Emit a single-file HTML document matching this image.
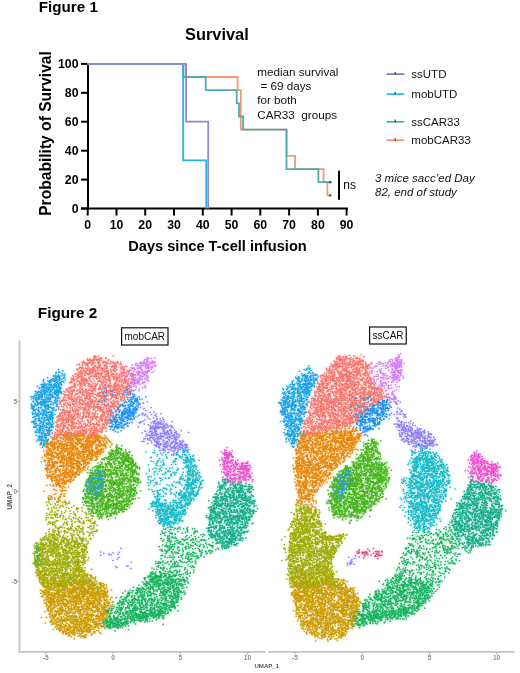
<!DOCTYPE html>
<html><head><meta charset="utf-8"><title>Figure</title>
<style>
html,body{margin:0;padding:0;background:#fff;}
body{width:520px;height:673px;overflow:hidden;position:relative;}
svg{position:absolute;left:0;top:0;display:block;}
</style></head>
<body>
<svg width="520" height="673" viewBox="0 0 520 673">
<g stroke="#000" stroke-width="2" fill="none">
<path d="M88 63.6V209.5M81 208.5H348"/>
<path d="M81 208.5H88"/>
<path d="M81 179.6H88"/>
<path d="M81 150.7H88"/>
<path d="M81 121.7H88"/>
<path d="M81 92.8H88"/>
<path d="M81 63.9H88"/>
<path d="M87.7 208.5V215.5"/>
<path d="M116.5 208.5V215.5"/>
<path d="M145.2 208.5V215.5"/>
<path d="M174.0 208.5V215.5"/>
<path d="M202.8 208.5V215.5"/>
<path d="M231.6 208.5V215.5"/>
<path d="M260.3 208.5V215.5"/>
<path d="M289.1 208.5V215.5"/>
<path d="M317.9 208.5V215.5"/>
<path d="M346.6 208.5V215.5"/>
</g>
<g font-family='"Liberation Sans", Arial, Helvetica, sans-serif' font-weight="bold" font-size="12.3" fill="#000">
<text x="78.5" y="212.6" text-anchor="end">0</text>
<text x="78.5" y="183.7" text-anchor="end">20</text>
<text x="78.5" y="154.8" text-anchor="end">40</text>
<text x="78.5" y="125.8" text-anchor="end">60</text>
<text x="78.5" y="96.9" text-anchor="end">80</text>
<text x="78.5" y="68.0" text-anchor="end">100</text>
<text x="87.7" y="229" text-anchor="middle">0</text>
<text x="116.5" y="229" text-anchor="middle">10</text>
<text x="145.2" y="229" text-anchor="middle">20</text>
<text x="174.0" y="229" text-anchor="middle">30</text>
<text x="202.8" y="229" text-anchor="middle">40</text>
<text x="231.6" y="229" text-anchor="middle">50</text>
<text x="260.3" y="229" text-anchor="middle">60</text>
<text x="289.1" y="229" text-anchor="middle">70</text>
<text x="317.9" y="229" text-anchor="middle">80</text>
<text x="346.6" y="229" text-anchor="middle">90</text>
</g>
<g fill="none" stroke-width="1.8" stroke-linejoin="miter">
<path stroke="#f39a72" d="M87.7 63.9H185.5V77.0H237.6V90.2H240.8V129.6H286.5V155.9H295.1V169.1H323.6V182.2H327.4V195.4H330.2"/>
<path stroke="#4eaeae" d="M87.7 63.9H183.2V77.0H205.7V90.2H236.7V103.3H239.0V116.5H243.1V129.6H286.5V169.1H318.4V182.2H330.2"/>
<path stroke="#22b4ea" d="M87.7 63.9H183.2V160.3H206.2V208.5"/>
<path stroke="#9b84cc" d="M87.7 63.9H186.1V121.7H208.2V208.5"/>
</g>
<circle cx="330.2" cy="182.2" r="1.3" fill="#1d5a6a"/>
<circle cx="330.2" cy="195.4" r="1.3" fill="#a0502a"/>
<path d="M339 170.7V199.7" stroke="#000" stroke-width="2"/>
<text x="343.3" y="188.5" font-family='"Liberation Sans", Arial, Helvetica, sans-serif' font-size="12" fill="#000">ns</text>
<text x="38.8" y="12.4" font-family='"Liberation Sans", Arial, Helvetica, sans-serif' font-weight="bold" font-size="15.2">Figure 1</text>
<text x="185" y="40.4" font-family='"Liberation Sans", Arial, Helvetica, sans-serif' font-weight="bold" font-size="16.4">Survival</text>
<text transform="translate(50.6 215.8) rotate(-90)" font-family='"Liberation Sans", Arial, Helvetica, sans-serif' font-weight="bold" font-size="15.6">Probability of Survival</text>
<text x="128.3" y="251.3" font-family='"Liberation Sans", Arial, Helvetica, sans-serif' font-weight="bold" font-size="14.6">Days since T-cell infusion</text>
<g font-family='"Liberation Sans", Arial, Helvetica, sans-serif' font-size="11.7" fill="#111">
<text x="257.2" y="75.8" xml:space="preserve">median survival</text>
<text x="257.2" y="90.1" xml:space="preserve"> = 69 days</text>
<text x="257.2" y="104.4" xml:space="preserve">for both</text>
<text x="257.2" y="118.7" xml:space="preserve">CAR33  groups</text>
</g>
<path d="M386.6 74.1H404.4" stroke="#7a6aa8" stroke-width="1.6"/>
<path d="M395.2 71.89999999999999V74.6" stroke="#3a2a6a" stroke-width="1.2"/>
<text x="411.3" y="77.9" font-family='"Liberation Sans", Arial, Helvetica, sans-serif' font-size="11.5" fill="#111">ssUTD</text>
<path d="M386.6 94.1H404.4" stroke="#22b4ea" stroke-width="1.6"/>
<path d="M395.2 91.89999999999999V94.6" stroke="#0a4a7a" stroke-width="1.2"/>
<text x="411.3" y="97.9" font-family='"Liberation Sans", Arial, Helvetica, sans-serif' font-size="11.5" fill="#111">mobUTD</text>
<path d="M386.6 121.8H404.4" stroke="#4aa8a8" stroke-width="1.6"/>
<path d="M395.2 119.6V122.3" stroke="#1a4a4a" stroke-width="1.2"/>
<text x="411.3" y="125.6" font-family='"Liberation Sans", Arial, Helvetica, sans-serif' font-size="11.5" fill="#111">ssCAR33</text>
<path d="M386.6 140.2H404.4" stroke="#f09068" stroke-width="1.6"/>
<path d="M395.2 138.0V140.7" stroke="#7a3010" stroke-width="1.2"/>
<text x="411.3" y="144.0" font-family='"Liberation Sans", Arial, Helvetica, sans-serif' font-size="11.5" fill="#111">mobCAR33</text>
<g font-family='"Liberation Sans", Arial, Helvetica, sans-serif' font-style="italic" font-size="11.5" fill="#111">
<text x="375" y="181.6">3 mice sacc’ed Day</text>
<text x="375" y="196.2">82, end of study</text>
</g>
<filter id="bl" x="-5%" y="-5%" width="110%" height="110%"><feGaussianBlur stdDeviation="0.45"/></filter>
<filter id="hz" x="-5%" y="-5%" width="110%" height="110%"><feGaussianBlur stdDeviation="1.6"/></filter>
<defs><g id="dots" fill="none" stroke-linecap="round" stroke-width="6.80" transform="scale(0.25)">
<path stroke="#16b35e" d="M1799 2089h0m-1 20h0m-1145-5h0m67 12h0m977 7h0m84 12h0m-37 0h0m-1065-1h0m-31-10h0m162 23h0m8-7h0m858 8h0m37-6h0m38 0h0m39-6h0m18 10h0m19 8h0m-14 1h0m-2 2h0m-16 2h0m-6-2h0m-96-8h0m-1 2h0m-12 0h0m-885-2h0m-93 4h0m-11-4h0m-17 11h0m-2-7h0m-1 0h0m51 13h0m93-6h0m1021 7h0m16 11h0m-26 0h0m-74 0h0m-22-5h0m-13 2h0m-7-2h0m-61 8h0m-7-1h0m-819-8h0m-41 3h0m-83-1h0m-552 20h0m0 2h0m513-11h0m1-1h0m10 6h0m14 2h0m25 3h0m34-3h0m2 2h0m71-8h0m12 4h0m867 5h0m36-5h0m14 5h0m30-4h0m17 0h0m67 2h0m-55 15h0m-24-9h0m-134-1h0m-800 5h0m-12 1h0m-38-6h0m-79 2h0m-68 5h0m-2-7h0m-493-1h0m-6 9h0m518 5h0m43 0h0m68 2h0m51-1h0m784 2h0m13 3h0m19-6h0m24 6h0m0-7h0m2 4h0m26 5h0m53-9h0m37-2h0m54 7h0m32-3h0m-133 9h0m-19 1h0m-52 2h0m-50-3h0m-814 0h0m-2 3h0m-12 3h0m-47-3h0m-29 5h0m-35-7h0m0 7h0m-20-1h0m0-3h0m-9-4h0m-496 0h0m-6 4h0m542 11h0m29 5h0m899 1h0m72-10h0m67 2h0m51 9h0m29-1h0m-25 13h0m0-3h0m-11 1h0m-21-7h0m-50 7h0m-21-5h0m-976 2h0m-33 3h0m-10 2h0m-555-2h0m18 4h0m475 8h0m54 2h0m86-4h0m934-7h0m41 0h0m36 16h0m-22 1h0m-16 1h0m-19 4h0m-8-6h0m-17-1h0m-22-3h0m-54 3h0m-1 8h0m-11 0h0m-13-8h0m-942-2h0m-9 3h0m-3 1h0m-9-4h0m-26 3h0m15 16h0m61 1h0m18-8h0m16 4h0m31 2h0m837-4h0m18 4h0m4 5h0m11-7h0m21 2h0m8-6h0m70 0h0m14 19h0m-115 3h0m-37-1h0m-847-6h0m-32 8h0m-43-10h0m0 1h0m-14 8h0m-5 1h0m-36-10h0m-3 9h0m10 8h0m1 2h0m2-1h0m9-4h0m6-3h0m11 0h0m6 2h0m76-2h0m860 0h0m10 4h0m5-4h0m67 6h0m40-5h0m-9 20h0m-32-10h0m-17 7h0m-33 4h0m-13-6h0m-7 4h0m-8-3h0m-846 2h0m0 4h0m0-6h0m-1-1h0m-13 2h0m-10 4h0m-16-1h0m-1-8h0m-28 0h0m-17 6h0m-16 0h0m-4-7h0m-4 4h0m-4 4h0m-14-2h0m-34 13h0m1 0h0m25 1h0m18 0h0m20 1h0m24-8h0m38 1h0m851 7h0m0-4h0m20-3h0m32 7h0m15-1h0m1-6h0m32 0h0m4 2h0m21-4h0m3 6h0m25-2h0m8 16h0m-3-1h0m-16-3h0m-4-4h0m-30 4h0m-45-2h0m-6 0h0m0-2h0m-1 3h0m-49 2h0m-6 2h0m-2 2h0m0-5h0m-805 3h0m-15-5h0m-38 2h0m0 4h0m-22-7h0m-35 4h0m-9 1h0m-5-2h0m-9 4h0m-2-9h0m-3 12h0m-20-10h0m-39 10h0m-4 9h0m6-9h0m28 5h0m30 0h0m107 3h0m796 0h0m16-3h0m13-4h0m9 0h0m7 10h0m44-10h0m64 10h0m12-10h0m8 7h0m1 2h0m26-9h0m10 10h0m26-5h0m-19 7h0m-12 4h0m-7 0h0m-24 1h0m-34-1h0m-22 1h0m-16-1h0m-4 5h0m-2-7h0m-3-2h0m-33 1h0m-28 9h0m-2-2h0m-13-7h0m-14 0h0m-15 1h0m-834-1h0m-10-2h0m-2 9h0m-2-2h0m-5-1h0m-33-6h0m-18 2h0m-50 5h0m-6 2h0m-21-3h0m42 13h0m16-1h0m12-6h0m1 8h0m53-2h0m8 1h0m33 2h0m12-6h0m41-2h0m774 7h0m37-7h0m57 9h0m11-4h0m1-1h0m14 2h0m13-3h0m1-3h0m70 17h0m-8 1h0m-21 4h0m-17 0h0m-5-11h0m-21 4h0m-5-2h0m-57 10h0m-15-6h0m-45-1h0m-3 2h0m-20-1h0m-2-6h0m-787 1h0m-3 0h0m-11 3h0m-6 1h0m-4 5h0m-23 1h0m-12-1h0m-12 0h0m-32 0h0m-11 0h0m-26-8h0m-30 6h0m-42-7h0m-19 13h0m49 5h0m12 3h0m39-7h0m27 8h0m28-1h0m13-8h0m19 0h0m25 4h0m6 4h0m3 1h0m7-2h0m752-9h0m3 12h0m14-3h0m2 0h0m33-7h0m34 3h0m20 4h0m37-7h0m20-1h0m4 6h0m29 3h0m7-2h0m2-1h0m5 4h0m29-7h0m-14 11h0m-13 6h0m-1-7h0m-36 8h0m-1-1h0m-27-4h0m0 6h0m-15-7h0m-2-1h0m-5-1h0m-26 2h0m-19 3h0m0-3h0m-5 1h0m-12 1h0m-29-2h0m-27 5h0m-754 2h0m-17-10h0m-1 10h0m-6-5h0m0-4h0m-2-1h0m-32 1h0m-5 0h0m-40 9h0m-5-6h0m-18-1h0m-19-1h0m-37-3h0m-39 5h0m-21-1h0m-1 13h0m7 4h0m13 1h0m28-7h0m17 6h0m4 1h0m2-8h0m10 5h0m13-4h0m8 3h0m8 5h0m25-4h0m31-3h0m43 1h0m2-2h0m772-2h0m12 7h0m9-7h0m57 8h0m61-5h0m13 7h0m0-8h0m9 4h0m22 1h0m5-5h0m4 4h0m4-6h0m10 9h0m11-4h0m4-2h0m2 9h0m-5 6h0m-5 1h0m-15-7h0m-16 5h0m-11-3h0m-59 4h0m-57 5h0m-1-4h0m-2 3h0m-4-6h0m-6 6h0m-19-3h0m-791-2h0m-6-5h0m-30 3h0m-5 4h0m-13-4h0m-25 6h0m-44-9h0m-20 11h0m-6-7h0m-2 5h0m-52-7h0m-15-2h0m-23 19h0m15-5h0m20 5h0m2-6h0m1 2h0m21 1h0m6-2h0m4 2h0m21 0h0m19 4h0m3 1h0m4-1h0m4 3h0m8-9h0m1 6h0m30-9h0m24 10h0m10-7h0m1 8h0m6-9h0m5 3h0m783-2h0m3 8h0m19-1h0m20 1h0m5-2h0m11-7h0m16 9h0m22-5h0m7-5h0m4 11h0m8-8h0m7 5h0m7 0h0m10-8h0m0-1h0m2 11h0m0-5h0m4-5h0m19 1h0m19 10h0m8-8h0m2 7h0m15-8h0m6-1h0m7 5h0m-58 10h0m-18 2h0m-20-5h0m-6 7h0m-25 3h0m-15-4h0m-4-6h0m-2 1h0m-4 7h0m-15-3h0m-2-3h0m-3-1h0m-12 8h0m-7-9h0m-4-1h0m-4 8h0m-6-5h0m-5-3h0m-21 5h0m-11 5h0m-761 0h0m-13-7h0m-2 2h0m-3-5h0m-4-1h0m-2 4h0m-11-1h0m-27 7h0m-14 1h0m-2-2h0m-1 1h0m-18-8h0m-7 5h0m-3-4h0m-15 3h0m-42 1h0m-14 0h0m-32-2h0m-16 16h0m36-2h0m24 1h0m14-2h0m4-2h0m17-4h0m9 9h0m2-3h0m3 0h0m54-2h0m23 8h0m17-5h0m2-7h0m790 6h0m2 4h0m15-1h0m7-5h0m8-4h0m0 1h0m2 10h0m5-5h0m1 3h0m15-8h0m1 1h0m0 5h0m0 0h0m4-1h0m22-4h0m7-1h0m3-1h0m16 9h0m58-5h0m18-1h0m-111 12h0m-37 4h0m-5-3h0m-2-1h0m-20-1h0m-6-2h0m-884 6h0m-32 1h0m-22 1h0m-32-3h0m-4 4h0m-1-7h0m-3 3h0m-1-2h0m-1 5h0m-2 4h0m-4-10h0m-4 5h0m-2-5h0m0-1h0m-13 8h0m10 9h0m16 2h0m23-5h0m8-3h0m21 6h0m16-6h0m932 4h0m-4 11h0m-948-1h0m-18 0h0m-5-1h0m-7 15h0"/>
<path stroke="#14ad88" d="M1884 1918h0m-981 1h0m-5-2h0m0 2h0m-7-1h0m6 12h0m1 0h0m25-6h0m974 3h0m38 13h0m-6-4h0m-3 5h0m-13-8h0m-908 11h0m-6-6h0m-15-4h0m-25 5h0m-5-5h0m-12 7h0m-2 0h0m-36-1h0m-8-3h0m-18 3h0m22 14h0m53 0h0m8 2h0m9-3h0m24-7h0m5 1h0m875 6h0m12 2h0m19-6h0m0 6h0m10-5h0m14-4h0m6 5h0m12-3h0m14-3h0m28 16h0m-14 0h0m-20 4h0m-30 2h0m-922 0h0m-43-4h0m-7 0h0m-3 4h0m-22-1h0m-19 2h0m-4 0h0m-1-9h0m-6 13h0m0 5h0m25 2h0m15 0h0m9-9h0m9 7h0m25 3h0m890-1h0m5-4h0m19-2h0m5-1h0m21 6h0m13 0h0m4-6h0m4 2h0m6-3h0m11 1h0m23 4h0m4 16h0m-14 0h0m-7-12h0m-12 12h0m-20-9h0m-33-2h0m-5 4h0m-20 4h0m-6 2h0m-13-5h0m-891 4h0m-1-7h0m-5 1h0m-3 7h0m-26-9h0m-3 8h0m-9 0h0m-34-2h0m-1 1h0m-10-8h0m-8 17h0m21-5h0m4 8h0m2-2h0m3-5h0m7 2h0m42-3h0m3 4h0m1-4h0m30 8h0m7 1h0m2 0h0m5-9h0m876 1h0m6 2h0m17-1h0m16-2h0m1 3h0m8 4h0m1-4h0m23 7h0m22-7h0m2-2h0m21 10h0m-74 11h0m-6 0h0m-4-11h0m-12 2h0m-62 5h0m-830-4h0m-12 1h0m-33 5h0m-2-4h0m-5 2h0m-18 1h0m-3 4h0m-5-5h0m-7 4h0m-41 3h0m6 6h0m3-6h0m7 10h0m22-5h0m9 1h0m6 0h0m3-1h0m9 5h0m9-12h0m8 9h0m12 3h0m12-3h0m14-5h0m885 3h0m4-6h0m2 2h0m3 1h0m21 8h0m20-9h0m5 2h0m7 0h0m45-3h0m14 7h0m9-4h0m-6 16h0m-28 2h0m-8-5h0m-33-6h0m-22 5h0m0 0h0m-12 2h0m-2 1h0m-27-2h0m-1-6h0m-8 5h0m-10-1h0m-1 0h0m0 2h0m-6 1h0m-841 5h0m-4-4h0m-23 2h0m-109-5h0m-12 6h0m-12-1h0m0 5h0m9-1h0m8 7h0m3 2h0m65-2h0m21-8h0m2 8h0m1-6h0m14 6h0m6-5h0m7 3h0m4 2h0m0 3h0m4-10h0m23 5h0m819 2h0m1-1h0m9 0h0m14 4h0m11-2h0m15 0h0m6 0h0m63-4h0m0-3h0m19 7h0m31-1h0m27-6h0m-32 13h0m-20 1h0m-12 3h0m-5 1h0m-14-1h0m-29-4h0m-24 0h0m-15 5h0m-7-4h0m-1 4h0m-20-4h0m-33 4h0m-828-7h0m-10 0h0m0 4h0m-12 1h0m-44-7h0m-9 3h0m-31 5h0m-11-1h0m-2-1h0m-25 9h0m3 1h0m2-2h0m10 6h0m24 0h0m13-3h0m5 3h0m23-7h0m1 5h0m4 2h0m10 2h0m3-7h0m5-3h0m8 3h0m2 9h0m2-11h0m18 7h0m10-2h0m1-4h0m840 7h0m8-8h0m27 7h0m42-1h0m15 1h0m30-7h0m4 5h0m49 0h0m-11 11h0m-42 5h0m-21 1h0m-44-11h0m-3 2h0m-6 4h0m-884 1h0m-1 5h0m-16-10h0m-13 5h0m-9-1h0m-19 5h0m-3-10h0m-12 1h0m0 4h0m-29-5h0m-10 11h0m-16-10h0m-8 5h0m-4-5h0m-7 1h0m-3 20h0m2-3h0m12-2h0m31-5h0m16 2h0m64 6h0m7 0h0m23-4h0m856-4h0m14 8h0m24 1h0m14 2h0m1-6h0m46-2h0m16-2h0m20 2h0m4 10h0m-28 9h0m-6-10h0m-20 1h0m-19 6h0m-7-1h0m-37 2h0m-12 1h0m0-6h0m-7-3h0m-8 9h0m-17-4h0m-13-4h0m-839 4h0m-22 4h0m-30-3h0m-4-5h0m-7 8h0m-21 1h0m-7-9h0m-45 8h0m-10 3h0m5 10h0m25-8h0m38-1h0m3-2h0m3 10h0m7 0h0m22 1h0m15-1h0m47 1h0m813-3h0m15-3h0m5 0h0m19 5h0m9-2h0m5-2h0m31-4h0m3-1h0m24 3h0m27 0h0m0-3h0m1 10h0m8 0h0m2-7h0m3 1h0m10 2h0m7-7h0m-1 24h0m-81-5h0m-18 3h0m-15-7h0m-3-2h0m-12 4h0m-4-2h0m-885 6h0m-1 2h0m-22-2h0m-13-9h0m-4 3h0m-3 5h0m-6 0h0m-59 11h0m6-2h0m13-3h0m7 8h0m1 2h0m16-2h0m7-5h0m32 5h0m0-8h0m6 7h0m2-7h0m21 4h0m885 3h0m10-6h0m8-1h0m19 8h0m15-5h0m42 5h0m24-3h0m8-6h0m-20 18h0m-7-3h0m-12 2h0m-29 4h0m-8-5h0m-17 1h0m-10 1h0m-928 0h0m-12-3h0m-8 6h0m-2 0h0m-26-8h0m-41 2h0m-3-3h0m23 17h0m31 2h0m24-1h0m1-5h0m946 2h0m6 5h0m1 2h0m9-6h0m1 7h0m41-11h0m23 4h0m5 4h0m-33 15h0m-7-2h0m-15 0h0m-977-3h0m-15-4h0m-8 8h0m-6 1h0m-33-10h0m49 15h0m972 6h0m25-9h0"/>
<path stroke="#16b9c8" d="M1689 1799h0m-1-3h0m-1016 14h0m976-2h0m104 14h0m-6-7h0m-34 1h0m-63 2h0m-875 3h0m-27 2h0m-16-5h0m-18 1h0m-83 0h0m-27 10h0m99 6h0m46-4h0m19 4h0m898-7h0m4-1h0m0 2h0m3 2h0m17 2h0m20-8h0m23 10h0m2-2h0m11-4h0m-9 17h0m-10-8h0m-1 9h0m-5-11h0m-9 8h0m-4-3h0m-13-2h0m-14 3h0m-3-2h0m-13 7h0m-24-4h0m-875 3h0m-19 2h0m-7-7h0m-105 0h0m21 18h0m83-7h0m15 7h0m920-1h0m42-8h0m6-1h0m7 11h0m1-10h0m42 7h0m-37 12h0m-2-7h0m-15 2h0m-6-1h0m-14-1h0m-4 2h0m-2 4h0m-24 3h0m-8-9h0m-878 0h0m-26 3h0m-3-2h0m-2 8h0m-60 0h0m-64-10h0m15 15h0m24-2h0m90 0h0m8 3h0m12 5h0m0-10h0m15 11h0m869 0h0m1-7h0m6 1h0m23 0h0m4 3h0m15-7h0m18 9h0m14-9h0m7 2h0m12 2h0m29 16h0m0 3h0m-21-8h0m-18 6h0m-4-8h0m-10 2h0m0 1h0m-16-4h0m-5 1h0m-4 0h0m-4-2h0m0 9h0m-4-1h0m-10 4h0m-12-3h0m-14-5h0m-878 5h0m-16-7h0m-2-1h0m-10 7h0m-55-1h0m-83-5h0m142 15h0m892-5h0m1 4h0m0 3h0m7 1h0m46-6h0m22 6h0m3 4h0m37-6h0m8 8h0m0 0h0m-27 1h0m-60 8h0m-3-11h0m-31 9h0m-10-7h0m-852 6h0m-38 2h0m-4-8h0m-4 9h0m-88-7h0m-69 6h0m9 10h0m26 2h0m119 1h0m23-9h0m6 9h0m2-10h0m10 10h0m13-1h0m849-6h0m39 8h0m15-11h0m28 0h0m13 1h0m2 8h0m18 1h0m24-7h0m10 0h0m-3 10h0m-9 6h0m-3 3h0m-17-7h0m-9 2h0m-5-2h0m-17-1h0m-20 2h0m-6 1h0m-14 0h0m-8 4h0m-39 1h0m-8-7h0m-9 2h0m-9-5h0m-838 9h0m-118-3h0m-28-3h0m-14 1h0m109 19h0m4-8h0m31 3h0m14-2h0m21 3h0m865 4h0m7-9h0m7-2h0m4 1h0m2-2h0m28 11h0m3-7h0m1-2h0m6 1h0m3 7h0m15 2h0m5-4h0m28 15h0m-47-8h0m-33 7h0m-13-8h0m-43 8h0m-868-1h0m-3-5h0m-156 16h0m80 0h0m11-7h0m10 10h0m20-7h0m2 1h0m3 5h0m17 0h0m19 0h0m10-6h0m890 3h0m5 2h0m10-6h0m13 8h0m57 0h0m21-2h0m-44 6h0m-4 8h0m-13-4h0m-6 2h0m-25-7h0m-23-2h0m-1 5h0m-1-4h0m-22 0h0m-22 8h0m-845-5h0m-3-4h0m-22 5h0m-14 0h0m-5-5h0m-4 6h0m-2-2h0m-1 0h0m-92 0h0m-15 3h0m38 13h0m45 2h0m31-7h0m30 3h0m919 4h0m4 2h0m24-8h0m30 0h0m0 0h0m2 6h0m61-6h0m-49 10h0m-1 10h0m-1-7h0m-9 5h0m-4-3h0m-35 1h0m-5 0h0m-12-7h0m-4 6h0m-41-7h0m-889 8h0m-11-3h0m-2 7h0m-22-6h0m-5 1h0m-6-2h0m-76-1h0m-13 3h0m-14 16h0m26-4h0m2 4h0m8-1h0m22 2h0m12-4h0m48-2h0m25-4h0m8 0h0m893 6h0m40-1h0m13 3h0m25-7h0m32 8h0m0-9h0m3 7h0m-2 3h0m-17 2h0m-41 8h0m-1-8h0m-13-2h0m-6 7h0m-8-6h0m-2 11h0m-2-3h0m-3 1h0m-11-6h0m-4 1h0m-925-1h0m-5-1h0m-27-2h0m-4 2h0m-24 6h0m-20-5h0m-17-4h0m-1 2h0m-18 13h0m17 9h0m9-5h0m12-7h0m11 8h0m2-7h0m8 2h0m8 9h0m1-7h0m12 5h0m12-9h0m2 1h0m2 9h0m9 0h0m5-3h0m19-8h0m893 5h0m2-3h0m12 2h0m19 5h0m16 1h0m17-7h0m11 5h0m16-3h0m23 5h0m2 4h0m-18 0h0m-13 10h0m-12-1h0m-6-3h0m0 0h0m-1-1h0m-7-1h0m-17 6h0m-10-2h0m-19-2h0m0 3h0m-908-4h0m-26 1h0m-17-7h0m-38 2h0m1 16h0m3 5h0m9-8h0m961 4h0m23-6h0m58 0h0m11-1h0m6 8h0m8-4h0m11 5h0m12 11h0m-25 0h0m-5-5h0m-34 4h0m-20-1h0m-9 1h0m-6-6h0m-5 6h0m-941-4h0m-15 1h0m-26 6h0m-2-8h0m-16 3h0m-5 4h0m-11-3h0m-2 11h0m22-4h0m7 8h0m7-2h0m3 3h0m2-8h0m4 0h0m8 5h0m1004-1h0m2 1h0m21 1h0m17-8h0m-44 20h0m-14-2h0m-1 2h0m-3-1h0m7 6h0m19 3h0"/>
<path stroke="#8d7ef2" d="M568 1596h0m1008-4h0m6-3h0m12 14h0m-37-3h0m-984 12h0m987-1h0m-998 19h0m1028 16h0m-974 2h0m-59 12h0m32 4h0m1030-1h0m-31 9h0m-947 3h0m-12 0h0m-49 4h0m52 8h0m985 15h0m-12-2h0m-9 1h0m-956-9h0m-14 3h0m-2 9h0m-23-2h0m14 14h0m8-4h0m18-4h0m4 2h0m2 1h0m10 5h0m7-6h0m12-6h0m10 6h0m930-4h0m11-1h0m17 4h0m3 4h0m-7 11h0m-4 0h0m-2-6h0m-19 5h0m-910 4h0m-20-2h0m0-3h0m-65-3h0m-1 5h0m-22 16h0m11-6h0m25 5h0m17-6h0m17-1h0m1-2h0m6 6h0m11-7h0m69 1h0m856 1h0m43 8h0m18-10h0m1 1h0m4 8h0m9-3h0m38 3h0m3-2h0m-2 14h0m-38-10h0m-17 11h0m-3-5h0m-968 2h0m-56-7h0m-9 5h0m-16-6h0m-12 9h0m-21-5h0m8 13h0m63 4h0m951-1h0m24-7h0m5 5h0m28-4h0m16 6h0m37 3h0m14 8h0m-9-1h0m-12 5h0m-8-11h0m-41 9h0m-41-6h0m-885-1h0m-29 6h0m-9-4h0m-12 5h0m-27 2h0m-22 0h0m-44-1h0m-16-9h0m53 14h0m6 6h0m23 1h0m5-10h0m3 5h0m0 5h0m14-2h0m19-1h0m31-2h0m8-1h0m6 6h0m913-2h0m32-4h0m13 3h0m3 2h0m15-4h0m31-1h0m-49 11h0m-13-2h0m-6 4h0m-954-2h0m-1-1h0m-15 3h0m-15-4h0m-37 0h0m-25 1h0m3 13h0m16-2h0m30-1h0m-201 393h0m-47 26h0m41-10h0m-14 57h0m60 8h0"/>
<path stroke="#d57cf2" d="M1597 1425h0m3 15h0m-2-12h0m-5 11h0m-3-8h0m-1001 18h0m21-5h0m946 2h0m35 4h0m25 3h0m-13 10h0m-7-6h0m-5-5h0m-12 8h0m-4-2h0m-3-6h0m-6 5h0m-6 7h0m-13-2h0m-955 2h0m-22-8h0m-42 17h0m32-5h0m3 1h0m27 1h0m5 1h0m13-1h0m3-5h0m979 4h0m17 11h0m-3 8h0m-13-5h0m-11 0h0m-11-5h0m-951 6h0m-63 3h0m-12 13h0m17-11h0m913 9h0m14-5h0m96 5h0m13-8h0m0 2h0m-3 9h0m0 6h0m-13 1h0m0-4h0m-4-1h0m-30 0h0m-23 7h0m-9-5h0m-952-1h0m-20 5h0m-11-7h0m-34 13h0m4 2h0m38 6h0m17-3h0m13-2h0m9-3h0m1035-2h0m-42 12h0m-29 6h0m-8-1h0m-51-3h0m-927 7h0m-7-2h0m-18-1h0m30 6h0m935 1h0m32 8h0m18-6h0m41 8h0m-20 3h0m-67 2h0m-922-5h0m-20 9h0m-31 2h0m-29 5h0m1048-3h0m32 2h0m-5 11h0m-21 17h0m27 16h0"/>
<path stroke="#ec52cd" d="M899 1802h0m7 10h0m17-1h0m6-8h0m984 20h0m-8-11h0m-8 8h0m-971 2h0m-3-5h0m-9 1h0m-9-1h0m-6 3h0m0-2h0m-3-4h0m11 19h0m2-7h0m1 6h0m1-1h0m6-7h0m10 2h0m5 1h0m958 5h0m38-6h0m7 16h0m-10 2h0m-13-4h0m0 1h0m-1 3h0m-5-5h0m-955 2h0m-8 4h0m-21 1h0m-5 0h0m-8 5h0m20-1h0m61 4h0m901-3h0m6-2h0m28 1h0m27 4h0m49 15h0m-12 2h0m-7-1h0m-25-2h0m-1-2h0m-14 3h0m-26-5h0m-914 6h0m-16-4h0m-1-3h0m-6 7h0m-13-6h0m-72-4h0m-2 16h0m16 7h0m11-4h0m3-3h0m2 8h0m14-1h0m17-5h0m18-1h0m0-1h0m1 0h0m11 7h0m915-11h0m1 4h0m16 7h0m11-6h0m18 2h0m2-4h0m9-3h0m14 8h0m1-3h0m1-1h0m7 3h0m1 3h0m12-1h0m-4 6h0m-47 7h0m-20-6h0m-42 5h0m-889 0h0m-5-5h0m-15-1h0m-3 7h0m-6-1h0m-5-6h0m-49 7h0m22 4h0m30 5h0m16-2h0m2-3h0m20 10h0m3-7h0m907-3h0m3 6h0m17-6h0m18 4h0m19 0h0m10 0h0m16 5h0m0 2h0m-25 9h0m-31-8h0m-42 0h0m-884 9h0m-52-9h0m-11 3h0m-11 2h0m-5 1h0m-3 1h0m-23-2h0m17 8h0m63-1h0m961-2h0m13 7h0m14-2h0"/>
<path stroke="#cc9b06" d="M324 2278h0m-129 8h0m38-3h0m13 7h0m56-8h0m14 0h0m1014 12h0m-19-1h0m-5 7h0m-91-6h0m-10 2h0m-841 5h0m-39-3h0m-10 2h0m-14 1h0m-52-6h0m-63 6h0m18 14h0m1006-3h0m64-7h0m99 16h0m-35 4h0m-16 2h0m-6-5h0m-25 3h0m-24-6h0m-71 0h0m-840 1h0m-17 5h0m-40-8h0m-31 2h0m-6 5h0m-19 9h0m3 1h0m24 5h0m26-6h0m13 6h0m13-2h0m36 1h0m9-5h0m11-5h0m27 4h0m792 0h0m18-2h0m41 5h0m6 3h0m1-4h0m1 2h0m28-2h0m6-2h0m10-4h0m20 11h0m0-2h0m25-1h0m7-7h0m11 0h0m1 3h0m46 19h0m-53-1h0m-4-10h0m-3 10h0m-3-8h0m-9 4h0m-1 4h0m-8-1h0m-11-9h0m-6 7h0m0 4h0m-5-2h0m-1-3h0m-19-5h0m-12 1h0m-11 5h0m-14 0h0m-4-3h0m-21-4h0m-7 3h0m-1-2h0m-8 3h0m-6 6h0m-14-9h0m-15-1h0m-6 3h0m-780 7h0m-6-2h0m-26-2h0m-3-1h0m-12 0h0m-15-4h0m-1 3h0m-2 1h0m-30 4h0m-8-1h0m-14-8h0m-10 7h0m-24-2h0m-6-1h0m-22 0h0m-18 5h0m-12-5h0m-7 3h0m-5-1h0m-14 15h0m24 2h0m41 1h0m23-1h0m10-6h0m23-2h0m6 3h0m11 2h0m23-4h0m6-3h0m8 0h0m17 9h0m28-9h0m10 8h0m14-5h0m1 7h0m7 0h0m3 0h0m3-9h0m775 3h0m72 5h0m1-6h0m7 0h0m13 7h0m47-3h0m66 2h0m0-5h0m30 16h0m-49-4h0m-18 4h0m-5-4h0m-1 3h0m-46 4h0m-10-12h0m-10 9h0m-7-7h0m-4 7h0m-4-8h0m-17 8h0m-28-6h0m-12-1h0m-20 2h0m-28 8h0m-742-7h0m-8-4h0m-2 8h0m-20-2h0m-6-2h0m-2 5h0m-1-6h0m-4 0h0m-6 6h0m-6 2h0m-1-1h0m-11-5h0m-12 1h0m-2-3h0m-16 4h0m-4-1h0m-23-4h0m-12 3h0m-3-5h0m-7 4h0m-2-4h0m-23 3h0m-15-3h0m-1 1h0m-10 0h0m-33 4h0m-19 5h0m-7-8h0m27 10h0m9 4h0m6 2h0m0 4h0m10-11h0m5 0h0m20 7h0m11 1h0m17 2h0m7-10h0m26 3h0m4-1h0m8-1h0m8 8h0m4-3h0m2 2h0m22-2h0m8-4h0m22 0h0m6 3h0m0-5h0m18 2h0m7 0h0m746 2h0m25-3h0m4 10h0m36-4h0m3-4h0m0 8h0m92 0h0m2-1h0m7-8h0m13 1h0m24-3h0m9 3h0m18 0h0m0 3h0m9 2h0m13-1h0m13 13h0m-4-2h0m-15-5h0m-14 1h0m-3-1h0m-12 2h0m-17 5h0m-4 1h0m-54-6h0m-16 1h0m-11 6h0m-12 0h0m0-6h0m-8-1h0m-7 1h0m-3 6h0m-5-4h0m-11 5h0m-9-1h0m-2-4h0m-17 5h0m-12-2h0m-1-2h0m-10 1h0m-1-8h0m-1 3h0m-2 3h0m-735-5h0m-35 0h0m-11 0h0m-1 9h0m-7 1h0m-11-7h0m-4 4h0m-28-6h0m-1 9h0m-5-3h0m-25 0h0m-10-7h0m-13 2h0m-38 8h0m-27-5h0m-38-4h0m-1 10h0m-1-9h0m-4 16h0m13 3h0m1-5h0m4 1h0m5 3h0m66-8h0m3 0h0m12 4h0m4 2h0m17-4h0m0 8h0m10-11h0m28 8h0m11 0h0m10-6h0m15-1h0m9 0h0m1 1h0m2 6h0m1 1h0m786-1h0m1-4h0m5-3h0m24 3h0m12 7h0m12-9h0m7 9h0m0-6h0m3 5h0m23-8h0m25 0h0m38 1h0m10 6h0m4 2h0m1 0h0m39-4h0m2-1h0m0 0h0m1-5h0m5 2h0m12 7h0m5-4h0m11 2h0m10 15h0m-8-3h0m-3-5h0m-35 8h0m-2-7h0m-2-2h0m-41 4h0m-2 5h0m-1-3h0m-6-5h0m-36 4h0m-2 0h0m-11-5h0m-28 3h0m-3-1h0m-8 1h0m-21-2h0m-23-2h0m-16 11h0m-4-2h0m-751 0h0m-4-8h0m-29 1h0m-4 0h0m0 3h0m-45-5h0m-44 3h0m-1-1h0m-24 1h0m-17-1h0m-10 7h0m-16-2h0m-17-1h0m-18 1h0m-2-8h0m-8 16h0m21 7h0m9-9h0m74 10h0m1-5h0m11-3h0m16-2h0m47 3h0m3-4h0m17 5h0m12 2h0m40 0h0m747 0h0m5-2h0m19 5h0m16-6h0m16 5h0m12-3h0m22 2h0m1-4h0m2 2h0m35 0h0m15-4h0m2 3h0m17-4h0m17-2h0m1 9h0m5-3h0m17 5h0m12-10h0m15 1h0m4 8h0m1-6h0m-3 18h0m-8-3h0m-8-4h0m-24 6h0m-7-5h0m-6-2h0m0 7h0m-4-4h0m-1 0h0m-21-4h0m-21 6h0m-12 0h0m-10-2h0m-4 3h0m-8-4h0m-11 7h0m-5-6h0m-3 5h0m-12-2h0m-35-4h0m-50 3h0m-746-1h0m-3 3h0m0-6h0m-8 7h0m-19-10h0m-1 9h0m-7-6h0m-13 7h0m-5-5h0m-9 6h0m-20-2h0m-8 2h0m-12-7h0m-9 2h0m-15-6h0m-19 9h0m-19-1h0m-23-7h0m-27-1h0m-30 10h0m65 5h0m14 8h0m10-2h0m52-2h0m12 4h0m11-2h0m5-4h0m8 6h0m4-1h0m5 1h0m9 0h0m41-7h0m19 2h0m767-3h0m7-1h0m15 4h0m49 2h0m7-3h0m4 3h0m11 1h0m4-3h0m31 0h0m36-2h0m50-1h0m1 8h0m9-10h0m0 13h0m-12 0h0m-51 7h0m-13-4h0m-4 5h0m-18-5h0m-25 3h0m-12 1h0m-13-5h0m-10 4h0m-12-7h0m-9 0h0m-11 2h0m-4 0h0m-32 2h0m-15 0h0m-801 0h0m-20-2h0m-22 7h0m-36 1h0m-6-7h0m-2 5h0m-1-8h0m-1 8h0m-19-5h0m-19 8h0m-36-12h0m-36 9h0m60 13h0m4-6h0m6 8h0m10-5h0m10-3h0m6-4h0m27 11h0m15-9h0m0 7h0m20 0h0m4-7h0m5 9h0m7-2h0m13-3h0m23 5h0m11-3h0m848-1h0m7-1h0m8 2h0m13-2h0m3 3h0m25 2h0m8-10h0m7 7h0m18-8h0m9 5h0m7 6h0m21-7h0m20 3h0m12-3h0m2 8h0m5 10h0m-57-5h0m-6 3h0m-2 0h0m-12-2h0m-1 3h0m-18 3h0m-13-7h0m-33 0h0m-40 0h0m-13-1h0m-7 4h0m-2 3h0m-2-9h0m-831 2h0m-33 3h0m-12 2h0m0 0h0m-8 1h0m-7-7h0m-15 5h0m-23-1h0m-19-1h0m-23 5h0m-8-7h0m-2-1h0m0 11h0m7 6h0m4-3h0m8 5h0m8-3h0m7 2h0m44-5h0m6-1h0m1 6h0m5-8h0m1 2h0m26 1h0m4-1h0m26 5h0m54-5h0m777 2h0m9-3h0m2 2h0m17 4h0m4 2h0m12-5h0m7 1h0m24 5h0m12-5h0m3-2h0m3 2h0m4-2h0m13 2h0m42-3h0m10 1h0m6-3h0m5 4h0m12-5h0m11 4h0m2 14h0m-5-4h0m-23 0h0m-6 2h0m-3 5h0m-3 2h0m-4-5h0m-33-3h0m0 5h0m-5-2h0m-60 3h0m-26 0h0m-879-7h0m-8 3h0m-2-3h0m-35-1h0m-6 8h0m-3-6h0m-4-2h0m-8 1h0m-3 8h0m-5-10h0m-13 4h0m-32-1h0m-8 5h0m-21 2h0m25 5h0m32-2h0m11 1h0m12 1h0m13 4h0m87-4h0m863 4h0m12 2h0m3 1h0m20-7h0m23 5h0m30-1h0m9 3h0m5-4h0m27-1h0m-12 13h0m-5-6h0m-28 3h0m-7 0h0m-9 6h0m-25-2h0m-1 1h0m-2-2h0m0 3h0m-2-1h0m-35-1h0m-14-5h0m-906 7h0m-18 0h0m-2-5h0m-10-2h0m-37 9h0m-10-8h0m21 11h0m988 2h0m16-1h0m37 1h0m25 14h0"/>
<path stroke="#9dac08" d="M189 2021h0m43-1h0m17 0h0m47 3h0m892-4h0m27 6h0m51 12h0m-21 2h0m-2-6h0m-19-3h0m-23 4h0m-873-3h0m-110 1h0m111 12h0m889 7h0m45-2h0m14-9h0m-15 15h0m-39 0h0m-14 1h0m-864-3h0m-42 9h0m-2-4h0m-54-4h0m-19 1h0m-9 5h0m12 9h0m46-4h0m75 6h0m824 2h0m30 1h0m6-4h0m4-6h0m1 7h0m12-3h0m2 1h0m40 0h0m5 14h0m-37-5h0m-11 4h0m0-4h0m0 5h0m-5 0h0m-3 2h0m-9-6h0m-38 8h0m-839-3h0m-46 0h0m-3-7h0m-24 1h0m-37 6h0m-12 14h0m4-1h0m4-7h0m114 5h0m829 0h0m25-2h0m9 2h0m3 4h0m17-6h0m4-4h0m2 5h0m7 2h0m4 1h0m3-4h0m16 6h0m9 1h0m-19 2h0m-17 3h0m-850-3h0m-45 7h0m-13-4h0m-74 1h0m-21 2h0m46 6h0m4 5h0m10-5h0m4 2h0m25 6h0m20-8h0m38 2h0m17 6h0m790-4h0m2 0h0m43-6h0m9 11h0m23-3h0m2 2h0m117 14h0m-69-6h0m-83-5h0m-7 1h0m-3-1h0m-9 8h0m-18-1h0m-3 4h0m-813-9h0m-35 6h0m-74-1h0m-1-6h0m-43 5h0m-2-2h0m15 9h0m26 4h0m16 4h0m898-7h0m2 1h0m1-1h0m9 4h0m18-5h0m3 3h0m5-5h0m12 9h0m9 2h0m22-10h0m31 11h0m30-1h0m10 0h0m20-2h0m17 1h0m17-7h0m-39 16h0m-5 5h0m-6-2h0m-8 1h0m-4 1h0m-9-10h0m-12 4h0m-2 2h0m-2-8h0m-18 8h0m-8 1h0m-18-6h0m-12 5h0m-2-5h0m-3-3h0m-16 10h0m-5 2h0m-4-1h0m-5-11h0m-10 11h0m-23-3h0m-37 3h0m-804-7h0m-56 3h0m-18 1h0m-16-4h0m-3-3h0m-19 0h0m-1 0h0m-15-1h0m-22 4h0m26 15h0m35 2h0m36 0h0m4-2h0m1-2h0m2 6h0m2 0h0m22-8h0m33 0h0m825 4h0m8 2h0m8-8h0m28 4h0m5 3h0m6 2h0m7 0h0m44-4h0m3 2h0m7-2h0m4 4h0m2-5h0m38 5h0m38-6h0m-2 9h0m-4 11h0m-18-10h0m-23 8h0m-6-2h0m-5-2h0m-58 3h0m-10-6h0m-6 3h0m-20 1h0m-3 4h0m-15 1h0m-2-3h0m-7-5h0m-8 3h0m-8 2h0m-809-8h0m-14 11h0m-16-5h0m-1-4h0m-23 3h0m-12 4h0m-23-5h0m-17 0h0m-18 0h0m-4 3h0m-8-6h0m-2 6h0m-15 0h0m-44-2h0m1 15h0m11 1h0m48-8h0m11 6h0m23 1h0m53-6h0m35-2h0m5 2h0m823 9h0m9-11h0m23 11h0m3-11h0m3 10h0m9 0h0m3-9h0m24-2h0m48 5h0m2-2h0m13 7h0m1-6h0m5 6h0m25-8h0m2-1h0m-9 23h0m-15-5h0m-11 1h0m0 0h0m-11-4h0m-2 6h0m-4-1h0m-2-1h0m-1 2h0m-1-1h0m-11 1h0m-16 0h0m-19 0h0m-17-8h0m0 0h0m-13 4h0m-3-3h0m-3 9h0m-24-6h0m-8 5h0m-6-9h0m-811 9h0m-71-2h0m-4-1h0m-10 1h0m-8-1h0m0-4h0m-37-3h0m-12 8h0m-15-4h0m-2 3h0m-11-7h0m-7 1h0m-1 11h0m11 0h0m6 9h0m29-10h0m8 11h0m10-2h0m6-6h0m9 8h0m6 1h0m3-1h0m11-4h0m3-3h0m1-1h0m18-2h0m6-1h0m5 1h0m9 5h0m4 3h0m18-7h0m0 1h0m824 8h0m0-11h0m1 10h0m7 0h0m5-8h0m9-1h0m1 4h0m2-4h0m7 1h0m12 1h0m8-2h0m2 3h0m20-2h0m6 7h0m4-1h0m17-3h0m6 3h0m17 0h0m17-2h0m5 2h0m18-5h0m10 0h0m0 4h0m-15 7h0m-3 9h0m-8 0h0m-12-2h0m-3-4h0m-3 6h0m-49-9h0m-4 7h0m-3-6h0m-18-2h0m-23 11h0m-16-2h0m-1-3h0m-3-6h0m-17 5h0m0 6h0m-820-1h0m-10-8h0m-6-1h0m-13 6h0m-14-2h0m-11 2h0m-8-2h0m-7-4h0m-18 5h0m-24-1h0m-30 6h0m-32-10h0m-21-1h0m0 16h0m18-3h0m15-1h0m21 3h0m5 8h0m23-6h0m8 4h0m22-7h0m36 8h0m1-8h0m26 9h0m1-7h0m22-2h0m824 4h0m6-3h0m25 0h0m14 7h0m7-7h0m13 5h0m13-1h0m30-3h0m2 3h0m33-8h0m16 16h0m-4 4h0m-9-4h0m-69 4h0m-32-2h0m-11-5h0m-17 0h0m-841 6h0m-11-1h0m-4-4h0m-12 1h0m-28 2h0m-9 2h0m-23-7h0m-14 9h0m-21 2h0m0-1h0m0-1h0m-5-1h0m-10-6h0m-8 3h0m-12 1h0m-9-2h0m-21-2h0m-5 3h0m-1 18h0m2-1h0m7 1h0m12-5h0m4 5h0m8-10h0m16 3h0m27-3h0m8 2h0m18-2h0m28 2h0m6 3h0m884-5h0m3 7h0m27-4h0m3 4h0m12-3h0m4 5h0m1-1h0m15-4h0m28 6h0m1-4h0m8-3h0m1-1h0m7 6h0m20 1h0m7-9h0m29 9h0m-27 3h0m-1 5h0m-8-1h0m-5 2h0m-5 2h0m-17 1h0m-19-8h0m-38 7h0m0 2h0m-6-2h0m-19-8h0m-6 9h0m-839-7h0m-24 4h0m-8-1h0m-9 1h0m-51 2h0m-8 2h0m-28-5h0m-28 5h0m-6-9h0m-23 5h0m-9 3h0m15 13h0m10-9h0m12 4h0m30 0h0m21-2h0m6 6h0m44-9h0m24 3h0m3 0h0m10 5h0m12-5h0m1 0h0m859 8h0m8-9h0m32 0h0m33 0h0m35 3h0m2-3h0m5 5h0m21-8h0m0 23h0m-29-9h0m-7 3h0m-7 5h0m-10-2h0m-8-4h0m-3-1h0m-18 8h0m-1-8h0m-15 6h0m-64-6h0m-3 1h0m-1-3h0m-864 4h0m-3 1h0m-9 1h0m-13-3h0m-10 1h0m-9 1h0m-6 0h0m-8 6h0m-20-9h0m-14-3h0m-28 11h0m-24-8h0m-4 5h0m5 12h0m3 1h0m5-1h0m14 0h0m8 1h0m19 2h0m8-9h0m24 6h0m14 3h0m30-6h0m4 0h0m4 0h0m12-4h0m3 1h0m20-2h0m7 4h0m37 1h0m14-1h0m795 7h0m10-8h0m8-2h0m6 10h0m18-3h0m49-4h0m0-2h0m17 7h0m5-2h0m10-6h0m17 5h0m10 5h0m16 0h0m-28 12h0m-1-11h0m-10 9h0m-4-3h0m-14 3h0m-2-6h0m-16 7h0m-6-8h0m-42 10h0m-10-3h0m-21-4h0m-11-3h0m-2 8h0m-797-8h0m-12 7h0m-10-2h0m-16-1h0m-6 0h0m-2 0h0m-1 3h0m-9-3h0m-4-1h0m-66 2h0m-34-5h0m-34 6h0m-9-7h0m4 15h0m13 6h0m30-9h0m20 3h0m3 4h0m31-7h0m7 0h0m0 5h0m2 4h0m34-7h0m2 8h0m1-9h0m2 8h0m17-7h0m3 4h0m5-3h0m24-1h0m785-1h0m17-2h0m14 10h0m2-3h0m8 3h0m2 2h0m6-7h0m7 0h0m14 5h0m6-9h0m25 3h0m12-1h0m6-1h0m16 5h0m9-3h0m2 3h0m5 2h0m11 3h0m-47 3h0m-10 6h0m-17-5h0m-7 5h0m-5-3h0m-51 0h0m-4-4h0m-3 5h0m-846 1h0m-23 2h0m-58-3h0m-1-7h0m-1 7h0m-54-3h0m-14 17h0m14-5h0m57-2h0m144 0h0m806 0h0m14 5h0m20-2h0m149 5h0m-142 14h0m-2-8h0m-851-2h0m-19 0h0m-12 8h0m-8-8h0m27 16h0m39-4h0m923 0h0m43-2h0"/>
<path stroke="#46b41c" d="M1498 1768h0m-11-1h0m-3 8h0m-20-1h0m-997 6h0m993-2h0m11 7h0m13-3h0m12 1h0m10 5h0m-1 3h0m-3 7h0m-17-1h0m-22-7h0m-976 9h0m-2-4h0m-2 0h0m-37 6h0m61 11h0m952-1h0m5-3h0m3-8h0m3 10h0m31-7h0m20 21h0m-45-4h0m-35 3h0m-948-8h0m-5 0h0m-13-3h0m-2 2h0m-2 5h0m-10-6h0m-10 5h0m-3-6h0m-2 4h0m-2 3h0m-12 10h0m2-2h0m35 4h0m23 0h0m11-2h0m7 5h0m7-5h0m925 2h0m10 3h0m18-8h0m4 4h0m26 4h0m5 1h0m-25 1h0m-2 5h0m-2-1h0m-13-3h0m-8 7h0m-12 3h0m-6-4h0m-4 2h0m-902 0h0m-10 3h0m-5-8h0m-7-3h0m-9 5h0m-30 2h0m-17-6h0m-21-1h0m-11 18h0m3 2h0m5-3h0m24-5h0m40 5h0m2 1h0m1-5h0m7 9h0m16 0h0m7-8h0m889 0h0m9 0h0m23 5h0m23 0h0m2-6h0m23 5h0m12 2h0m1-3h0m48 17h0m-32-9h0m-17 6h0m-5 0h0m-4-7h0m-5 9h0m-7-4h0m-10-3h0m-15 3h0m-21 2h0m-9 3h0m-4-2h0m-1-2h0m-2 2h0m-7 0h0m-28-5h0m-1 5h0m-4 1h0m-826 0h0m-9-4h0m-14-5h0m-47 4h0m-6 1h0m-3 0h0m-1 2h0m-16-4h0m-14 5h0m-3 0h0m-44-3h0m-3 3h0m-18-3h0m-16 13h0m16 4h0m37 0h0m5-8h0m0 5h0m1 1h0m31 0h0m22-8h0m13 8h0m19 1h0m4-2h0m6-5h0m41 1h0m818 5h0m44-9h0m2 3h0m48 4h0m3 5h0m20-6h0m28 2h0m12-3h0m12 10h0m-14 1h0m0 3h0m-29-6h0m-38 10h0m-55-3h0m-2-1h0m-10-5h0m-24 1h0m-837 2h0m-1-1h0m-6 3h0m-18-3h0m-44 5h0m-15 0h0m-9 3h0m-24-7h0m-13-1h0m-2-1h0m-5 7h0m-2 2h0m-8-8h0m-20-4h0m-2 10h0m-9 9h0m0 3h0m17-6h0m29 8h0m11-4h0m4 2h0m19-7h0m1 4h0m5 2h0m51-3h0m38-4h0m22 2h0m795 5h0m11-6h0m17 6h0m0-1h0m9-2h0m28-4h0m20 0h0m7 1h0m3 6h0m30-4h0m8 2h0m20-4h0m31 7h0m6 9h0m-14 3h0m-5-4h0m-4 3h0m-1-4h0m-19-5h0m-6 8h0m-20-5h0m-5 3h0m-67-5h0m-5 4h0m-1 7h0m-33-4h0m-3 1h0m-811-2h0m-23 5h0m-2-9h0m-11 2h0m-4-3h0m-8 4h0m-9 4h0m-13-7h0m-27 5h0m-56 2h0m-1-2h0m-28 3h0m11 8h0m6-6h0m30 10h0m19-8h0m4-1h0m3-1h0m5 9h0m4 1h0m1-9h0m9 9h0m8-7h0m10-4h0m13 9h0m9-3h0m15 5h0m40-2h0m813-6h0m12-1h0m18-2h0m7 2h0m9 1h0m0 6h0m5 2h0m27-3h0m26 3h0m1-8h0m3 3h0m10 0h0m6 1h0m29-3h0m1 1h0m7-3h0m3 1h0m0 6h0m14 2h0m9-3h0m-46 5h0m-9 4h0m-46 6h0m-15-8h0m-10 4h0m-3 1h0m-12 0h0m-2-3h0m-3 7h0m-10-6h0m-3-1h0m-30 6h0m-15-9h0m-811 3h0m-37-3h0m-18 5h0m-1-4h0m-2 1h0m-18-1h0m-3 2h0m-4-1h0m-1 5h0m-30-4h0m0 1h0m-13 0h0m-5-4h0m-58-2h0m-5 11h0m-1 0h0m7 5h0m16 7h0m3-9h0m9 9h0m23-10h0m33 9h0m6-8h0m10 2h0m4 2h0m41 0h0m14 3h0m826-2h0m39 1h0m1-7h0m2 0h0m10 10h0m6-7h0m6 5h0m27-8h0m11 3h0m29 1h0m12 6h0m35-9h0m17 8h0m-10 5h0m-15-2h0m-20 7h0m-16 2h0m-4-10h0m-2 10h0m-5 1h0m-3-3h0m-39-3h0m-6-3h0m-21 0h0m-15 6h0m-14 3h0m-26-9h0m-798-1h0m-24 2h0m0 7h0m-14-6h0m-4 7h0m-3 0h0m-17-8h0m-9 2h0m-55-4h0m-8 6h0m-51 2h0m-4-5h0m-8-3h0m4 17h0m1 5h0m20-10h0m10 7h0m17 2h0m14-3h0m2 0h0m24 1h0m29 1h0m15-2h0m18 2h0m845 1h0m7-5h0m2 1h0m22 0h0m2-3h0m2 8h0m21-3h0m22 1h0m10-3h0m16 4h0m23-7h0m23 3h0m1 2h0m11-7h0m7 2h0m28 5h0m-2 11h0m-14 0h0m-15-5h0m-39 0h0m-18 5h0m-5 2h0m-7 0h0m-7 1h0m-13-3h0m-1 2h0m-21-2h0m-18-1h0m-8-4h0m-3-1h0m-27 2h0m-842-1h0m-56 0h0m-4 4h0m-4 4h0m-14-9h0m-2 5h0m-3 2h0m-10-2h0m-10-6h0m0 12h0m-54 0h0m17 1h0m12 7h0m5 0h0m12-7h0m8 2h0m13 5h0m9-2h0m20 3h0m12 2h0m6-1h0m19 0h0m34-7h0m5 7h0m0-3h0m6 4h0m1-4h0m2-3h0m17 1h0m793 2h0m5-5h0m4 2h0m6 2h0m41 6h0m4-1h0m31-2h0m33-8h0m9 6h0m2 5h0m7-1h0m18-11h0m4 1h0m-6 23h0m-28-8h0m-11 4h0m-16-3h0m-6 7h0m0-11h0m-22 3h0m-7-3h0m-21 5h0m-9-4h0m-14 3h0m-1 3h0m-27 2h0m-802-7h0m-15-2h0m-13 5h0m-2-2h0m-6-2h0m-56 8h0m-17 0h0m-16-8h0m-9 7h0m-37-3h0m-5-5h0m-2 5h0m-4-4h0m9 18h0m8 0h0m11-4h0m42 0h0m1 6h0m24 0h0m0-7h0m8 7h0m11-7h0m3-2h0m5 1h0m1 4h0m4-2h0m1 4h0m21 2h0m9 0h0m3-4h0m7 2h0m839-6h0m5 7h0m7 2h0m52-10h0m2 0h0m11 7h0m20 1h0m7-9h0m3 3h0m5 7h0m2-9h0m15 5h0m8 16h0m-36-7h0m-18 6h0m-1-2h0m-5-4h0m-13-3h0m-54 7h0m-10-5h0m-2 2h0m-2 1h0m-6 4h0m-829 1h0m-19-4h0m-17-4h0m-2-1h0m-38 1h0m-4 7h0m-16-4h0m-7 7h0m-2-2h0m-4-8h0m-7 5h0m-22 3h0m-5 0h0m2 5h0m21-2h0m1 4h0m69 7h0m872-5h0m8 4h0m6-9h0m16 7h0m7-7h0m4 0h0m26 3h0m24 2h0m9-1h0m14 5h0m3-9h0m11 3h0m4 4h0m1-6h0m19 0h0m-68 18h0m-28 2h0m-5-10h0m-7 4h0m-1-1h0m-5 1h0m-20-2h0m-4-2h0m-11 6h0m-885-6h0m-3 7h0m-35-3h0m-7-1h0m-16-3h0m-21-1h0m39 17h0m33-5h0m899 7h0m20 0h0m27-7h0m44 7h0m4-4h0m11 4h0m-59 5h0"/>
<path stroke="#2a9ee2" d="M389 1882h0m1012 2h0m-1004 17h0m973 7h0m18-10h0m12 21h0m-1-6h0m-42-5h0m-958 3h0m-6 4h0m-17-6h0m-2 5h0m-21 7h0m6 5h0m5 4h0m6-6h0m973 1h0m30-1h0m2 3h0m6 1h0m9 12h0m-2 3h0m-22-6h0m-7-1h0m-1 5h0m-13 3h0m-938-1h0m-1-7h0m-23-4h0m-19 24h0m36-4h0m10-3h0m939 5h0m27-6h0m1 11h0m-26 0h0m-1-1h0m-939-2h0m-59 17h0m6 2h0m19-1h0m1 4h0m3-1h0m5-4h0m985 0h0m-1005 11h0m996 15h0"/>
<path stroke="#e6880a" d="M1283 1714h0m6 0h0m57 0h0m67 7h0m-36 5h0m-1-2h0m-25 2h0m-42 0h0m-941-5h0m-61 4h0m-67 13h0m2-7h0m17 7h0m36 0h0m15 1h0m11-4h0m893 2h0m0 2h0m15-1h0m7-8h0m22 5h0m10-3h0m5 1h0m6-1h0m11 0h0m9 6h0m2 1h0m17-5h0m1 2h0m1-1h0m4 3h0m5-6h0m30-3h0m19 5h0m3-2h0m17 2h0m4 5h0m1-4h0m34 16h0m-8-2h0m-23 2h0m-5-7h0m-10 5h0m-16 2h0m-7-8h0m-9 1h0m-17 5h0m-10-1h0m-14-2h0m-27 0h0m-2 3h0m-16-5h0m-5 7h0m-16-8h0m-41 5h0m-3 3h0m-7-11h0m-796 8h0m-99-4h0m-7 5h0m-19-8h0m-12 9h0m-40 0h0m-17 7h0m7-4h0m45 6h0m5-2h0m3 0h0m9 3h0m2 0h0m3 2h0m35-7h0m5 4h0m1 0h0m24-4h0m1-2h0m11 1h0m18 0h0m5 8h0m6 0h0m18-8h0m10 7h0m11-6h0m5 7h0m799 1h0m27-4h0m31 3h0m2-6h0m27 8h0m1-12h0m11 8h0m33-8h0m7 5h0m3 0h0m12 0h0m6-5h0m4 6h0m2 1h0m7-6h0m3 10h0m7-8h0m19 4h0m-9 6h0m-13 9h0m-3-2h0m-27-2h0m0 6h0m-16-3h0m-1-4h0m-5 1h0m-12-4h0m-4-1h0m-3 3h0m-73 2h0m-18 3h0m-3-6h0m-33 2h0m-2-4h0m-838 8h0m-3-3h0m0-4h0m-4 0h0m-11 7h0m-7-6h0m-28 1h0m-5 5h0m-2-4h0m-42-1h0m-10-1h0m-17 5h0m-5 2h0m-5-2h0m-7-8h0m-27 12h0m-9 1h0m19 0h0m5 4h0m27-3h0m11 0h0m10 4h0m8 0h0m55 2h0m14 3h0m2-4h0m12 4h0m11-7h0m48-4h0m4 8h0m2-7h0m787 7h0m10-6h0m28 5h0m13-5h0m1 5h0m3-2h0m42 2h0m6 1h0m32-8h0m15 7h0m3 4h0m16-5h0m16-1h0m4 6h0m15-7h0m4 7h0m0-9h0m-11 11h0m-10 5h0m-19 4h0m-22-2h0m-7 1h0m-1-3h0m-6 3h0m-8-1h0m-11-6h0m-17 0h0m-26 0h0m-32 6h0m0 1h0m-18 2h0m-3-6h0m-4-1h0m-2-4h0m-21 5h0m-6-3h0m-785 7h0m-50 2h0m-7-11h0m-7 0h0m-4 1h0m-7 8h0m-27 0h0m-8-8h0m-5 6h0m-19-1h0m-7-2h0m-35 8h0m-1-8h0m-12-3h0m-9 2h0m-15 1h0m-3-4h0m16 22h0m79-5h0m41 1h0m5 4h0m3-1h0m1 0h0m6 0h0m4-8h0m19 7h0m0-6h0m14 8h0m23-7h0m785-2h0m2 9h0m15-8h0m9 1h0m9 6h0m21 1h0m1-1h0m8-7h0m2-1h0m4 9h0m21-7h0m7 5h0m9-5h0m4 2h0m37 2h0m55-6h0m9 3h0m30-4h0m-80 18h0m-5-2h0m-13 1h0m-41 4h0m-5-6h0m-13-1h0m-19-2h0m-46 3h0m-1 3h0m-1 0h0m-809-5h0m-13 1h0m-5 10h0m-64-10h0m-30 6h0m-7-4h0m-3 4h0m-5 0h0m-17 2h0m-8 1h0m-14-9h0m0 8h0m-4-2h0m-1 4h0m-17 0h0m-3-6h0m-3-3h0m0 9h0m-4-4h0m-9 1h0m1 13h0m53-8h0m5 4h0m40 5h0m8 0h0m27 0h0m8-9h0m15 1h0m15 5h0m834 1h0m0-6h0m7 7h0m13-6h0m40 4h0m6-1h0m18 0h0m23 4h0m11-5h0m8 5h0m2-10h0m19 2h0m12 1h0m43 0h0m-46 14h0m-8 3h0m-25-6h0m-23 2h0m-1 1h0m-14 5h0m-3-11h0m-32 0h0m-51 1h0m-5 3h0m-845-3h0m-9 1h0m-5 4h0m-17 4h0m-10-3h0m-5-5h0m-3 4h0m-13-5h0m-4 7h0m-36 3h0m-62-5h0m33 9h0m11-1h0m15 1h0m24 7h0m3 1h0m14-10h0m14 4h0m9 1h0m11 0h0m3-6h0m34 2h0m836 8h0m0-9h0m1 1h0m8 4h0m9 0h0m3-1h0m4-2h0m2 4h0m1-6h0m17 11h0m18-5h0m34-6h0m14 7h0m9-3h0m12 3h0m4-1h0m0-1h0m10 2h0m2-3h0m23-1h0m2 3h0m-39 7h0m-11 4h0m-8-1h0m-10 5h0m-22-6h0m-8 7h0m-4-4h0m-8-3h0m-14 6h0m-16-9h0m-9 1h0m-5-2h0m-1 11h0m-871-2h0m-20-6h0m-3 5h0m-1 1h0m-2 3h0m-17-1h0m-11-5h0m-22-3h0m-11-1h0m-4 3h0m-27-3h0m-1 7h0m-2 1h0m-6-7h0m-1 3h0m-4-5h0m-19 17h0m8-1h0m32 4h0m6-7h0m33 3h0m9 1h0m7 3h0m4-6h0m27 0h0m5 8h0m4-6h0m1-1h0m19 4h0m837-5h0m17 4h0m10-5h0m24 1h0m2 3h0m15-1h0m3 3h0m5-3h0m13 2h0m5-2h0m12-4h0m5 9h0m23-3h0m11-5h0m6-1h0m14 0h0m-34 17h0m-12 1h0m-78 0h0m-2-4h0m-5-3h0m-5 4h0m-14 4h0m-1-5h0m-866 1h0m-33-2h0m-12 0h0m-15 4h0m-1-4h0m-6 5h0m-1-2h0m-5 2h0m-32-3h0m-29 3h0m-4 8h0m10 2h0m4 4h0m9-6h0m45 7h0m3-1h0m0 2h0m3-5h0m12-2h0m7-2h0m6 8h0m12-6h0m893 2h0m23 1h0m3-2h0m7 5h0m11 0h0m1-1h0m39-3h0m17-2h0m10 3h0m-11 16h0m-10-7h0m-24-2h0m-32 4h0m-21-2h0m-938 2h0m-6-5h0m-7 11h0m-22-11h0m-8 0h0m-7 4h0m11 18h0m2-11h0m10 5h0m21 4h0m10-6h0m5 1h0m904 4h0m12-7h0m27 5h0m32-2h0m1 3h0m7-2h0m6 6h0m27-6h0m17 4h0m-30 6h0m-66 2h0m-16-2h0m-3-3h0m-3 9h0m-5 2h0m0-7h0m-942 8h0m-3-2h0m-30 0h0m5 2h0m983 1h0m21 7h0m32-4h0m3 2h0m18-2h0m-17 20h0m-9-5h0m-6-2h0m-7-1h0m0 2h0m-35 0h0m-13-6h0m-938 20h0m968-2h0m18 2h0m1-3h0m3 6h0m5-2h0m-5 8h0m-40 2h0m-1001 9h0m999 6h0m6-6h0m7-2h0m1-2h0m3 2h0m29 5h0m10 1h0m-6 16h0m-51-11h0m-6 6h0m14 8h0"/>
<path stroke="#f6766d" d="M1361 1426h0m61 3h0m-21 8h0m-4-2h0m-6 0h0m-8-3h0m-3 4h0m-9-8h0m-14 10h0m-954-2h0m-25-4h0m21 11h0m13 8h0m36 1h0m901-5h0m30-2h0m2-5h0m34 2h0m5 2h0m15-1h0m3 3h0m2 5h0m6-7h0m32 16h0m-8 3h0m-7-8h0m-28 3h0m-2-5h0m-9-1h0m-12 4h0m-1 8h0m-12-6h0m-19-2h0m-2-2h0m-13 10h0m-20-8h0m-9 8h0m-11-8h0m-852-3h0m-78 4h0m-24-2h0m-2 0h0m-9-2h0m-10 4h0m-3 4h0m-17-5h0m-21 3h0m22 12h0m47 1h0m20-6h0m29 2h0m913-2h0m4 6h0m10-5h0m2 1h0m95-3h0m0 4h0m3-1h0m12 5h0m-27 9h0m-6 2h0m-3-1h0m-18-5h0m-25-1h0m-3 6h0m-3-1h0m-1-2h0m-27 4h0m-5-2h0m-17-5h0m-24 0h0m-790 5h0m-9 0h0m-17-6h0m-2 1h0m-22 0h0m-7 3h0m-17-3h0m-18 7h0m-1-2h0m-65 4h0m-4-5h0m-5-3h0m-15 9h0m-1-5h0m-6 6h0m-15 10h0m8-3h0m38-4h0m28 3h0m2 3h0m3-7h0m36-1h0m1 7h0m19-4h0m18 6h0m28-7h0m2 9h0m3-10h0m24 10h0m3-7h0m807 1h0m6 3h0m0-7h0m22 6h0m6-8h0m17 9h0m2 2h0m5-10h0m0 10h0m5-11h0m16 9h0m19-3h0m7-5h0m18 7h0m8-3h0m-33 7h0m-26 7h0m-5-2h0m-47 7h0m-35-2h0m-22 1h0m-2-9h0m-760 6h0m-7-5h0m-27 2h0m-12-2h0m-2 5h0m-9-3h0m-39 6h0m-36-3h0m-19-7h0m-15 2h0m-4 4h0m-79 6h0m9 9h0m10-4h0m7 5h0m20-7h0m3 4h0m65 4h0m36-2h0m3-5h0m1-2h0m27 0h0m10 8h0m22-4h0m5 5h0m797-2h0m4 0h0m0-6h0m1 0h0m18-3h0m2 8h0m1 0h0m4-4h0m27 2h0m1 2h0m32-8h0m6 4h0m11 7h0m36-6h0m0 3h0m2-4h0m3-2h0m11 3h0m21-5h0m15 4h0m-8 15h0m-10 0h0m-5-5h0m-16 1h0m-21-3h0m-102 0h0m-14 7h0m-23 3h0m-4-1h0m-13 1h0m-8-2h0m0-5h0m-761 6h0m-8-3h0m-27-4h0m-32 8h0m-4-9h0m-13 5h0m-4-3h0m-10 4h0m-7-3h0m-10-4h0m-17-1h0m-13 1h0m-9 11h0m-16 0h0m-12-11h0m0 7h0m-5 3h0m-16-8h0m-22-3h0m0 6h0m-1 0h0m49 7h0m6 4h0m16 4h0m2-8h0m5 9h0m6-3h0m19-3h0m14 1h0m12 7h0m72-9h0m37 4h0m783-1h0m7-4h0m78 2h0m3 3h0m23-3h0m58 8h0m41 7h0m-4 3h0m-2-7h0m-12-1h0m-3 1h0m-34 6h0m-15-7h0m-29 7h0m-10-2h0m-10-6h0m-4 1h0m-2 2h0m0 1h0m-9-5h0m-12 3h0m-22 9h0m-1-11h0m-14 4h0m-38 2h0m-25 3h0m-755-3h0m-33 1h0m-32 3h0m-9-7h0m-57 4h0m-7-3h0m-19 3h0m-36-6h0m-49 6h0m5 11h0m12 2h0m91-7h0m28 1h0m8 8h0m44-10h0m41 4h0m19 2h0m740-3h0m50-2h0m29 3h0m6-4h0m10 3h0m6-1h0m0 9h0m2-9h0m7 5h0m10-8h0m3 4h0m17 1h0m15-5h0m62 4h0m46 7h0m3 6h0m-3 1h0m-13 5h0m-11-8h0m-16 4h0m-1-6h0m-84 6h0m-24 3h0m-2-4h0m-87 3h0m-5 2h0m-4-9h0m-755-2h0m-5 4h0m-3 2h0m-20 1h0m-3-2h0m-13-1h0m-1 3h0m-7-3h0m-45 6h0m-34-9h0m-27 11h0m-35-7h0m-49-4h0m-15 6h0m-4 2h0m19 9h0m2 6h0m19-1h0m19-5h0m3 0h0m26-6h0m32 6h0m28 0h0m9 4h0m36-9h0m5 4h0m5 6h0m20-3h0m6 0h0m790-6h0m2-1h0m11 10h0m26 0h0m28-7h0m14 4h0m80-5h0m2-2h0m10 10h0m23-11h0m8 3h0m31 8h0m10 1h0m9 7h0m-51 1h0m-9 0h0m-12-7h0m-6 3h0m-14 7h0m-9-5h0m-19-1h0m-11-1h0m-21-2h0m-11 3h0m-4 2h0m-9-3h0m-7 5h0m-13-6h0m-12 6h0m-1-2h0m-6 1h0m-8 0h0m-22-7h0m-22 7h0m-30 4h0m-768-4h0m-14-3h0m-49 2h0m-25 4h0m-6-2h0m-4 0h0m-7-5h0m-34 0h0m-5 0h0m-16 5h0m-11-1h0m-42 12h0m25-7h0m11 5h0m1 2h0m3 2h0m7-3h0m0 0h0m10-4h0m12 3h0m7 2h0m10-1h0m6-2h0m7 5h0m21 0h0m34-9h0m8 8h0m15-4h0m27 0h0m794 5h0m4-5h0m5 6h0m11-1h0m7-5h0m3 3h0m1-6h0m11 7h0m23-8h0m7 5h0m7 1h0m34 4h0m16-4h0m26 5h0m0-7h0m16 2h0m17-4h0m15 4h0m31 0h0m6-4h0m5 9h0m20-7h0m-79 16h0m-33-2h0m-1 3h0m-7-2h0m-5-1h0m-16 0h0m-29-5h0m-4 4h0m-10-4h0m-20 7h0m-32-1h0m-10 1h0m-16 1h0m-7-10h0m-776 6h0m-12-4h0m-3 3h0m-12 2h0m-9-4h0m-6-1h0m-17 7h0m-34 2h0m-20 1h0m-45-3h0m-16-4h0m-18-4h0m0 7h0m-8-7h0m42 20h0m6-9h0m78 3h0m3 1h0m0 0h0m6 6h0m29-3h0m22-3h0m16 1h0m787 3h0m2 3h0m2-11h0m3 7h0m7-2h0m6 4h0m2-9h0m3 7h0m7-6h0m2 0h0m2 7h0m19-1h0m7 0h0m8-5h0m1 5h0m26 4h0m4-4h0m2 4h0m10-4h0m3-1h0m37-3h0m3 0h0m6-1h0m9 10h0m15 4h0m-6-3h0m-38 8h0m-21-5h0m-4 8h0m-4-10h0m-8 2h0m-16 8h0m-23-7h0m-11 6h0m-24-4h0m-1 3h0m0 0h0m-22-7h0m-16 9h0m-18-6h0m-776-2h0m-18-2h0m-8 1h0m-20-1h0m-34 7h0m-8-2h0m-20-3h0m-1-1h0m-29 7h0m-9-1h0m-16 2h0m-17-10h0m-1 1h0m-2 0h0m-6 2h0m-5 0h0m-20 3h0m-3 3h0m41 11h0m24-8h0m21 9h0m34 1h0m10 0h0m13 0h0m18-1h0m27-5h0m13 2h0m795 5h0m2-6h0m4-2h0m10-3h0m13 3h0m6 6h0m5 0h0m16-9h0m0 6h0m27 1h0m30-8h0m13 7h0m14-1h0m19-2h0m2 0h0m3 5h0m27-3h0m13-4h0m-12 11h0m-6 5h0m-3 4h0m-15-2h0m-5 2h0m-7-8h0m-63 9h0m-7-7h0m-3 7h0m-5-1h0m-23 2h0m-26-3h0m-13-8h0m-821 1h0m-26 3h0m0 6h0m-6-5h0m-7-5h0m-11 7h0m-52-7h0m-1 5h0m-32 3h0m-6-7h0m-2 5h0m-9-5h0m-6 5h0m-15 2h0m-37 12h0m24-7h0m24-1h0m13 8h0m29 2h0m72-10h0m11 1h0m12 1h0m23-2h0m789 11h0m9-6h0m6 0h0m6-4h0m6 9h0m8-5h0m11 1h0m32-3h0m4-4h0m12 3h0m21 3h0m8 1h0m16-5h0m10 7h0m8 2h0m33-3h0m-21 9h0m-19-2h0m-1 1h0m-1-4h0m-17 12h0m-5-4h0m-14 1h0m-13 2h0m-35-9h0m-8 7h0m-56-5h0m-794 4h0m0-6h0m-11 3h0m-6-1h0m-36-1h0m-12 4h0m-1-1h0m-6-6h0m-20 4h0m-8 5h0m-27-7h0m-9 3h0m-1 2h0m-13 1h0m-1 0h0m-3-1h0m-15 3h0m-3 0h0m-11-8h0m-3 7h0m-47 12h0m34-8h0m13 3h0m13-2h0m1 7h0m33-4h0m35-4h0m5 4h0m33-5h0m859 3h0m11 2h0m23 5h0m5-8h0m17 4h0m3 0h0m0-1h0m1 2h0m2 0h0m8-1h0m61 1h0m27-6h0m-78 12h0m-2-1h0m-12 6h0m-1-2h0m-29 4h0m-848 3h0m-22-5h0m-1-4h0m-3 5h0m-36-3h0m0-4h0m-13 10h0m-56-5h0m-4-2h0m-29 7h0m-34 6h0m23 6h0m4 0h0m6 1h0m33-10h0m3 7h0m1 3h0m3 1h0m16-9h0m11 2h0m23 0h0m13-1h0m11 5h0m18-9h0m12 8h0m839-3h0m9-1h0m14 4h0m5-3h0m-36 11h0m-852-4h0m-100 4h0m-8 4h0m-20-7h0m-6 9h0m-15 17h0"/>
<path stroke="#1f90ec" d="M424 1552h0m54 14h0m18-4h0m39 0h0m-109 22h0m-26-12h0m19 15h0m46-1h0m68 10h0m924-7h0m92 9h0m-106 4h0m-884-6h0m-10 2h0m-4-2h0m-28 7h0m-84 15h0m50 2h0m4 0h0m35-2h0m13-6h0m890 4h0m7 3h0m24-1h0m54-10h0m20 5h0m17-3h0m-15 22h0m-12-1h0m-4 1h0m-20-6h0m-2-3h0m-15 1h0m-76-1h0m-851 5h0m-19-2h0m-9-4h0m-29 18h0m25 2h0m12-6h0m0 2h0m3 0h0m2 3h0m6 1h0m3-1h0m910-1h0m5 3h0m6-10h0m3 0h0m11 4h0m14-3h0m17 7h0m12-3h0m4 0h0m14-3h0m12 0h0m-19 15h0m-25 3h0m-7-1h0m-21-8h0m-18 12h0m-945-5h0m-12-6h0m-1 2h0m-15 3h0m0 5h0m-14-6h0m-26 14h0m37 1h0m9-7h0m26 9h0m3-3h0m936 3h0m61-6h0m6 6h0m19-8h0m-14 17h0m-36 0h0m-6-3h0m-12 1h0m-5 2h0m-6-7h0m-38 11h0m-917-2h0m-29-5h0m-10-2h0m-14-2h0m-7 11h0m-13-2h0m-33-2h0m33 14h0m16-3h0m972 3h0m14 2h0m34-2h0m15-5h0m3 3h0m5-4h0m12 10h0m-4 6h0m-65-4h0m-932 9h0m-15-5h0m-11 3h0m-47 3h0m29 3h0m1 4h0m2-1h0m970 1h0m13 3h0m5-2h0m4-7h0m13 7h0m-6 5h0m-1015 3h0m992 12h0m24 10h0"/>
<path stroke="#1aa3e3" d="M251 1484h0m-25 7h0m9-2h0m993 13h0m-30 9h0m-975-10h0m0 21h0m2-1h0m16-6h0m7 1h0m925 6h0m22-1h0m25 3h0m0-1h0m7-1h0m40-7h0m-12 12h0m-11 6h0m-52-8h0m-23 5h0m-949 4h0m-23-2h0m-17 3h0m-3 12h0m8-6h0m26 1h0m6 5h0m6-1h0m3-7h0m10 0h0m3 2h0m931-4h0m32 9h0m9 1h0m9-8h0m3-3h0m3 10h0m-4 12h0m-6-1h0m-12-9h0m-11 8h0m-2-5h0m-15 0h0m-1 6h0m-4-6h0m-24 7h0m-16-5h0m-895-5h0m-21 4h0m-4 0h0m-3-1h0m-14 1h0m-6-4h0m-8 2h0m-4 7h0m-9-7h0m-2 19h0m4-3h0m17 1h0m33 3h0m15 1h0m4-6h0m7 7h0m0-5h0m893 2h0m13-2h0m4 0h0m17 3h0m19-8h0m4 3h0m1 4h0m14-4h0m11-2h0m3 4h0m16-4h0m-19 9h0m-28 8h0m-23-3h0m-12-3h0m-3 10h0m-922-9h0m-6 5h0m-1-8h0m-4 5h0m-22-1h0m-12 7h0m-21-9h0m-20 7h0m16 6h0m4 3h0m13 1h0m6 1h0m1-3h0m11 5h0m3 1h0m5-7h0m25-4h0m913 6h0m9-2h0m1 8h0m12-11h0m33-1h0m19 1h0m7 7h0m3 6h0m-16 7h0m-8-2h0m-6 1h0m0 3h0m-7-7h0m-1-4h0m-31 6h0m-13-4h0m-5 2h0m-3 4h0m-6-3h0m-884 4h0m-21 3h0m-35-10h0m-15 2h0m-36 18h0m10-4h0m10 1h0m11-7h0m7 8h0m43-4h0m899 3h0m27 1h0m18-1h0m3-4h0m3-2h0m0 9h0m27 4h0m-45 0h0m-6 8h0m-17-2h0m-930 1h0m-5-4h0m-7 1h0m-8 1h0m-18 4h0m-8-1h0m-9-8h0m-9 1h0m-6 9h0m3 8h0m34 3h0m45-3h0m921-5h0m4 0h0m7 5h0m21 2h0m7-8h0m5 4h0m0 4h0m25-9h0m16 3h0m1 12h0m-3 5h0m-15-3h0m0 2h0m-5-6h0m-32 7h0m-4-1h0m-25 2h0m-943-5h0m-3 1h0m-17 0h0m-18-3h0m-25 4h0m11 15h0m11-2h0m5 4h0m23-10h0m2 3h0m0-3h0m6 3h0m15 0h0m1 4h0m928-5h0m15 6h0m18 2h0m31 10h0m-2 0h0m-5-2h0m-6-5h0m-1 5h0m-12 0h0m-13-7h0m-3 6h0m-8-4h0m-3-2h0m-935 9h0m-17-5h0m-20 0h0m-31 7h0m14 2h0m9 6h0m10-8h0m960 5h0m4 4h0m0 0h0m1-9h0m25 11h0m3-4h0m0 2h0m37-7h0m2 3h0m3 0h0m2 9h0m-25 2h0m-6 4h0m-6-8h0m-18 0h0m-1 1h0m-9 6h0m-944-4h0m-10 1h0m-1 2h0m-27 4h0m-23 6h0m24-3h0m36 3h0m7 0h0m950 4h0m0-4h0m15-3h0m16 3h0m8 6h0m10-2h0m-1009 11h0m-42 4h0m-13 1h0m0 2h0m16 0h0m9 5h0m6-6h0m979 3h0m4 8h0m4-3h0m6-1h0m9 0h0m-12 6h0m-992 6h0m-26-7h0m26 16h0m15 5h0m2-2h0m975-6h0m15 3h0m-4 16h0m-994-4h0m-15 3h0m1005 12h0m20-6h0m-1005 10h0"/>
<path stroke="#da4679" d="M1494 2194h0m22 11h0m-14 1h0m-24-2h0m-11 4h0m-33-4h0m18 6h0m58 15h0m-10 1h0"/>
<path stroke="#16b35e" d="M1794 2099h0m5 11h0m-16-2h0m-1033 2h0m-59-1h0m1122 27h0m-52-7h0m-14 4h0m-30-6h0m-1029 8h0m-17 9h0m77-2h0m921 2h0m120 2h0m-16 9h0m-7-6h0m-6 4h0m-27 6h0m-69 0h0m-13-5h0m-11-1h0m-870 4h0m-4 2h0m-9-10h0m-71-1h0m-42 7h0m37 16h0m26-10h0m34-1h0m22 2h0m900 5h0m25 0h0m18 2h0m17 2h0m41-3h0m2-4h0m56-1h0m15 16h0m-93-2h0m-9-1h0m-41 8h0m-54-2h0m-793 0h0m-9-3h0m-2-2h0m-34 0h0m-49 0h0m-28 0h0m-35 2h0m-25 1h0m-517 11h0m1 5h0m5-8h0m483-2h0m41-2h0m34 5h0m44 3h0m5-2h0m87-5h0m3 5h0m19 3h0m808-5h0m64-3h0m1-1h0m72 3h0m4 2h0m12-4h0m18 6h0m17 15h0m-68-7h0m-7 0h0m-123 2h0m-14-2h0m-18 9h0m-3-3h0m-793-3h0m-37 4h0m-71-4h0m-39-5h0m-539 3h0m-4-4h0m9 19h0m529-4h0m5 8h0m15-8h0m48-2h0m52 1h0m816 9h0m91-9h0m82 2h0m32 14h0m-49-4h0m-10 9h0m-6-10h0m-976 2h0m-62 4h0m-575 13h0m535 4h0m45-9h0m12-3h0m19 5h0m5-2h0m884 1h0m99 8h0m55-10h0m20 6h0m-61 8h0m-10-3h0m-125 3h0m-847 6h0m-12-7h0m-42 0h0m-61 5h0m-26 1h0m-5-6h0m-480 12h0m9-2h0m533 6h0m0-6h0m16 6h0m39-3h0m943 8h0m88 5h0m-118 5h0m-998-2h0m-29 10h0m2 4h0m32-3h0m34 1h0m906 4h0m25-9h0m5 4h0m29 3h0m61-4h0m63 5h0m-149 12h0m-46-10h0m-3 6h0m0-5h0m-838-1h0m-100 6h0m-40 5h0m0-11h0m-7 4h0m-12 3h0m-9 9h0m6-3h0m4 10h0m13 0h0m8-2h0m0 0h0m39-8h0m20-1h0m31 10h0m46-11h0m813 6h0m12 5h0m16-8h0m2 7h0m34-2h0m3-2h0m75 5h0m19-3h0m-2 14h0m-6-3h0m-9 4h0m-42-9h0m-5 8h0m-7-8h0m-12 0h0m-51 2h0m-6 0h0m-5 3h0m-1 1h0m-1 0h0m-34-1h0m-830 2h0m-6-8h0m-70 5h0m-48-3h0m-14 8h0m-13 2h0m6 7h0m7 0h0m34 3h0m5-11h0m5 8h0m0-1h0m0 5h0m1-11h0m4 4h0m3 6h0m15-5h0m0 1h0m7-7h0m2 1h0m5 5h0m5-5h0m8 0h0m3 8h0m25 1h0m1-3h0m11 2h0m23 0h0m808-7h0m16-2h0m23 5h0m25 4h0m15 2h0m12-9h0m5 10h0m2-1h0m11-8h0m32-2h0m39 2h0m15-1h0m12 9h0m-31 3h0m-22 10h0m-10-5h0m-4-7h0m-4 4h0m-5 3h0m-22 3h0m-42-4h0m-2 0h0m-3 2h0m-14 1h0m-9 2h0m-10-9h0m-890 0h0m-7 2h0m-79 0h0m-68 5h0m-1 13h0m15-1h0m6-6h0m30 5h0m4-8h0m55 8h0m14 0h0m1-3h0m19-1h0m22 1h0m16-3h0m21 10h0m809-1h0m5-5h0m12-2h0m25 2h0m19 5h0m5-9h0m2-1h0m29 6h0m12-1h0m10-1h0m1-5h0m3 10h0m48-7h0m11 18h0m-11-4h0m-11 0h0m-23-3h0m-1-2h0m-9 4h0m-2 2h0m-4 0h0m-10-3h0m-40-2h0m-6 6h0m-2-5h0m-8 7h0m-8 2h0m-28-3h0m-28-6h0m-22 8h0m-805-9h0m-24 10h0m-17-7h0m-25-2h0m-3 9h0m-31-1h0m-6-2h0m-2-3h0m-4-1h0m-26-3h0m-10 4h0m-2-5h0m-31 6h0m-27-6h0m-9 8h0m72 5h0m13 4h0m42-5h0m41 4h0m14 3h0m37 5h0m5-3h0m0 1h0m813-6h0m30 6h0m3-3h0m11 3h0m25-7h0m3 0h0m21 7h0m41-2h0m34 9h0m-23-5h0m-15 8h0m-7-6h0m-28 6h0m-34-7h0m-26 5h0m-19-4h0m-2-2h0m-24 11h0m0-4h0m-32 3h0m-6-2h0m0-4h0m-15 6h0m-740-1h0m-34 2h0m-29-3h0m0-7h0m-5 5h0m-91-5h0m-13 1h0m-27 9h0m0-11h0m-22 2h0m-12 9h0m-43 9h0m35 1h0m5-2h0m1 3h0m10-6h0m81 0h0m20 4h0m16-7h0m11 9h0m1-2h0m52 0h0m2-1h0m2-4h0m5 5h0m18-3h0m2 3h0m814-5h0m14 9h0m3-9h0m1-3h0m50 3h0m6-1h0m21 7h0m35-7h0m11 8h0m3-7h0m0 7h0m1 0h0m6-7h0m17 0h0m-4 19h0m-11 2h0m-2-2h0m-58-4h0m-52-2h0m-16-3h0m-10 6h0m-11-3h0m-12-1h0m-19 1h0m-2 5h0m-800-1h0m-11-3h0m-10 4h0m-8 3h0m-9-10h0m-4 1h0m-15 4h0m-7-4h0m-73 1h0m-10-4h0m-20 5h0m-3 7h0m-3-6h0m-35-5h0m-9 8h0m-4-7h0m-24 10h0m7 3h0m22 3h0m56 1h0m90-5h0m5-1h0m11 1h0m3 10h0m5-3h0m3-9h0m9 12h0m36-9h0m2 7h0m764-6h0m9 1h0m5 4h0m16 2h0m16 1h0m2-4h0m51-7h0m58 9h0m23-4h0m7-3h0m6-3h0m17 2h0m-43 18h0m-5-8h0m-7 2h0m-1 9h0m-5-4h0m-5 5h0m-9-11h0m-6 10h0m-19-2h0m-15 0h0m-27-4h0m-11-3h0m-3 4h0m-8-3h0m-17-1h0m-5 8h0m-34-8h0m-775 0h0m-7 5h0m-35 2h0m-18 0h0m-85-2h0m-6-1h0m-3 2h0m-41-2h0m-2-5h0m-4 2h0m-7 7h0m-8 1h0m3 6h0m37-1h0m6 7h0m14-9h0m16 6h0m1 3h0m6-1h0m2 0h0m28-2h0m5-8h0m18 10h0m1-7h0m8-1h0m10 1h0m17 4h0m4 0h0m9-1h0m7-5h0m790 8h0m45-8h0m40 2h0m11 1h0m8 8h0m9-6h0m4-6h0m1 8h0m18-5h0m7 6h0m14-2h0m2 2h0m10-1h0m6 2h0m8-5h0m5-2h0m12-2h0m2 7h0m3 0h0m-29 8h0m-17 2h0m-9 0h0m-16 0h0m-6 3h0m-11-4h0m-1 6h0m-2-5h0m-14 1h0m-1-4h0m-20 3h0m-20-1h0m-1 5h0m0 0h0m-2-10h0m-14 4h0m-7 0h0m-7 3h0m-14 5h0m-16-9h0m-24 8h0m-7-2h0m-757-6h0m-12-3h0m-5 3h0m-24 8h0m-3-9h0m0 0h0m-3 2h0m0-2h0m-5 2h0m-12 3h0m-5 5h0m-4-1h0m-2-1h0m-23-6h0m-1-2h0m-4 5h0m-10-4h0m-9 5h0m-59-5h0m-7 8h0m-11-3h0m-29 1h0m-3 9h0m18-6h0m1 2h0m3 5h0m23-1h0m5 0h0m0 0h0m10 3h0m8-5h0m6 1h0m9 5h0m18-7h0m5 0h0m2 4h0m19 1h0m32-4h0m2 4h0m836 1h0m5-3h0m15 5h0m15 0h0m4-8h0m20 3h0m11 0h0m31-4h0m5-2h0m65 3h0m33 1h0m-65 9h0m-19 2h0m-25-3h0m-14 3h0m-20-1h0m-15 3h0m-15-1h0m-4 0h0m-1 6h0m-14-5h0m-25-2h0m-885 0h0m-13 0h0m-6 1h0m-2 1h0m-2-3h0m-42 6h0m-7-4h0m-5 0h0m-8 1h0m-12 2h0m-2 4h0m2 11h0m15-7h0m11 2h0m4 0h0m0-3h0m1 8h0m6 2h0m6-8h0m20-4h0m0 5h0m53-5h0m111 1h0m783 1h0m4 2h0m14 2h0m3 0h0m-1005 7h0m-8 3h0m-1-3h0m-10-1h0"/>
<path stroke="#14ad88" d="M956 1907h0m927-1h0m-919 18h0m917 6h0m18-2h0m11 0h0m55 13h0m-39-3h0m-3-2h0m-1 5h0m-3-7h0m-11 3h0m-7 3h0m-18-1h0m-10 1h0m-894 3h0m-11-3h0m-5 4h0m-14-6h0m-14 5h0m-7-5h0m-49 13h0m33 4h0m35-4h0m16-6h0m42 5h0m1 4h0m874-7h0m1 2h0m39-3h0m12 4h0m28-4h0m4 7h0m21 14h0m-15-3h0m-5-5h0m-22 4h0m-4 0h0m-6-6h0m-17 2h0m-23 2h0m-7-4h0m-4 0h0m-7 6h0m-2-4h0m-5 0h0m0 9h0m-871-11h0m-26 9h0m-8 2h0m-45-4h0m-7-4h0m-44 18h0m21-5h0m24-4h0m4 7h0m21-3h0m18-4h0m23 4h0m3 1h0m877 5h0m20-10h0m7 6h0m9-2h0m26-2h0m4-1h0m5 1h0m0 4h0m5 5h0m20-7h0m7 1h0m14 0h0m3 4h0m9-8h0m7 19h0m-3-2h0m-62-2h0m-16 6h0m-17-6h0m-4-5h0m-13 7h0m-8 3h0m-857-4h0m-18 1h0m-17 3h0m-21-7h0m-23 8h0m-13-1h0m-1-5h0m-2 0h0m-12 1h0m-5-3h0m-3-1h0m-2 3h0m-6 6h0m-33-2h0m-6 1h0m13 5h0m24 5h0m10-5h0m7 0h0m1 8h0m3-4h0m31-5h0m39 6h0m16-3h0m7 0h0m857 1h0m1-2h0m15-3h0m20 4h0m8 3h0m9 0h0m11-2h0m7 2h0m22-7h0m20 0h0m2 2h0m17 5h0m9-4h0m-10 12h0m-11 7h0m-31-2h0m-8-1h0m-5 1h0m-20-2h0m-21 2h0m-26 2h0m-17-4h0m-2 4h0m-8 0h0m-4-2h0m-826-8h0m-13 0h0m-23 8h0m-6 1h0m-9-8h0m-16 7h0m-45-1h0m-14 3h0m-23-10h0m-1 8h0m-5 2h0m28 6h0m49-2h0m24-1h0m16 2h0m855 1h0m18 5h0m2-4h0m49-2h0m45 8h0m1-10h0m1 3h0m4 1h0m36-4h0m11 2h0m1-3h0m9 17h0m-64-4h0m-91 3h0m-6-2h0m-12 6h0m0 2h0m-11-1h0m-824 0h0m-8-4h0m-2 3h0m-71-2h0m-57-3h0m-5 3h0m-8 0h0m-1 14h0m9-4h0m38-2h0m3 7h0m74 1h0m6 0h0m3-2h0m7 3h0m14-9h0m15-2h0m826 8h0m8-1h0m2 4h0m13-2h0m0-10h0m10 7h0m13 4h0m16-7h0m6 0h0m20 4h0m7-7h0m2 1h0m8 4h0m3 2h0m2 2h0m21 1h0m12-3h0m1-3h0m16 7h0m3-7h0m-12 15h0m-7 2h0m-18-3h0m-34 1h0m-25 0h0m-7-6h0m-1 6h0m-62-3h0m-3-2h0m-823-1h0m-37 8h0m-68-8h0m-22-2h0m-8 4h0m-33 2h0m-2 3h0m-16 9h0m25-1h0m9-4h0m3 2h0m17 6h0m4 0h0m13-7h0m5 4h0m31-4h0m60 4h0m14-4h0m815 1h0m17 5h0m2 2h0m0-4h0m20-1h0m13 5h0m16-4h0m7-3h0m6 1h0m13 6h0m15-8h0m21 7h0m2-8h0m2 6h0m19-3h0m4 1h0m1-3h0m10 1h0m-3 21h0m-26-10h0m-12 2h0m-16-4h0m-22 7h0m-37 1h0m-51 2h0m-2-10h0m-3 10h0m-858-1h0m-2-4h0m-14 2h0m-10-5h0m-15-1h0m-12 4h0m-17-3h0m-37 19h0m83-6h0m1 5h0m6-4h0m10 0h0m56 4h0m3-4h0m823 6h0m7 0h0m9-10h0m37 8h0m17-3h0m1-2h0m7 8h0m42-1h0m12-4h0m0 1h0m19-1h0m-18 11h0m-47 3h0m-15 2h0m-16-7h0m-3 6h0m-20-4h0m-23 5h0m-6-5h0m-1 3h0m-10 3h0m-847-10h0m-20 7h0m0-2h0m-29-6h0m-4 10h0m-10-9h0m-37 3h0m0 5h0m-2-8h0m-10 3h0m-3 7h0m-5-2h0m-13-1h0m-5 1h0m-3 13h0m34-1h0m44 2h0m9-6h0m19 5h0m22-3h0m852 2h0m9 0h0m9 1h0m5-8h0m11 8h0m16-5h0m16-3h0m7 2h0m7-4h0m8 1h0m46 9h0m13-5h0m8 3h0m-1 10h0m-11 5h0m-14-2h0m-12-8h0m-4 7h0m-10-2h0m-31 1h0m-23-6h0m-38 11h0m-841-9h0m-13 3h0m-23-5h0m-1 0h0m-7 1h0m-25 2h0m-21 2h0m-1-1h0m-4-2h0m-1 3h0m0-6h0m-8 2h0m-17 3h0m-5 5h0m-15 2h0m-2-1h0m-12-8h0m27 18h0m0-1h0m9-5h0m1 6h0m10 1h0m8 1h0m12-4h0m17-7h0m17 2h0m2 4h0m4 2h0m9-3h0m869-2h0m14 5h0m63-5h0m0 1h0m5 1h0m1-2h0m1 0h0m67 14h0m-1 3h0m-47 3h0m-26-8h0m-22 6h0m-4-7h0m-917 9h0m-19-4h0m-12 1h0m-5-2h0m-19 1h0m-49-3h0m19 18h0m38-2h0m21-1h0m10 2h0m6-7h0m963 3h0m4 6h0m1-5h0m44-4h0m-1 16h0m-61 2h0m-17-4h0m-26-3h0m-913 7h0m-1-2h0m-20-4h0m-28 0h0m-18-2h0m20 23h0m3-7h0m16-3h0m951 15h0"/>
<path stroke="#16b9c8" d="M755 1798h0m-47 13h0m28-1h0m913-4h0m14 4h0m27-9h0m13 6h0m13 0h0m29 4h0m-8 7h0m-60-1h0m0 0h0m-2 6h0m-917-5h0m-19 2h0m-31-2h0m-14 3h0m-52-8h0m24 13h0m2 6h0m39 3h0m21-9h0m21 2h0m23-2h0m900 6h0m0 4h0m26-2h0m7-1h0m6 0h0m48 3h0m10 2h0m-2 7h0m-13 2h0m-23-3h0m-20-4h0m-4 0h0m-30 4h0m-11 1h0m-1-7h0m-887 6h0m-29 1h0m-2-5h0m-118 11h0m74 6h0m31-7h0m14 0h0m18 4h0m894-5h0m2 10h0m5-9h0m28 1h0m11 8h0m0-7h0m10-2h0m13 5h0m62 15h0m-16-9h0m-1 8h0m-12-7h0m-9 7h0m-3-5h0m-7-4h0m-8 9h0m-6 2h0m-1-10h0m-7 2h0m-5 9h0m-4-12h0m-2 9h0m-25-3h0m-10 0h0m-9 0h0m-878 1h0m-4-1h0m-38 3h0m-6-1h0m-92 1h0m-7-6h0m-12-1h0m-17 14h0m62 7h0m5-11h0m29 9h0m4-8h0m48 10h0m903-3h0m23-1h0m2-1h0m8-1h0m20 5h0m3-5h0m1-5h0m8 4h0m5 0h0m4-1h0m56 9h0m-18 1h0m-12 6h0m-22-4h0m-43 7h0m0-9h0m-916 6h0m-49-2h0m-103 6h0m-25 11h0m121 1h0m30-6h0m13 5h0m4-5h0m880 6h0m0-5h0m22 6h0m21-7h0m24 6h0m35 0h0m40-4h0m2-4h0m-25 15h0m-41-2h0m-5-3h0m-8 10h0m-11-8h0m-3-2h0m-13 9h0m-5 1h0m-23-3h0m-10 0h0m-13 1h0m-24-5h0m-8 7h0m-819-8h0m-18 8h0m-49-3h0m-109 5h0m9 8h0m83 1h0m43-4h0m13 5h0m15-1h0m14-9h0m18 2h0m4-2h0m825 10h0m3-2h0m32 1h0m8-2h0m13 0h0m15-2h0m3 2h0m27-4h0m7-3h0m15 6h0m3 4h0m0-8h0m8 3h0m22 7h0m-44 0h0m-13 0h0m-14 0h0m-7 4h0m-2-4h0m0 4h0m-29-2h0m0-3h0m-3 10h0m-10 2h0m-27-2h0m-883-3h0m-7 0h0m-9 2h0m-24-7h0m-33 4h0m-11 4h0m-76-7h0m58 18h0m6 1h0m81 1h0m7-9h0m4 0h0m2-1h0m874 5h0m14 5h0m11-4h0m12 1h0m116 11h0m-2-2h0m-26 3h0m-17 0h0m-24 2h0m-32-3h0m-6-1h0m-3-6h0m-40 7h0m-845 3h0m-27 1h0m-45 12h0m1-5h0m16-3h0m8 0h0m11 4h0m2-6h0m10 3h0m19 6h0m863-5h0m1-4h0m7 3h0m15-3h0m39 6h0m59 4h0m5-10h0m-9 18h0m-55-2h0m-16 2h0m0-5h0m-37 7h0m-7 3h0m-11-4h0m-6-7h0m-14 6h0m-837-3h0m-26 0h0m-11 1h0m-18 7h0m-1-6h0m-3 6h0m-79-7h0m-26 1h0m7 17h0m2-6h0m11-4h0m79 7h0m38 2h0m0 0h0m4-8h0m842-1h0m80-1h0m1 10h0m12-8h0m24-1h0m25 6h0m14-2h0m5 7h0m-19 6h0m-30-5h0m-24 10h0m-42-2h0m-6 1h0m-6-7h0m-883 9h0m-3-2h0m-34 1h0m-11-5h0m-42 5h0m-36-8h0m-12 1h0m-7 12h0m2 2h0m12 2h0m6-4h0m12-3h0m44 7h0m9-3h0m16 1h0m7 6h0m11-10h0m1 7h0m9 0h0m867-3h0m36 5h0m3-9h0m18 7h0m25-2h0m20 0h0m17 3h0m31-1h0m2 10h0m-69-5h0m-9-1h0m-3 0h0m-13 2h0m-3 6h0m-909-4h0m-29-2h0m-29 6h0m-17-2h0m-9 3h0m-11 0h0m-5 2h0m-4-8h0m-16 6h0m0 7h0m11-2h0m10 2h0m16 3h0m37-7h0m13 10h0m25-3h0m902 0h0m3 1h0m11-9h0m25 7h0m7-7h0m31 6h0m11-6h0m25 1h0m-17 19h0m-9 2h0m-9-3h0m-3-6h0m-11 7h0m-11-5h0m-7 9h0m-4-3h0m-41 3h0m-10-7h0m-895 0h0m-19-2h0m-25 3h0m-4 1h0m-3-4h0m-30 8h0m-5-9h0m-10 9h0m-17-2h0m11 12h0m17 3h0m1-10h0m42 0h0m0 5h0m9-5h0m945 7h0m20-7h0m2 8h0m19 0h0m8-2h0m4 4h0m14-8h0m2 9h0m-11 2h0m-25 4h0m-50-7h0m-905 10h0m-23-4h0m-3-2h0m-14 7h0m-8-1h0m-5 1h0m-7-7h0m-24 7h0m-1-8h0m-1 4h0m-1-7h0m-6 17h0m8-2h0m7 8h0m1 0h0m11-9h0m27 0h0m8-2h0m4 1h0m952 5h0m7 4h0m67-8h0m-13 21h0m-6-1h0m-30 2h0m-6-9h0m-992 2h0m-26-4h0m1035 15h0m18-1h0"/>
<path stroke="#8d7ef2" d="M1601 1609h0m-11 23h0m16 12h0m-1062 23h0m1071-9h0m-26 13h0m-935 8h0m-54-3h0m-39 15h0m2-5h0m1 2h0m8-3h0m40 2h0m11-4h0m12 7h0m1008-6h0m-13 19h0m-29-3h0m-10 0h0m-2-4h0m-923-1h0m-14 2h0m-6-1h0m-43 16h0m17-6h0m1 0h0m6 8h0m0-8h0m28 2h0m1 2h0m32-5h0m912 5h0m9-3h0m1 7h0m8-1h0m66 2h0m14 12h0m-19-10h0m-18 6h0m-33 2h0m-3-7h0m-10 1h0m-8-1h0m-928 2h0m-10 3h0m-101 8h0m38 3h0m52 2h0m16 1h0m926 3h0m30-8h0m22 7h0m47-8h0m15 6h0m6-2h0m-39 16h0m-10-6h0m-5 4h0m-3-3h0m-7 5h0m-11-9h0m-24 3h0m-20 1h0m-902 5h0m-6-7h0m-21 2h0m-18 1h0m-7 0h0m-7 0h0m-15-5h0m-23 9h0m-12 3h0m41 3h0m4-1h0m5-1h0m59 2h0m3 3h0m28 2h0m946-10h0m5 10h0m16-9h0m3 2h0m10 8h0m6 0h0m14 3h0m-11 4h0m-16 0h0m-4 3h0m-8-8h0m-44 5h0m-3-5h0m-30 0h0m-893 2h0m-14 4h0m-5 1h0m-15-2h0m-66-3h0m-53-1h0m88 20h0m5-9h0m20-1h0m20 1h0m13 2h0m3 7h0m7-7h0m5 3h0m18-4h0m906 7h0m7 3h0m8-9h0m6 2h0m17 1h0m31-2h0m6-4h0m5 8h0m-33 10h0m-1007-4h0m-21 7h0m-13-1h0m-20-4h0m-2-3h0m23 15h0m51 4h0m1-5h0m36 1h0m-333 409h0m37 28h0m956 5h0m-884 3h0m893 8h0"/>
<path stroke="#d57cf2" d="M1603 1415h0m-1016 15h0m-6 9h0m16 10h0m17-2h0m873 5h0m72-8h0m12 0h0m7 8h0m8-11h0m0 0h0m1 5h0m19-1h0m-9 17h0m-8-10h0m-61 2h0m-934 9h0m-12-1h0m-21-9h0m-11 9h0m12 13h0m23-7h0m19-1h0m921 7h0m44-9h0m13 0h0m3 8h0m3 2h0m14 6h0m-5 1h0m-74 2h0m-6-6h0m-923 3h0m-38 5h0m-5-2h0m-10-5h0m-26 17h0m12 0h0m24 4h0m21-10h0m7 9h0m1-8h0m29-2h0m915 3h0m67-3h0m0 12h0m-7 5h0m-11-6h0m-2 9h0m-978 3h0m-5-10h0m-5 7h0m-23 2h0m-19-11h0m7 20h0m3-6h0m14 3h0m919 2h0m45-7h0m67 11h0m-43 4h0m-30 6h0m-1-8h0m-27-1h0m-921 7h0m-1 0h0m-18-5h0m-19 1h0m-17 20h0m25 0h0m0-3h0m972-4h0m39 2h0m5 13h0m-977-5h0m-13 2h0m-27 7h0m13 4h0m961 6h0m25-5h0m32 19h0m-37 0h0m39 22h0m-6-8h0"/>
<path stroke="#ec52cd" d="M1913 1820h0m-7 1h0m-8-1h0m-981-4h0m-5 1h0m-9 4h0m-3-3h0m0 15h0m999-7h0m1 5h0m7 3h0m2-9h0m9 6h0m21 12h0m-16-3h0m-12 6h0m-38-6h0m-950 6h0m-22-5h0m-2 4h0m-1 3h0m-3-5h0m51 14h0m0-5h0m43-2h0m914 4h0m6-3h0m17 4h0m24-1h0m13 5h0m19-2h0m9-5h0m1 18h0m-26 2h0m-28-4h0m-18 1h0m-12-1h0m-921 3h0m-4-3h0m-1-5h0m-1 3h0m-5 0h0m0 4h0m-2 0h0m-60-1h0m-16-5h0m52 12h0m29-2h0m10-1h0m0 2h0m1 4h0m3 4h0m0-10h0m868 9h0m29 2h0m6-8h0m17 1h0m27 0h0m26 1h0m0 3h0m0-6h0m8 5h0m8-3h0m-1 16h0m-7-4h0m-3-4h0m-3 2h0m-3 6h0m-18-9h0m-13 12h0m-45-3h0m-904-5h0m-72-3h0m-18 4h0m16 17h0m23-6h0m3 2h0m10-3h0m23 6h0m8-8h0m7 3h0m8 7h0m4 0h0m0 0h0m891-3h0m33 1h0m2-6h0m61 0h0m-7 15h0m-1 6h0m-21-7h0m-3-2h0m0-2h0m-22 7h0m-14 3h0m-2-3h0m-2-3h0m-19-3h0m-3 10h0m-888-8h0m-21-1h0m-8-2h0m0 9h0m-14-7h0m-1 3h0m-16 3h0m-33 3h0m12 2h0m20-2h0m0 3h0m21 9h0m944-8h0m23-1h0m-973 9h0m-34 0h0m1047 13h0"/>
<path stroke="#cc9b06" d="M201 2284h0m129-2h0m860 3h0m27 2h0m5 5h0m58-6h0m9 5h0m23 11h0m-952-1h0m-9-4h0m-7-1h0m-2 2h0m-62 0h0m-25-1h0m-29 2h0m-66-3h0m10 14h0m68-1h0m9-3h0m9 1h0m3 2h0m105-3h0m794 6h0m16-1h0m52 0h0m15 1h0m92 4h0m48 7h0m-31-6h0m-3 8h0m-12-9h0m-11 9h0m-1 0h0m-15-3h0m-12 0h0m-96 1h0m-817 1h0m-32 1h0m-7-6h0m-8 9h0m-148-2h0m-28-8h0m11 17h0m36 1h0m2-4h0m33 2h0m14-1h0m8 7h0m10-11h0m35 9h0m5-6h0m4-1h0m9 0h0m5 8h0m0-7h0m8 7h0m6-7h0m9 1h0m4 5h0m5-2h0m1-1h0m2 2h0m13 0h0m19 0h0m4 3h0m797-7h0m21-4h0m99 5h0m51-5h0m2 6h0m2-3h0m5 3h0m23 16h0m-16-1h0m-18 1h0m-11-5h0m-10-1h0m-9 0h0m-8 0h0m-18 4h0m-15 3h0m-2-1h0m-10-2h0m-9-7h0m-3 3h0m-16-1h0m-1 2h0m-15 2h0m-5-1h0m-10 2h0m-1-9h0m-5 9h0m-2 2h0m-17-8h0m0 7h0m-3-3h0m-10 2h0m-764-2h0m-30 2h0m-16-6h0m-6 8h0m0-9h0m-12 2h0m-46 4h0m-2-7h0m-19 6h0m-34 0h0m-28 3h0m-1-3h0m-14 4h0m-34-3h0m-4-2h0m34 7h0m47 4h0m1 6h0m10 0h0m12-2h0m34-7h0m0 9h0m16-2h0m4-6h0m3 5h0m17-3h0m14-4h0m1 5h0m4-3h0m2 5h0m12-3h0m14 5h0m4 1h0m9-9h0m29 6h0m731 2h0m14-6h0m9-2h0m14 4h0m5-1h0m9 6h0m21-2h0m3-3h0m22 5h0m9-6h0m16 2h0m3-7h0m41 6h0m14-2h0m1-1h0m54 6h0m1 1h0m1 14h0m0-2h0m-8-2h0m-12-8h0m-3 12h0m-3-4h0m-26-4h0m-31 7h0m-9-7h0m-29 5h0m-5 0h0m-21 0h0m-17 1h0m-22-9h0m-7 7h0m-18-5h0m-15 7h0m-767-8h0m-2 0h0m-32 3h0m-12 6h0m-22-5h0m-14 2h0m-4-1h0m-8-4h0m-10 3h0m-20-1h0m-37 4h0m-7-2h0m-43 5h0m-2-3h0m-20-1h0m-10 4h0m8 5h0m1 4h0m16-6h0m2-3h0m15 0h0m17 7h0m11 4h0m6-2h0m6-2h0m2-3h0m10 6h0m16 0h0m0 2h0m13-1h0m15 1h0m1-11h0m8 9h0m8-9h0m0 10h0m9-9h0m6 9h0m11-1h0m5-7h0m5 8h0m1-3h0m10-2h0m39-4h0m780 8h0m11-1h0m13-5h0m6 6h0m19-6h0m27 7h0m18-5h0m0 1h0m6-2h0m58 5h0m20-5h0m4-1h0m1-2h0m1 4h0m7 1h0m28 0h0m9 9h0m0-1h0m-26 1h0m0 1h0m-6-5h0m-58 1h0m-10 4h0m-3-2h0m-8 1h0m-11-2h0m-9 4h0m-5 1h0m-8 2h0m-12 0h0m-55 0h0m-4-6h0m-6 2h0m-8-1h0m-1 5h0m-9-6h0m-7 3h0m-754 3h0m-11-1h0m-17-5h0m-17 9h0m-1-9h0m-2 4h0m-56-4h0m-1 6h0m-4-4h0m-17-4h0m-15 1h0m-34 8h0m-31-6h0m-13 6h0m-2-5h0m-4 5h0m0-6h0m-10-2h0m-4 7h0m-12 4h0m2 10h0m27-1h0m43-4h0m5 0h0m15-5h0m3 3h0m2 3h0m10 3h0m1-1h0m3-4h0m13-2h0m7 3h0m12-6h0m4 9h0m22-4h0m20 6h0m8-5h0m6 5h0m0-7h0m819-2h0m28 0h0m6 7h0m12 0h0m26-5h0m9 5h0m2 2h0m7-2h0m14-3h0m11-1h0m10 2h0m2-6h0m48-1h0m0 5h0m17-2h0m4-2h0m0 1h0m4 3h0m4 2h0m13-6h0m25 8h0m-14 11h0m0-4h0m-8 6h0m-21-10h0m-17 9h0m-3-4h0m-3 2h0m-19-5h0m-12 3h0m-12 3h0m-6 4h0m-8-5h0m-24-2h0m-7-5h0m-35 10h0m-1-6h0m-7 4h0m-10-2h0m-13 2h0m-3 4h0m-11-1h0m-6-6h0m-750 1h0m-34-4h0m-9 5h0m-18-5h0m-18 10h0m-1-8h0m-5-1h0m-20-2h0m-8 4h0m-32 5h0m-5-2h0m-39-6h0m-18-1h0m-26 4h0m-30 2h0m-4-6h0m3 14h0m11-1h0m23 3h0m20 5h0m5-6h0m40 5h0m3 1h0m8-7h0m6 1h0m29 5h0m27 1h0m11-5h0m24 2h0m12-7h0m5 12h0m3-11h0m0 11h0m3-6h0m2-6h0m19 7h0m781 2h0m47 2h0m5-9h0m27 6h0m36-4h0m4-3h0m36 0h0m39 9h0m24-8h0m-28 16h0m-3-6h0m-8 4h0m-13 0h0m-1 2h0m-8 3h0m-12 2h0m-3-5h0m-2 1h0m-25-5h0m-51 9h0m-3-10h0m-2 0h0m-13 9h0m-1-7h0m-6 0h0m-19-1h0m-2 6h0m-11-4h0m-5 2h0m-26-2h0m-1 2h0m-764-3h0m-7 6h0m-2-5h0m-25 1h0m-7-2h0m-7 3h0m-29-6h0m-5 10h0m-11 0h0m-16-8h0m-1 8h0m0-7h0m-2 6h0m-5-5h0m-50 2h0m-12 4h0m0-5h0m-12-5h0m-7 8h0m-30 0h0m-9 0h0m29 14h0m14-5h0m0 5h0m1-1h0m8-8h0m30 3h0m27 1h0m14 2h0m15 4h0m1-2h0m83-8h0m802 4h0m9 1h0m4-2h0m42 7h0m2-9h0m32 4h0m14-2h0m7 1h0m6 5h0m37-5h0m7 0h0m9 3h0m9 2h0m3-6h0m1 1h0m2 3h0m17 4h0m-33 0h0m-6 6h0m-5-2h0m-9 7h0m-30-7h0m-28 2h0m-11 1h0m-1 2h0m-3-6h0m-19-2h0m-6 2h0m-7 9h0m-40-8h0m-16-1h0m-778 7h0m-4 1h0m-15-1h0m-16-10h0m-1 2h0m-30 0h0m-36 2h0m-15 2h0m-2 2h0m-10-2h0m-19 1h0m-23-1h0m-9 4h0m-21-10h0m-2 5h0m-6 4h0m0-7h0m-5 12h0m8 6h0m21-2h0m26 5h0m35 0h0m34-1h0m19-5h0m19 3h0m0 1h0m12-4h0m25-1h0m12 2h0m807 5h0m19-2h0m10-8h0m12 2h0m8 2h0m25 0h0m4 4h0m4-8h0m25 5h0m6 3h0m16-5h0m2 8h0m5-12h0m5 6h0m43-3h0m17 1h0m-27 9h0m-9 6h0m-12-1h0m-40-2h0m-9 0h0m-7 5h0m-26-1h0m-8 3h0m-10 0h0m-2 1h0m-1-1h0m-24 0h0m-1-9h0m-2 9h0m-13-1h0m-5-2h0m-27-4h0m-4-4h0m-786 8h0m-5-1h0m-11 2h0m-18-5h0m-20 0h0m-22 0h0m-14 4h0m-2-6h0m-7 6h0m-2-5h0m-15 1h0m-51 5h0m-69-1h0m27 6h0m9-2h0m12 10h0m14-9h0m18 5h0m15 5h0m1-6h0m50 1h0m13 1h0m6 0h0m35 5h0m2-11h0m13 2h0m9 8h0m862-7h0m17 1h0m1 4h0m29-2h0m16 2h0m60-4h0m1 3h0m-1 10h0m-49 6h0m-18-3h0m-8-8h0m-4 1h0m-1 1h0m-7 1h0m0 8h0m-32-11h0m-1 6h0m-33-5h0m-4 4h0m-5-6h0m-832 5h0m-3-2h0m-20 1h0m-15-3h0m-7 10h0m-6 0h0m-19-7h0m-24 0h0m-19 3h0m-7 2h0m-10-1h0m-27 3h0m-12-2h0m25 12h0m2 1h0m7-5h0m13-4h0m14 6h0m1-2h0m20-3h0m7 3h0m16 2h0m29 0h0m18-2h0m20 5h0m828-2h0m30-3h0m12 5h0m16 1h0m17 0h0m38-10h0m29 18h0m-38-4h0m-3-3h0m-40 9h0m-13-4h0m-948-5h0m-29 1h0m-19 3h0m-1 6h0m-1 0h0m-4-8h0m-10 0h0m69 11h0m10 0h0m975 1h0m3 10h0m15-11h0m-23 18h0m-2-6h0"/>
<path stroke="#9dac08" d="M237 1991h0m-29-2h0m-15 1h0m3 7h0m990 2h0m-924 11h0m-12 0h0m-18-2h0m-36 3h0m25 8h0m1008 8h0m1 0h0m11 12h0m-6-9h0m-3 1h0m-25 5h0m-942-6h0m964 18h0m3-5h0m9 6h0m18-8h0m5 7h0m-6 7h0m-4 6h0m-8-9h0m-36 10h0m-21-2h0m-11-1h0m-896-5h0m-40 7h0m-21 1h0m-1-5h0m3 10h0m94 2h0m9 5h0m43 0h0m836-6h0m45 5h0m1-6h0m4 6h0m20-3h0m1-3h0m-37 11h0m-14 0h0m-10 3h0m-1-1h0m-25 0h0m-9 7h0m-13 0h0m-805 0h0m-49-10h0m-14 10h0m-115-8h0m17 14h0m14-4h0m39 10h0m14-5h0m105 0h0m802-5h0m12 4h0m17 3h0m23 3h0m23-6h0m1 6h0m2-8h0m1 6h0m6-5h0m18 1h0m6 5h0m2 5h0m-10 5h0m-24 2h0m-11 0h0m-22-3h0m-10 0h0m-4-3h0m-7 2h0m-823 6h0m-13-8h0m-114 5h0m-28-6h0m11 11h0m26 9h0m30-5h0m16-5h0m3 9h0m18-7h0m64 5h0m798-4h0m8-1h0m10 3h0m7-2h0m1 7h0m13-9h0m6 1h0m2 5h0m7-4h0m1 7h0m10-3h0m27 3h0m21 9h0m-2-3h0m-6 3h0m-3 2h0m-23-4h0m-14-6h0m-12 2h0m-6 3h0m-12-3h0m-3 6h0m-22 2h0m-1-2h0m-21 1h0m-794-8h0m-30 1h0m-31 4h0m0-5h0m-136 8h0m-4 14h0m6-5h0m10-3h0m4 7h0m1 0h0m20-2h0m13-7h0m18 11h0m84-10h0m849 4h0m10 1h0m8 4h0m18 0h0m28-3h0m11-1h0m3-6h0m30 7h0m3 0h0m6-2h0m10 5h0m20-1h0m16-1h0m10-5h0m9 7h0m7-1h0m-11 12h0m-11-3h0m-20-6h0m-20 5h0m0-5h0m-11 10h0m-4-4h0m-63-2h0m-16 6h0m-7-9h0m-6 8h0m-13-9h0m-4 9h0m-2-3h0m-8 1h0m-833-2h0m-11-3h0m-4 8h0m-69-8h0m-4 5h0m0-7h0m-34 5h0m-8-1h0m-1 1h0m-18 1h0m-6 1h0m-11 4h0m-5-4h0m-6 14h0m86-5h0m3 6h0m0-10h0m30 3h0m12 5h0m9-7h0m21 3h0m24 1h0m812 4h0m9-6h0m17 7h0m1-5h0m7 0h0m3 2h0m5-2h0m5 0h0m5 3h0m14-5h0m4 2h0m3-4h0m9 4h0m13 5h0m5 0h0m5-2h0m55 1h0m24 11h0m-30-2h0m-47-4h0m-5 0h0m-1 5h0m-2-4h0m-13-2h0m-6-1h0m-4 4h0m-17 7h0m-12-3h0m-22-8h0m-10 10h0m-18 0h0m-846-10h0m-4 9h0m-1-5h0m-29-2h0m-9 0h0m-29 1h0m-4 2h0m-51 6h0m-29 11h0m3-6h0m12 5h0m0-9h0m18 2h0m4 9h0m11-4h0m9 0h0m2 0h0m1 1h0m1 0h0m13-1h0m32-6h0m1 2h0m20 7h0m5-2h0m18 0h0m8-4h0m0-2h0m11 7h0m19-6h0m793 6h0m27-9h0m22 10h0m65-10h0m26 9h0m5 0h0m22 2h0m25-4h0m6-2h0m1-2h0m6 2h0m2 14h0m-12-3h0m-8-3h0m-4 1h0m-18 2h0m-1-5h0m-74 6h0m-9-4h0m-11 4h0m-29-4h0m-17 4h0m-826-5h0m-1 9h0m-30-5h0m-41 0h0m-8-5h0m-4 1h0m-1 8h0m-26-1h0m-16 3h0m-12-2h0m-1 3h0m-7-8h0m-19 7h0m-10 9h0m12-7h0m19-1h0m11 4h0m27 1h0m40-1h0m13 3h0m22 4h0m6-6h0m5-3h0m13 0h0m0-1h0m2 1h0m3 0h0m825 9h0m7-10h0m48 2h0m0 3h0m12-6h0m6 6h0m41 3h0m2 3h0m2-5h0m4 4h0m29-8h0m21 5h0m8-6h0m-6 17h0m-2-1h0m-7 5h0m-25 0h0m-23-8h0m-30 7h0m-10-2h0m-25-6h0m-20-1h0m-22 5h0m-8 3h0m-9-1h0m-810-1h0m-8-6h0m0 10h0m-27-2h0m-12-3h0m-5 4h0m-17-1h0m-41-6h0m-28-2h0m-4 0h0m-10 5h0m-7 3h0m0 1h0m-28-3h0m-14 5h0m2 8h0m4-2h0m3-3h0m32-1h0m8 4h0m4-1h0m2 5h0m42 1h0m15-6h0m6-1h0m3 6h0m31-7h0m3 0h0m18 9h0m28 0h0m830-11h0m5 10h0m24 0h0m39-5h0m4 4h0m53-8h0m6 3h0m-69 14h0m-14 3h0m-13-5h0m-30 4h0m-19-9h0m-819 10h0m-8-9h0m-30 2h0m-3 2h0m-3 3h0m-5-7h0m-20 2h0m0 6h0m-5 2h0m-3-3h0m-3 0h0m-5-6h0m-37 9h0m-15 1h0m-26-1h0m-3-10h0m-10 4h0m-1 2h0m-12-6h0m-3 6h0m-7-6h0m-2 4h0m0 1h0m3 12h0m8 4h0m0-2h0m0-3h0m7 0h0m44-3h0m10 7h0m6-6h0m4 1h0m2-3h0m2 4h0m14-4h0m2 3h0m7-1h0m19-3h0m18 10h0m17-10h0m7 2h0m5 9h0m3-3h0m15-7h0m828 9h0m7-1h0m17 3h0m0-1h0m24-3h0m57-4h0m3-3h0m4 4h0m7-3h0m41 19h0m-11 2h0m-6-11h0m-9 5h0m-1 3h0m0-7h0m-12 2h0m-41 6h0m-6-4h0m-16-4h0m-16 7h0m-10 3h0m-8-8h0m-6 6h0m-19-5h0m-833 7h0m-6-10h0m-3 1h0m-7 3h0m0 0h0m-2 6h0m-45 0h0m-3-5h0m-34-1h0m-46-5h0m-28 15h0m10 3h0m15-2h0m23 5h0m12-8h0m8 4h0m4-4h0m5 7h0m1-1h0m73 3h0m36-7h0m835 6h0m2 3h0m33-7h0m14-4h0m3 7h0m66-2h0m5-2h0m21 2h0m9 1h0m20 0h0m-23 10h0m-27 1h0m-18-1h0m-15 1h0m-23-5h0m-5 3h0m-29 4h0m-5-7h0m-19-1h0m-3 2h0m-30 4h0m-800 4h0m-7 1h0m-18-5h0m-46 5h0m-16-6h0m-3-4h0m-3 2h0m-4 4h0m0 4h0m-27-4h0m-4 2h0m-25-4h0m-16 0h0m-6 1h0m-7 5h0m-2-11h0m-11 10h0m-8-9h0m15 15h0m6-3h0m10 3h0m4 5h0m2 0h0m20 2h0m5 0h0m6 0h0m16-5h0m7 5h0m2-2h0m10-4h0m24 5h0m11 0h0m23-3h0m4-4h0m22 3h0m835 0h0m13 2h0m7 0h0m29 0h0m3-3h0m15 6h0m2 1h0m18-5h0m47-1h0m15 5h0m12-2h0m5 3h0m-17 10h0m-13-2h0m-15-2h0m-28-5h0m-42 1h0m-34 5h0m-798 3h0m-27-3h0m-29-5h0m-9 8h0m-16-6h0m-11-1h0m-2 7h0m-13-9h0m-7 0h0m-58 9h0m-5 1h0m-30-6h0m0 0h0m-5-2h0m-3-2h0m0 18h0m1-6h0m2 1h0m34-2h0m14 1h0m9 5h0m10 3h0m13 1h0m2-7h0m2 4h0m2-1h0m7 3h0m18-6h0m15 3h0m26-5h0m25 1h0m5-1h0m1 9h0m14-6h0m26-1h0m761 4h0m20-5h0m8 8h0m1-9h0m3 3h0m6-1h0m52 6h0m1-3h0m2-4h0m6 0h0m2 5h0m5 3h0m38-6h0m23-4h0m7 4h0m24 20h0m-24-12h0m-84 3h0m0-2h0m-49 5h0m-15 1h0m-25 1h0m-758-1h0m-13 2h0m-133-2h0m-26-6h0m-40 10h0m-10-2h0m71 13h0m36-3h0m5-6h0m16 0h0m30 0h0m19 4h0m919 2h0m8 2h0m17 2h0m-16 7h0m-56-2h0m-842 6h0m-3-4h0m-40 0h0m-59-2h0m-12 5h0m-76-4h0m78 13h0m918 0h0m33-6h0"/>
<path stroke="#46b41c" d="M1489 1759h0m9 9h0m-24 5h0m-8 2h0m-998 8h0m987 1h0m52-7h0m2 19h0m-1006 4h0m-30-7h0m-36 16h0m8 0h0m49 2h0m26-4h0m939 1h0m7-2h0m1 4h0m24-8h0m21 13h0m-27 4h0m-1 0h0m-16-3h0m-1 2h0m-16 5h0m-922-1h0m-86 8h0m6-2h0m24 4h0m13 2h0m7-8h0m5 3h0m5-1h0m1 3h0m3 4h0m6-1h0m11 0h0m923-9h0m5 10h0m54-5h0m1 9h0m-4 8h0m-22-9h0m-8 5h0m-5-5h0m-16 9h0m-1-3h0m-12-1h0m-2-2h0m-907-4h0m-10 10h0m-9-5h0m-7-2h0m0 3h0m-17-3h0m-23-3h0m-19 1h0m-14-2h0m-17 0h0m-6 0h0m1 16h0m14 7h0m3 0h0m16-1h0m4-3h0m10-4h0m26-1h0m2-1h0m48 0h0m1 9h0m875-10h0m20 12h0m52-10h0m23 4h0m2-4h0m7 2h0m26 2h0m6 12h0m-11-6h0m-7 12h0m-2-8h0m-35-1h0m-34 6h0m-15-7h0m0 2h0m-22 6h0m-2-1h0m-16 1h0m-10 2h0m-863-4h0m0-6h0m-1 1h0m-20 3h0m-23 6h0m-20-2h0m-13-6h0m0 7h0m-7-10h0m-1-1h0m-46 3h0m-4 3h0m-4 5h0m-10-4h0m-17 15h0m61-4h0m37-6h0m29 3h0m25 4h0m1-2h0m14-4h0m9 10h0m2-2h0m841-9h0m36 12h0m17-4h0m26 3h0m26-4h0m18 1h0m23-2h0m13 5h0m1-3h0m25 1h0m-13 12h0m-2-8h0m-2 0h0m-42 11h0m-7 0h0m-4-2h0m-10-4h0m-2-6h0m-13 4h0m-12 8h0m-15-7h0m-28 5h0m-45-1h0m-880 0h0m-2-6h0m-7 1h0m-15 3h0m-3-6h0m-55 0h0m-13 6h0m-24 1h0m-21-2h0m10 11h0m50-1h0m2 4h0m27-8h0m3 3h0m13-2h0m6 11h0m11-8h0m11-3h0m3 5h0m25 0h0m18 3h0m826-9h0m12 1h0m3 11h0m2-10h0m1 10h0m3 0h0m20-7h0m10 3h0m22-7h0m10 11h0m21-9h0m23 3h0m9 0h0m2 3h0m9-5h0m2-1h0m2 5h0m7-1h0m0-6h0m33 21h0m-22 0h0m-8-4h0m-44 2h0m-2 4h0m-27-5h0m-5-3h0m-7 8h0m-7-1h0m-5-8h0m-9-1h0m0 5h0m-5-1h0m-40-5h0m-1 4h0m-22-3h0m-789 10h0m-20-2h0m-14 2h0m-2-5h0m-5 4h0m-17-2h0m-12 2h0m-70-1h0m-31-6h0m-29 7h0m-8 8h0m9-1h0m21 5h0m34-10h0m8 6h0m25 1h0m7 3h0m2-2h0m6 2h0m30 0h0m36-10h0m805 6h0m15-1h0m9-1h0m17 4h0m26-4h0m32 6h0m5-9h0m7 3h0m6 0h0m0 4h0m40 1h0m10 0h0m16-4h0m4 5h0m9-2h0m6-5h0m4-3h0m21-1h0m-15 16h0m-14 0h0m-26-2h0m-19 3h0m-28 0h0m-4 5h0m-9-4h0m-9 0h0m-12 5h0m-26-6h0m-14 0h0m-17 5h0m-23-2h0m-2-7h0m-4 6h0m-782-4h0m-19 7h0m-50-6h0m-9 5h0m-10-9h0m-16 4h0m-1 2h0m-21 4h0m-18-3h0m-3-1h0m-32-1h0m-6 1h0m-1-2h0m-4-2h0m-1 8h0m-2-8h0m-3 18h0m16-6h0m8 0h0m2 8h0m2-1h0m34 3h0m2-1h0m89-8h0m3 1h0m12-2h0m3 7h0m806-7h0m9 2h0m15 7h0m8-1h0m41 2h0m9-2h0m2 1h0m0-10h0m7 3h0m0-1h0m4 9h0m2-1h0m19-9h0m32 4h0m10-6h0m7 11h0m4 0h0m0-1h0m12-7h0m12 11h0m-38 7h0m-8 2h0m-7-4h0m-3 5h0m-51-2h0m-6-6h0m-14-3h0m-29-1h0m-16 6h0m-7-1h0m-6 2h0m-2 1h0m-798 0h0m-13-1h0m-4-6h0m-30 8h0m-4-1h0m-10-5h0m-9-1h0m-13 0h0m-19 3h0m-13-1h0m-3 5h0m-6 2h0m-2 1h0m-5-6h0m-6 5h0m-9-10h0m-30 3h0m-3 5h0m0-2h0m-15 4h0m16 8h0m7-2h0m18 7h0m7-11h0m14 8h0m25 0h0m13-1h0m21-4h0m4 3h0m6-3h0m48-3h0m12 8h0m1-3h0m10-3h0m776 0h0m4 1h0m27 3h0m13-2h0m64-4h0m2 1h0m3 9h0m13 1h0m4-2h0m43-8h0m5 2h0m29 14h0m-22-4h0m-28 9h0m-19-5h0m-1-6h0m-16 2h0m-15 9h0m-6-5h0m-5-5h0m-18 7h0m-23 2h0m-1-5h0m-4 5h0m-15-3h0m-6 0h0m-5-1h0m0-1h0m-8 5h0m-1-1h0m-783 2h0m-31-9h0m-6 3h0m-12-4h0m-10 1h0m-8 8h0m-32-5h0m-2 5h0m-2-1h0m-1 2h0m-2-3h0m-9-6h0m-12 4h0m-1-5h0m-23-1h0m-5 3h0m-67 7h0m13 3h0m33 0h0m54 9h0m2-6h0m1-2h0m2 7h0m1-2h0m1 3h0m11 0h0m17-3h0m26-3h0m5 7h0m882-4h0m8 4h0m7-8h0m15 0h0m6 0h0m24-3h0m64 9h0m2 0h0m1-5h0m9 1h0m-1 10h0m-16-2h0m-7 11h0m-1-11h0m-12 2h0m-21 2h0m-6 3h0m-5-6h0m-11-2h0m-6 10h0m-6-6h0m-4 4h0m-35 1h0m-6-7h0m-14-1h0m-7-1h0m-2 10h0m-29 2h0m-797-3h0m-5 3h0m-9-7h0m-7 7h0m-11-11h0m-3 4h0m-7-2h0m-2 8h0m-17-2h0m-1-3h0m-14-5h0m-29 3h0m-26-3h0m-29 6h0m-4 5h0m-16-11h0m-7 6h0m21 13h0m11-7h0m11 7h0m11-2h0m10-3h0m16 7h0m1-3h0m5 4h0m14 1h0m9-4h0m7-8h0m5 3h0m5-2h0m32 1h0m1 1h0m825 5h0m2 3h0m5-7h0m3-3h0m0 8h0m6-6h0m1 1h0m10 7h0m44-8h0m16 3h0m15-3h0m1 7h0m26 0h0m11 2h0m12-2h0m-7 4h0m-3-1h0m-17 9h0m-15 1h0m-3 0h0m-7-11h0m-1 5h0m-6 6h0m-3-9h0m-2-1h0m-28 4h0m-6 1h0m-7-1h0m-41 5h0m-1-1h0m-828 0h0m-10-7h0m-6 0h0m-9 6h0m-25-6h0m-14 0h0m-12 3h0m-7-1h0m-18-2h0m-22 8h0m-7-7h0m-22 5h0m39 6h0m54 2h0m5 5h0m34-8h0m2 0h0m831 0h0m16-1h0m14 10h0m10-7h0m21 9h0m29-1h0m6-3h0m21-6h0m4 10h0m44-11h0m-54 22h0m-31 0h0m-31-1h0m-14-8h0m-15 5h0m-870-3h0m-3-1h0m-21 4h0m0-5h0m-10-2h0m-44 12h0m8 8h0m6-7h0m4 8h0m55 0h0m909-1h0m63 1h0m15-9h0m30 2h0m-51 16h0m-58-3h0"/>
<path stroke="#2a9ee2" d="M401 1882h0m983 0h0m-2 12h0m-6-2h0m-975-2h0m-23 4h0m-7 8h0m49-1h0m944-2h0m17 7h0m14-3h0m-994 13h0m-9-1h0m-15 1h0m-31 13h0m34-1h0m15 2h0m7-3h0m1000-1h0m-27 10h0m-3 7h0m-4-10h0m-12 2h0m-983 8h0m0-2h0m-20 14h0m13-1h0m13 1h0m1-7h0m12 3h0m975-1h0m6-5h0m4 11h0m7-1h0m-28 8h0m-963-6h0m-26 4h0m-5-5h0m-14 17h0m33 3h0m6 1h0m2-8h0m962 0h0m17 7h0m-9 16h0m-14 0h0m13 1h0"/>
<path stroke="#e6880a" d="M1320 1712h0m106 10h0m-15-5h0m-10 10h0m-51 1h0m-4-3h0m-27-9h0m-16 10h0m-73 0h0m-1002 12h0m95 0h0m29 2h0m31-1h0m841-3h0m45 3h0m20-5h0m20-1h0m11 6h0m25-8h0m32-1h0m3 9h0m4-11h0m12 3h0m5-1h0m5-2h0m26 9h0m4 13h0m-2-7h0m-10 4h0m-16 1h0m-1-4h0m-45 3h0m-42 4h0m-4-1h0m-9-2h0m-16 1h0m-11-7h0m0 2h0m-35 8h0m-9-6h0m-838-1h0m-4 7h0m-10-8h0m-4 7h0m-27-2h0m-22-7h0m-8 1h0m-21-3h0m-26 6h0m-9 0h0m-4 1h0m-3-1h0m-32 1h0m-12 9h0m6 0h0m51 3h0m9 4h0m6-4h0m3-3h0m1 5h0m13-4h0m1-3h0m3 4h0m1 3h0m7-7h0m7 4h0m1 3h0m30-9h0m4 11h0m2 0h0m11-10h0m18 1h0m1 5h0m4 1h0m25-4h0m783-2h0m65 2h0m2 7h0m3-9h0m5-1h0m5-1h0m1 12h0m2-11h0m3 4h0m5 1h0m10-1h0m4 2h0m19 3h0m3-5h0m1 3h0m11-3h0m3 6h0m2-10h0m10 1h0m15 7h0m6-2h0m31-7h0m9 11h0m2 0h0m10 3h0m-9 1h0m-6 2h0m-5 5h0m-2-4h0m-25-2h0m-5 2h0m-9 2h0m-20-3h0m-25-4h0m-2 2h0m-41 6h0m-5 3h0m-9-5h0m-1 2h0m-14-5h0m-17-2h0m-2 7h0m-9 1h0m-3-9h0m-12 7h0m-780-2h0m-9 4h0m-43-2h0m-23-4h0m-4 6h0m-58-4h0m-13 1h0m-8-1h0m-3 6h0m-5-1h0m-13-9h0m-9 4h0m-16 6h0m-16-7h0m-8 6h0m35 2h0m14 10h0m5-10h0m2 7h0m29-4h0m16 6h0m28-5h0m7-2h0m10 8h0m1-8h0m11 3h0m7 4h0m28-9h0m9 5h0m7-3h0m9 2h0m771 7h0m3-11h0m9 3h0m8 1h0m7-3h0m59 1h0m5 4h0m22-3h0m8-1h0m9 3h0m18 3h0m27 0h0m30-9h0m17 3h0m-8 16h0m-20-7h0m-18 8h0m-9-6h0m-37 7h0m-8 2h0m-12-4h0m-1 3h0m-6-4h0m-32-4h0m-7 1h0m-1 5h0m-2-3h0m0 5h0m-20-5h0m-9 5h0m-7-10h0m-2 2h0m-8 3h0m-21 6h0m-2-1h0m-778-2h0m-14-4h0m-6-3h0m-1 5h0m-15-5h0m-1 3h0m-12-1h0m-5 1h0m-13 4h0m-56-7h0m-23 4h0m-6 0h0m-10-1h0m-11 1h0m-10 1h0m-8 1h0m-1-7h0m-13 10h0m-3-2h0m28 13h0m28-9h0m6 2h0m10 0h0m11 10h0m6-4h0m21-3h0m10 2h0m2-3h0m13 2h0m1-3h0m1 7h0m13-10h0m10 0h0m13 10h0m12 2h0m6-2h0m18-10h0m780 4h0m6 5h0m29-8h0m17 0h0m18 2h0m14 1h0m4 4h0m26-2h0m22 3h0m13-8h0m37 4h0m5 1h0m20 6h0m13-1h0m-15 3h0m-20 5h0m-9-2h0m-16 6h0m-25-5h0m-22 5h0m-20-9h0m-52 8h0m-20-4h0m-23-6h0m-816 2h0m-6 2h0m-3-1h0m-10 8h0m-4-5h0m-29-5h0m-5 6h0m-10-4h0m-4 2h0m0-1h0m-2 6h0m-6-7h0m-1 3h0m-20 1h0m-26-5h0m-2-1h0m-4-1h0m-4 6h0m-6-4h0m-4 1h0m-45 7h0m5 3h0m16 9h0m19-8h0m28 1h0m2 9h0m8-10h0m9 6h0m9 3h0m4-8h0m6 7h0m6 0h0m3-9h0m12 5h0m4 1h0m7-3h0m13 4h0m21-1h0m9 4h0m4-4h0m24 3h0m805-7h0m7 6h0m8-3h0m17-4h0m2 3h0m27 1h0m19 4h0m5-5h0m14 1h0m27-5h0m1 2h0m2 2h0m16 3h0m8-6h0m9 6h0m0 3h0m8-1h0m15-9h0m1 13h0m-20 1h0m-12-2h0m-20 6h0m-11 5h0m-29-7h0m-7-2h0m-16-2h0m-7-1h0m-11 5h0m0-2h0m-13-2h0m-29 0h0m-20 9h0m-817-6h0m-8-1h0m-24 4h0m-11 0h0m-21 1h0m-17 2h0m-2 1h0m-1-7h0m-16 8h0m-1-6h0m-7-3h0m-9 1h0m-42-3h0m-3 3h0m-40 7h0m24 4h0m24-1h0m42 1h0m15 4h0m17 2h0m3-3h0m3 4h0m1-1h0m14-4h0m3-4h0m27 2h0m9-1h0m4 5h0m843-3h0m25-4h0m10 1h0m0 10h0m35 1h0m1-5h0m7 0h0m1-3h0m5 0h0m29-4h0m33 3h0m3 6h0m0-9h0m1 7h0m-17 9h0m-1 6h0m-3-3h0m-2-7h0m-7 10h0m-5-9h0m-29 1h0m-22 5h0m-5-7h0m-14 0h0m-21 10h0m-21-8h0m-3 0h0m-5 9h0m-7-1h0m-865 0h0m-31 0h0m-8-8h0m-40 3h0m-9 2h0m-15-4h0m-3 4h0m-10 4h0m-10-5h0m-7 5h0m-3-10h0m-1 14h0m11 2h0m16-4h0m12 11h0m36-3h0m12-7h0m18 7h0m38-8h0m7 0h0m855 6h0m30 2h0m5-8h0m7 10h0m3-3h0m12 2h0m18-8h0m14 2h0m4-3h0m18 23h0m-12-7h0m0-3h0m-23 2h0m-7 7h0m-4-6h0m-1 5h0m-4-7h0m-6 7h0m-3 2h0m-2-6h0m-11 1h0m-13 2h0m-13-6h0m-2-1h0m-887 1h0m-12 8h0m-7-2h0m-16-5h0m-15 0h0m-39 8h0m-5 0h0m-2-2h0m-1 2h0m-5 11h0m14 0h0m17-1h0m26-9h0m3 0h0m41 3h0m875 1h0m45 2h0m45 1h0m16-6h0m10-1h0m17 0h0m7 14h0m-19 5h0m-24 1h0m0-8h0m-61 0h0m-27 3h0m-890-4h0m-5 1h0m-17 8h0m-35-1h0m-17-5h0m-3 7h0m-17-1h0m-1 5h0m47 7h0m18-7h0m917 1h0m11 0h0m12 9h0m7-2h0m3 1h0m1-8h0m19 3h0m20-1h0m2 0h0m1-3h0m21-1h0m12 4h0m-20 12h0m-37-2h0m-45 0h0m-936-2h0m-19 9h0m7 5h0m2 7h0m946 2h0m27-11h0m50 10h0m-28 12h0m-48-11h0m-947 5h0m-25 1h0m-7-5h0m24 22h0m996 0h0m8-1h0m16-10h0m-37 13h0m-966 4h0m-51 11h0m11 1h0m986-4h0m8 3h0m13 1h0m9 1h0m3-2h0m4 0h0m23 16h0m-28-4h0m-42 5h0m20 8h0m22 18h0"/>
<path stroke="#f6766d" d="M453 1423h0m921 4h0m41-4h0m24 12h0m0-2h0m-11 1h0m-3 0h0m-21 4h0m-32-2h0m-937 2h0m-37-4h0m-7 4h0m-40 2h0m-12 10h0m16-1h0m20-6h0m16 7h0m28-1h0m33-2h0m12 4h0m4-1h0m15-2h0m854-5h0m2 3h0m30 2h0m15 2h0m15 0h0m2-3h0m43-5h0m6 6h0m3-7h0m9 7h0m11 13h0m-19-6h0m-10 5h0m-15-8h0m-33 3h0m-12 3h0m-13-6h0m-25 10h0m-1-9h0m-10 10h0m-854-7h0m-27-4h0m-2 12h0m-28-5h0m-80-3h0m-26 3h0m-1-3h0m43 20h0m16-1h0m22-8h0m5 5h0m11 3h0m51-7h0m1-4h0m63 10h0m776-1h0m24-8h0m31 1h0m9 2h0m4 6h0m41-7h0m4-2h0m8 8h0m53-3h0m-18 9h0m-38 0h0m-54 2h0m-51-4h0m-837 3h0m-36 3h0m-14 4h0m-11-1h0m-41-2h0m-3 2h0m-50-6h0m-15-2h0m19 19h0m21 0h0m3 2h0m3-3h0m49-2h0m27 0h0m11 4h0m23 1h0m27-6h0m38 1h0m781-3h0m15 2h0m26 4h0m5 3h0m10-2h0m12-2h0m45 1h0m25 0h0m10-4h0m3-5h0m6 23h0m-7-10h0m-1 3h0m-18 1h0m-29-2h0m-23 6h0m-13-8h0m-5 8h0m-2-2h0m0-6h0m-2 1h0m-3 2h0m-2 0h0m-25-1h0m-32 8h0m0-4h0m-1-5h0m-25 4h0m-773-2h0m-21-4h0m-41 1h0m-10 3h0m-3 4h0m-40-2h0m-9 2h0m0-4h0m-4-2h0m-6 5h0m-1-2h0m-34-4h0m-37 6h0m-15 13h0m1-6h0m8 9h0m63-3h0m40 3h0m23-6h0m11 0h0m83-1h0m8-1h0m2 0h0m771 2h0m6-3h0m10 7h0m8-8h0m13 2h0m3 8h0m3 0h0m6-3h0m6 1h0m18 0h0m1-2h0m12 4h0m12-2h0m3 3h0m13-12h0m1 11h0m34-4h0m2 1h0m26 0h0m10 15h0m-10-9h0m0 7h0m-1-8h0m-4 6h0m-8 5h0m-40-8h0m-3 2h0m-8-3h0m-5 6h0m-4-2h0m-3 4h0m-12-4h0m-24-4h0m-18 7h0m-4 1h0m0-8h0m-801 7h0m-12 0h0m-1 1h0m-2-5h0m-19-3h0m-3-1h0m-17 4h0m-24 0h0m-2 1h0m-21-6h0m-86 8h0m-17-5h0m-17 1h0m-1-2h0m-32 3h0m-1 18h0m13-4h0m60-7h0m19 6h0m42-5h0m11 7h0m26-4h0m12 3h0m8-1h0m39-2h0m2 1h0m757 3h0m3 0h0m11-2h0m22-2h0m25 4h0m3-4h0m9-3h0m20 0h0m3 0h0m21-1h0m12 1h0m2-1h0m13 2h0m0 1h0m1-1h0m7 0h0m6 7h0m49-2h0m1 2h0m13-10h0m30 6h0m-41 8h0m-34 1h0m-23 1h0m-3 1h0m-2 4h0m-45-6h0m-2 7h0m-11-1h0m-39-1h0m-19-7h0m-28 3h0m-773 0h0m-3 7h0m-6-7h0m-11 6h0m-15 2h0m-10-6h0m-4 2h0m-56 1h0m-24-5h0m-33 5h0m-26 1h0m-20-8h0m-17 3h0m-14 6h0m-10 6h0m30 0h0m34 1h0m12-2h0m4 0h0m4 7h0m1-11h0m7 11h0m23-9h0m63 8h0m77 0h0m17-6h0m740 5h0m15-3h0m0-6h0m9 10h0m4-8h0m53 8h0m4-2h0m9 2h0m15-8h0m44 0h0m18 10h0m14-1h0m5-4h0m34 3h0m15-1h0m20-4h0m41 7h0m-65 10h0m-3-4h0m-3-5h0m-2 6h0m-4-2h0m-58 2h0m-30-4h0m0 5h0m-8 3h0m-2-1h0m-29 0h0m-18-9h0m-11 8h0m-14-6h0m-58 7h0m-766 0h0m-9-7h0m-16 2h0m-9 2h0m0 3h0m-48-1h0m-9 2h0m-6-1h0m-5-6h0m-2 6h0m-2 0h0m0-5h0m-8 1h0m-11-4h0m-14 1h0m0 4h0m-41 5h0m-8-9h0m-4 2h0m-32 13h0m11 4h0m55-4h0m7-1h0m2-5h0m10 12h0m4-1h0m41-9h0m61 3h0m24-4h0m2 2h0m17 2h0m751 7h0m2 0h0m15-3h0m10 0h0m28-8h0m2 7h0m132-3h0m8-5h0m1 1h0m21 2h0m45 2h0m-8 10h0m-3 1h0m-14 7h0m-44-6h0m-10 1h0m-4-2h0m-12 1h0m-9-5h0m-17 3h0m-8 7h0m-3-5h0m-10 0h0m-11-5h0m-16 6h0m-19 5h0m-8-10h0m-8 8h0m-10-3h0m-3-4h0m-4 0h0m-3 7h0m-1-4h0m-10 2h0m-3 4h0m-3-2h0m-2 0h0m-808 1h0m-5 1h0m-12-3h0m-13-6h0m-21 8h0m-2-3h0m-8 2h0m-12-2h0m-6 2h0m-12-1h0m-17 4h0m-1-4h0m-7-6h0m-14 4h0m-41-2h0m-39 1h0m-6 1h0m-13 15h0m27-5h0m63 4h0m3-7h0m12 8h0m4-8h0m17 1h0m22 9h0m3-2h0m17 0h0m7-3h0m31-2h0m3 8h0m808-2h0m13-7h0m15 9h0m36-7h0m16 0h0m15 2h0m10-2h0m1 1h0m11 4h0m8-9h0m10 10h0m3 0h0m12-3h0m17-5h0m11 0h0m13 3h0m6 6h0m24-3h0m8 13h0m-25 1h0m-10-7h0m-3-2h0m-12 9h0m-7 0h0m-17-1h0m-2-8h0m-8 3h0m-1 4h0m-18 3h0m-4-7h0m-25 5h0m-5-3h0m-2-1h0m-14-3h0m-9-1h0m-59 9h0m-8-2h0m-6-3h0m-10-1h0m-779-1h0m-63 3h0m-17-1h0m-2 2h0m-14 1h0m-10-3h0m-3 1h0m-121 4h0m22 11h0m76-5h0m6-4h0m18 0h0m18 5h0m1-6h0m37 6h0m14 2h0m11-8h0m29 9h0m818 0h0m25-6h0m1-2h0m0 1h0m17 8h0m27 1h0m2-5h0m10 3h0m6 3h0m1-6h0m24-3h0m21 6h0m6 0h0m3 2h0m31-10h0m23 6h0m8 1h0m-40 9h0m-11 0h0m-33 2h0m-39 4h0m-14-2h0m-23-3h0m-37 5h0m-9-5h0m-1-3h0m-14 4h0m-17 2h0m-11 3h0m-14-8h0m-780 5h0m-3 0h0m-24 2h0m-5-4h0m-2-4h0m-1 4h0m-20 5h0m-22 0h0m-13-4h0m-20-8h0m-35 2h0m-4 1h0m-16 3h0m-4 3h0m-12-4h0m-6 2h0m-2-2h0m-7 2h0m-17 16h0m2-5h0m2 4h0m21-3h0m18 2h0m34-3h0m1 4h0m0-8h0m31 6h0m62-1h0m11-2h0m9 6h0m6 0h0m14-7h0m796 2h0m48-4h0m1 9h0m61-10h0m24 3h0m12 7h0m20 1h0m7-4h0m2-4h0m24-1h0m2 10h0m-13 0h0m-18 3h0m-6 1h0m-39-1h0m-15 5h0m-8-5h0m-4-3h0m-94 2h0m-801 8h0m-6-2h0m-13 2h0m-2-7h0m-36-1h0m-37 8h0m-4-10h0m-11-1h0m-40 7h0m-7-1h0m-11 4h0m-4-1h0m-13 1h0m-15-4h0m-5 4h0m-12-10h0m28 14h0m14 3h0m5-3h0m11 2h0m3 0h0m4-3h0m22 3h0m22 3h0m18-4h0m7 7h0m2-5h0m24 6h0m34 0h0m1 0h0m1-9h0m11 8h0m784-1h0m16 1h0m1-4h0m5 5h0m2-5h0m5-3h0m60 7h0m40-7h0m5 7h0m2-4h0m20 1h0m23 3h0m8-1h0m7 3h0m4-5h0m11 1h0m-22 4h0m-4 1h0m-5 0h0m-20 0h0m-7 1h0m-11 6h0m-50-5h0m-18 8h0m-9 1h0m-1-11h0m-2 3h0m-20 7h0m-12-8h0m-6 4h0m-796-6h0m-47 8h0m-3-3h0m-13-1h0m-16 0h0m-18 5h0m-25-10h0m-17 0h0m-15 8h0m-7 2h0m-37-7h0m-31-1h0m17 15h0m23-3h0m2 7h0m29-7h0m16 1h0m2-1h0m2 4h0m9-5h0m23 5h0m48-1h0m0 5h0m24-9h0m2 8h0m6-8h0m817 4h0m10 4h0m8-1h0m2 0h0m17 4h0m1-9h0m4-1h0m3-1h0m0 1h0m22 3h0m7 0h0m7 5h0m2-6h0m4 1h0m11 0h0m11 1h0m4 0h0m-87 7h0m-867 9h0m-14-7h0m-25 1h0m-25 5h0m-11-1h0m-56 2h0m-14-6h0m-19 7h0m29 8h0m26-4h0m34 3h0m51-5h0m3 1h0m3 4h0m8 0h0m5 2h0m853-4h0m6-1h0m7 2h0m2-5h0m9 6h0m25-6h0m-81 14h0m-815 0h0m-18 2h0m-9 6h0m-68-8h0m-63 2h0m-18-1h0m41 10h0m15 5h0"/>
<path stroke="#1f90ec" d="M434 1541h0m-34 15h0m104 15h0m19 1h0m-17 7h0m-34 15h0m54 2h0m2-6h0m933-1h0m13 2h0m5-3h0m48 5h0m-11 15h0m-967-4h0m-3 2h0m-1-3h0m-18 4h0m-11-2h0m-117 3h0m81 12h0m51-10h0m910 4h0m75 6h0m38-3h0m-12 5h0m-8 1h0m-92 1h0m-5 5h0m-23-8h0m-901 7h0m-40 6h0m30-1h0m7 6h0m7-6h0m1 7h0m28-3h0m920 0h0m16-2h0m6 8h0m1-1h0m5-8h0m3 5h0m38-3h0m-21 19h0m-8-10h0m-7 7h0m-4-6h0m-11 10h0m-940-7h0m-25 6h0m-12-4h0m-8-4h0m-1 5h0m-22-6h0m-13 18h0m29-8h0m17 8h0m25-7h0m0 3h0m2-1h0m889 3h0m0-3h0m37-2h0m46 4h0m4 2h0m6-4h0m14-2h0m-11 13h0m-1 5h0m-19 2h0m-48-1h0m-7-6h0m-909 4h0m-2-2h0m-6 6h0m-15-7h0m-3 1h0m-5-4h0m-12 9h0m0 1h0m-14-4h0m-13-4h0m-19 21h0m17-11h0m28 3h0m16 8h0m931-6h0m1-3h0m7 8h0m1-5h0m6 4h0m7-6h0m15 1h0m11 0h0m1-3h0m2 4h0m3 3h0m19 9h0m-14 0h0m-3-4h0m-54 2h0m-945 3h0m-19 2h0m-2-3h0m-6 1h0m-7 5h0m-5 4h0m999 1h0m27 4h0m0 3h0m-2 1h0m-7 1h0m-5 7h0m-14-4h0m-5 8h0m-979 0h0m-19-8h0"/>
<path stroke="#1aa3e3" d="M1228 1477h0m-976 23h0m990-7h0m31 15h0m-31-1h0m0-1h0m-13 1h0m-8-2h0m-989 3h0m-3-3h0m-39 5h0m13 10h0m9 1h0m2 2h0m7-2h0m964-7h0m11 3h0m0 5h0m13-7h0m1 0h0m10 4h0m9 2h0m1 1h0m6-2h0m4 1h0m8 0h0m12-6h0m-13 18h0m-16-9h0m-7 9h0m-1-6h0m-3 8h0m-15-8h0m-1-1h0m-4 2h0m-956 4h0m-6-1h0m-13-2h0m-22-3h0m-2 3h0m-27 14h0m0 5h0m22-8h0m7 6h0m14 0h0m1-5h0m29-3h0m914-1h0m8 1h0m9-1h0m18 6h0m1 4h0m33-7h0m0-1h0m12-1h0m-4 11h0m-13 7h0m-4 0h0m-13 3h0m-4-6h0m-8 2h0m-14 3h0m-16 0h0m-17-3h0m0 0h0m-909-5h0m-13 0h0m-12 4h0m-1 0h0m0-3h0m-31-1h0m21 16h0m1 0h0m6 5h0m8-10h0m4 5h0m7-1h0m9 2h0m1-5h0m917 6h0m1-6h0m10 9h0m9-3h0m16-2h0m21 5h0m2-8h0m17 9h0m1-9h0m4 15h0m-2-1h0m-9-3h0m-10 5h0m-11 3h0m-3-3h0m-51 4h0m-920-2h0m-34-9h0m-18 0h0m-1 11h0m-9-6h0m-6 6h0m-10-2h0m-18 4h0m11 11h0m8-9h0m3 2h0m11-5h0m31 10h0m22 0h0m8-1h0m906-2h0m3-3h0m10-3h0m25 10h0m15-7h0m1-1h0m9 7h0m3-4h0m4 3h0m26 14h0m-24-10h0m-24 11h0m-10-2h0m-5-2h0m-25 3h0m-914-5h0m-38-4h0m-2 7h0m-2 1h0m-5-7h0m-8-1h0m-12 9h0m-13-8h0m-7-2h0m-8 11h0m-3-3h0m24 7h0m22-3h0m9 3h0m26 6h0m3-7h0m919 5h0m18-1h0m20-6h0m24 3h0m19 15h0m-3 4h0m-7-4h0m-23 0h0m-2-6h0m-28 8h0m-17-8h0m-910 3h0m-45-3h0m-3 2h0m-43 6h0m-3-5h0m-4 3h0m-2 5h0m9 5h0m2 3h0m3-1h0m12 2h0m22 1h0m4 0h0m4 1h0m52-6h0m897-3h0m1 4h0m45 3h0m18-4h0m16 11h0m-6-2h0m-69 1h0m-3 3h0m-940 0h0m-17-5h0m-33 7h0m6 10h0m37-2h0m33-3h0m916 1h0m6 10h0m1-3h0m1-7h0m54 2h0m11-3h0m-6 15h0m-2 4h0m-7 0h0m-19 3h0m-9-3h0m-960-7h0m-4-1h0m-22 7h0m-25 0h0m-19 16h0m43-4h0m21 1h0m923-2h0m30 0h0m11-5h0m10 3h0m8 1h0m16-1h0m12-1h0m-23 18h0m-22-2h0m-987 4h0m-19-2h0m-8-1h0m-6 2h0m-1-9h0m-3 14h0m16 8h0m5-8h0m9-1h0m1 9h0m17-6h0m17-2h0m941 1h0m45-2h0m2 15h0m-3 4h0m-7-2h0m-1-4h0m-7 9h0m-36-10h0m-939 5h0m-7-1h0m-5 2h0m-29-7h0m6 15h0m3 2h0m13 0h0m16-1h0m982 0h0m10 1h0m-22 7h0m-8 0h0m-1 4h0m-6-3h0m-968-1h0m-15 4h0m-12 10h0m11 7h0m976-6h0m29 0h0m0 1h0m6 6h0m-3 5h0m-20-4h0m-982 0h0m-8 8h0m-1-1h0m11 6h0"/>
<path stroke="#da4679" d="M1462 2207h0m-27 1h0m1 2h0m1 1h0m12-2h0m59 8h0m7 0h0m-78 11h0"/>
<path stroke="#16b35e" d="M655 2116h0m58-4h0m1043 8h0m38 4h0m-11 5h0m-20-2h0m-19 5h0m-19 1h0m-74-4h0m-870-1h0m-97 4h0m-8-7h0m-18 8h0m2 8h0m17 2h0m1012 0h0m17-4h0m28-1h0m19 6h0m20-4h0m2 17h0m-14-8h0m-28 11h0m-18 0h0m-58-8h0m-822 3h0m-18 5h0m-117-12h0m-7 3h0m-42 14h0m26 1h0m45 2h0m1040 0h0m22-8h0m39 13h0m-23-1h0m-43 3h0m-77 7h0m-34-6h0m-7-1h0m-813 1h0m-129 2h0m-14-1h0m-12 6h0m7 5h0m64 7h0m50-2h0m842-3h0m19-4h0m87 3h0m3-3h0m31 8h0m17 2h0m14-3h0m50-4h0m-53 10h0m-25 4h0m-3-3h0m-29 3h0m-39-4h0m-27 2h0m-45 1h0m-785 4h0m-119-10h0m-37 2h0m-14 1h0m-5 0h0m-516 3h0m504 12h0m30-2h0m22 1h0m36 0h0m15 2h0m878-1h0m105-5h0m32 1h0m19 2h0m24 0h0m9 5h0m4 1h0m-16 2h0m-81 4h0m-52 4h0m-5 0h0m-12-4h0m-61 5h0m-816 1h0m-21-5h0m-19 6h0m-24-10h0m-84 2h0m983 15h0m4 0h0m67 1h0m13 3h0m12 1h0m16-2h0m84-4h0m-4 18h0m-4-3h0m-15 0h0m-7 0h0m-137-2h0m-45 4h0m-15 0h0m-813-7h0m-3-3h0m-18 5h0m-11-3h0m-13 2h0m-27 3h0m-7-5h0m-34 1h0m-19-3h0m-8 5h0m-9 4h0m-1-4h0m-11 5h0m-467-9h0m495 14h0m25-1h0m36 2h0m61 6h0m853-8h0m64 6h0m47 0h0m43-6h0m-101 18h0m-65-3h0m-873-2h0m-23 9h0m-75-9h0m-27 6h0m22 11h0m15-7h0m57 7h0m32 2h0m32-1h0m876-8h0m30 11h0m100-5h0m-10 6h0m-61 0h0m-72 7h0m-33 3h0m-861-11h0m-38 9h0m-28 2h0m-16-6h0m0 5h0m-15-2h0m-3-3h0m-39 3h0m-22 11h0m11-7h0m8 3h0m16 1h0m6 5h0m2-7h0m8 2h0m9 1h0m12-2h0m29 1h0m16-2h0m33 3h0m841 4h0m12-8h0m12 9h0m2-6h0m26 5h0m14 2h0m25-11h0m17 7h0m0 5h0m18-6h0m80-2h0m-11 17h0m-7-2h0m-8 4h0m-32-9h0m-38 5h0m-18 4h0m-32-3h0m-28-7h0m-10 10h0m-24-1h0m-29-4h0m-839-1h0m-10 0h0m-2 1h0m-46 2h0m-5-7h0m-4 2h0m-18 6h0m-7 2h0m-6-6h0m-25-3h0m9 15h0m42-4h0m20 2h0m4 2h0m5-2h0m0 0h0m2 4h0m1 1h0m8 2h0m6-5h0m12-2h0m30 3h0m7 1h0m27-3h0m794 8h0m10-8h0m33 8h0m31-8h0m23 2h0m4-4h0m37 2h0m6 1h0m39 4h0m29-8h0m-9 12h0m-21 5h0m-5-4h0m-9 5h0m-6 3h0m-13 0h0m-2-5h0m-21-4h0m-20 7h0m-10-5h0m-12-3h0m-11 6h0m-8 1h0m-20 4h0m-5-4h0m-4-2h0m-891-4h0m-22 9h0m-63-3h0m-22-6h0m-16 8h0m1 6h0m5 3h0m19 6h0m41-10h0m3 2h0m19 7h0m18 0h0m7-10h0m13 9h0m7-6h0m10 3h0m842-6h0m13 6h0m45 4h0m5-2h0m17-2h0m24-3h0m43 6h0m21 3h0m-23 1h0m-13 5h0m-5 4h0m-4 1h0m-8-12h0m0 3h0m-4 3h0m-4 0h0m-8-3h0m-6 2h0m-17 0h0m-21-3h0m-5 6h0m-22-3h0m-1-3h0m-18 2h0m-9 6h0m-9 1h0m-13-6h0m-17-3h0m-9 1h0m-781-1h0m-3 3h0m-1-2h0m-5-3h0m-7 5h0m-13-2h0m-1 6h0m-29 3h0m-5-2h0m-2-7h0m-15 3h0m-67 6h0m-9-6h0m-61 16h0m11-4h0m51-2h0m4 3h0m21 0h0m3-3h0m6-3h0m1 4h0m20-3h0m14 4h0m21 1h0m21 1h0m3-3h0m7 5h0m11-10h0m1 10h0m1-3h0m12-5h0m765 0h0m16 10h0m29-1h0m23-9h0m5 7h0m52-7h0m12 7h0m8-6h0m4 3h0m14 3h0m35 0h0m4-1h0m2-3h0m7-3h0m1-2h0m7 5h0m1 6h0m0-5h0m10 4h0m2-4h0m2-2h0m-38 12h0m-1 4h0m-1-6h0m-7 2h0m-3 3h0m-13-3h0m-11 7h0m-13-10h0m-1 4h0m-13-3h0m-3-1h0m-15 6h0m-13-5h0m-2 6h0m-55-2h0m-801-3h0m-29-1h0m-112 5h0m0 1h0m-36 2h0m-6-4h0m-69 18h0m22-5h0m12-4h0m23-1h0m21 1h0m9-2h0m1 7h0m8 0h0m91 0h0m35-3h0m16-4h0m759 4h0m60 1h0m8 0h0m19-4h0m4 5h0m45-4h0m16 7h0m16 0h0m26-4h0m2 5h0m6-6h0m1 4h0m16-1h0m4-2h0m10 5h0m1-8h0m-15 11h0m-10 4h0m0-2h0m-19 7h0m-79-3h0m-6-6h0m-3-1h0m-19 7h0m0-5h0m-17 8h0m-5-4h0m-35 2h0m-17 2h0m-20-2h0m-6-7h0m-772 10h0m0-2h0m-16-9h0m-2 5h0m-2 4h0m-6-4h0m-35 1h0m-39 2h0m-40-1h0m-22 0h0m-22-2h0m-19 5h0m-31 12h0m7-2h0m34-3h0m17 1h0m28 3h0m3-5h0m12-2h0m2 7h0m2 2h0m1-2h0m10-3h0m26 1h0m26 1h0m4 2h0m14-4h0m5-3h0m17 0h0m7 2h0m4 3h0m25-6h0m0 2h0m1 0h0m10-2h0m769 1h0m23-1h0m27-2h0m4 1h0m26 4h0m10 1h0m7 4h0m29-2h0m20-1h0m3-5h0m3 4h0m24 4h0m19-3h0m7 1h0m-13 7h0m-32 5h0m-2-3h0m-6-5h0m-12 3h0m-13 5h0m-62-9h0m-3 7h0m-28 2h0m-31-3h0m-5-5h0m-12 5h0m-773-4h0m-37 2h0m-2 3h0m-33 0h0m-1-3h0m-5-3h0m-12 4h0m-31-4h0m-12 4h0m-5-1h0m-32 6h0m-8-1h0m0-8h0m-20 7h0m-9 4h0m-3-5h0m-22-7h0m-16 6h0m11 6h0m48 3h0m2 4h0m49-2h0m4 3h0m22-7h0m22 7h0m23-2h0m16 3h0m9-2h0m767 2h0m66-3h0m6 2h0m1 2h0m36-3h0m8 3h0m36-6h0m20 7h0m2 1h0m0-7h0m2 3h0m21-2h0m0-3h0m1 1h0m17-3h0m6 3h0m11-1h0m21 4h0m-25 9h0m-7-1h0m-24-2h0m-74 8h0m-16-9h0m-28 2h0m-4 6h0m-31-6h0m-2 10h0m-797-4h0m-15-5h0m-18 1h0m-24 2h0m0 1h0m-7 2h0m-2-2h0m-3-5h0m-8 1h0m-4 6h0m0-3h0m-4 0h0m-7 0h0m-6 0h0m-4-4h0m-5 7h0m-9 1h0m-8-5h0m-13 4h0m-19-7h0m-8 9h0m-17 0h0m-11 0h0m-18-5h0m-3-6h0m-1 11h0m-12 7h0m13 3h0m4-4h0m17 6h0m20 0h0m31-7h0m27 3h0m0-6h0m12 1h0m9 3h0m6 4h0m3-8h0m5 7h0m17-2h0m826 5h0m8-8h0m1-2h0m15 8h0m19-6h0m17 5h0m7 0h0m3-4h0m37-1h0m3 1h0m18 3h0m19-4h0m-59 18h0m-11 1h0m-11 0h0m-2-4h0m-18 5h0m-50-9h0m-6 8h0m-844-9h0m-48 1h0m-26 7h0m-14-1h0m-3-7h0m-21 9h0m-2-6h0m-21 2h0m-20 14h0m5 2h0m5-8h0m21 3h0m3 5h0m15-6h0m10-2h0m0 0h0m2 2h0m11-1h0m8 2h0m953-2h0m2-2h0m-1003 15h0"/>
<path stroke="#14ad88" d="M875 1929h0m37 0h0m1-8h0m16 7h0m970 1h0m66 4h0m-9 8h0m-2-4h0m-18-2h0m-21-2h0m-35 9h0m-914-1h0m-67-5h0m-14 6h0m-10-8h0m6 14h0m0-3h0m3 1h0m13 2h0m35 6h0m12-3h0m17-1h0m2 6h0m9-11h0m38 3h0m876-2h0m1-1h0m2 6h0m18 0h0m13 4h0m21-8h0m19 0h0m33 13h0m-50-3h0m-1 8h0m-39 0h0m-32-2h0m-881 3h0m-35 2h0m-8 0h0m-3-5h0m-11-3h0m-19-3h0m20 19h0m20-8h0m5 12h0m18-3h0m20-8h0m867 11h0m6-4h0m35-1h0m11-3h0m11-3h0m5 9h0m15-2h0m20-3h0m7 0h0m10-3h0m14-2h0m-12 15h0m-6 7h0m-6-2h0m-16 2h0m-20-6h0m-1 7h0m-3-9h0m-20 5h0m-25-5h0m-11 7h0m-1 2h0m-18-5h0m0 1h0m-1 3h0m-886 0h0m-1-9h0m-15 1h0m-23 0h0m-14 9h0m-13-3h0m-2 4h0m-14-4h0m-33 0h0m12 4h0m84 9h0m21-7h0m13 5h0m859 2h0m51-7h0m1 5h0m17-7h0m25 10h0m26 1h0m38-4h0m-22 7h0m-16 0h0m-22 0h0m-74 8h0m-854 0h0m-8-1h0m-3 1h0m-2-6h0m-17 4h0m-1 1h0m-30-9h0m-11 6h0m-41 5h0m-26 3h0m6-1h0m15 4h0m12 1h0m1 1h0m1-6h0m15 8h0m12 1h0m15-1h0m0-4h0m0 3h0m21 1h0m23-2h0m830 1h0m12-6h0m1 1h0m14-3h0m18 1h0m9 4h0m9-5h0m4 2h0m4 2h0m9 6h0m14 1h0m48-6h0m21-4h0m19 5h0m-2 15h0m-7 2h0m-6-9h0m-2 9h0m-19-11h0m-32 10h0m-6-5h0m-16 6h0m-13-5h0m-6 5h0m-12-2h0m-8-7h0m-5 5h0m-28-6h0m-7 5h0m-13 3h0m-828 2h0m0-4h0m-2 1h0m-6-6h0m-24-1h0m-33 10h0m-14 1h0m0-7h0m-34 6h0m-33-8h0m-8 6h0m-4-8h0m1 13h0m4 0h0m49 6h0m4-4h0m4 6h0m9-5h0m6 6h0m9-1h0m11-9h0m9 5h0m22-4h0m27 10h0m2-4h0m869-2h0m8 1h0m16 2h0m4-6h0m4-1h0m6 5h0m2-2h0m20-3h0m13 9h0m12-8h0m11 6h0m7 2h0m9 0h0m2-11h0m19 1h0m-3 16h0m-26-1h0m-3 0h0m-8-3h0m-26 7h0m-11-7h0m-37-1h0m-6 3h0m-32 3h0m-19 0h0m-829-2h0m-25 1h0m0-2h0m-20 9h0m-29-3h0m-8-1h0m-24-2h0m-4-4h0m-13 1h0m-9 6h0m-7-3h0m-36 4h0m31 10h0m9-2h0m1 0h0m12-5h0m1 2h0m73 5h0m2-1h0m2-7h0m9 8h0m1-5h0m3 7h0m2 1h0m6 1h0m4-11h0m831 4h0m15-3h0m38 2h0m35 3h0m24 2h0m11-5h0m14 1h0m18-1h0m1 6h0m25-7h0m1 9h0m0-6h0m-9 17h0m-32-3h0m-6-4h0m-18-4h0m-11 10h0m-11-7h0m-7-2h0m-7 2h0m-10 0h0m-24-1h0m-37 4h0m-826-6h0m-54 0h0m-44 7h0m-12 0h0m-16-7h0m-12 8h0m-8 5h0m26 4h0m28 7h0m5-12h0m2 8h0m10-7h0m27-1h0m1 12h0m2-10h0m29 1h0m2 8h0m840-2h0m15-4h0m13-2h0m11 3h0m9-2h0m58 2h0m31-5h0m17 9h0m1 12h0m-3-9h0m-2 8h0m-8-3h0m-21-3h0m-37 5h0m-2 3h0m-3-3h0m-26-1h0m-29-6h0m-2 7h0m-2-5h0m-28 4h0m-829 3h0m-7 0h0m-10-1h0m-10 3h0m-39-1h0m-24-3h0m-7-7h0m-43 8h0m0-1h0m32 11h0m6-5h0m28 6h0m9-2h0m13 5h0m5-11h0m27 7h0m859 3h0m1-7h0m9 4h0m11 0h0m12-4h0m1-1h0m78 5h0m39-6h0m-26 22h0m-10-3h0m0-4h0m-2-3h0m-5 4h0m-7-3h0m-1 5h0m-40 3h0m0-1h0m-5-8h0m-7 2h0m-42 5h0m-11 3h0m-844-3h0m0-5h0m-22 5h0m-8-6h0m-12 5h0m-13 3h0m-16-6h0m-9 0h0m-29 0h0m-2 1h0m-20-3h0m-1 7h0m-2-4h0m0 18h0m5-4h0m11-3h0m2 1h0m8-2h0m8 3h0m1-1h0m3-2h0m45 3h0m3-2h0m907 3h0m1 2h0m11-3h0m7-4h0m18 7h0m44-3h0m8 3h0m20-2h0m11 11h0m-8-3h0m-19 7h0m-2-6h0m-8 0h0m-949-1h0m-7 8h0m-2-6h0m-2 7h0m-16-10h0m-1 7h0m-9 1h0m-23-8h0m-14 6h0m-8-4h0m-2 2h0m0-1h0m-8 3h0m-15-7h0m-14 1h0m37 21h0m6-8h0m21 5h0m1-2h0m7 4h0m49-8h0m873-2h0m30 8h0m6-7h0m24 3h0m1-3h0m9 3h0m21 7h0m0-9h0m12 3h0m-17 10h0m-2 4h0m-3 0h0m-3-7h0m-37 2h0m-39-2h0m-936 7h0m-19 1h0m10 13h0m7-7h0m6-2h0m2 7h0m3-5h0m975 1h0"/>
<path stroke="#16b9c8" d="M1666 1787h0m54 10h0m-14-4h0m-22 6h0m-932 10h0m933 3h0m3-4h0m20 0h0m27 9h0m-9 5h0m-35-10h0m-12 3h0m-31 6h0m-999-2h0m-45 11h0m34 5h0m111-6h0m12-2h0m1 6h0m900 0h0m17 0h0m23-5h0m2 0h0m53 4h0m-13 9h0m-11-5h0m-22 9h0m-6 1h0m-50-1h0m-881-2h0m-21-3h0m-1-1h0m-5 7h0m-95-5h0m-8 7h0m12 8h0m88-7h0m23 0h0m865 9h0m25-2h0m39-7h0m29 6h0m21-1h0m21-5h0m2 9h0m3-3h0m-7 10h0m-2-2h0m-22 5h0m-26-5h0m-14 7h0m-2-8h0m-16 10h0m-13-5h0m-16 5h0m-3-6h0m0-4h0m-869 2h0m-6 2h0m-5-3h0m-151 9h0m91 5h0m43 6h0m4 1h0m939-10h0m9-1h0m0 11h0m4-1h0m8-6h0m6-2h0m11 8h0m17-9h0m22 1h0m15 1h0m-9 15h0m-5-5h0m-12 0h0m-19 7h0m-30 1h0m-69-2h0m-872 0h0m-10-6h0m-13 1h0m-58 5h0m-55-6h0m-40 19h0m53-8h0m50-1h0m29 2h0m22 1h0m19 8h0m2-10h0m2 9h0m8-7h0m1 2h0m868 5h0m7-1h0m4 1h0m2-3h0m10 5h0m3-5h0m3 1h0m38-6h0m8-1h0m7 7h0m8-8h0m5 8h0m31 3h0m16 6h0m-18 3h0m-1 3h0m-3 0h0m-82-7h0m-50 2h0m-13-2h0m-12 8h0m-828-11h0m-24 7h0m-8 4h0m0-9h0m-35 7h0m-115 5h0m39 0h0m138 1h0m22 5h0m804 1h0m40-2h0m1 2h0m56-2h0m15-4h0m20 6h0m32-6h0m1 1h0m6 6h0m14-3h0m5 3h0m-24 11h0m-26-4h0m-2 4h0m-11-5h0m-1 3h0m-19-1h0m-17 2h0m-21-6h0m-9 1h0m-4-1h0m-7-3h0m-888 0h0m-11 8h0m-11 0h0m-5-2h0m-116-1h0m137 16h0m33 2h0m865-4h0m21 1h0m42-6h0m8-2h0m17 11h0m52-6h0m-53 17h0m-4-7h0m-20 5h0m-22 0h0m-21-2h0m-24-6h0m-12 7h0m-848-4h0m-3 4h0m-19 5h0m-26-11h0m-3 5h0m-127 3h0m14 7h0m51 4h0m18 4h0m23-10h0m36 8h0m25-6h0m3-3h0m842 1h0m12 2h0m11 3h0m18-7h0m9 5h0m0 7h0m11-6h0m23-1h0m31 3h0m18 15h0m-14-8h0m-2 3h0m-7-4h0m-4 5h0m-26 3h0m-13-8h0m-19 6h0m-2-2h0m-1-4h0m-2 7h0m0-8h0m-11 9h0m-13-9h0m-12 8h0m-14-1h0m-845-7h0m-10 11h0m-36-3h0m-78-4h0m-31 2h0m12 11h0m65 5h0m28-2h0m936-3h0m5-5h0m13 9h0m1-5h0m51 5h0m1 0h0m3-5h0m11-2h0m26 0h0m8 9h0m-14 4h0m-2 0h0m-30-3h0m-5 5h0m-33-3h0m-1 5h0m-4-4h0m-22 6h0m-25-3h0m-15-5h0m-14 3h0m-857-3h0m-38-2h0m-2 11h0m-63-2h0m-10-1h0m-20-2h0m-3 4h0m-2-3h0m-4 0h0m-9-5h0m0 9h0m12 1h0m14 3h0m9 8h0m0-11h0m4 0h0m33 10h0m1 0h0m24 1h0m22 0h0m8-6h0m11-2h0m3 2h0m884 4h0m18 0h0m0-7h0m10-2h0m4 10h0m1-7h0m5 1h0m14 2h0m18 1h0m2-5h0m1 6h0m12-4h0m3 1h0m15 6h0m3-2h0m1 2h0m8-2h0m10-7h0m-13 21h0m-22 1h0m-9 0h0m-4-6h0m-6 4h0m-14-7h0m-32 1h0m-60-3h0m-864 8h0m-7-6h0m-4 1h0m-2 2h0m-11-2h0m-13 8h0m-6 0h0m-59 0h0m4 7h0m17 0h0m8 5h0m16-2h0m6-1h0m2-3h0m44-1h0m880-4h0m65-1h0m23 10h0m9-7h0m15-1h0m17 2h0m12 6h0m2-5h0m-11 14h0m-3-3h0m-7 5h0m-13 1h0m-4-3h0m-3-3h0m-10 6h0m-3-2h0m-10-7h0m-964 6h0m-13-3h0m-17-1h0m-6 8h0m-9-7h0m-13 2h0m-28-6h0m-17 18h0m33-5h0m7 10h0m8-10h0m5 1h0m31 0h0m4 8h0m909-10h0m31 10h0m17-8h0m5-2h0m5 5h0m17 2h0m34 2h0m31 2h0m-35 2h0m-30 7h0m-9-3h0m-11-2h0m-32 2h0m-912 2h0m-28-4h0m-5 2h0m-15 3h0m-19-7h0m-16 6h0m-1 2h0m-9 9h0m18-2h0m1 5h0m10 0h0m45-3h0m946 3h0m5-7h0m28 5h0m31-3h0m0 13h0m-22 0h0m-5-4h0m0 5h0m-14-1h0m-997-3h0m-4 4h0m15 12h0m962 4h0m40-6h0m20 0h0m-4 9h0"/>
<path stroke="#8d7ef2" d="M1584 1614h0m5 2h0m-29 8h0m-955 6h0m-22 12h0m1024-1h0m-3 6h0m-960 8h0m-71-2h0m987 7h0m53-4h0m-25 19h0m-996-3h0m26 19h0m39-5h0m941-2h0m37 6h0m27 13h0m-45-11h0m-982 5h0m-2 0h0m-6-5h0m-2 2h0m-12 9h0m-5 7h0m2 1h0m4 0h0m5 4h0m8-6h0m4 4h0m1-9h0m3 8h0m17-6h0m946-2h0m14 4h0m51 17h0m-26-2h0m-957-1h0m-29-5h0m-25 9h0m-5-4h0m-1-1h0m-41 3h0m8 12h0m28-5h0m7 1h0m7 3h0m29-4h0m2-2h0m8 2h0m3-1h0m7 6h0m21-6h0m948-1h0m25 8h0m6-8h0m18 3h0m19 9h0m-17 8h0m-6 3h0m-1-7h0m-2-3h0m-15 9h0m-29-9h0m0 8h0m-45-10h0m-884 8h0m-11-3h0m-23 3h0m-11 2h0m-6-10h0m-21 11h0m-11-1h0m-9-9h0m-49 14h0m42 6h0m3-4h0m6-4h0m6 11h0m12-12h0m1 3h0m17-3h0m26 2h0m924 3h0m10 3h0m5-7h0m20 6h0m5 1h0m6 4h0m12 0h0m12-1h0m15 1h0m3-4h0m11 1h0m18 0h0m6 3h0m-3 6h0m-11 5h0m-15-1h0m-8-4h0m-9-2h0m-55 8h0m0-9h0m-907 6h0m-6-6h0m-32 7h0m-20-8h0m-3 8h0m-22 1h0m-7-8h0m-12 16h0m17-3h0m28 3h0m19 5h0m38-10h0m13 2h0m941 6h0m26 1h0m21-3h0m9-5h0m-995 18h0m-58-6h0m61 11h0m-270 428h0m929 13h0m0 10h0m-15-1h0m-882 13h0m883-4h0m12-4h0"/>
<path stroke="#d57cf2" d="M1581 1439h0m-992 1h0m-10-2h0m-9 13h0m11 0h0m9-7h0m20 6h0m7 0h0m4-1h0m899 0h0m69-6h0m7 3h0m6 4h0m-40 9h0m-22 4h0m-949 0h0m-6-5h0m-5 0h0m-5-4h0m-4 9h0m-3-2h0m-43 10h0m8 3h0m2-4h0m950 2h0m66-2h0m20-6h0m8 7h0m5 3h0m1-5h0m2-5h0m7 2h0m5 2h0m6 14h0m0-3h0m-12 7h0m-9-9h0m-7 10h0m-57-3h0m-11 2h0m-913-1h0m-6 1h0m-1-2h0m-6 3h0m-60 10h0m65-4h0m922 4h0m23-4h0m33-1h0m4 8h0m9-3h0m0-2h0m19-1h0m-1 16h0m-16-5h0m-5 5h0m-988-3h0m-4-7h0m-17 4h0m-7-1h0m-28 0h0m-4 1h0m-3 3h0m-21-4h0m11 14h0m25 1h0m995-2h0m14 1h0m5-4h0m25 6h0m8-7h0m-1010 17h0m-25 2h0m-7-1h0m-11 6h0m991 8h0m11-1h0m17 0h0m28-5h0m-64 19h0m-5-4h0m-1010 7h0m1032 13h0m19 15h0"/>
<path stroke="#ec52cd" d="M908 1790h0m-3 11h0m13 7h0m990-5h0m12 14h0m-5-2h0m-17 1h0m-980 2h0m-2 5h0m-3 0h0m-11-8h0m-3 1h0m0 5h0m-7-7h0m10 19h0m1 1h0m8-2h0m1-4h0m2 6h0m17-6h0m953-1h0m29 5h0m6-6h0m11 9h0m37 12h0m-52-4h0m-17-2h0m-2-1h0m-3-2h0m-10 3h0m-951 1h0m-11 4h0m-11 1h0m-2 0h0m-12-4h0m2 14h0m11-4h0m5-3h0m29 0h0m27 8h0m936-10h0m28 4h0m5-1h0m59 18h0m-12-3h0m-1 1h0m-17-4h0m-9 4h0m-20 2h0m-27 2h0m-3-8h0m-14 7h0m-893-1h0m-4-8h0m-14 7h0m-1-3h0m-3 2h0m-9-5h0m-12 2h0m-12-1h0m-11 1h0m-9-2h0m-20 3h0m-3-1h0m-6 15h0m36-5h0m26 4h0m2-1h0m6-2h0m0 2h0m30 1h0m874 5h0m22-9h0m17 3h0m12 5h0m14-7h0m43 0h0m6 10h0m-19 7h0m-38 3h0m-26-8h0m-6 4h0m-12-3h0m-893-3h0m-36 1h0m-34 4h0m-15 1h0m-8 4h0m4 4h0m5 0h0m0 1h0m46-3h0m21 9h0m8 1h0m14-8h0m890 2h0m4 6h0m33-8h0m19 0h0m3 3h0m32 0h0m3-2h0m22 4h0m-38 5h0m-15 8h0m-33-4h0m-922 6h0m-36-9h0m-1 9h0m-6-4h0m-15-1h0m-15-5h0m31 16h0m57 2h0m915-4h0m48-2h0"/>
<path stroke="#cc9b06" d="M215 2288h0m88-6h0m12 7h0m852-2h0m19 1h0m60 3h0m41-1h0m33-8h0m-38 10h0m-18 2h0m-46 5h0m-873-1h0m-7 5h0m-71-1h0m68 8h0m5 4h0m31-4h0m956-2h0m6-2h0m17 10h0m-22 8h0m-4-7h0m-84 8h0m-10-3h0m-20 2h0m-872-2h0m-15-6h0m-45 8h0m-9 1h0m-13-7h0m-26 8h0m-7-8h0m-63 0h0m16 18h0m17-4h0m57 1h0m30 4h0m3-2h0m5 4h0m2-1h0m17-4h0m6-4h0m33 5h0m1 0h0m13 4h0m1-1h0m43-1h0m769-1h0m11 0h0m74 2h0m49-6h0m10 0h0m17 5h0m2-5h0m3-3h0m28 9h0m18 11h0m-11 3h0m-37-3h0m-10-2h0m-4 4h0m-44-7h0m-16-4h0m-21 6h0m-2-3h0m-2 5h0m-31 3h0m-10-7h0m-30 2h0m-755 1h0m-10 4h0m-14-2h0m-5 2h0m-13-9h0m-2 7h0m-8-8h0m-5 7h0m-66-8h0m-38 1h0m-15 2h0m-9-2h0m-3 6h0m-21 1h0m-1-4h0m-14 2h0m-10 15h0m8-5h0m1-2h0m11 6h0m27-4h0m15 7h0m18-9h0m12-1h0m8 7h0m21-4h0m2-1h0m8 5h0m17-5h0m10 6h0m3-9h0m17 3h0m823 4h0m11-5h0m23 3h0m5 5h0m27-3h0m5-1h0m2-3h0m5 1h0m12 7h0m15-1h0m32-3h0m14 0h0m37-5h0m0 5h0m1-2h0m4 0h0m17-3h0m14 3h0m6 2h0m12 17h0m-20-11h0m-12 0h0m-4 7h0m-7 0h0m0-2h0m-4-3h0m-27 5h0m-25-2h0m-16-6h0m-17 9h0m-29-7h0m-12 5h0m-36-2h0m-15-1h0m-1-2h0m-3 9h0m-8-3h0m-756-8h0m-3 7h0m-5 4h0m0-10h0m-5 6h0m-2 4h0m-6-1h0m-11 0h0m-12 0h0m-4-4h0m-14 2h0m-11-6h0m-25-1h0m-1 7h0m0 1h0m-4-7h0m-3 0h0m-30 3h0m-9 3h0m-1-3h0m-1 7h0m-51-10h0m-23 6h0m-34-6h0m18 11h0m3 2h0m9 7h0m15-5h0m12 5h0m4-1h0m1-8h0m16 2h0m8 3h0m20 2h0m1 4h0m9-9h0m16 6h0m45-9h0m0 11h0m10-3h0m20-5h0m6 5h0m23-6h0m1 7h0m11 2h0m3-9h0m4 3h0m752 4h0m7-7h0m1 5h0m27 0h0m8 4h0m8-6h0m16-1h0m4 3h0m14-2h0m0 3h0m6 2h0m23-5h0m0-2h0m8 4h0m12 1h0m11 1h0m10-7h0m4 3h0m16 3h0m6-8h0m7 2h0m44-2h0m14 18h0m-9 5h0m-3-9h0m-4-1h0m-7 7h0m-10-7h0m-10 6h0m-7 5h0m-88 0h0m-8-6h0m-18-3h0m-25-3h0m-4 5h0m-1 6h0m-12-4h0m-13 4h0m-7-8h0m-2 6h0m-10-3h0m0-2h0m-14-4h0m-734 11h0m-39-7h0m-13 5h0m-1-2h0m-2 5h0m-32-8h0m-3 8h0m-20-10h0m-21 4h0m-5-2h0m-22 6h0m-20-1h0m-6 1h0m-5-3h0m-9-1h0m-6-6h0m-4 10h0m-2-9h0m-4 11h0m-4-11h0m-8 2h0m-2 4h0m-2-1h0m-27 4h0m-1 1h0m13 11h0m10-4h0m12 1h0m11 3h0m45-2h0m6 0h0m38-2h0m30-1h0m11-2h0m1 7h0m8-9h0m7 3h0m3 5h0m27-4h0m17-4h0m31 7h0m731-3h0m11-1h0m21 0h0m1-2h0m34 9h0m2-8h0m10-1h0m10 4h0m1-2h0m2 8h0m14-5h0m12-5h0m60 8h0m13-5h0m11 3h0m34-5h0m1 6h0m6-1h0m0-3h0m18 8h0m-32 8h0m-21 0h0m-2 2h0m-90-8h0m-1 7h0m-12-6h0m-56 7h0m-10-4h0m-1 4h0m-785-10h0m-17 7h0m-26-1h0m-2 5h0m-6-1h0m-11-3h0m-14-4h0m-1 2h0m-4-1h0m-28 5h0m-21-3h0m-4-3h0m-14 4h0m-1 2h0m-24-3h0m-12-6h0m-7 1h0m-25 1h0m-3 7h0m-7-6h0m-3 4h0m-12 15h0m10 0h0m12-9h0m10-1h0m20 4h0m2-2h0m17 7h0m2-9h0m5 1h0m44 1h0m26 8h0m34-6h0m3-2h0m4 1h0m8 2h0m797 4h0m7-6h0m8 0h0m17 7h0m21-10h0m4 10h0m3-9h0m11 0h0m6 0h0m5 1h0m21 6h0m8-5h0m24 2h0m14 4h0m16 0h0m36-9h0m10 8h0m6-9h0m11 6h0m6 4h0m9-6h0m-4 14h0m-7 0h0m-44 1h0m-6 4h0m-6 1h0m-22-10h0m-8 2h0m0 6h0m-5-9h0m-25-1h0m-3 1h0m-17 4h0m-20-1h0m-20 7h0m-1-10h0m-16 5h0m-37-5h0m-817 6h0m-3-2h0m0-1h0m-24-3h0m-9 1h0m-12 5h0m-17 2h0m-2-9h0m0 8h0m-16-5h0m-10-3h0m-11 12h0m-12-7h0m-5-4h0m-7 1h0m-21 4h0m-12 6h0m-1 8h0m47-1h0m33-1h0m30 4h0m22-1h0m10-1h0m53 1h0m4-3h0m1 2h0m776-2h0m12-5h0m67 2h0m4-2h0m2 2h0m10-1h0m2 0h0m11 6h0m4-3h0m15 2h0m25 3h0m39 1h0m39 12h0m-6-6h0m-19 4h0m-47 2h0m-17-9h0m-1 0h0m-26 9h0m-20-8h0m-9-2h0m-40 0h0m-6 9h0m-6-6h0m-12-3h0m-6 1h0m-787 5h0m-2 4h0m-22-5h0m-28-4h0m-5 2h0m-2 3h0m-7 4h0m-3-8h0m-28 7h0m-33 1h0m-6-8h0m-12 9h0m-20-4h0m-8-4h0m-27 3h0m-45 3h0m42 14h0m15-5h0m33-1h0m9-5h0m29 2h0m1 4h0m2-1h0m43 6h0m14-9h0m9 5h0m28-5h0m5-1h0m798 2h0m17-3h0m6 4h0m25 5h0m8-5h0m13 4h0m1-5h0m65-3h0m2 1h0m1-1h0m25 4h0m10-4h0m28 9h0m4 1h0m7-3h0m6-1h0m5 3h0m6 13h0m-11-10h0m-3 0h0m-16 2h0m-3 5h0m-35-5h0m-53-3h0m-8 7h0m-9-1h0m-12 0h0m-1 5h0m-9-5h0m-10 4h0m-2-1h0m-10-5h0m-7 1h0m-9 0h0m-808-3h0m-17 7h0m-4-7h0m-2 9h0m-18-4h0m-23-7h0m-15 7h0m-10-5h0m-1 3h0m-18 5h0m-4-6h0m-6 8h0m-8-10h0m-3 8h0m-1-10h0m-5 6h0m-13 4h0m-20-8h0m-13 3h0m-8-3h0m-3 12h0m12 3h0m10 5h0m8-8h0m46 8h0m0-9h0m5 1h0m31-2h0m2 9h0m3 1h0m17-5h0m4 1h0m1 5h0m27-11h0m14 7h0m11-3h0m796 4h0m17-4h0m31 1h0m5 3h0m38 0h0m17-8h0m33 3h0m12 8h0m27 3h0m-7 8h0m-5-4h0m-14 2h0m-9 4h0m-2-8h0m-4 7h0m-29-10h0m-8 11h0m-13-12h0m-13 10h0m-9-5h0m-10-5h0m-1 8h0m-6 0h0m-3-5h0m-5 8h0m-41-3h0m-793-1h0m-39-4h0m-13 6h0m-6 0h0m-24-4h0m-3 0h0m-2-2h0m-9 9h0m-2-11h0m-29 0h0m-11 2h0m-16 3h0m-8 1h0m-1-4h0m-20-1h0m18 12h0m19 9h0m19-2h0m4-9h0m3 11h0m17-11h0m10 5h0m1 0h0m1 0h0m16-3h0m2 4h0m1-5h0m5 7h0m7-8h0m27 2h0m838 8h0m19-3h0m44-2h0m26-3h0m5 3h0m21 5h0m6-1h0m12-1h0m13 2h0m0-9h0m8 2h0m1 0h0m7 10h0m-6 10h0m-1-4h0m-3-7h0m-13 6h0m-41-1h0m-24 4h0m-6-2h0m0 2h0m-4 2h0m-23-5h0m-12-6h0m-850 2h0m-114 3h0m-2-5h0m-37 3h0m82 9h0m10 6h0m944 5h0m13-6h0m13-2h0m13 5h0m7-6h0m7 9h0m16-9h0m8 5h0m1-7h0m4 2h0"/>
<path stroke="#9dac08" d="M220 1992h0m16 1h0m40 20h0m-12-1h0m-49 15h0m38-1h0m1 0h0m931-2h0m67 3h0m-36 6h0m-3 2h0m-903 2h0m-2 0h0m-1-4h0m-100-1h0m1 15h0m13 1h0m11-5h0m48 1h0m905-2h0m35 2h0m24 0h0m16 1h0m1 1h0m2-4h0m-7 20h0m-1-8h0m-20 10h0m-38-11h0m-8 2h0m-835-1h0m-102 8h0m-11 1h0m53 7h0m1 0h0m49 0h0m835 5h0m49-7h0m15 2h0m1-4h0m1 4h0m5-3h0m3 7h0m16 12h0m-15-7h0m-17 4h0m-13-2h0m-17 2h0m-6 5h0m-10-6h0m-844-1h0m-12 5h0m-19-3h0m-3 3h0m-2-9h0m-25 9h0m-23-9h0m-5 13h0m31 5h0m10-7h0m37 3h0m842 5h0m17-4h0m10 2h0m14 4h0m30 1h0m23-10h0m2 8h0m-6 11h0m-7 1h0m-74 1h0m-3-7h0m-809 6h0m-80 12h0m899 0h0m42-2h0m16 2h0m3-4h0m11 4h0m35 14h0m-1-1h0m-27-4h0m0 5h0m-12-3h0m-5-5h0m-18 9h0m-6-8h0m-4 0h0m-16 0h0m-3 0h0m-5-2h0m-4 3h0m-5-2h0m-4 2h0m-4 6h0m-15-2h0m-837-2h0m-9-5h0m-43 8h0m-38-9h0m-40 13h0m3 3h0m0-4h0m3 7h0m30 2h0m57-8h0m16 1h0m59 3h0m767 5h0m23-1h0m9-3h0m11-2h0m40 5h0m23-3h0m7 1h0m31 3h0m42-1h0m32-7h0m1 3h0m30-4h0m-35 18h0m-4 4h0m-8-5h0m-31 0h0m-5-6h0m-1 8h0m-11-7h0m-14-1h0m0 1h0m-8 8h0m-37-7h0m-8 8h0m-7-4h0m-38-6h0m-20 4h0m-833 2h0m-4 0h0m-17 1h0m-86-1h0m-6 4h0m-4-11h0m-27 1h0m-20 13h0m80 2h0m4-1h0m5-2h0m21 9h0m10 0h0m16-6h0m859 6h0m39-6h0m6-4h0m2 5h0m5-5h0m0 5h0m35 0h0m14 6h0m29-7h0m2-4h0m33 0h0m21 8h0m3 1h0m-18 14h0m-24-9h0m-15 4h0m-43 5h0m-15-9h0m-14 1h0m-35 7h0m-7-4h0m-8-4h0m-825 4h0m-9 3h0m-7-8h0m-20 4h0m-9-5h0m-3 8h0m-63 1h0m-35 2h0m-3 1h0m-10-7h0m-13 2h0m-3 1h0m-7-7h0m-13-1h0m-3 1h0m-5 15h0m14 6h0m8-8h0m57 2h0m13 2h0m34 0h0m8 1h0m1-1h0m2 6h0m5-7h0m7-4h0m20 3h0m17 5h0m13-6h0m1-2h0m2 4h0m2 6h0m815-9h0m2 9h0m28-8h0m9 1h0m4 4h0m3 0h0m21 1h0m6-6h0m6 3h0m5 4h0m23-2h0m32-6h0m4 3h0m19 0h0m13 0h0m4 3h0m3 8h0m-3 4h0m-8-2h0m-22 3h0m-8 2h0m-8-8h0m0 9h0m0-5h0m-1-1h0m-6-3h0m-15 4h0m-1 4h0m-17-3h0m-19 1h0m-19 2h0m-8-5h0m-19 1h0m-48-5h0m-803 2h0m-1 0h0m-4 0h0m-22 5h0m-8-3h0m-22-1h0m-19 7h0m-10-7h0m-46-5h0m-2 10h0m-22 1h0m-18-9h0m-2 2h0m-20 7h0m20 12h0m5-9h0m36 9h0m5-8h0m17 5h0m15 1h0m48 2h0m22-8h0m10 0h0m16-2h0m4 9h0m803-9h0m21 10h0m22-10h0m15 11h0m27-2h0m27-6h0m29 8h0m3-1h0m37 1h0m-1 7h0m0-5h0m-7 10h0m-6-4h0m-40 2h0m-4-3h0m-20-5h0m-2-1h0m-3 1h0m-69 0h0m-9-1h0m-857 6h0m-8 0h0m-34 0h0m-23-5h0m-17 9h0m-34-4h0m-1-5h0m-15-2h0m-4 1h0m-1 5h0m-19-4h0m-2 20h0m11-6h0m21 3h0m12-2h0m30 5h0m10-8h0m7 2h0m1 7h0m24-10h0m6 2h0m16 4h0m17 2h0m8-2h0m25 1h0m791 2h0m21-5h0m9 1h0m3 4h0m23-9h0m5 2h0m33 8h0m8-2h0m2 0h0m1 1h0m7-10h0m12 10h0m9-5h0m0-1h0m8 6h0m34-1h0m14-4h0m8-1h0m2 2h0m-2 17h0m-9-5h0m0 6h0m-23-2h0m-18 0h0m-8-3h0m-32 4h0m-8 0h0m-8-9h0m-1 8h0m-10-7h0m-16 0h0m-1-1h0m-22-1h0m-833 4h0m-24 3h0m-5-6h0m-7 6h0m-38-4h0m-11 2h0m-11-1h0m-17-3h0m-9 5h0m-2-6h0m-29 5h0m-6 5h0m-1-3h0m-36-8h0m35 16h0m34-1h0m30 8h0m32-6h0m3 3h0m2 3h0m32-3h0m14-2h0m843-4h0m0 5h0m29-1h0m1 1h0m5-3h0m39 7h0m0-8h0m0 6h0m9-8h0m2 0h0m1 3h0m6 6h0m16-2h0m9-1h0m7-2h0m3 1h0m0 1h0m21-6h0m11 16h0m-13 0h0m-7 4h0m-36 1h0m-5 0h0m-10-9h0m-2 3h0m-4 2h0m-6-1h0m-12 7h0m-30-7h0m-6-3h0m-6 7h0m-6-6h0m0 3h0m0-4h0m-7 3h0m-6 5h0m-852-7h0m-45 1h0m-8 1h0m-7-4h0m-5 1h0m-3 7h0m-30-4h0m-3 1h0m-7 1h0m-1-4h0m-9 4h0m-54 15h0m12 0h0m4-7h0m3 8h0m5-6h0m1 5h0m3-10h0m3 3h0m43 3h0m18-4h0m3 0h0m12 0h0m47 8h0m17 2h0m3-2h0m6-8h0m5 6h0m827-2h0m6 2h0m8-2h0m4-5h0m28 4h0m1 5h0m25 2h0m6-11h0m19 11h0m2-5h0m16 4h0m10-8h0m0-3h0m16 10h0m34 7h0m-7 7h0m0-11h0m-9 5h0m-5-4h0m-13 2h0m-19 8h0m-42-11h0m-5 11h0m-11-1h0m-5-2h0m-14-1h0m-6-7h0m-833 9h0m-26 1h0m-32-1h0m-37-4h0m-8 2h0m-6 2h0m-2-3h0m-21-4h0m-10 5h0m-15 4h0m-3-1h0m-47-11h0m-2 8h0m19 11h0m20 4h0m31-1h0m11-10h0m12 11h0m12-4h0m20-2h0m1-3h0m40-1h0m11 6h0m837 5h0m3-1h0m13-10h0m8 1h0m2 6h0m7-1h0m4-6h0m1 4h0m7 3h0m3-3h0m1 1h0m3-5h0m5 7h0m14-2h0m7-1h0m3-2h0m4 2h0m5-2h0m12 5h0m36 3h0m25-1h0m2-8h0m6 21h0m-1 1h0m-18-1h0m-3-2h0m-27-8h0m-1 4h0m-2-2h0m-25 3h0m-4 2h0m-16-6h0m-1-2h0m-14 6h0m-2-6h0m-9 10h0m-4-8h0m-4 3h0m-2 6h0m-28-1h0m-5-2h0m0 2h0m-3-8h0m-1 1h0m-806 2h0m-14-3h0m-1 8h0m-7-4h0m-29 6h0m-3-3h0m-1 0h0m-8-1h0m-12-6h0m-11 1h0m-1 6h0m-32 0h0m-5 1h0m-18-3h0m-3 0h0m-11-1h0m-1-6h0m-26 1h0m-18 12h0m6 7h0m2-7h0m4 10h0m3-11h0m14 7h0m6-4h0m2 4h0m7 0h0m17 2h0m10-4h0m4 5h0m40-4h0m7 4h0m24-5h0m30 4h0m5-5h0m1 4h0m14-8h0m824 3h0m25 3h0m2 3h0m1-5h0m20-2h0m1 2h0m1 4h0m1-4h0m5-3h0m13 3h0m20 2h0m19-2h0m4 7h0m24-2h0m10 0h0m26 0h0m-30 4h0m-53 8h0m-14-5h0m-1 3h0m-9 1h0m-9-3h0m-7-1h0m-62-1h0m-907 2h0m-6-2h0m-5 4h0m-11-2h0m-20-4h0m-35 3h0m51 13h0m57 0h0m1 4h0m32-1h0m41-3h0m26 4h0m834-8h0m42 8h0m22 1h0m41-8h0m7 18h0m-108 4h0m-12-10h0m-979 6h0m1065 6h0"/>
<path stroke="#46b41c" d="M1486 1762h0m27 13h0m-15-3h0m0-4h0m-8-3h0m-10 17h0m11 6h0m8 1h0m-9 9h0m-37 2h0m-1004 1h0m2 1h0m15-2h0m7 10h0m7-1h0m3-1h0m20 0h0m961-3h0m14 0h0m29 3h0m2 0h0m-14 5h0m-30 2h0m-2 1h0m-8 2h0m-939 1h0m-7-2h0m-9 2h0m-11 2h0m-18-9h0m-3 2h0m-11 9h0m-5-9h0m-4 3h0m-5 6h0m-1-7h0m-3 2h0m-12 16h0m30-6h0m7 7h0m41-7h0m14 2h0m932 3h0m29-5h0m9-1h0m8-3h0m6 10h0m2-1h0m-21 9h0m-10 0h0m-5 2h0m-2-2h0m-6-6h0m-48 12h0m-885-5h0m-17-4h0m-2 3h0m-7 1h0m-4-6h0m-34 6h0m-25-1h0m-6 4h0m-16-8h0m-13 9h0m-4 10h0m3 2h0m33-3h0m2-6h0m4 8h0m3-4h0m18 1h0m13-7h0m3 5h0m10-2h0m5-1h0m34 3h0m889 2h0m7-5h0m5 5h0m17 3h0m2-2h0m18 4h0m23 0h0m17-8h0m1 8h0m9-3h0m10-4h0m3-1h0m10 18h0m-8-9h0m-12 2h0m-21 5h0m-3-8h0m-11 3h0m-4 4h0m-15-2h0m-9-5h0m-11 8h0m-25 2h0m-2-5h0m-875 1h0m-25 5h0m-4-9h0m-1-2h0m-26 3h0m-28 8h0m-73-6h0m3 15h0m2 1h0m2 2h0m28-1h0m10-3h0m3 1h0m4 3h0m34-1h0m8-2h0m20-4h0m7 3h0m17-4h0m10 6h0m840-1h0m2-2h0m7-4h0m4 3h0m1-1h0m3-2h0m0 6h0m2 4h0m3-3h0m17-1h0m1 1h0m10 1h0m7-9h0m47 4h0m10-2h0m25 2h0m9-1h0m6 3h0m21-1h0m-13 7h0m-30 11h0m-17-11h0m-3 11h0m-1-8h0m-6 1h0m-33 2h0m-9 3h0m-31-5h0m-16-3h0m-7 8h0m-9-7h0m-2 5h0m-12-4h0m-4-2h0m-813 1h0m-4 2h0m-55 4h0m-18 3h0m-10-4h0m-2 0h0m-10-8h0m-12 2h0m-10 7h0m-6-6h0m-1-1h0m-5-1h0m-35 9h0m-10 8h0m60-3h0m6-2h0m34 3h0m8 5h0m16-6h0m8 5h0m6-3h0m1 7h0m23-5h0m821-6h0m24 9h0m12-3h0m14-2h0m3 1h0m32 2h0m21-3h0m0-4h0m24 8h0m26-4h0m13-2h0m3 2h0m6-3h0m2-1h0m19 6h0m10 8h0m-2 3h0m-18 6h0m-5-2h0m-5-4h0m-8-6h0m-12 3h0m-44 6h0m-10-4h0m-20 4h0m-19-4h0m-26-1h0m-40 5h0m-3 1h0m-4 1h0m-787-2h0m-52-3h0m-10-3h0m-1 5h0m-4-3h0m-8-1h0m-11 8h0m-70-2h0m-13-9h0m-24 3h0m-5-1h0m7 14h0m4 0h0m7 7h0m6-1h0m5 0h0m10-3h0m16-4h0m42 7h0m2-5h0m24 3h0m29-4h0m16 0h0m20 3h0m820 3h0m14-6h0m18-2h0m9 3h0m18-3h0m8-2h0m53 8h0m60 6h0m-1 2h0m-42 0h0m-6-2h0m-23-2h0m-24 2h0m-10 1h0m-15 7h0m-3-7h0m-7 4h0m-4 2h0m-6-10h0m-6 2h0m-8 3h0m-4-2h0m-9 7h0m-3 1h0m-9 1h0m-10-11h0m-863 0h0m-3 1h0m-16 2h0m0-3h0m-5 7h0m-1-2h0m-4-2h0m-20 0h0m-8 5h0m-20-7h0m-3 8h0m-66-10h0m3 24h0m1 0h0m34-2h0m8-3h0m12-5h0m2-1h0m1 7h0m17-7h0m17 10h0m4-1h0m27-8h0m16-1h0m31 7h0m5-1h0m13 0h0m4 2h0m782-8h0m12-1h0m17 1h0m2 2h0m10 6h0m2-9h0m3 3h0m5 5h0m39-7h0m10 8h0m17-1h0m2-5h0m1 1h0m4-2h0m22 8h0m20 1h0m24-2h0m1 1h0m2-6h0m3 5h0m6-3h0m10-4h0m-13 19h0m-30 0h0m-2-3h0m-1 4h0m-2 0h0m-66-1h0m-42 3h0m-2-11h0m-21 9h0m-8-7h0m-808 0h0m-14-1h0m-5 4h0m-38 2h0m-8-1h0m-20-5h0m-6 5h0m-9 0h0m-15 3h0m-2-10h0m-2 2h0m-26 9h0m-3-10h0m-28 6h0m-11 17h0m5-8h0m22 8h0m7-12h0m5 11h0m9-2h0m5-2h0m3 0h0m55-2h0m853 5h0m10-4h0m17 5h0m41-8h0m10 6h0m1-3h0m2-1h0m0 4h0m0-8h0m2 3h0m5 7h0m16-8h0m6 2h0m33-3h0m18 7h0m44 0h0m-1 12h0m-10-5h0m-4-1h0m-16-1h0m-2 7h0m-6 2h0m-15-7h0m-42 5h0m-1 3h0m-5-12h0m-19 6h0m-18 3h0m-9 3h0m-7 0h0m-36-5h0m-2-7h0m-4 1h0m-5 6h0m-799 0h0m-1 2h0m-1 0h0m-4 3h0m-27-3h0m-1-9h0m-6 5h0m-9 3h0m-22-6h0m-3 2h0m-26 6h0m-13-2h0m-2-7h0m-6 1h0m-14 7h0m-4 2h0m-37-5h0m0 8h0m26 7h0m13-1h0m1 3h0m0-5h0m7-5h0m11 3h0m7-2h0m2 4h0m6 4h0m15-2h0m32-5h0m11-2h0m18 9h0m21-10h0m10 11h0m799 0h0m23-1h0m1-8h0m1 1h0m6-1h0m6 2h0m48-1h0m1 6h0m18-7h0m5 1h0m34 8h0m35-3h0m1-7h0m-4 20h0m-28-5h0m-2 2h0m0 5h0m0-7h0m-1 2h0m-7 3h0m-2-7h0m-28 0h0m-7 5h0m-14-6h0m-2 6h0m-8 0h0m-3-4h0m-3 4h0m-70-1h0m-5-5h0m-2 7h0m-7 2h0m-831-9h0m-12 9h0m-12-1h0m-5-7h0m-24 6h0m-54-8h0m-6 4h0m-9 3h0m-3-6h0m20 22h0m15 0h0m4-1h0m31 0h0m2 1h0m7 0h0m3-6h0m7 2h0m3-4h0m52 0h0m3-1h0m8 0h0m2 7h0m823 2h0m27-5h0m2-4h0m38 3h0m14-2h0m39 8h0m1 0h0m41-9h0m-10 22h0m-26-2h0m-14 0h0m-16-1h0m-2 1h0m-6 1h0m-9-6h0m-10-4h0m-23 6h0m-5-1h0m-23-4h0m-22 0h0m-832 1h0m-1 7h0m-6 0h0m-15-5h0m-10 2h0m-5-4h0m-10 7h0m-19-8h0m0 2h0m-8 7h0m-1-6h0m-2 6h0m-2-2h0m-10 3h0m-9-11h0m-34 10h0m-9-1h0m16 6h0m15 0h0m39 1h0m9-3h0m24 3h0m871 0h0m6 6h0m1-7h0m4 8h0m12-10h0m11 0h0m3 2h0m10 2h0m1 0h0m4 0h0m4-3h0m9 4h0m43-6h0m5 4h0m12 11h0m-23 8h0m-3-8h0m-21 0h0m-5 0h0m-24 4h0m-13 3h0m-925 0h0m-79-7h0m1013 9h0m2 2h0m11 0h0m14 1h0m16-3h0m17 1h0m-36 20h0"/>
<path stroke="#2a9ee2" d="M1402 1881h0m-6 8h0m0 4h0m-998-1h0m-4 13h0m7-7h0m1 6h0m0 4h0m3-7h0m0-4h0m953 3h0m17 8h0m5-10h0m11 3h0m8 1h0m-988 12h0m-36 0h0m-7-1h0m-8 0h0m-4 3h0m-7 9h0m1024 3h0m17-7h0m-2 14h0m-2-2h0m0 0h0m-10 9h0m-14-9h0m-967 8h0m-49-4h0m2 18h0m12-10h0m19 10h0m19-10h0m959 2h0m12 1h0m14 3h0m-982 10h0m-25 4h0m-12 0h0m-8 9h0m18 5h0m1 1h0m964-3h0m22-9h0m3 20h0m-3 4h0"/>
<path stroke="#e6880a" d="M1394 1712h0m21-5h0m8 8h0m6 5h0m-30 7h0m-33-4h0m-21 2h0m-4 0h0m-15-1h0m-13-4h0m-36 2h0m-1040 15h0m27-2h0m7-2h0m50 4h0m55 0h0m854-4h0m11 3h0m3-5h0m17 7h0m17-7h0m22-2h0m6 10h0m11-4h0m2 4h0m5-2h0m13 0h0m6-3h0m4-3h0m12 6h0m6 1h0m17-4h0m33 0h0m29 0h0m0 8h0m-7 0h0m-7 4h0m-19-3h0m-16 9h0m-1-9h0m-20 5h0m-24 3h0m-17-5h0m-41 2h0m-23-7h0m-2 4h0m-8-2h0m-17 8h0m-24-2h0m-5-9h0m-788 9h0m-31-3h0m-23-3h0m-10 3h0m-15 1h0m-7-4h0m-27 1h0m-21 1h0m-4-4h0m-10 8h0m-3-2h0m-19-2h0m-13 6h0m-19 4h0m19 7h0m24-4h0m9 4h0m16-9h0m41 2h0m10 7h0m3 0h0m1-7h0m34 8h0m19 0h0m2-3h0m1 2h0m785-3h0m16 3h0m0-1h0m30-8h0m6 5h0m2-2h0m9 1h0m42 4h0m10-6h0m1 8h0m24-2h0m8-7h0m0 8h0m3-8h0m27 9h0m7-10h0m14 6h0m3 2h0m4-7h0m2 2h0m0 4h0m6-1h0m3-1h0m2 0h0m10-3h0m3 1h0m3 0h0m0-3h0m8 2h0m-5 17h0m-22 2h0m-17-4h0m-6-1h0m-12 2h0m-2-6h0m-13 6h0m-12-7h0m-4 4h0m-9-1h0m-5 7h0m-10-6h0m-37-2h0m-14 9h0m-6 0h0m-61-5h0m-793-2h0m-2 3h0m-2-2h0m-3-4h0m-15 6h0m-7 5h0m-8-11h0m-54 2h0m-6 5h0m-14 3h0m-5-4h0m-5 2h0m-23 3h0m-29-7h0m-12 5h0m-1 1h0m-9-10h0m-20 2h0m0 19h0m16-5h0m34 0h0m5-4h0m10 0h0m7 8h0m10-6h0m8 4h0m5-4h0m8 3h0m12-6h0m10 3h0m14 1h0m38 6h0m22-6h0m9 0h0m1-3h0m45 10h0m768-2h0m6 1h0m6-1h0m2-1h0m3-1h0m3-6h0m1 3h0m19-2h0m2 6h0m54 0h0m17-4h0m5 8h0m2-8h0m12 1h0m17 3h0m11-1h0m3-5h0m13 0h0m5-1h0m3 11h0m2-11h0m29 19h0m-14-6h0m-2 7h0m-19-6h0m-15 0h0m-10 4h0m-4 5h0m-18-7h0m-1-2h0m-2 4h0m-19-2h0m-32-2h0m-1-1h0m-10 4h0m-32 1h0m-15 1h0m-1 3h0m-2-8h0m-8-3h0m-7 0h0m-7 3h0m-797 7h0m-22-2h0m-42-1h0m-4-6h0m-11 10h0m-24-3h0m-2-3h0m-3-1h0m-36 2h0m-7-1h0m-44 1h0m-25 6h0m-13 4h0m11-2h0m22 7h0m22-8h0m13 4h0m30 2h0m25 1h0m32-1h0m9-2h0m14-2h0m4 2h0m30 0h0m2 6h0m3-5h0m19 2h0m782-5h0m25-2h0m19 10h0m12-11h0m6 6h0m39-2h0m26-2h0m5 1h0m14-1h0m33 4h0m14-3h0m-8 9h0m-5 9h0m-1-7h0m-2 4h0m-4 3h0m-7-8h0m-1 0h0m-6 6h0m-1 3h0m-4-4h0m-8-5h0m-14 10h0m0-1h0m-2-1h0m-8-7h0m-13 6h0m-14-6h0m-17 3h0m-4 7h0m-25-8h0m-33 4h0m-817-4h0m-17 1h0m-9 5h0m-32-5h0m-1 4h0m-15 0h0m-9-2h0m-24-2h0m-1 3h0m-13-8h0m-61 1h0m-21-1h0m-2 5h0m6 15h0m13 0h0m5-4h0m3-3h0m18 5h0m4 1h0m14-6h0m27 3h0m5 3h0m3 4h0m25-9h0m5 6h0m8-4h0m1-3h0m29 0h0m13 10h0m19-6h0m5-4h0m797 7h0m4 1h0m21-3h0m22 5h0m7-11h0m44 6h0m1-3h0m6 0h0m4-3h0m5 9h0m6-6h0m23 3h0m46 14h0m-32-4h0m-6 6h0m-2-9h0m0 4h0m-6 2h0m-36-3h0m-25 2h0m-22-1h0m-17 6h0m-14-4h0m0-3h0m-5-1h0m-4 6h0m-8 2h0m-5-10h0m-831 2h0m-30 2h0m-3-5h0m-58 5h0m-37-5h0m-27 9h0m-13-2h0m1 5h0m12 2h0m4 7h0m0-4h0m4 6h0m11-7h0m4-2h0m8-2h0m11 3h0m5 5h0m31 4h0m14-6h0m9-2h0m10-1h0m72 1h0m829 4h0m8 3h0m7 0h0m7-3h0m1-4h0m3 7h0m29-10h0m9-1h0m1 5h0m14-3h0m20 4h0m12 2h0m6-3h0m18-4h0m-39 15h0m-3 7h0m-43-10h0m-10 1h0m-10 8h0m-20-6h0m-20 5h0m-21-3h0m-2-4h0m-1 4h0m-846 4h0m-5-5h0m-30-1h0m-13 3h0m-5 4h0m-2 0h0m0-8h0m-17 8h0m-11-3h0m-6-4h0m-9-2h0m-23 4h0m-2 3h0m-20-8h0m-4 0h0m-2 1h0m-1 7h0m-7 6h0m7-1h0m31 10h0m12-3h0m28-1h0m23 3h0m8-9h0m17 6h0m2-7h0m23-1h0m856 4h0m5 4h0m13-5h0m29 1h0m16 2h0m12 4h0m12-3h0m50-4h0m4 0h0m-11 16h0m-3 2h0m-11-8h0m-2 8h0m-22-1h0m-15 0h0m-5 2h0m-14-8h0m-24 2h0m-17 5h0m-901-4h0m-38 5h0m-3-7h0m-61-1h0m-1 1h0m-14-3h0m-2 19h0m5 2h0m25 0h0m24-7h0m3 7h0m18 3h0m16-7h0m17-1h0m886 2h0m11-5h0m2 10h0m2-8h0m23 6h0m33-3h0m19 0h0m0-2h0m3 4h0m27-8h0m1 2h0m9 5h0m-50 7h0m-39 7h0m-17-8h0m-919 2h0m-10 8h0m-37 1h0m-34-5h0m-1-5h0m29 11h0m24 6h0m942-3h0m2 3h0m21-5h0m7 2h0m21 0h0m12 0h0m2 4h0m1-1h0m17-6h0m-5 12h0m-11 3h0m-15 0h0m-30 4h0m-2 3h0m-7-8h0m-8 7h0m-1-1h0m-7-3h0m-11 5h0m-934-5h0m-6-5h0m-7 13h0m5 3h0m961 0h0m2 0h0m12-1h0m8-3h0m31 2h0m2 13h0m-22 3h0m-1 3h0m-11-9h0m-9 7h0m-7-7h0m-6 7h0m-939-2h0m-4 0h0m-18-1h0m-65 4h0m1013 4h0m11 3h0m6-2h0m8 2h0m17 2h0m3 3h0m-11 4h0m-2 8h0m-4-5h0m-7 3h0m-6 5h0m-963-6h0m-3 3h0m965 13h0m19-7h0m13 10h0m-16 2h0m-14 1h0m42 19h0"/>
<path stroke="#f6766d" d="M378 1428h0m1-5h0m978 0h0m24 5h0m32 7h0m-10-4h0m-36 7h0m-2-1h0m-7-2h0m-3 3h0m-2-3h0m-7-2h0m-960 6h0m-8-3h0m0 0h0m-8 3h0m-42 10h0m6-4h0m34 2h0m24 4h0m15-10h0m5 10h0m20 0h0m27 0h0m884-3h0m18-4h0m15 2h0m43 4h0m22-4h0m5-6h0m20 19h0m-27-7h0m-12 5h0m-10 0h0m-7 3h0m-11-5h0m-7 4h0m-15-4h0m-13-2h0m-16 1h0m-6 6h0m-1-5h0m-859 5h0m-24-8h0m-29 0h0m-12 8h0m-16 0h0m-21-8h0m-13 9h0m-21 0h0m-26 9h0m8 0h0m15 3h0m6 0h0m4-8h0m27 1h0m25 6h0m23-4h0m17-1h0m46 3h0m828-2h0m27 6h0m10-8h0m20-1h0m8 4h0m45 1h0m22 0h0m9 0h0m1 5h0m11-8h0m7 21h0m-16-9h0m-30-2h0m-11 11h0m-12-9h0m-16 6h0m-11-3h0m-55 5h0m-8 0h0m-803-2h0m-4 0h0m-21 1h0m-34-2h0m-1-5h0m-25 7h0m-2-2h0m-8 2h0m-12-8h0m-11 4h0m-16 0h0m0 0h0m-25 5h0m-13-3h0m-36 15h0m5-3h0m11-3h0m17 7h0m1-11h0m41 0h0m7 8h0m9-2h0m5-1h0m12-5h0m7 9h0m3-1h0m4-7h0m2 0h0m28 9h0m18 1h0m811 0h0m27-5h0m6-3h0m5-3h0m25 0h0m2 8h0m4-8h0m7 4h0m8 6h0m14-5h0m1-6h0m3 11h0m7-6h0m14 7h0m7-9h0m7-2h0m3 1h0m3 2h0m2 0h0m5 1h0m1 6h0m18-3h0m12 4h0m5-4h0m30 9h0m-37 3h0m-55 2h0m-16 0h0m-34-4h0m-7 3h0m-20-5h0m-31 3h0m-18-5h0m-756 0h0m-27-1h0m-72 1h0m-10 0h0m-12 4h0m-46-4h0m-5 4h0m-4 4h0m-22 1h0m-43-8h0m35 12h0m5 3h0m5-3h0m0 6h0m4 0h0m4 1h0m6-1h0m22-5h0m16 0h0m18 2h0m22 1h0m27-1h0m4-4h0m6-2h0m1 6h0m23 2h0m11 1h0m1-7h0m798 8h0m8-1h0m25 1h0m3-8h0m10 8h0m19-9h0m3 8h0m24-3h0m1 5h0m57-10h0m6 1h0m11 4h0m18 0h0m9 16h0m-2 0h0m-4-4h0m-10 4h0m-10-10h0m-4 6h0m-34-2h0m-17 0h0m-18-3h0m-6 2h0m-15-2h0m-7 11h0m-7-2h0m-4-9h0m-8 4h0m-2 2h0m-24-2h0m-16-3h0m-12 4h0m-1 4h0m-769-1h0m-12 3h0m-15-9h0m-1 6h0m-30-9h0m-2 6h0m-2 2h0m-2 2h0m-2 2h0m-40-10h0m-8 7h0m-62-7h0m-59 3h0m22 11h0m2-3h0m30 6h0m11 0h0m13-1h0m3 2h0m12-4h0m0 0h0m35 2h0m5 4h0m2-8h0m10 2h0m8 4h0m19-2h0m0 4h0m2-5h0m6-5h0m23 10h0m43-1h0m754-7h0m4 2h0m15 5h0m23 0h0m13 1h0m6-7h0m18 0h0m14 8h0m3-2h0m4-7h0m4 1h0m3 5h0m23-7h0m26 3h0m13-1h0m2-2h0m21 5h0m8 4h0m32 6h0m-22 1h0m-9-1h0m-1 6h0m-2-6h0m-14-3h0m-11 3h0m-5-2h0m-4 5h0m-5 0h0m-18-1h0m-18 1h0m-2 5h0m-7-12h0m-14 2h0m-11 5h0m-21 3h0m-29-3h0m-1-4h0m-17 0h0m-18-1h0m-6 7h0m-14-1h0m-745-6h0m-8 5h0m-8-5h0m-4 6h0m-30-4h0m-75 3h0m-5-1h0m-17-1h0m0-2h0m-11 0h0m-21 9h0m-50 0h0m-8 0h0m-21-2h0m-7 10h0m11-3h0m5 2h0m14-1h0m3-6h0m2 4h0m12-1h0m8 8h0m33-8h0m6-2h0m48 9h0m23-2h0m15-5h0m31 5h0m18-3h0m9 1h0m17-2h0m792 3h0m5-3h0m16 3h0m34 0h0m1 4h0m10-11h0m23 7h0m23 3h0m11-3h0m11 4h0m17-4h0m13 2h0m11-4h0m11 6h0m30-11h0m5 2h0m-48 21h0m-13-5h0m-12-5h0m-10 8h0m-45-1h0m-15-2h0m-5-5h0m-10 7h0m-50-7h0m-4 10h0m-17-4h0m-16 4h0m-771-4h0m-29-6h0m-18 10h0m-23-4h0m-10 0h0m-53-2h0m-16-2h0m-10 3h0m-5 4h0m-19 0h0m-42-1h0m0-7h0m-2 6h0m-10 8h0m11-4h0m1 11h0m20-4h0m4-4h0m29 6h0m5 2h0m2-7h0m4-3h0m7 8h0m53-8h0m37 0h0m18 8h0m5 0h0m775 1h0m24-2h0m8-7h0m13 6h0m1-5h0m31 9h0m21-9h0m31 3h0m39 2h0m10 1h0m18-1h0m0 4h0m11-1h0m3-8h0m7 9h0m11-7h0m17 2h0m24 10h0m-3 3h0m-9 2h0m-6-8h0m-3 7h0m-2-7h0m-1 4h0m-31 0h0m-3-4h0m-4 4h0m-56-2h0m-8 2h0m-27-1h0m-14-1h0m-2-3h0m0 7h0m-40 1h0m-29 2h0m-2-3h0m-22 0h0m-7 0h0m-790 4h0m-33-8h0m-2 1h0m-43 4h0m-22 2h0m-28-5h0m-4-4h0m-9 0h0m-9-1h0m-19 0h0m-50 8h0m51 4h0m63 6h0m16-1h0m4-5h0m18 3h0m5 5h0m12-6h0m38-2h0m9 6h0m4 3h0m789-3h0m14-1h0m52-4h0m4 6h0m11-5h0m8 3h0m19 4h0m5-2h0m4-6h0m21 8h0m30-5h0m7-2h0m30 4h0m2 1h0m3-5h0m56 9h0m-55 8h0m-5 0h0m-11-4h0m-1 1h0m-12-3h0m-7 2h0m-10 0h0m-14 9h0m-15-2h0m-7 0h0m-16 0h0m-32-5h0m-12-3h0m-9-2h0m-9 10h0m-2-3h0m-13-3h0m-3 6h0m-8-2h0m-30 2h0m-791-8h0m-8 4h0m-39 4h0m-28-5h0m-21-4h0m-11 7h0m-1-7h0m0 2h0m-13 8h0m-65-7h0m-52 9h0m81 9h0m12-1h0m16-6h0m15 3h0m8-2h0m6 4h0m23-1h0m9 5h0m8-11h0m5 6h0m30-6h0m9 2h0m4-2h0m823-1h0m19 9h0m5-9h0m18 5h0m34 0h0m4 5h0m1 2h0m34-8h0m1-2h0m20-2h0m75 2h0m-28 19h0m-35-7h0m0-1h0m-23-1h0m-12 12h0m-9-1h0m-32 0h0m-6-5h0m-7 4h0m-10 0h0m-10-6h0m-59 4h0m-5-3h0m-803 6h0m-101-4h0m-24 1h0m-65 14h0m25-6h0m5 4h0m7-6h0m1 4h0m38 1h0m13 4h0m44-11h0m13 9h0m13-1h0m6-4h0m9 0h0m28-3h0m8 4h0m807 6h0m17-4h0m3-5h0m21 8h0m13-4h0m1 1h0m24 3h0m6-5h0m1-1h0m8 2h0m19-4h0m12 9h0m30-3h0m28-4h0m0 4h0m-33 6h0m-4 9h0m-2-2h0m-4-6h0m-10 6h0m-40-8h0m-33 10h0m-44-2h0m-34 2h0m-3-4h0m-779 5h0m-1-3h0m-30 0h0m-6-1h0m-14-3h0m-4 5h0m-60-9h0m-19 6h0m-21-3h0m-22 7h0m-11-5h0m-39 4h0m-5 12h0m2-6h0m40 6h0m3-5h0m41-4h0m41 5h0m69-4h0m8 2h0m793-2h0m61-1h0m3 4h0m20-1h0m1 1h0m5 6h0m6-2h0m20-7h0m15-1h0m2 8h0m0-5h0m19 0h0m2 4h0m6-6h0m6 7h0m8 3h0m4-10h0m0 3h0m12 5h0m0-5h0m-28 9h0m-1 1h0m-8 1h0m-5 6h0m-9-2h0m-5-1h0m-1-2h0m-4 1h0m-3 0h0m-9-4h0m-16 3h0m-16 5h0m-15-9h0m-7 6h0m-7-4h0m-5 0h0m-12-1h0m-30 7h0m-1-9h0m-1 1h0m-7 2h0m-792-3h0m-31 8h0m-82-4h0m-69-2h0m-11 9h0m-6-5h0m-3-1h0m25 9h0m8-1h0m7 8h0m6 3h0m39-4h0m0 3h0m2-5h0m10-2h0m42 4h0m6-7h0m27 6h0m9-1h0m847-1h0m5 0h0m35-5h0m57 3h0m34-3h0m10 1h0m-88 18h0m-36-6h0m-28 2h0m-1 9h0m-28-7h0m-818-5h0m-58 11h0m-8-6h0m-10 2h0m-35-2h0m-36-2h0m-2-2h0m-10 4h0m-4 2h0m-13-7h0m24 21h0m8 1h0m4-5h0m25-1h0m4 4h0m76 1h0m21-5h0m833 4h0m31 4h0m-851 2h0m-20 2h0m-8-2h0m-95 2h0m-1 7h0m-48-5h0m989 12h0"/>
<path stroke="#1f90ec" d="M504 1549h0m-86 4h0m-1 12h0m104 2h0m10 9h0m-115 5h0m125 13h0m868-9h0m2 2h0m31-3h0m36 0h0m70 19h0m-32 5h0m-5-1h0m-961-5h0m-8-2h0m-1 4h0m-47-1h0m23 16h0m7-8h0m0 3h0m23 1h0m6-6h0m929 9h0m2-1h0m47 2h0m-20 12h0m-21-5h0m-949 3h0m-12-7h0m-13 6h0m-36-3h0m-8 13h0m8 3h0m20-3h0m8-2h0m13 0h0m24-2h0m5 2h0m850 5h0m75 2h0m19-8h0m10 0h0m23 0h0m16 9h0m6-11h0m4 8h0m-9 14h0m-8-5h0m-10-4h0m-17 0h0m-2 6h0m-21-4h0m-2 1h0m-12 3h0m-34 0h0m-905 1h0m-7 0h0m-7-2h0m-7-2h0m1 8h0m906 10h0m13-6h0m11 3h0m15 1h0m0-2h0m9 2h0m23-5h0m39 2h0m2-5h0m4 2h0m5 6h0m7 2h0m-1 1h0m-10 8h0m-50-3h0m-2 1h0m-8 6h0m-15-2h0m-11-1h0m-2 2h0m-6-10h0m-922 7h0m-13-4h0m-8-3h0m-35 1h0m-24 11h0m24 8h0m25-6h0m10 4h0m935-5h0m23-2h0m21 8h0m33 2h0m7 6h0m-26 7h0m-42-4h0m-5 1h0m-3 3h0m-5-1h0m-9-5h0m-919-4h0m-6 4h0m-39 1h0m-15 8h0m13-1h0m2 2h0m23 3h0m939 1h0m37 4h0m16 0h0m3-7h0m-3 9h0m-22 11h0m-15-7h0m-1000-4h0"/>
<path stroke="#1aa3e3" d="M1228 1475h0m13-2h0m3 9h0m-7-6h0m-997 12h0m1024 13h0m-12 8h0m-37-7h0m-17 8h0m-3-2h0m-1-2h0m-957-1h0m-1 5h0m-2-10h0m-13 12h0m-48 11h0m39-8h0m49 5h0m930-2h0m16 3h0m3-7h0m6 10h0m1-1h0m5-8h0m2 8h0m36-2h0m5-1h0m-9 8h0m-28 8h0m-1000-7h0m-9-4h0m-24 1h0m-27 12h0m2 7h0m2-4h0m1-4h0m6 1h0m18-1h0m7-1h0m19 7h0m22-3h0m912 4h0m15-6h0m38 0h0m17 2h0m4 7h0m15-2h0m5-3h0m6 5h0m-33 10h0m-3-7h0m-13 1h0m-2-2h0m-2 7h0m-961-4h0m-5 7h0m-37-10h0m-5 1h0m-1 6h0m-1 4h0m-4-4h0m-4-4h0m-2 8h0m-43 5h0m4 2h0m17 2h0m2-8h0m13 10h0m10-11h0m45 9h0m2-7h0m2 9h0m7-1h0m887 1h0m68-9h0m15 9h0m20-2h0m5-3h0m-39 7h0m-2 10h0m-34-10h0m-975 4h0m-6-5h0m-16 10h0m-4-5h0m-21 6h0m-14 12h0m26-7h0m2 8h0m2-7h0m11 0h0m968 2h0m2 1h0m10 0h0m26-2h0m25 4h0m13 0h0m45 2h0m-52 6h0m-23 1h0m-2 3h0m-54-7h0m-903-3h0m-44 10h0m-9-2h0m-17-7h0m-4 9h0m-8-6h0m5 8h0m5 10h0m9-8h0m963 1h0m18-1h0m1 3h0m8-1h0m3 8h0m4-10h0m9 5h0m5 3h0m0 1h0m11 0h0m32-4h0m2-6h0m-3 14h0m-7 7h0m-3 0h0m-23-1h0m-1 1h0m-4-6h0m-6-2h0m-3-1h0m-12 8h0m-11-5h0m-3 6h0m-951-5h0m-1-5h0m-8 2h0m-18 8h0m-9 1h0m-12 12h0m14-4h0m15-2h0m37-5h0m3 10h0m12 0h0m3-3h0m914 3h0m11-1h0m19-7h0m8 3h0m2 1h0m31 1h0m-3 14h0m-29 3h0m0-1h0m-6-3h0m-32-6h0m-9 0h0m-3 4h0m-6-1h0m-912 2h0m-4-3h0m-7-1h0m-16 9h0m-4-4h0m-13 2h0m-22 3h0m10 3h0m4-2h0m5-1h0m8 6h0m982 4h0m8-5h0m1 3h0m20-1h0m13 2h0m22-1h0m-10 8h0m-25-1h0m-24 4h0m-980-7h0m-22 9h0m-2 1h0m-17 7h0m36 4h0m20-9h0m6 11h0m11-3h0m0-6h0m941 3h0m10-5h0m0 4h0m19-2h0m19 3h0m-24 7h0m-10 9h0m-19-7h0m-940 8h0m-20-10h0m-16 5h0m-10-4h0m37 18h0m1 1h0m12-8h0m969 9h0m13-7h0m-17 11h0m-5 7h0m-972-7h0m-1 7h0m-3-3h0m-7-4h0m-2 3h0m-16 1h0m-7-2h0m-5 1h0m-10-2h0m12 12h0m9 3h0m11 0h0m17 5h0m953-1h0m18-9h0m13 10h0m21-9h0m-21 15h0m0-4h0m-6 4h0m-34-5h0m-948 1h0m-7 8h0m-16-5h0m-2 7h0m-2-4h0m-12-1h0m7 8h0m5 5h0m13 4h0m7-1h0m5-1h0m2 1h0m2-5h0m974 5h0m8-8h0m2 8h0m6 0h0m12 4h0m-25 6h0m-1-4h0m-3 8h0m-4-4h0m-18-6h0m-956-1h0m-10 11h0m-13-4h0"/>
<path stroke="#da4679" d="M1527 2205h0m-19 2h0m-71-8h0m68 16h0m23 5h0m-12 1h0m-95 2h0m91 11h0"/>
<path stroke="#16b35e" d="M663 2116h0m18 2h0m28-2h0m39-1h0m2 2h0m28-2h0m968 3h0m53-2h0m5 6h0m-106 8h0m-911-5h0m-100 10h0m-35-2h0m19 14h0m133-8h0m845 2h0m36 0h0m65-1h0m22-3h0m13 2h0m20 13h0m-81-3h0m-40 4h0m-880 6h0m-23 0h0m-8 0h0m-27-2h0m-10 2h0m-58-6h0m-7 9h0m15 3h0m14-1h0m9 7h0m38 0h0m23-2h0m27-2h0m1000-4h0m19 10h0m-7 9h0m-38-1h0m-14-5h0m-868 6h0m-101-1h0m-6-4h0m-65-3h0m-568 7h0m-3 0h0m522 5h0m16 4h0m13-3h0m44 2h0m40 5h0m16-8h0m18 3h0m870 4h0m22 0h0m23-2h0m30-2h0m22-3h0m0 9h0m9-8h0m72-1h0m3 6h0m18 8h0m-164-4h0m-66 2h0m-7 7h0m-16 1h0m-792-3h0m-30-3h0m-11 5h0m-83-2h0m-48 2h0m-4-1h0m-1-1h0m-22-4h0m-499 8h0m8 4h0m583 5h0m17-3h0m22-4h0m32 6h0m811-3h0m48 0h0m1 0h0m3 6h0m10-7h0m16 1h0m9 0h0m38-2h0m49 2h0m1 3h0m15-7h0m6 21h0m-48-7h0m-83-1h0m-8 4h0m-854 3h0m-22 2h0m-5-5h0m-8 1h0m-28-2h0m-4 8h0m-27-10h0m-36 7h0m-536 3h0m-2-9h0m6 11h0m567 8h0m63-8h0m894 5h0m10-3h0m17-1h0m102 13h0m-180 6h0m-7-5h0m-13-4h0m-909 5h0m-2-2h0m-14-2h0m-532 10h0m-3 0h0m-4-12h0m6 16h0m10-2h0m536 9h0m7-1h0m2-2h0m14 1h0m8 1h0m939-5h0m40 0h0m23 8h0m-129 9h0m-946-5h0m-44 14h0m1120 2h0m46 7h0m-14-4h0m-21 6h0m-7-6h0m-83 5h0m-46 3h0m-21-4h0m-870 4h0m-16 1h0m-5 0h0m-3 3h0m-61-1h0m-10 1h0m-42 7h0m53-1h0m4-4h0m12 3h0m18 6h0m14 1h0m1027-1h0m0-1h0m21-5h0m26 5h0m2-9h0m1 0h0m-10 23h0m-3-12h0m-35 5h0m-37 0h0m-1 0h0m-8-1h0m-17 3h0m-4-2h0m-1 0h0m-5 3h0m-55-1h0m-14-3h0m-16-3h0m-798 11h0m-14-10h0m-8 1h0m-13-1h0m-17 0h0m-5 8h0m-10-7h0m-23 7h0m-18-6h0m-3-2h0m-13 3h0m-19-2h0m-1 8h0m-1-10h0m-1 0h0m-26 0h0m8 16h0m34-3h0m0 7h0m16 3h0m4-8h0m7 5h0m20 1h0m5-3h0m8 0h0m7-6h0m0 2h0m43 6h0m846-3h0m4-3h0m15-1h0m17 8h0m5-9h0m17 2h0m53 5h0m7 1h0m5 1h0m5 0h0m15 0h0m4-4h0m-5 18h0m-22-8h0m-5 6h0m-43 0h0m-18 2h0m-26-11h0m-9 0h0m-7 4h0m-18 4h0m-5 3h0m-5-3h0m-15-7h0m-837 7h0m-3 0h0m-17 0h0m-33-7h0m-13 1h0m-1 1h0m-36 4h0m-5 4h0m-6-3h0m-46 4h0m5 4h0m5-3h0m15-1h0m47 9h0m26-8h0m11 5h0m9 2h0m9-3h0m53-6h0m824 4h0m9 7h0m25-4h0m12-3h0m2-1h0m23 4h0m52 4h0m8 0h0m2-8h0m3 3h0m26 4h0m11-6h0m-18 16h0m-39-3h0m-2 7h0m-13-4h0m-3 4h0m-6-6h0m-42-3h0m-4 0h0m-7 8h0m-7-5h0m-50 3h0m-28 3h0m-776-6h0m-8-5h0m-11 8h0m-8-7h0m-18 6h0m-8-4h0m-16-1h0m-9 5h0m-7-1h0m-53-5h0m-16 6h0m-13-3h0m-14-4h0m-33 7h0m-1 4h0m-3-8h0m0 6h0m26 9h0m113-5h0m22 2h0m2 2h0m31 1h0m4-4h0m764 9h0m25-9h0m5 4h0m1-2h0m22 6h0m48-2h0m1-2h0m13 1h0m26 0h0m6-1h0m59-4h0m9 3h0m3-5h0m5 9h0m22 1h0m-18 9h0m-4-7h0m-1 4h0m-13 0h0m-4 1h0m-56-6h0m-2 9h0m-6-2h0m-73 3h0m-17-6h0m-2 7h0m-15-2h0m-2 0h0m-27 1h0m-767-2h0m-8 3h0m-1-8h0m-40 4h0m-12-2h0m-31 3h0m-2-7h0m-8 8h0m-8 0h0m-5-3h0m-19 3h0m-4 0h0m-8 2h0m-11-10h0m-21 5h0m-6 6h0m-24-6h0m-40-3h0m41 12h0m7 7h0m7-4h0m2 3h0m13-3h0m4-5h0m15 8h0m13-3h0m17 4h0m7-7h0m16-1h0m4 2h0m7-2h0m0 2h0m82 5h0m764-8h0m11 9h0m15 2h0m36-1h0m27-7h0m0 4h0m6-4h0m4-4h0m20 2h0m1 4h0m38 1h0m10 0h0m11 2h0m22 1h0m1-1h0m9 3h0m20-6h0m-45 17h0m-100-6h0m-44 4h0m-46-8h0m-8 9h0m-63 0h0m-702 1h0m-21-7h0m-9 6h0m-32-3h0m-14-6h0m0 3h0m-9 4h0m-11-1h0m-5 5h0m-20-11h0m-23 8h0m-1-3h0m-11 4h0m-94 11h0m31-4h0m4 2h0m12-1h0m29 1h0m32 4h0m21-6h0m73 6h0m4-9h0m14 9h0m10-10h0m21 2h0m2-1h0m7 1h0m757 7h0m16-5h0m50-3h0m30 7h0m19-4h0m42-3h0m7 6h0m30-1h0m19-4h0m11-3h0m-17 16h0m-37 5h0m-2 2h0m-1-9h0m-9-1h0m-11 4h0m-7-3h0m-11 7h0m-10-5h0m-9 3h0m-18 4h0m-29-1h0m-5-4h0m-4-3h0m-31 7h0m-6-7h0m-20 4h0m-783-3h0m-7 6h0m0-1h0m-14-1h0m-15-2h0m-11 2h0m-10-8h0m-9 0h0m-4 8h0m-2-2h0m-11-1h0m-4 6h0m-40-6h0m-9 7h0m-10-3h0m-1-4h0m-5 1h0m-11 4h0m-19-9h0m-26 11h0m-16-6h0m-8-1h0m-2 10h0m14 1h0m43 0h0m34 5h0m20-4h0m22-2h0m3-1h0m10 4h0m14 2h0m9-5h0m2 4h0m4 0h0m8-2h0m5 6h0m1-4h0m9-4h0m1 9h0m11-5h0m789 0h0m4-2h0m1 5h0m12-3h0m5 3h0m4 1h0m6 1h0m12-6h0m5-1h0m15 5h0m7-7h0m3 6h0m3-2h0m12-7h0m13 4h0m2 1h0m3 3h0m1-5h0m2 9h0m25-4h0m7-4h0m16 6h0m3-7h0m1 8h0m25-4h0m2-5h0m-16 13h0m-20 8h0m-19 0h0m-5 0h0m-15-10h0m-12 5h0m-6-2h0m-9 7h0m-5-4h0m-10 3h0m-1-10h0m-7 1h0m-27 5h0m-6-5h0m-13 6h0m-49-5h0m-751 6h0m-13-7h0m-2 6h0m-19-2h0m-3 5h0m-16-10h0m-11 6h0m-1-6h0m-9 6h0m-14 2h0m-4-1h0m-5-5h0m-20 1h0m-25 5h0m-8-1h0m-1 5h0m-2-12h0m-6 3h0m-35 1h0m-2-1h0m-42 20h0m43-8h0m5-3h0m2 2h0m0 1h0m11 2h0m8 1h0m2 5h0m6-6h0m9-2h0m24-1h0m8 3h0m6 3h0m0 4h0m12-9h0m8-1h0m0 7h0m7 3h0m5-11h0m12 1h0m55-1h0m19 1h0m802-1h0m18 3h0m14-4h0m2 6h0m2-3h0m6 6h0m13-8h0m11 7h0m71-6h0m22 3h0m-79 14h0m-37-6h0m-2-1h0m-35 2h0m-9-1h0m-865 1h0m-89 1h0m-7 6h0m-3 2h0m-4-11h0m-1 9h0m-15-5h0m-7 5h0m-5-2h0m-7 3h0m-4-4h0m-17-5h0m1 15h0m1 7h0m42-7h0m1-3h0m28 7h0m909 3h0m4-3h0m17-5h0m9 3h0m-1007 8h0m-3 1h0"/>
<path stroke="#14ad88" d="M890 1924h0m29 0h0m20 7h0m21-5h0m975 7h0m-4 9h0m-989-4h0m-46 6h0m-7 6h0m34 0h0m22-1h0m0-2h0m18-1h0m2 9h0m5-3h0m15-7h0m8 1h0m1 9h0m884-10h0m18 3h0m15 0h0m0-3h0m9 3h0m22 2h0m5-5h0m8 10h0m19-5h0m-17 16h0m-3 1h0m-3-10h0m-56 6h0m-13-5h0m-1-1h0m-24 9h0m-864-5h0m0 4h0m-5-7h0m-31 8h0m-3-5h0m-8-2h0m-42 7h0m-23-5h0m-2 9h0m1 4h0m5 3h0m16-1h0m15 1h0m11-6h0m5-1h0m25 0h0m12 9h0m890-2h0m4-1h0m12-1h0m5 2h0m9-4h0m3 1h0m6-2h0m33 7h0m11-9h0m6 4h0m9 0h0m22-4h0m2 6h0m7 12h0m-13 2h0m-13-9h0m-14 8h0m-20-7h0m-2 7h0m-59-3h0m-3 5h0m-858-9h0m-19 2h0m-4 3h0m-36 3h0m-1 1h0m0-7h0m-14 2h0m-13-5h0m-35 7h0m-15-1h0m-4 3h0m-3-1h0m2 7h0m5-1h0m8 5h0m15-4h0m8 4h0m5 2h0m16-1h0m3-7h0m6 9h0m14-3h0m26-3h0m19 4h0m27 2h0m836-8h0m22 1h0m4 3h0m5-1h0m26 0h0m21-5h0m3-1h0m7 9h0m13-6h0m43 0h0m-50 13h0m-4-3h0m-11 4h0m-25-3h0m-13 0h0m-3 6h0m-1-5h0m-18-3h0m-13 11h0m-3 0h0m-10-10h0m-11 8h0m-826 1h0m-4-8h0m-5 8h0m0-2h0m-3-4h0m-31-1h0m-15-1h0m-13 8h0m-2-2h0m0 1h0m-41 1h0m-21-4h0m-7 3h0m-4-1h0m-5 6h0m7 0h0m4 4h0m5 2h0m9 0h0m7-5h0m16 8h0m6 1h0m3-7h0m17 1h0m2-1h0m35 6h0m3-3h0m4 0h0m2 2h0m12-8h0m12 6h0m835 4h0m4-6h0m5-3h0m10 7h0m13-5h0m1 6h0m24-8h0m15 2h0m40 0h0m19-1h0m1-4h0m19 21h0m-51-5h0m0-1h0m-56 1h0m-42 6h0m-808-4h0m-14-6h0m-37 7h0m-14 3h0m-8-4h0m-44 4h0m-20-5h0m-12 5h0m-27-2h0m-8 4h0m-8-10h0m-4 1h0m8 21h0m8-5h0m19 5h0m7-2h0m6-2h0m44-5h0m35-2h0m29 3h0m7 6h0m14-9h0m4 5h0m840 3h0m0-7h0m46 1h0m14-1h0m9 8h0m2-1h0m10-2h0m23 3h0m13 0h0m18 0h0m3-2h0m7 1h0m3-8h0m2 14h0m0 9h0m-8-1h0m-2-3h0m-68 0h0m-23-4h0m-6 6h0m-7-5h0m-26 4h0m-14 2h0m-29-7h0m-808-4h0m-7 12h0m-34-6h0m-22 4h0m-4 0h0m-13 0h0m-12 0h0m-22 2h0m-4-8h0m-16 5h0m-7-2h0m-6-4h0m-3-1h0m-24 5h0m-4 16h0m1 0h0m5 0h0m2-9h0m15 8h0m4 1h0m8-7h0m37 3h0m3 5h0m26-9h0m18 3h0m26 3h0m4 1h0m23-8h0m807 9h0m30-4h0m69-5h0m5-1h0m11 2h0m30-1h0m0 6h0m4 1h0m5 2h0m16-7h0m11 12h0m-42 4h0m-10-5h0m-2 5h0m-4-4h0m-27 4h0m-42 0h0m-4 1h0m-23-5h0m-9 5h0m-13-1h0m-10 1h0m-2-5h0m-813-2h0m-16 6h0m-24-4h0m-45-1h0m-28 5h0m0 2h0m-13 2h0m-17-1h0m-14 2h0m4 9h0m37-6h0m29 4h0m13 0h0m11-4h0m36-2h0m4 8h0m7-4h0m847-4h0m5 9h0m0-2h0m3-4h0m25 3h0m43-5h0m19 8h0m25-1h0m1-7h0m5-3h0m21 6h0m10 3h0m7 9h0m-28 2h0m-28 0h0m-2 0h0m-16-3h0m-8 1h0m-7 0h0m-14 5h0m-2-1h0m-12-9h0m-13 6h0m-11-1h0m-932-5h0m-25 8h0m-3 0h0m-36-2h0m-7-1h0m-10 16h0m9-1h0m11-9h0m55 6h0m21-6h0m5 1h0m30 3h0m855 4h0m8-5h0m15 3h0m5-2h0m3 1h0m15 0h0m2 1h0m15-3h0m15-2h0m5 6h0m10-1h0m15 3h0m13-1h0m6-3h0m5-1h0m9 3h0m10-5h0m1 7h0m-49 10h0m-18 4h0m-65-6h0m-19 3h0m-4 3h0m-831-9h0m-11 0h0m-14 9h0m-8-9h0m-32-1h0m-23 1h0m-1 9h0m-21-3h0m-24-7h0m-4 10h0m10 6h0m19 3h0m42-7h0m7 2h0m5-1h0m14 10h0m16-7h0m874-2h0m16-2h0m2 2h0m41 8h0m35-6h0m15-1h0m3-1h0m3 2h0m2-1h0m6 6h0m12-4h0m6 0h0m-73 10h0m0 6h0m-922-6h0m-23 8h0m-14-10h0m-6 9h0m-11-4h0m-3 0h0m-12 3h0m-7-5h0m-37 4h0m-5 0h0m3 3h0m14 2h0m10 9h0m28-5h0m5-5h0m6 3h0m926 7h0m31-4h0m64 11h0m-9 3h0m-19-7h0m-23 0h0m-13 7h0m-14 1h0m-14 2h0m-3-12h0m-914 7h0m-24-4h0m-8 5h0m-1-5h0m-6 17h0"/>
<path stroke="#16b9c8" d="M732 1795h0m913 6h0m11 6h0m19 0h0m8-3h0m39 5h0m10 0h0m8 8h0m-17-4h0m-11 10h0m-7-10h0m-4 8h0m-5-7h0m-3 8h0m-9 0h0m-1021-3h0m80 11h0m904 2h0m1 2h0m12 0h0m6-4h0m4 6h0m0-4h0m4 1h0m8-1h0m43 2h0m1-5h0m6 0h0m8 8h0m-12 11h0m-7 0h0m-5-10h0m-9 5h0m-4-3h0m-1 5h0m-4-8h0m-6 5h0m-10-3h0m-1-1h0m-22 1h0m-862 2h0m-21-4h0m-10 9h0m-11 1h0m-12-4h0m-8-2h0m-39 2h0m-81 4h0m36 13h0m42-10h0m51 1h0m900 1h0m14 0h0m1-4h0m14 0h0m38 11h0m50 1h0m12-2h0m15 0h0m-9 7h0m-20 1h0m-5 5h0m-4-7h0m-60 8h0m-4-6h0m-18 4h0m-6-1h0m-6-1h0m-6 0h0m-882-4h0m-19 2h0m-4-6h0m-147 24h0m40-8h0m94-1h0m25-3h0m3 9h0m10-4h0m888-3h0m80 4h0m40 9h0m-3 8h0m-5-2h0m-3-4h0m-9 7h0m-26-10h0m-33-2h0m-25 6h0m-10-5h0m-22 5h0m-863-5h0m-10 7h0m-18 1h0m-89-4h0m21 13h0m2-5h0m99 5h0m12 2h0m1-4h0m7 7h0m842 0h0m3-9h0m24 4h0m1 2h0m2-6h0m8-1h0m1 0h0m21 6h0m5-2h0m12-1h0m19 5h0m5 0h0m13-8h0m2 3h0m6 5h0m3-7h0m27 6h0m-52 8h0m-7 4h0m-2-1h0m-18 4h0m-28 0h0m-8-4h0m-46-1h0m-838-2h0m-16 2h0m-33 4h0m-17-4h0m-58-1h0m-12 1h0m49 15h0m28-8h0m8 6h0m8-7h0m15 5h0m5-2h0m17 0h0m7 5h0m814-2h0m7-4h0m17 3h0m0 0h0m9-3h0m25 10h0m3-5h0m49 2h0m12 1h0m17-4h0m1-3h0m0 6h0m3-7h0m36 1h0m-16 13h0m-7 6h0m-8-5h0m-2-3h0m-4 8h0m-5 1h0m-18-4h0m-6-5h0m-1 8h0m-19-2h0m-45 1h0m-5-4h0m-20 5h0m-834-5h0m-100 12h0m46-4h0m1 4h0m16 1h0m9 3h0m22-5h0m10 1h0m842-4h0m37 4h0m6 0h0m17 4h0m2-7h0m5 2h0m5-2h0m17 3h0m9-2h0m26 4h0m6 5h0m-13 6h0m-13-5h0m-28 7h0m-3 0h0m-3-6h0m-23 3h0m-20-4h0m-35 2h0m-872-2h0m-17 1h0m-102 3h0m-20 4h0m-34-8h0m36 18h0m30-1h0m3 2h0m87-7h0m5 6h0m7-2h0m9-4h0m14 5h0m838-4h0m24 4h0m9-4h0m15 4h0m9 4h0m8-8h0m16 5h0m8-3h0m1-3h0m19 5h0m0-4h0m6 4h0m16 5h0m27 7h0m-21 0h0m-6 2h0m-22 1h0m-3-6h0m-31 9h0m-4-1h0m-24-4h0m-6-4h0m-20 6h0m-4-2h0m-858-5h0m-23 7h0m-131-6h0m0 4h0m-1 7h0m34 6h0m31 2h0m30-9h0m26 6h0m12 5h0m13-10h0m840-1h0m44 9h0m54-3h0m1-1h0m14 0h0m-1 6h0m-15 4h0m-19-2h0m-26 6h0m-22-4h0m-886 7h0m-2-3h0m-11 2h0m-23-4h0m-25 0h0m-34 2h0m-20 4h0m-10-5h0m-4-5h0m-19 1h0m7 9h0m21 4h0m4 4h0m8-3h0m9 4h0m3-3h0m9-1h0m10-5h0m20 7h0m40 5h0m2-9h0m896 7h0m7 0h0m5-5h0m28-3h0m0 5h0m6-6h0m9 5h0m3 5h0m63 13h0m-23-1h0m-2-1h0m-6-9h0m-18 6h0m-2-1h0m-4-3h0m-35 2h0m-19 2h0m-14-4h0m-932 2h0m-8 3h0m-6-3h0m-5 4h0m-13-9h0m-3 1h0m-9 0h0m-4 7h0m-7 0h0m-6 0h0m-7 2h0m-41-2h0m27 11h0m26-6h0m1-1h0m3 5h0m13 0h0m23 0h0m1 4h0m0-8h0m9 7h0m4-6h0m30 1h0m1-1h0m888 6h0m22-6h0m19 4h0m6-6h0m11 1h0m30 6h0m2-2h0m33-5h0m-1 21h0m-15-2h0m-26-6h0m-30 2h0m-958 2h0m-6 4h0m-7-1h0m-34-4h0m-11 4h0m-8 0h0m-4-8h0m-8 4h0m-3-2h0m-11 7h0m40 3h0m3 8h0m6 2h0m8-6h0m6 2h0m14-2h0m6-2h0m2 0h0m14 9h0m929-3h0m0-4h0m8-1h0m2 3h0m8 2h0m13 3h0m5-2h0m11-6h0m15 16h0m-9-5h0m-1039 3h0m-14-3h0m7 14h0m3-1h0m7 8h0m26-5h0m5-4h0m975 6h0m21 15h0m-12-11h0m-16 8h0m-11 0h0m-986 2h0m998 4h0m10 7h0m15 1h0"/>
<path stroke="#8d7ef2" d="M1566 1596h0m-2 11h0m-990 6h0m-21 9h0m1034 25h0m-986 3h0m-34 4h0m14 4h0m1 0h0m24 0h0m19-2h0m933 3h0m64-1h0m1 10h0m-7 0h0m-59 7h0m-906-3h0m-23 3h0m6 11h0m11-4h0m947 2h0m2-1h0m59 9h0m-57 5h0m-928 3h0m-9 3h0m-16-7h0m-21 1h0m0-2h0m-29 4h0m-40 8h0m50 5h0m6 3h0m7-4h0m19-1h0m950-2h0m36 4h0m26 3h0m31 2h0m0 2h0m-56 3h0m-897 1h0m-70-3h0m-48 5h0m-3 1h0m5 5h0m15 4h0m35-5h0m28 5h0m22 3h0m5 0h0m933-5h0m15-4h0m1 3h0m1 8h0m5-10h0m1 6h0m7-5h0m5 2h0m34 0h0m3 16h0m-5-1h0m-3-2h0m-60-2h0m-933-2h0m-30 0h0m-9 2h0m-23 1h0m-10-2h0m-34-1h0m-11 2h0m-20 11h0m15 6h0m57-1h0m16-7h0m17 0h0m15 1h0m1 0h0m6 2h0m11 7h0m889-5h0m2-2h0m14 8h0m9-7h0m24 1h0m64 2h0m3 2h0m-7 4h0m-41 8h0m-11-5h0m-29 0h0m-927 3h0m-1 0h0m-36-1h0m-5-3h0m-15-1h0m-10 8h0m-9-2h0m-4-3h0m-2 5h0m-22-11h0m35 16h0m13-1h0m54 8h0m4-5h0m8 5h0m30-7h0m925-2h0m21 6h0m12 3h0m3-8h0m6 0h0m-973 11h0m-6 2h0m-15-2h0m-3 8h0m-17-8h0m-49 7h0m0-3h0m-8 7h0m55-1h0m9 9h0m22-7h0m1 7h0m3-3h0m-290 412h0m7-7h0m17 25h0m949-2h0m-19 18h0"/>
<path stroke="#d57cf2" d="M1593 1429h0m-8 4h0m-3 0h0m-14 4h0m-8 2h0m-999 11h0m24 2h0m22-5h0m946 1h0m24 3h0m14-3h0m8 13h0m-11-3h0m-5-4h0m-14 8h0m-45-8h0m-14 0h0m-8 10h0m-893-9h0m-6-2h0m-5 1h0m-3 5h0m-1 3h0m-34-1h0m-8 2h0m-23-3h0m25 12h0m28-5h0m11 6h0m996-3h0m10-3h0m-11 16h0m-34-2h0m-949-4h0m-32 11h0m-6-5h0m-11 3h0m-21-1h0m12 4h0m27 6h0m950-5h0m8 8h0m9-3h0m29-5h0m4 1h0m2 8h0m4-11h0m16 3h0m7 9h0m9 4h0m-11-1h0m-18 9h0m-1-3h0m-7 3h0m-27-9h0m-20 7h0m-31-3h0m-14 5h0m-914-5h0m-11 2h0m-23 6h0m2-3h0m1 10h0m5-3h0m17-4h0m946 4h0m67-2h0m26 1h0m-54 14h0m-8 0h0m-14-6h0m-23 5h0m-2-5h0m-925 3h0m-3 4h0m-34-7h0m-21 14h0m1072 19h0m-33-10h0m-15 3h0m-26-4h0m3 18h0m-1002 8h0m1064 10h0"/>
<path stroke="#ec52cd" d="M885 1807h0m13 0h0m1-6h0m1001 14h0m-974 8h0m-4-4h0m-9 5h0m-1-6h0m-4 5h0m-7-11h0m-14 20h0m18-2h0m1-1h0m7-2h0m993-2h0m2 9h0m-5 4h0m-7 8h0m-5-8h0m-899 9h0m-67-7h0m-1 3h0m-43 16h0m13-9h0m4 3h0m8-1h0m35 1h0m10 6h0m15-6h0m3-1h0m6 0h0m940 0h0m9 2h0m5-6h0m18 4h0m10 5h0m7 2h0m4-3h0m9 1h0m11 4h0m-13 9h0m-7-6h0m-17 8h0m-11-5h0m-9 4h0m-40-5h0m-9 5h0m-883-10h0m-27 3h0m-1 1h0m-5 7h0m-4-3h0m-39-4h0m-13 0h0m-10 7h0m-5-6h0m9 13h0m1-3h0m31 8h0m7-9h0m14 2h0m7-3h0m28 2h0m5 2h0m903 4h0m15 0h0m4-4h0m0-6h0m4 8h0m7-2h0m12-1h0m0-2h0m6 5h0m26 2h0m3-3h0m9-4h0m-11 14h0m-1 6h0m-5-6h0m-11-4h0m-10 10h0m-22-7h0m-7-1h0m-14 5h0m-8 2h0m-888-1h0m-21 1h0m-13-5h0m-1 4h0m-38-1h0m-20-7h0m-2 8h0m-27-6h0m26 14h0m11-1h0m59 4h0m904 2h0m20-8h0m20 7h0m48-9h0m7 9h0m-1 13h0m-5-2h0m-46 3h0m-4-2h0m-957-8h0m-32 3h0m-12 1h0m-15-1h0m-18-2h0m0-2h0m19 19h0m20-7h0m1013 5h0m6-2h0m4-2h0"/>
<path stroke="#cc9b06" d="M367 2277h0m-45 1h0m-75 10h0m47-1h0m14-5h0m901 8h0m27-3h0m8-1h0m57 9h0m-6 6h0m-3-8h0m-1037 2h0m-84 4h0m-1 2h0m21 9h0m190 3h0m781 0h0m99-2h0m52-1h0m42 8h0m-7 9h0m-19-6h0m-17 2h0m-8-6h0m-18-1h0m-46 6h0m-3 6h0m-27-9h0m-986 4h0m-39 9h0m6-1h0m33 2h0m93 6h0m3-1h0m9-8h0m5 4h0m52 1h0m10 0h0m30 4h0m814 1h0m32-11h0m3 6h0m17 1h0m16 3h0m0-3h0m14 4h0m3-1h0m42 9h0m-17-7h0m-6 8h0m-3 2h0m-3-8h0m-26 4h0m-30-2h0m0-1h0m-8 1h0m-3-4h0m-8 10h0m0-5h0m-21 5h0m-4-1h0m-5-5h0m-17-2h0m-3 5h0m-9-7h0m-18 2h0m-17 6h0m-759-4h0m-3 0h0m-45 4h0m-8-5h0m-4-2h0m-15 7h0m-9 2h0m-1-4h0m-23-4h0m-22-2h0m-10 6h0m-4 2h0m0-7h0m-14 6h0m-4-4h0m-1 1h0m-2-4h0m-3 3h0m-20 5h0m-31-3h0m-5 0h0m-18 17h0m23 1h0m12-7h0m33-2h0m1 7h0m2-4h0m12 0h0m6-1h0m5-4h0m9 6h0m9-6h0m7 9h0m3-8h0m10 7h0m4-3h0m4-4h0m1 0h0m33 1h0m21-1h0m27 2h0m12-1h0m833 8h0m12-6h0m21 3h0m0 3h0m1-11h0m42 4h0m10 4h0m7-3h0m12-4h0m15 0h0m14-1h0m10 8h0m4 4h0m9-1h0m1 1h0m5 0h0m12-11h0m-31 21h0m-27-4h0m-13 2h0m-1-6h0m-13 3h0m-8 6h0m-18-2h0m-15 1h0m-5-1h0m0-8h0m-4 3h0m-1 3h0m-10-6h0m-8 6h0m-12-4h0m-2-1h0m-31-1h0m-9 1h0m-15 8h0m0-3h0m-3 2h0m-9-6h0m-6 4h0m-748-1h0m-9-3h0m-7 9h0m-3-9h0m-27 2h0m-6 4h0m-1-2h0m-2 0h0m0 3h0m-8-1h0m-10-8h0m-5 5h0m-7-2h0m-1-2h0m-16 3h0m-10 2h0m-3 2h0m0-2h0m-1-6h0m-19 7h0m-6-5h0m-1-1h0m-3-1h0m-4 11h0m-25-7h0m-16 5h0m-1-4h0m-4 0h0m-2 6h0m-7-5h0m-23 1h0m-14-3h0m-4 2h0m-10 16h0m17-10h0m7 9h0m4-4h0m23-6h0m13 8h0m7-2h0m7-3h0m8 0h0m22-3h0m32 9h0m11-1h0m17 0h0m7-1h0m9-6h0m11 4h0m9 1h0m7 0h0m20 0h0m7 0h0m0 0h0m13-2h0m5 5h0m758-8h0m18 4h0m4 6h0m4-4h0m22 1h0m3-8h0m7 8h0m11 3h0m16-3h0m13-3h0m15 7h0m10-4h0m22-6h0m30 10h0m5-3h0m7 2h0m11-3h0m3-7h0m12 6h0m14 5h0m22 6h0m-6-6h0m-25 5h0m-34-1h0m-1-1h0m-2 5h0m-1 2h0m-3-7h0m-44 6h0m-13-5h0m-14 1h0m-2-3h0m-9 4h0m-24 2h0m-2-6h0m-45-1h0m-26 3h0m-798-1h0m-27 1h0m-13 4h0m-41-5h0m-5 5h0m-4 2h0m-37-7h0m-11 0h0m-1 5h0m-36-4h0m-1 2h0m-6 1h0m-5 12h0m9-3h0m1 7h0m10 1h0m2-8h0m2-1h0m10 1h0m6 4h0m3-5h0m2 2h0m5-4h0m4 0h0m1-1h0m3 12h0m16-5h0m16-3h0m0 2h0m21 1h0m3-5h0m17 4h0m25 6h0m6-2h0m11-2h0m21-4h0m7 6h0m11-9h0m1 1h0m22 7h0m11 2h0m813-6h0m8 6h0m2-2h0m40 0h0m12 0h0m33 2h0m6-5h0m19-6h0m2 5h0m3 6h0m6-1h0m6 0h0m18-5h0m3-1h0m0 4h0m23-7h0m-9 22h0m-9-10h0m-14 8h0m-24 1h0m-5-8h0m-6 7h0m-11-7h0m-1 3h0m-29-4h0m-12 1h0m-5 9h0m-15-6h0m-2-1h0m-10 6h0m-8-5h0m-1 7h0m-40-2h0m-30-1h0m-18-3h0m-753 5h0m-10-5h0m-23-5h0m-15 7h0m-5-7h0m-9 2h0m-4-1h0m-10 3h0m-7 6h0m-8 1h0m-1-11h0m-11 11h0m-5-9h0m-2 0h0m-27 4h0m-27-1h0m-5 1h0m-4-3h0m-15-2h0m-37 6h0m-9 7h0m7 9h0m34-4h0m35-1h0m27-3h0m11 0h0m2 5h0m21-5h0m18 1h0m12 5h0m50 0h0m5-3h0m26-6h0m751 4h0m4 0h0m13 4h0m10-4h0m21 1h0m5 5h0m4-7h0m2-4h0m55 11h0m17-11h0m20 3h0m1 2h0m6 0h0m5-2h0m12 2h0m17 1h0m17 1h0m8 2h0m-26 6h0m-22 5h0m-5 1h0m-10-5h0m-14-3h0m-4 0h0m-6 4h0m-4 6h0m-74-8h0m-23 9h0m-3-7h0m-7-3h0m-7 1h0m-775-2h0m-7 6h0m-4 1h0m0-1h0m-14-2h0m-54-4h0m-38 10h0m-8-9h0m-6 7h0m-8 3h0m-11-3h0m-8-8h0m-30 3h0m-2 0h0m-15 6h0m-10 0h0m-11-5h0m-5 5h0m-7-4h0m-2-1h0m7 13h0m1 5h0m25-2h0m17 0h0m24-9h0m5 5h0m28 0h0m26 6h0m26-1h0m0-8h0m19-1h0m23 4h0m9-4h0m12 6h0m13-2h0m12 0h0m746 3h0m23 3h0m17-11h0m26 4h0m2 5h0m9-1h0m5 2h0m16-7h0m25 0h0m9 5h0m8-6h0m40-1h0m4 8h0m8 1h0m12 1h0m15-7h0m8-1h0m13 18h0m-1-5h0m-21 8h0m-3-10h0m-42 6h0m-22-1h0m-16 2h0m-12-8h0m-22 3h0m-7-4h0m0 9h0m-13-2h0m-17 4h0m-3 0h0m-3-7h0m-5-2h0m-5-1h0m-823 5h0m-16-2h0m-21-2h0m-4 0h0m-3 5h0m-16 3h0m-3-7h0m-5 8h0m-5 1h0m-34-8h0m-8 6h0m-2 0h0m-3-8h0m-9 4h0m-17-4h0m-47 6h0m-4 1h0m-2-4h0m-1-4h0m-6 19h0m27-8h0m2 11h0m3-3h0m7-5h0m2 5h0m2 1h0m7 2h0m16-3h0m1 1h0m5 1h0m14-4h0m7 4h0m10-3h0m4 4h0m15-7h0m21-3h0m3 8h0m44-2h0m1 3h0m7-7h0m12 3h0m0 1h0m1-1h0m774 5h0m13-11h0m28 11h0m57-1h0m3-1h0m26-1h0m15-8h0m58 8h0m63-5h0m-45 21h0m0-10h0m-25 6h0m-6-4h0m-28 0h0m-11 1h0m-4-3h0m-4 7h0m-7-6h0m-6 6h0m-34 3h0m-1-9h0m-14-1h0m-24 0h0m-16 8h0m0-10h0m-7 2h0m-5 5h0m-1 3h0m-11 1h0m-791-2h0m-15 1h0m-21 1h0m-7-8h0m-19 1h0m-19-3h0m-14 5h0m-26-4h0m-5 1h0m-43 0h0m-27-1h0m-3 7h0m-6-2h0m53 16h0m15-9h0m24 1h0m6 6h0m35-5h0m18-1h0m11 6h0m19 0h0m814-4h0m7-4h0m19 5h0m15-5h0m15 9h0m25-2h0m3 1h0m23-7h0m79 0h0m3 7h0m-9 9h0m-5-5h0m-19 2h0m-9 7h0m-18-3h0m-2-4h0m-5 8h0m-12-5h0m-6 5h0m-6 0h0m-5-2h0m-17-7h0m-31 10h0m-11-11h0m-27 5h0m-852 2h0m-6 0h0m-8 2h0m-6-7h0m-12 7h0m-52-8h0m-1 8h0m-19 6h0m11 2h0m14 2h0m16-7h0m3 9h0m0 0h0m32-9h0m4 7h0m0-7h0m11 5h0m14-4h0m858 2h0m21-3h0m1 9h0m10 0h0m43 0h0m8-3h0m5 3h0m3-9h0m21 6h0m5-3h0m23 5h0m25-3h0m-12 7h0m-13 0h0m-24 4h0m-16 1h0m-1 1h0m-15-2h0m-32 6h0m-22-8h0m-875-2h0m-43 0h0m-10 9h0m-24-6h0m965 11h0m34 1h0m8-1h0m53 3h0m-31 7h0m-61 7h0"/>
<path stroke="#9dac08" d="M238 1989h0m-37 9h0m26 9h0m15 17h0m0 1h0m952-2h0m10 3h0m57 12h0m-17 0h0m-4-3h0m-8 2h0m-34 0h0m-892-1h0m-19-7h0m-12 4h0m-37-3h0m-12 1h0m20 16h0m12 3h0m6-6h0m31 4h0m15-1h0m856 3h0m33-6h0m2-2h0m16-1h0m2 1h0m8 0h0m18 7h0m25 9h0m-1 3h0m-11-9h0m-3 3h0m-6 3h0m-10-5h0m-3 1h0m-21 1h0m-8-2h0m-16 9h0m-846-3h0m-44-2h0m-104 1h0m-10 4h0m53 6h0m15-1h0m110-3h0m824 10h0m0-9h0m31 4h0m1-4h0m3 4h0m16 3h0m34 9h0m-17-3h0m-26 8h0m-3-8h0m-10 4h0m-15-6h0m-5 1h0m-17 7h0m-800 1h0m-19-5h0m-131 3h0m-4 0h0m-28 5h0m70 11h0m51-10h0m54 1h0m794 9h0m27 0h0m36 0h0m11-5h0m15 4h0m8-9h0m12 4h0m4 5h0m3 8h0m-36 2h0m-18-1h0m-2 4h0m-21 0h0m-14-3h0m-21 3h0m-4-10h0m-780 0h0m-79 4h0m-19 0h0m-70 18h0m55-10h0m55 11h0m855-4h0m33 3h0m7 0h0m76 6h0m-37 0h0m0-1h0m-25 5h0m0-2h0m-10 4h0m-14-1h0m-1-6h0m-10-2h0m-10 0h0m-11 4h0m-2-1h0m-3 4h0m0-9h0m-8 9h0m-6-2h0m-776-6h0m-12 0h0m-19 6h0m-49 1h0m-12-5h0m-25 3h0m-4-1h0m-32 1h0m-2-5h0m-18 16h0m23 1h0m939-5h0m3 0h0m24 0h0m8 0h0m24 3h0m65 7h0m8 0h0m6-2h0m2-1h0m29 0h0m8-1h0m14 9h0m-3-2h0m-29 5h0m-14-3h0m-18 2h0m-5-5h0m-7 4h0m-23-2h0m-8 0h0m-9 6h0m-11 1h0m-4-3h0m-3-1h0m-9-3h0m-9 8h0m0-2h0m0 2h0m-37-8h0m-4 1h0m-1 0h0m-2 8h0m-853-6h0m-27 5h0m-4-4h0m-10 2h0m-51 1h0m-32 2h0m-19-2h0m7 13h0m8-9h0m9 5h0m10-2h0m5 5h0m18-9h0m10 7h0m24-7h0m7 1h0m17 2h0m17 2h0m864-5h0m7 1h0m3 3h0m7 2h0m2 3h0m22-5h0m5 1h0m13 5h0m9-11h0m10 10h0m13 1h0m26-4h0m28-3h0m45 1h0m6 8h0m-37 7h0m-25-1h0m-41-2h0m-13-3h0m-5-2h0m-1 10h0m-5-9h0m-14 4h0m-8-2h0m-21 3h0m-6 1h0m-3 3h0m-26-9h0m-845 2h0m-2-2h0m-3 3h0m-2 5h0m-9-6h0m-28 2h0m-1 5h0m-8-8h0m-2 7h0m-24-5h0m-11 0h0m-1 2h0m-10 2h0m0-3h0m-33 2h0m-7-2h0m-5 4h0m-5-7h0m-3 4h0m-1-1h0m-21-4h0m9 11h0m3 10h0m3-5h0m6 4h0m34 1h0m2 1h0m0-10h0m30 2h0m8-1h0m9 5h0m2-6h0m4 11h0m24-7h0m859 4h0m21-3h0m12 4h0m29-4h0m13-6h0m15 5h0m0 2h0m15-5h0m48-1h0m23 5h0m25-6h0m1 2h0m7 10h0m-11 2h0m-12 2h0m-1 7h0m-10-2h0m-4-7h0m-14 9h0m-10-7h0m-5-1h0m-3 7h0m-2-1h0m-39-4h0m-9 7h0m-21-7h0m-6 1h0m-14-5h0m-9 0h0m-1 1h0m-831 2h0m-12 7h0m0-10h0m-3 5h0m-29 1h0m-24 4h0m-12-9h0m-33 1h0m-3 0h0m-10 0h0m-2 3h0m-1 3h0m-30 0h0m-35-9h0m41 15h0m19 6h0m15-6h0m39 1h0m18-1h0m5 5h0m8-4h0m11 3h0m27 3h0m839-3h0m4-2h0m8-4h0m0 5h0m18 1h0m1-1h0m36 2h0m5-8h0m7 2h0m18 4h0m2-6h0m17 2h0m14-2h0m8 5h0m1 1h0m0-2h0m5-3h0m5 7h0m6 3h0m12-4h0m-3 15h0m-9 1h0m-3-3h0m-5 0h0m-8-6h0m-5 10h0m0-4h0m-20-7h0m-27 5h0m-10 0h0m-24-1h0m-46-1h0m-9-3h0m-13 3h0m-800 7h0m-15-3h0m-3 0h0m-10 2h0m-18-4h0m-5-1h0m-4 6h0m-30-4h0m-27-5h0m-15 0h0m-15 4h0m-19-2h0m-18-1h0m-13-1h0m-14 6h0m-8 4h0m34 5h0m2 1h0m3 1h0m4 1h0m0 3h0m56-2h0m12-7h0m14 1h0m69 4h0m808 0h0m16 3h0m24-9h0m26 7h0m15 3h0m14-8h0m21 3h0m16 0h0m24-2h0m9 7h0m4-9h0m-20 19h0m-5-1h0m-8-7h0m-12 2h0m-15 3h0m-23-3h0m-5 6h0m-10 0h0m-5 2h0m-1 0h0m-22-7h0m-2 0h0m0-4h0m-10 4h0m-18 3h0m-845-3h0m-12 4h0m-2-7h0m-8 7h0m-11 1h0m-17 0h0m-2-2h0m-3 0h0m-4-6h0m-2 5h0m-19 5h0m-6-3h0m-40-1h0m-17 1h0m-4-7h0m0 8h0m23 8h0m1-2h0m4-1h0m3 5h0m3-4h0m11-2h0m21 7h0m11-7h0m4 10h0m7-11h0m6 3h0m10 7h0m4-9h0m5 4h0m3 4h0m13-7h0m19 5h0m1-7h0m17 4h0m824-2h0m3 3h0m12 5h0m11-3h0m9 1h0m2-5h0m9 3h0m11 4h0m2-6h0m3-1h0m7 4h0m24-5h0m20 7h0m2-4h0m3 5h0m6 2h0m2-3h0m9 0h0m22 1h0m-2 8h0m-1 4h0m-7-3h0m-1-6h0m-29 8h0m-3-9h0m-9 1h0m-13 9h0m-33-10h0m-8 12h0m-3-1h0m-2-9h0m-14 5h0m-5 4h0m0-9h0m-1 8h0m-1-4h0m-20 2h0m-835 3h0m-9-6h0m-1 5h0m-5-2h0m-6 1h0m-10-2h0m0 3h0m-2-6h0m-11 2h0m-47 1h0m-28-3h0m-26 0h0m-2 5h0m-3-6h0m-24-2h0m-2 15h0m2-1h0m7 0h0m23 4h0m2-1h0m23-3h0m10 0h0m15 6h0m13-8h0m27 8h0m48-8h0m6 4h0m9 7h0m831-4h0m22-4h0m7-1h0m10 8h0m18-4h0m23-3h0m10 7h0m5 0h0m6-3h0m8-8h0m1 2h0m1 9h0m2-6h0m3 5h0m6-7h0m14 8h0m4-5h0m33 12h0m-16 2h0m-28 1h0m-18-7h0m-25 2h0m-7 3h0m-5-6h0m-22 9h0m-6-3h0m-6-1h0m-43-5h0m-846 8h0m-6 3h0m-6-5h0m-5 1h0m-4 0h0m-6-2h0m-20 6h0m-4-8h0m-32 6h0m-37-5h0m-13 0h0m-3-4h0m-4 10h0m-6 12h0m34-1h0m16-5h0m2 0h0m39 6h0m2-1h0m19-1h0m4-4h0m3 3h0m5-4h0m1-1h0m2 0h0m11-3h0m1 10h0m18-3h0m5-4h0m29 5h0m787 3h0m20-11h0m29 9h0m17 2h0m25-4h0m11-4h0m2 8h0m6-10h0m11 2h0m34 7h0m3-5h0m3 1h0m8-5h0m1 1h0m36 14h0m-21 5h0m-21 0h0m-1-6h0m-4-1h0m-31 9h0m-36-1h0m-9 1h0m-5-1h0m-18-1h0m-22 1h0m-10-9h0m-18 3h0m-825 4h0m0-1h0m-2-6h0m-26 4h0m-10 1h0m-2 5h0m-14-7h0m-27 4h0m-6-2h0m-30-2h0m-1 2h0m-41 2h0m-3 8h0m17-1h0m14-2h0m44 6h0m55-5h0m35 6h0m34-7h0m807 9h0m4-7h0m31 7h0m11-4h0m25 6h0m6-3h0m22-4h0m18 5h0m9-9h0m10 11h0m10-6h0m12 0h0m20 17h0m-4-4h0m-58 2h0m-65-7h0m-11 4h0m-9-3h0m-10-1h0m-9 0h0m-15 7h0m-934-2h0m-53 8h0m137 8h0m16 0h0m31 0h0m24-3h0m796 14h0"/>
<path stroke="#46b41c" d="M1506 1769h0m-13 5h0m-24 0h0m-5 12h0m6-2h0m2 3h0m31-3h0m-11 10h0m-3-4h0m-1 4h0m-1 1h0m-5 2h0m-5-1h0m-993 1h0m-11 3h0m-5-6h0m-4-5h0m-41 2h0m28 15h0m12-6h0m2 6h0m2 5h0m979 1h0m19-8h0m20 4h0m7-6h0m2 9h0m8-5h0m4-3h0m3 2h0m12 10h0m-5-3h0m-20 3h0m-5 6h0m-2 0h0m0-4h0m-17 0h0m-977 4h0m-41-6h0m-12 14h0m16 5h0m11-2h0m3 0h0m16-3h0m20 7h0m8-1h0m919-6h0m11-3h0m14 6h0m2-1h0m48 2h0m6 0h0m3 14h0m-39-7h0m-20 4h0m-5-2h0m-922 2h0m-21 1h0m-12-1h0m-2-8h0m-1 4h0m-2 4h0m-41 3h0m-7-9h0m-15 10h0m43 1h0m1 1h0m18 7h0m4-5h0m24 5h0m1 0h0m1-3h0m4-4h0m4 3h0m881 3h0m22-4h0m6 3h0m12-2h0m24 6h0m-3 4h0m-3 2h0m-32-5h0m-14 4h0m-7 5h0m-28 0h0m-855-5h0m-54 1h0m-9-3h0m-42 8h0m-4-8h0m-5 6h0m-9 3h0m-3-4h0m-5 0h0m-8 16h0m5-10h0m9 5h0m26 0h0m17 2h0m13-5h0m58 2h0m844 7h0m16-9h0m30 7h0m11-4h0m20-4h0m15 3h0m3-3h0m8 3h0m11 5h0m1-9h0m11 2h0m19 8h0m11-2h0m5-9h0m16 2h0m1 18h0m-8-3h0m-13-2h0m-6-3h0m-7 6h0m-3 1h0m-7 3h0m-9-6h0m-11 4h0m-4-1h0m-26-5h0m-56 5h0m-10 0h0m-2-5h0m-12-1h0m-817 9h0m-7-1h0m-12-2h0m-8 2h0m-22 0h0m-34 2h0m-11-2h0m-40-1h0m-11-6h0m-10-1h0m-20 3h0m-13 3h0m-3 3h0m-1-2h0m-3-1h0m10 16h0m3-8h0m9 2h0m0-1h0m26 3h0m12-6h0m18 5h0m9-5h0m20 10h0m28-2h0m27-5h0m856 7h0m2-10h0m39 3h0m7 3h0m2-3h0m6-2h0m4 1h0m4 3h0m18 3h0m5-3h0m17-3h0m21 1h0m7 5h0m9-8h0m1 7h0m6 1h0m12-5h0m10 0h0m6 11h0m-12-2h0m-3 8h0m-7-2h0m-1-6h0m-20 5h0m-14-1h0m-6-2h0m-11 2h0m-16-1h0m-18 3h0m-16 0h0m-6 4h0m-16-2h0m-7 0h0m-52-9h0m-1 7h0m-12 4h0m-782-2h0m-4-6h0m-6 3h0m0 5h0m-5-10h0m-2 6h0m-2-3h0m-40 5h0m-19 1h0m-14 2h0m-13-9h0m-7 6h0m-9-7h0m-4 9h0m-11-1h0m-6-1h0m-14-6h0m-27 8h0m-5-9h0m-1 7h0m-17 2h0m36 11h0m8-4h0m12 1h0m3 3h0m6-1h0m5-1h0m35-5h0m35 5h0m4-4h0m2-4h0m33 4h0m9-1h0m3 1h0m4 5h0m9-6h0m1-3h0m7 11h0m785-9h0m4 4h0m1-1h0m1 5h0m3-3h0m2-3h0m7 1h0m9 1h0m26 3h0m50-7h0m16 8h0m1-8h0m34 10h0m4-1h0m6 1h0m4-11h0m1 5h0m-6 10h0m-12 6h0m-19-8h0m-6 8h0m-11 1h0m-11-6h0m-33 7h0m-1-8h0m-1 6h0m-4 1h0m-6-9h0m-1 0h0m-1 3h0m-15 6h0m-6-7h0m-11 1h0m-8 6h0m-15-4h0m-9-3h0m-9-2h0m-1 8h0m-803-1h0m-5-4h0m0-1h0m-32 0h0m-11 6h0m-31-1h0m-31 2h0m-5-7h0m-8-1h0m0 4h0m-15-4h0m-3 2h0m-39 5h0m3 4h0m13 5h0m24 1h0m45 0h0m19-7h0m20 4h0m31-1h0m22-1h0m2 1h0m795 1h0m17-1h0m10 3h0m10-4h0m7-2h0m28-1h0m3 0h0m4 0h0m0 11h0m1-6h0m2 5h0m46-4h0m4-4h0m51 4h0m19-6h0m21 1h0m3 6h0m-14 11h0m-12-1h0m-15 2h0m-18-6h0m-2 5h0m-3 2h0m-29-7h0m-5 5h0m-2 2h0m-5 1h0m-45-5h0m-856 7h0m-18-4h0m-37 2h0m-9-8h0m-12 0h0m-36 8h0m-23 1h0m-34 2h0m-3-9h0m-4-1h0m-29 7h0m22 5h0m14 6h0m18-2h0m8 0h0m6 4h0m2-8h0m8 2h0m25 1h0m15-5h0m21 9h0m24-5h0m13 0h0m6 6h0m4-8h0m1 8h0m6-8h0m818 9h0m3-8h0m4 1h0m16 5h0m2 0h0m1-3h0m31 3h0m7 1h0m4-9h0m21 8h0m0-1h0m33-3h0m35 5h0m1-1h0m-10 11h0m-6 3h0m-16-9h0m-10 2h0m-11 0h0m-4 1h0m-5 5h0m-13 2h0m-4-11h0m-35 3h0m-42 0h0m-7 8h0m-12-5h0m-799 5h0m-20 0h0m-22-3h0m-5-4h0m-3 4h0m-3 2h0m-1 0h0m-6 1h0m-3-4h0m-29-3h0m-21 5h0m-24-7h0m-20 8h0m-5-1h0m-13-4h0m0-1h0m-12-1h0m15 8h0m2 0h0m4 9h0m7-6h0m11-1h0m3 2h0m16 3h0m5-4h0m58 4h0m1-1h0m2-3h0m62 4h0m804-6h0m9 8h0m1-9h0m7 11h0m1-7h0m80 7h0m18-8h0m53 1h0m43-1h0m-57 16h0m-4-7h0m-6 1h0m-47 2h0m-15 4h0m-2 0h0m-10-6h0m-28 2h0m-11 9h0m-10-11h0m-15-1h0m-11 9h0m-2-8h0m-8 0h0m-11 3h0m-821-2h0m-5 1h0m-5 7h0m-4-7h0m-14 9h0m-6-3h0m-7 3h0m-30-1h0m-4-6h0m-19 5h0m-29 0h0m-33-6h0m16 15h0m31 0h0m13-3h0m18-4h0m13 10h0m10-2h0m16-3h0m11 0h0m4-4h0m20 9h0m4-5h0m3 0h0m25-4h0m3 4h0m812 7h0m15-5h0m11 3h0m23-8h0m6 0h0m14 6h0m5 3h0m1-8h0m7 8h0m1-1h0m21-2h0m22-8h0m5 1h0m4 15h0m-15 2h0m-2-3h0m-22 1h0m0-1h0m-4 0h0m-5 2h0m-3-1h0m-20-1h0m-17 0h0m-12 0h0m-5 8h0m-8-10h0m-833 1h0m-19 7h0m-36-8h0m-1 8h0m-1-4h0m-12 4h0m-6-7h0m-15 3h0m-10 3h0m-1-1h0m-39-4h0m-22 15h0m13 1h0m16-2h0m8-3h0m5 1h0m4 8h0m12 0h0m15 1h0m45-5h0m16 0h0m855-2h0m38-3h0m24 7h0m8-8h0m16 3h0m0 4h0m4 0h0m2 0h0m20-7h0m5 6h0m-51 15h0m-4 0h0m-11-3h0m-17-1h0m-18 1h0m-3-3h0m-2-1h0m-7 1h0m-15 6h0m-879-6h0m-13-2h0m-3 0h0m-9 7h0m-3 2h0m-25-4h0m0-6h0m-11 6h0m-18 5h0m-3 0h0m25 1h0m1026 1h0m10 4h0m-26 11h0m-971-3h0"/>
<path stroke="#2a9ee2" d="M1380 1892h0m-967 2h0m-29 9h0m10-1h0m2 5h0m7-8h0m954 8h0m28-5h0m4-1h0m7-1h0m0 9h0m-3 10h0m-30-10h0m-969 0h0m-10 5h0m-7-1h0m-18 17h0m24-1h0m972-1h0m11-1h0m6-6h0m17 19h0m-10-2h0m-20-2h0m-1 5h0m-950-5h0m-7 5h0m-4-5h0m-2 4h0m-9 0h0m-30 0h0m27 10h0m956 1h0m36-6h0m4 14h0m-2 1h0m-18-4h0m-998 5h0m-10-2h0m28 12h0m3-2h0m956 7h0m0-2h0m10-4h0m7 6h0m15-1h0m-978 10h0"/>
<path stroke="#e6880a" d="M294 1712h0m1119 1h0m-9 12h0m-7 1h0m0 0h0m-14-2h0m-2-7h0m-36 7h0m-16 1h0m-3-4h0m-944 7h0m-68-1h0m-37 5h0m7 3h0m13 5h0m16-5h0m20 4h0m38-4h0m842-3h0m32 0h0m35 3h0m17 3h0m37-8h0m17 5h0m9-6h0m1 1h0m30 1h0m4 1h0m11 6h0m27-5h0m2 2h0m4 9h0m-31-2h0m-1 6h0m-16-6h0m-13 0h0m-1-2h0m-5 7h0m-8-4h0m-10 7h0m-2-1h0m-13 2h0m-2-11h0m-3 7h0m-1 1h0m-52-5h0m-25 0h0m-6-1h0m-11 3h0m-32-1h0m-788-2h0m-32 3h0m-4 1h0m-3 4h0m-29 1h0m-17-3h0m-1-3h0m-7-2h0m-7 2h0m-35 5h0m-11-5h0m-9 6h0m-19 3h0m41 3h0m26 0h0m4 0h0m7 1h0m1-2h0m1 6h0m29-2h0m5-8h0m14 3h0m21 1h0m12-3h0m857 7h0m37 1h0m31-1h0m14 0h0m8 3h0m35-8h0m8 7h0m6-1h0m8-3h0m1 1h0m3-2h0m6-5h0m3 23h0m-5-6h0m-4 2h0m-4 3h0m-9-4h0m-41 3h0m-1-7h0m-17 6h0m-14-7h0m-60 2h0m-36-1h0m0-1h0m-5 1h0m-17-1h0m-1 7h0m-8 0h0m-753 3h0m-5-7h0m-5-2h0m-10 5h0m-3-4h0m-20 8h0m-25-8h0m-5-1h0m-16 2h0m-25-2h0m0 9h0m-3-1h0m-6 2h0m-5-3h0m-3-4h0m-3-1h0m-20-4h0m-7 10h0m-54-9h0m-20 9h0m-16-1h0m-6 2h0m13 10h0m6-2h0m7-6h0m0 8h0m13 1h0m6 1h0m18-7h0m14 6h0m1-8h0m25 2h0m14-3h0m1 1h0m35-1h0m2 5h0m14-5h0m2 1h0m7 3h0m13 1h0m11-2h0m2 5h0m23-3h0m793 4h0m7-4h0m7 4h0m4 0h0m19-9h0m14 10h0m7-8h0m5 1h0m7-1h0m9 7h0m3 0h0m4 0h0m3-1h0m12-5h0m1-2h0m2 1h0m11 5h0m3-4h0m38-3h0m7 6h0m36 14h0m-5 3h0m-9-5h0m-15-5h0m-27 0h0m-1 5h0m-2-3h0m-10-2h0m-8 7h0m-1-3h0m-12-1h0m-5 3h0m-7-7h0m-2 8h0m-12-2h0m-43 4h0m-3-2h0m-3-4h0m-6-3h0m-6 8h0m-2-4h0m-5 2h0m-1-8h0m-1 12h0m-30 0h0m-799-1h0m-24-1h0m-31-6h0m-15-2h0m0 1h0m-38 4h0m-6-2h0m-26 1h0m-8 3h0m-1-3h0m-16 5h0m-31 6h0m14-2h0m24 2h0m12-2h0m5 8h0m12-10h0m10 2h0m32 8h0m4 0h0m10-3h0m36 0h0m7 1h0m6-3h0m5-1h0m3 5h0m5 0h0m10-1h0m12-9h0m779 12h0m19-2h0m22-10h0m11 5h0m43 2h0m13-5h0m26 5h0m51-1h0m1 6h0m12-9h0m4-2h0m16 15h0m-10-3h0m-4-1h0m-18 4h0m-23-1h0m-21-1h0m-13 0h0m-3 10h0m-19-3h0m-5-7h0m-5 0h0m-17-1h0m-60 0h0m0 3h0m-4-2h0m0-2h0m-15 6h0m-785 0h0m-1-6h0m-13 4h0m-7 3h0m-10-1h0m-31-1h0m-17-2h0m-5 3h0m0-1h0m-12 1h0m-19-6h0m-44 4h0m-2 1h0m-32 0h0m-3 3h0m-1-1h0m-3-4h0m-7 17h0m19-8h0m22 4h0m18-1h0m3 4h0m9 4h0m7-5h0m6 6h0m8-8h0m1 6h0m43-1h0m4-8h0m34 8h0m2-7h0m815 4h0m12-3h0m1-1h0m33 7h0m12-8h0m14 2h0m31 6h0m14-1h0m6 1h0m4-7h0m22-1h0m20 7h0m21 1h0m-4 14h0m-31-1h0m-2-10h0m-13 4h0m-12 0h0m-14-2h0m-3 1h0m-4 6h0m0-5h0m-1 7h0m-38-8h0m-16 3h0m-1 5h0m-26-3h0m-23-1h0m-846-3h0m-29 6h0m-5-2h0m-15-4h0m-1 8h0m-23-5h0m-22 3h0m-34-9h0m-3 10h0m-11-6h0m-2 5h0m-17 0h0m10 14h0m33-10h0m7 4h0m8-5h0m30 4h0m1 6h0m2-10h0m3 2h0m10-2h0m16 6h0m10 1h0m1 1h0m5-6h0m7 5h0m1 1h0m1 0h0m13-5h0m3-2h0m17 3h0m839 1h0m19-2h0m23-4h0m9 1h0m22 6h0m31-6h0m26 9h0m22 9h0m-7-5h0m-18 8h0m-5-7h0m-9 8h0m-1-10h0m-6 8h0m-2-8h0m-3 4h0m-6 1h0m-65 4h0m-9-8h0m-14 0h0m-4 2h0m-6 5h0m-19 2h0m-836-4h0m-23-3h0m0-3h0m-2 4h0m-25-4h0m-15 7h0m-9-4h0m-34 4h0m-17-7h0m-7 10h0m20 3h0m25 7h0m11-3h0m4 4h0m25 0h0m9-9h0m9 4h0m2-4h0m19 10h0m874-7h0m16-1h0m4 7h0m9 0h0m14-8h0m6 7h0m8-5h0m9-3h0m33 10h0m31-7h0m-39 17h0m-1-2h0m-15 4h0m-18 0h0m-28-6h0m-2-2h0m-25 5h0m-917 3h0m-12-7h0m-9 7h0m-1-4h0m-11 5h0m-6 0h0m-10-9h0m-1-3h0m-17 2h0m-25 19h0m3-1h0m33-1h0m23-5h0m8 0h0m6 9h0m5 1h0m5-12h0m2 9h0m11-6h0m900-3h0m12 2h0m27 0h0m13 9h0m12-7h0m4-2h0m0 9h0m1-8h0m9 0h0m2 2h0m0-4h0m24 9h0m7-6h0m4 1h0m-23 9h0m-9 5h0m-12-2h0m-10-4h0m-8 2h0m-1-2h0m-6 0h0m-33 3h0m-4 0h0m-907 6h0m-12 0h0m-1 1h0m-36-3h0m-38-8h0m-1 13h0m1 5h0m16 2h0m11 1h0m22-8h0m11 1h0m16 4h0m947 4h0m0-6h0m37-2h0m13 1h0m1 3h0m3 2h0m-3 16h0m-4-1h0m-13-1h0m-1-6h0m-12 5h0m-26 2h0m-4-11h0m-8 7h0m-19-1h0m-932-2h0m-6 1h0m-20-2h0m-3 0h0m-6 1h0m-2 7h0m29 3h0m951 0h0m19 3h0m29 2h0m-4 9h0m0 7h0m-1 0h0m-5-4h0m-13-7h0m-30 10h0m-4 0h0m-950 0h0m-33-8h0m2 19h0m7-2h0m977-6h0m5 7h0m13-3h0m34 8h0m-27 2h0m-1 3h0m-22 6h0m-998-8h0m-8-1h0m37 13h0m972 7h0m32-6h0m27 7h0m-55 4h0m-2 8h0m21 4h0m20 0h0"/>
<path stroke="#f6766d" d="M384 1427h0m9-3h0m994 2h0m44 7h0m-3-3h0m-28 8h0m-15-3h0m-25-7h0m-936 6h0m-20 0h0m-6 2h0m-20 1h0m-19-1h0m0 2h0m-9-3h0m6 7h0m7-1h0m5 6h0m1-4h0m5 8h0m20-6h0m2 5h0m27 2h0m948-5h0m48 2h0m16 0h0m17-5h0m1 20h0m-27-10h0m-3 5h0m-18 5h0m-7-4h0m-14-2h0m0 1h0m-27-1h0m-6 4h0m-1-4h0m-14-1h0m-3 5h0m-892-8h0m-43-1h0m-26 3h0m-27 5h0m-11-8h0m-16 21h0m3-5h0m57-4h0m11 4h0m1 6h0m6-7h0m15 7h0m8-9h0m27 0h0m1 4h0m5-5h0m5 3h0m1 4h0m45-7h0m829 4h0m3-2h0m19 4h0m6-6h0m10-1h0m13 12h0m2-5h0m32 3h0m9-4h0m1 5h0m15-7h0m22-3h0m22 22h0m-50-9h0m-1 2h0m-14 6h0m-5-1h0m-1 0h0m-36-9h0m-4 5h0m-21 4h0m-16-6h0m-10 5h0m-14-2h0m-820-4h0m-37 0h0m-91 8h0m-3-5h0m-23 1h0m-33-4h0m10 13h0m8-2h0m2 4h0m19-1h0m5 2h0m11 0h0m3-5h0m6 7h0m12 0h0m23-7h0m14 9h0m11-5h0m13-5h0m10 7h0m14-2h0m12 2h0m24-4h0m3-1h0m3 10h0m5-9h0m789 7h0m31-5h0m53 4h0m9 0h0m3 1h0m3-7h0m13 8h0m47-5h0m7-3h0m-16 20h0m-12-11h0m0 0h0m-15 2h0m-2 1h0m0 5h0m-8-5h0m-5 7h0m-16-5h0m-6 1h0m-5 0h0m-11 2h0m-7-6h0m-8 4h0m-27 2h0m-1-1h0m-16-4h0m-1 7h0m-20-8h0m-32 9h0m-762-3h0m-11-7h0m-10 10h0m-8-2h0m-16 1h0m-33-6h0m-1 2h0m-8 5h0m0-3h0m-17 4h0m-61-2h0m-17-1h0m-4 1h0m-1-2h0m-18 12h0m0-6h0m31 9h0m6-3h0m7-2h0m1 5h0m3-3h0m55-5h0m72 1h0m7 6h0m7 2h0m15-5h0m0 4h0m5 0h0m801-5h0m8-6h0m10 3h0m2 6h0m39-6h0m4-1h0m23 7h0m4-7h0m6 5h0m28-4h0m3-2h0m5 3h0m12 7h0m31-3h0m2-4h0m-17 19h0m-9-4h0m-22-4h0m-4 3h0m-18 5h0m-9-9h0m-7-1h0m-63-1h0m-44 11h0m-5-11h0m-3 12h0m-770-1h0m-6-10h0m-12 0h0m-89 1h0m-66 4h0m-17 6h0m-2-7h0m-21 10h0m31 8h0m36-1h0m14 0h0m4 1h0m3-8h0m24 6h0m37-2h0m19-2h0m2-1h0m6-3h0m12 9h0m8-4h0m28 4h0m759 1h0m16 1h0m5 0h0m24-6h0m4 2h0m21-6h0m5 6h0m15-7h0m45 10h0m4-7h0m13-1h0m31 3h0m51 9h0m-3 7h0m-27-9h0m-7 4h0m-17 0h0m-16-2h0m-3 9h0m-11-8h0m-21-3h0m-42 7h0m-25-2h0m-39-1h0m-795-3h0m-4 10h0m-11-9h0m-3 3h0m-6 4h0m-21-1h0m-10-8h0m-5-1h0m-24 10h0m-97-1h0m-45 4h0m47 10h0m4-4h0m20 4h0m10-9h0m15 0h0m27 5h0m30-6h0m11 3h0m22-3h0m0 8h0m3-9h0m52 3h0m745 4h0m2-1h0m5-2h0m4 1h0m3-5h0m5 12h0m33-8h0m2 2h0m8 3h0m1 0h0m12-1h0m26 2h0m17-8h0m0 9h0m11-1h0m12-1h0m38 0h0m7 2h0m7-2h0m22-2h0m14 1h0m1-6h0m4 9h0m22-7h0m-9 20h0m-3-6h0m-19 0h0m-8 1h0m-1 2h0m0-3h0m-9-2h0m-2 1h0m-10 1h0m-5 2h0m-2-5h0m-4-1h0m-9-2h0m-10 3h0m-7 2h0m-14-3h0m-6 7h0m-9-6h0m-37 0h0m-4 2h0m-16 3h0m-6-7h0m-16 7h0m-5-3h0m-10 4h0m-7-8h0m-9 8h0m-13-1h0m-13-6h0m-3 6h0m-747-8h0m-17 3h0m-21 0h0m-25 6h0m-5-1h0m-32 0h0m-64-6h0m0 0h0m-9 8h0m-4-3h0m-3-4h0m-22 1h0m-7 1h0m-24-3h0m-5 5h0m-3 4h0m-16-7h0m-2 15h0m22 4h0m14-2h0m62 2h0m57-3h0m3-6h0m9 1h0m29-3h0m63 3h0m773 8h0m28-8h0m27 1h0m3 3h0m16 1h0m5-5h0m6 7h0m4-10h0m7 7h0m25 1h0m4-3h0m8-1h0m1 6h0m10-1h0m11-6h0m5 7h0m2-1h0m26 2h0m31-2h0m12-4h0m13-1h0m7 2h0m5-4h0m7 3h0m-37 11h0m-70 7h0m-7-5h0m-23-2h0m-4 0h0m-36 2h0m-34-1h0m-3-4h0m-24 7h0m-2 2h0m-18-5h0m-4 7h0m-14-11h0m-2 4h0m-1 1h0m-10 0h0m-2 6h0m-13 0h0m-748-6h0m-22 6h0m-49-1h0m-9-6h0m-2-3h0m-39 9h0m-46-7h0m-24 8h0m-67 4h0m21 4h0m17 1h0m48-2h0m3-1h0m12 0h0m48 4h0m19 2h0m26-1h0m30-10h0m782 10h0m49-1h0m14-4h0m1 4h0m6-9h0m10 0h0m16 7h0m29 1h0m7-7h0m14 2h0m8 6h0m9-2h0m1 1h0m12 0h0m25-1h0m8-3h0m18-3h0m20 5h0m11-5h0m-20 11h0m-19 8h0m-21-3h0m-38-5h0m-46 7h0m-12-5h0m-3-2h0m-3-1h0m-62 10h0m-9-9h0m-822 3h0m-1 6h0m-20-4h0m-51 1h0m-22 2h0m-2-7h0m-11 9h0m-9-11h0m-15 11h0m-7-10h0m-13 3h0m-7 7h0m-35-4h0m-12 12h0m10 4h0m3-6h0m16 6h0m29-7h0m36 2h0m7-2h0m13 3h0m68 4h0m7 1h0m32-1h0m803-11h0m7 7h0m24-2h0m8-5h0m74 5h0m1 1h0m11-4h0m8 4h0m1 2h0m36 0h0m8-4h0m20 1h0m4-1h0m3 2h0m-17 7h0m-3 1h0m-25-2h0m-2 10h0m-19 0h0m-10-2h0m-1-1h0m-64 4h0m-16-6h0m-17 3h0m-30-5h0m-7 2h0m-817-4h0m-16 7h0m-1-3h0m-23-4h0m-43 4h0m-15 5h0m-1-6h0m-10 5h0m-22-8h0m-9 10h0m-22-8h0m-7 6h0m-15 2h0m-3-6h0m-17 7h0m1 9h0m14 2h0m23-5h0m37-6h0m29 12h0m12-5h0m2-6h0m15 9h0m7-7h0m2 5h0m24-4h0m44 2h0m6 2h0m746-4h0m159 4h0m27 3h0m6 0h0m19 0h0m1-6h0m11-1h0m8 5h0m-9 7h0m-3-3h0m-21 3h0m-7 5h0m-1-5h0m-6 3h0m-5 2h0m-8-2h0m-14 5h0m-12-7h0m-4 2h0m-5-2h0m-15 4h0m-1-8h0m-21 5h0m-2-4h0m-10 6h0m-2 3h0m-7-1h0m-2 1h0m-28-1h0m-19 2h0m-819-9h0m-9 8h0m-21-9h0m-11 9h0m-15-10h0m-24-1h0m-20 2h0m-62 7h0m-2-3h0m-6 3h0m-5 1h0m28 4h0m0 7h0m1 3h0m9-3h0m19 0h0m19-8h0m10 11h0m6-8h0m1-2h0m32 9h0m36-1h0m23-6h0m3 7h0m789-9h0m4 3h0m15-2h0m2 4h0m17 2h0m19-4h0m24 2h0m19-2h0m6 3h0m32-1h0m2-4h0m3 3h0m4 0h0m37-5h0m2 1h0m4 5h0m7 1h0m14-2h0m-39 17h0m-6-3h0m-2-7h0m-33 0h0m-4 4h0m-6-3h0m-55-1h0m-12 9h0m-826-9h0m-26 4h0m-18 5h0m-51 1h0m-1-4h0m-57-4h0m-56 4h0m-8 6h0m2-1h0m47 5h0m39 4h0m20-5h0m8 0h0m29 5h0m10-5h0m31 7h0m12-3h0m802 0h0m24 2h0m39-3h0m20 1h0m2-1h0m22 3h0m25-4h0m11 4h0m-4 6h0m-90-2h0m-14 2h0m-14-4h0m-31 11h0m-788-2h0m-21-2h0m-1 4h0m-11-7h0m-4-2h0m-26 6h0m-15 2h0m-1-2h0m-6 1h0m-10-7h0m-2 2h0m-52 0h0m-47 1h0m-1 1h0m-43 15h0m39 0h0m9-1h0m3-8h0m10 4h0m1 4h0m17 3h0m2-9h0m9 4h0m3-1h0m7 0h0m14-1h0m30 0h0m2 6h0m4-3h0m33 5h0m12-12h0m27 0h0m809 1h0m1 2h0m3 8h0m38-3h0m-35 8h0m-856 3h0m-1-5h0m0 0h0m-13 3h0m-73-4h0m-10 0h0m-14 2h0m-7 7h0m-25-5h0m987 8h0m0 4h0"/>
<path stroke="#1f90ec" d="M509 1563h0m-15 16h0m26 12h0m16-6h0m13 8h0m7-6h0m867 5h0m29 3h0m95 10h0m-9-3h0m-6 4h0m-1-5h0m-45-5h0m-3 4h0m-940-1h0m-41 7h0m-108-1h0m96 12h0m17-8h0m5 11h0m20-3h0m5-4h0m18 3h0m5-1h0m1 1h0m924 2h0m19 2h0m6-3h0m14-4h0m16 5h0m25 11h0m-126-1h0m-33-3h0m-959 17h0m86-1h0m4-7h0m923 9h0m5-4h0m1 3h0m8-2h0m10-6h0m24 6h0m49-7h0m-23 14h0m-2 6h0m-8-1h0m-14-5h0m-2 8h0m-5-10h0m-26 10h0m-9-1h0m-1-2h0m-16 1h0m-911-2h0m-6 5h0m-19-10h0m-27 1h0m-1 6h0m-22-8h0m-24 3h0m11 20h0m14-7h0m2-5h0m10 11h0m9-9h0m1 5h0m25 0h0m6-1h0m2 4h0m12-1h0m897-6h0m29 8h0m21-3h0m40 13h0m-9-3h0m-23 1h0m-16 3h0m-9-9h0m-9-1h0m-5 6h0m-13-3h0m-915 8h0m-19-8h0m-9 4h0m-4 0h0m0 4h0m-21 0h0m-3-1h0m-8 2h0m7 7h0m5-3h0m21-1h0m19-1h0m943 4h0m3 2h0m29-7h0m9 8h0m4-2h0m21-2h0m-59 10h0m-17 7h0m-938-6h0m-41-2h0m0-2h0m-5 23h0m17-5h0m6-3h0m10-1h0m964 6h0m14 1h0m0-7h0m24 10h0m-11 1h0m-7 2h0m-14 7h0m-1000 0h0"/>
<path stroke="#1aa3e3" d="M1232 1471h0m-15 7h0m-19 7h0m-964-7h0m980 21h0m37-9h0m5 10h0m6 0h0m8 0h0m-29 4h0m-59 4h0m-926 1h0m-21-4h0m-20 0h0m-40 13h0m25 3h0m15 1h0m12-3h0m2-2h0m8 1h0m1 3h0m1-9h0m951 3h0m17 7h0m15-9h0m2-1h0m9 2h0m10 2h0m2 4h0m8-8h0m6 22h0m-19-2h0m-4-1h0m-3 4h0m-3-2h0m-16 2h0m-16-1h0m-13-2h0m-933-7h0m-6 1h0m-6 6h0m-48-8h0m-27 14h0m4 9h0m2-4h0m6 2h0m27-7h0m16 0h0m7 6h0m6 1h0m2-2h0m926 4h0m40-2h0m15-5h0m8 8h0m3-5h0m10-7h0m3 10h0m16-4h0m-25 12h0m-2 5h0m-3-2h0m0-3h0m-5 5h0m-40-1h0m-7-1h0m-23-3h0m-18 5h0m-895-5h0m-12 2h0m-17 2h0m-8 1h0m-4-3h0m-4 2h0m-21 1h0m-13-7h0m-4 13h0m20 1h0m2-5h0m22 8h0m19-1h0m8-1h0m1-1h0m918 6h0m30-7h0m43 5h0m2 0h0m8-2h0m7 1h0m1-8h0m3 10h0m-2 10h0m-45-6h0m-16 5h0m-3-8h0m-926 1h0m-21 4h0m0 2h0m-24 3h0m-23-10h0m-25 8h0m-19 14h0m0-3h0m8-1h0m23 1h0m27-1h0m18-5h0m10 4h0m910 2h0m18 0h0m11-1h0m11-5h0m7 1h0m29 6h0m18-7h0m2-1h0m-1 16h0m-21-1h0m-2 6h0m-44 0h0m-16 1h0m-8-3h0m-913 2h0m-4-2h0m-14 3h0m-6-2h0m-19-3h0m0-1h0m-53 16h0m23-8h0m0 11h0m23-2h0m3-6h0m18 7h0m10 0h0m921 1h0m16-1h0m36-9h0m22 4h0m10 1h0m19 8h0m-10 8h0m-17-8h0m-19 1h0m-12 1h0m-3 7h0m-1-4h0m0-3h0m-6 2h0m-6-3h0m-4 4h0m-22-6h0m-945 9h0m-3-5h0m-9-4h0m-43 1h0m6 16h0m2 5h0m10-7h0m49 0h0m21-4h0m921 8h0m27 1h0m16-2h0m13-1h0m3 6h0m25-7h0m3 14h0m-23-7h0m-2 5h0m-10 6h0m-4-3h0m-8-1h0m-22 2h0m-3 0h0m-18-5h0m-922 6h0m-4 0h0m-4-5h0m-16 1h0m-36 3h0m-14 2h0m-7-4h0m5 17h0m12-6h0m1-5h0m24 4h0m34 2h0m935-5h0m6 8h0m3-7h0m53 16h0m-5-2h0m-16 5h0m-11-6h0m-23-2h0m-1 2h0m-947 0h0m-1-4h0m-4 6h0m-10-5h0m-18 2h0m-1 3h0m-21 0h0m-2 10h0m15-3h0m7 9h0m31-5h0m950-3h0m56 18h0m-32-7h0m-4 3h0m-4 6h0m-1024-6h0m20 12h0m16 0h0m3-4h0m5 6h0m25-6h0m953 9h0m3 2h0m10-9h0m9 6h0m9 2h0m4 8h0m-40-1h0m-949 0h0m-29-3h0m-26 1h0m28 19h0m4 1h0m9-8h0m959 2h0m7 4h0m8 2h0m20-6h0m12 1h0m-22 16h0m-11-9h0m-2 5h0m-16 6h0m-966-12h0m-3 4h0m-1-2h0m-12 21h0m997-9h0m10 6h0m10-1h0m9 0h0m4 5h0m-17 9h0m-1018 6h0m12 3h0m18 2h0m-20 5h0"/>
<path stroke="#da4679" d="M1510 2206h0m-83 2h0m40 5h0m48-2h0m6 11h0m-19 3h0m-17-5h0m-25 4h0"/>
<path stroke="#16b35e" d="M720 2108h0m-36 1h0m0 9h0m50-3h0m15 6h0m923 2h0m104-9h0m9 4h0m18 5h0m-77 11h0m-937-8h0m-38 0h0m-9 3h0m-12 3h0m-80-1h0m50 5h0m0 1h0m42 11h0m23-6h0m933-1h0m76 5h0m28-7h0m-35 14h0m-8 3h0m-78 2h0m-3-2h0m-20-2h0m-5 1h0m0 3h0m-903-2h0m-19 1h0m-3 0h0m-23-4h0m-50 7h0m12 11h0m45-10h0m3 10h0m73-6h0m35-3h0m880 7h0m10-7h0m15 2h0m73 3h0m37 7h0m-30-2h0m-44 1h0m-31 0h0m-62 2h0m-858 4h0m-47 4h0m-3-3h0m-31-2h0m-82 2h0m65 8h0m28-3h0m10 1h0m926-1h0m63 1h0m82 5h0m10 3h0m46 8h0m-77-5h0m-12 10h0m-4-7h0m-43 5h0m-15 0h0m-58 1h0m-4 0h0m-20 0h0m-772-10h0m-12 3h0m-26 2h0m-150 4h0m-532-2h0m-10-4h0m604 18h0m11 0h0m10 2h0m37-9h0m36 3h0m849 2h0m22-6h0m66 0h0m101 0h0m-96 22h0m-39 1h0m-21-4h0m-81 1h0m-41 2h0m-907-2h0m0-3h0m-47-5h0m-490-1h0m8 20h0m477-5h0m115 1h0m857-1h0m1 7h0m59 1h0m25-7h0m18 3h0m-60 10h0m-8 7h0m-10-2h0m-7-6h0m-13 0h0m-8 5h0m-856-8h0m-11 6h0m-24-5h0m-62 6h0m-9-4h0m-28-2h0m65 18h0m932-5h0m62 3h0m3-1h0m33 2h0m20-4h0m2 4h0m1 3h0m56 11h0m-5-3h0m-11 5h0m-13-8h0m-45-2h0m-16 8h0m0-9h0m-22 4h0m-91-4h0m-827 2h0m-18 9h0m-10 0h0m-51-11h0m-7 5h0m-29 3h0m-24 2h0m18 14h0m16-6h0m18 2h0m12 3h0m13-9h0m925-2h0m20 2h0m81 1h0m25 5h0m-30 11h0m-71-6h0m-65 8h0m-865-2h0m-19-4h0m-5 5h0m-9 3h0m-17-6h0m-7-3h0m-3 8h0m-12-9h0m-23 9h0m-3 0h0m-24-9h0m3 13h0m13 2h0m11 0h0m0-3h0m8 6h0m7 0h0m13-5h0m11 4h0m5 2h0m3-5h0m7 9h0m2-10h0m3 0h0m1 9h0m17 1h0m17 0h0m21-6h0m825 4h0m14-7h0m1 9h0m40-4h0m20-1h0m111 15h0m-45 2h0m-35-10h0m-11 5h0m-21-6h0m-7 4h0m-914 4h0m-3-2h0m-29 0h0m-4-2h0m-4 4h0m-8 1h0m-3-7h0m-2-2h0m-6 4h0m-4-2h0m-27 3h0m-19 6h0m-6-10h0m-4 6h0m-15 5h0m8 9h0m17-4h0m4-6h0m18 6h0m15 5h0m15-3h0m5-1h0m13-1h0m6-1h0m7-4h0m22 10h0m4 0h0m809-1h0m2-3h0m53-1h0m31 3h0m9 2h0m11-2h0m4-5h0m5-2h0m17 9h0m2-11h0m48 1h0m9 10h0m-69 6h0m-8-1h0m-8 8h0m-10-6h0m-9-2h0m-48 0h0m-13 6h0m-8-8h0m-837 8h0m-17-3h0m-16 0h0m-45 0h0m-2-4h0m-21 5h0m-8 0h0m-22-6h0m-62 18h0m35 1h0m9-5h0m1 5h0m30-6h0m26 7h0m14-6h0m11-2h0m24 8h0m23-3h0m811 5h0m32-3h0m43-8h0m13 7h0m10-7h0m13 5h0m8 5h0m40-10h0m6 4h0m0 5h0m19-3h0m8 0h0m1 5h0m8-11h0m3 5h0m35 7h0m-43 6h0m-8 0h0m-1 0h0m-5-6h0m-11 6h0m-19-5h0m-8 5h0m0 2h0m-8-3h0m-2 6h0m-50-7h0m-17 2h0m-28-1h0m-4-1h0m-21 5h0m-14 0h0m-1-1h0m-780-3h0m-22 5h0m-4-2h0m-48-6h0m-35 6h0m-6 0h0m-7-6h0m-3 3h0m-87 6h0m-25 10h0m22-1h0m18 2h0m4-5h0m30 1h0m9-6h0m22 7h0m13 0h0m51-7h0m3 4h0m28 2h0m13-3h0m807-2h0m3 8h0m1 2h0m4-6h0m1 5h0m11-7h0m12 5h0m43-2h0m70-5h0m23 8h0m32-9h0m14 10h0m8-5h0m-18 12h0m-1-4h0m-7 6h0m-10-1h0m-1-1h0m-8 1h0m-4 1h0m-23-5h0m-3-2h0m-49-1h0m-11 5h0m-7 6h0m-3-5h0m-26 5h0m-5-9h0m-23-1h0m-4 2h0m-2 4h0m-1-1h0m-6 1h0m-803-3h0m-1-3h0m-7 10h0m-12-4h0m-13-3h0m-15-4h0m-1 3h0m-2 8h0m-1 1h0m-15-10h0m-1 2h0m-15 3h0m-12 1h0m-13-2h0m-24-1h0m-8-3h0m-2 3h0m-18-3h0m-12 7h0m-2-1h0m-1-8h0m-38 9h0m-6 1h0m-18 12h0m5-4h0m30 4h0m2 2h0m43-11h0m12 0h0m23 7h0m16 4h0m9-8h0m15-2h0m11 9h0m30-2h0m0-7h0m819 0h0m9 7h0m23-6h0m4-2h0m7 5h0m2 0h0m6-5h0m11 10h0m31-2h0m56-5h0m33-2h0m0 6h0m8 3h0m37-8h0m-24 10h0m-18 8h0m-2-4h0m-18 3h0m-90 0h0m-5-4h0m-21 5h0m-5 2h0m-61-8h0m-779 5h0m-3 3h0m-65-10h0m-27 9h0m-27 0h0m-7-6h0m-51 0h0m-29-4h0m0 7h0m0 14h0m7-6h0m10 4h0m84-2h0m30 1h0m1-1h0m28 2h0m28 1h0m12-5h0m13 1h0m758 7h0m0-7h0m1 7h0m6-7h0m9 1h0m50 2h0m6-2h0m17 2h0m23-1h0m4 5h0m41 1h0m14-4h0m6 2h0m23-1h0m1-3h0m11-3h0m30 5h0m-24 6h0m-17 4h0m-7 5h0m0-3h0m-17-7h0m-8 3h0m0 4h0m-11-5h0m-8 0h0m-7 1h0m-14 1h0m-8 2h0m-23 4h0m-7-1h0m-10-3h0m-39 3h0m-2 0h0m-4 1h0m-38 0h0m-15 0h0m-6-1h0m-722-3h0m-30-4h0m-22-2h0m-14 6h0m-6-3h0m-12 2h0m-10-3h0m-14 5h0m-4-7h0m-27 0h0m-7 3h0m-1 6h0m-4-9h0m-3 8h0m-18-4h0m-15 6h0m-2-1h0m-75-7h0m-18 5h0m-8-5h0m9 10h0m46 8h0m29-7h0m11 8h0m17-9h0m4 8h0m15 2h0m9-8h0m11 2h0m37 6h0m29-11h0m13 0h0m8 5h0m3 2h0m8-2h0m773 6h0m27-10h0m8-1h0m5 11h0m11-4h0m1 4h0m4-10h0m13 10h0m53-10h0m36 6h0m11-5h0m0 3h0m1 1h0m1 2h0m0-3h0m32-1h0m-23 16h0m-25-6h0m-3-1h0m-7 9h0m-9-3h0m-4-2h0m-33 5h0m-18-2h0m-2-2h0m-18 0h0m-12-3h0m0 8h0m-10-4h0m-11 1h0m-7 0h0m-12-3h0m-830 0h0m-4 3h0m-29-3h0m-2-5h0m-4 7h0m-3-5h0m-12-1h0m-11 7h0m-2 0h0m-9-1h0m-2-6h0m-24 5h0m-24-5h0m-62 5h0m-9 15h0m3-4h0m23 4h0m10-1h0m9-6h0m7 8h0m20-7h0m3 3h0m42 3h0m29-6h0m10 8h0m16 1h0m2-9h0m815-1h0m26 7h0m5-4h0m3 7h0m0-9h0m9 3h0m3-2h0m28 5h0m0-8h0m23 2h0m7 1h0m31-2h0m2 4h0m18-3h0m-61 20h0m-18-10h0m-36 4h0m-3-2h0m-22 0h0m-851 0h0m-18-2h0m-49 8h0m-10 0h0m-1-1h0m-17-2h0m-8 0h0m-2 1h0m-12 4h0m-9-1h0m-28 0h0m-7-4h0m-9 3h0m3 13h0m39 1h0m9-3h0m10 3h0m10-5h0m2 6h0m18-11h0m915 2h0m21 3h0m16-6h0m3 0h0m-1035 12h0"/>
<path stroke="#14ad88" d="M910 1918h0m-12 13h0m4-3h0m13-3h0m970-3h0m0 3h0m31 3h0m28-2h0m18 16h0m-8-4h0m-60-1h0m-6-1h0m-3-2h0m-945 10h0m-10-10h0m-9 6h0m-20-7h0m-4 4h0m-7 6h0m-10 8h0m1 5h0m9-1h0m30-4h0m15-6h0m3 4h0m5 4h0m15-4h0m2 1h0m9 0h0m11-4h0m21 9h0m870-3h0m28-3h0m5-1h0m4 2h0m5-3h0m27 5h0m24-5h0m3 0h0m17-1h0m-20 18h0m-29-6h0m-8 5h0m-43-1h0m-887 1h0m-29-1h0m-8-1h0m-4 1h0m-5 1h0m-15 1h0m-7-1h0m-6-7h0m-55 10h0m-7 10h0m6-1h0m44-4h0m49 8h0m12-11h0m11 4h0m24 8h0m864-8h0m6-2h0m40 7h0m31 1h0m2-6h0m3 4h0m2-2h0m0 6h0m9-5h0m38 8h0m-20 4h0m-5 2h0m-11-5h0m-38-1h0m-8-2h0m-23 10h0m-13 1h0m-24-1h0m-9-5h0m-852 4h0m-29 1h0m-10-2h0m-4-1h0m-2-2h0m-17 1h0m-31-2h0m-31 7h0m-1-1h0m-10-5h0m-8 3h0m-21 14h0m29 0h0m18 1h0m9-9h0m44 0h0m8 4h0m30 3h0m5-8h0m10-1h0m9 8h0m16 2h0m6-2h0m849-6h0m71 7h0m5-7h0m15 3h0m4 5h0m15-8h0m20 0h0m-2 16h0m0 4h0m-7-9h0m-7-2h0m-42 6h0m-4 5h0m-31 0h0m-3-9h0m-5 6h0m-23-3h0m-855-3h0m-5-1h0m-1 7h0m-2 3h0m-20-10h0m-28 10h0m-35-5h0m-17-4h0m-10-2h0m-11 8h0m-14 1h0m-6-8h0m-14 1h0m-8 5h0m3 11h0m4 0h0m2 3h0m25-1h0m18-3h0m5 1h0m16-1h0m16-4h0m32 11h0m20-10h0m4 6h0m24-3h0m827-1h0m0 7h0m17-8h0m0 3h0m44-6h0m4 7h0m66 3h0m22 1h0m-8 13h0m-21-3h0m-21-5h0m-6-2h0m-7 0h0m-13 6h0m-16-6h0m-40 2h0m-866 6h0m-10-3h0m-42 3h0m-49-5h0m-38 3h0m-12 2h0m2 10h0m1-2h0m37 1h0m4-6h0m11 3h0m19 0h0m2 3h0m11 1h0m6 1h0m15 3h0m9-9h0m7 2h0m42 0h0m0-4h0m10 4h0m795 5h0m31-7h0m10 9h0m10-10h0m22 8h0m17-5h0m15 3h0m13-7h0m30 2h0m4 5h0m6 0h0m4-1h0m4-2h0m3-5h0m5 11h0m6-1h0m3 3h0m-14 9h0m-6-3h0m-21 4h0m-19-1h0m-9-8h0m-8 1h0m-8-2h0m-6 9h0m-46-6h0m-16-3h0m-14 6h0m-828 0h0m-42 4h0m-2 0h0m-4 0h0m-7-9h0m-30 7h0m-18-6h0m-10-2h0m-40 0h0m9 14h0m13-2h0m26 0h0m5 0h0m1 1h0m4 3h0m29 0h0m4-3h0m11 3h0m2 3h0m12-2h0m16-1h0m12 0h0m5-2h0m819 8h0m24-7h0m28 1h0m4 5h0m21-6h0m17 0h0m1-2h0m7 6h0m10-1h0m22-6h0m7 6h0m23-6h0m10 10h0m-31 11h0m-1 0h0m-34-2h0m-10-6h0m-5 7h0m-14-4h0m-9 7h0m-14-6h0m-6 1h0m-11-6h0m-16 3h0m-22 3h0m-14 4h0m-810-10h0m-1 4h0m-28-4h0m-4 11h0m-6-5h0m-4-5h0m-7 1h0m-17-2h0m-3 2h0m-3-2h0m-2 2h0m-22 1h0m0 6h0m-25 1h0m-5 0h0m-32-3h0m-4 15h0m5-1h0m10-6h0m55 3h0m11-6h0m3 3h0m18-1h0m2 0h0m43 1h0m6-2h0m834 1h0m1 4h0m16 3h0m19-2h0m44-2h0m7 0h0m40 6h0m12-1h0m29-10h0m-26 13h0m-13 6h0m-50 1h0m-76-3h0m-9 3h0m-826-7h0m-11 6h0m-6 3h0m-10 0h0m-11 1h0m-24-5h0m-40 2h0m-1 2h0m-51 2h0m30 11h0m10-3h0m1-7h0m2 4h0m51-2h0m18 2h0m15 3h0m856-4h0m29 1h0m25 1h0m17-2h0m17 5h0m36 1h0m4-7h0m12-1h0m13 0h0m13 14h0m-15-3h0m-9 4h0m-3 4h0m-11 2h0m-23-8h0m-48 8h0m-44-8h0m-867 2h0m-9 3h0m-14 0h0m-13-8h0m-5 3h0m-1 7h0m-4-4h0m-32 0h0m-16 3h0m-6 2h0m-22 1h0m11 9h0m45 1h0m7-3h0m20 1h0m26-5h0m9 6h0m865 1h0m49-2h0m23-3h0m21 1h0m17 1h0m1-3h0m14 13h0m-20 3h0m-10-9h0m-2 10h0m-26-2h0m-2 1h0m-1-9h0m-19 10h0m-9-9h0m-920 3h0m-7 7h0m-55-7h0m-3 2h0m-13 4h0m-1 1h0m17 8h0m0-3h0m6-3h0m2 8h0m5-1h0m2 3h0m9-8h0m1 4h0m8 0h0m5-1h0m948 4h0m6 1h0m21 1h0m4-1h0m13-9h0m4 7h0m31 0h0m-5 10h0m-8 1h0m-17-2h0m-4-6h0m-36 7h0m-924-6h0m-17 4h0m-9-4h0m-11 2h0m-1-3h0m-18 7h0m0-6h0m3 15h0m7 4h0m982-5h0"/>
<path stroke="#16b9c8" d="M1708 1788h0m-1096 22h0m80-6h0m43 5h0m4-5h0m3-2h0m997 22h0m0-4h0m-14 4h0m-22-7h0m-9 1h0m-34-6h0m-920 6h0m-111 6h0m92 4h0m30 5h0m1 0h0m0 3h0m931-1h0m4 0h0m2-4h0m1-6h0m7 10h0m4-2h0m7-1h0m20 1h0m30-5h0m3 14h0m-80 1h0m-13-3h0m-15 8h0m-883-11h0m-25 7h0m-43-7h0m0 9h0m-6-2h0m-90 1h0m151 5h0m22 10h0m871-11h0m9 6h0m10-3h0m12 1h0m1 5h0m1-3h0m13 3h0m12-8h0m5 3h0m21 2h0m17-6h0m0 0h0m18 19h0m-2-8h0m-31 5h0m-21 1h0m-1-5h0m-8 9h0m-17-4h0m-16-2h0m-898 2h0m-5-4h0m-6 8h0m-8-5h0m-159 13h0m187-2h0m869 8h0m1-6h0m7 2h0m38-8h0m16 6h0m3-6h0m14 1h0m4 10h0m31-11h0m17 9h0m4 5h0m-18 8h0m-80-9h0m-4 7h0m-888-2h0m-9 5h0m-3 1h0m-17 0h0m-8 0h0m-80-10h0m-9 0h0m-9 7h0m-77 2h0m71 2h0m30 6h0m85 3h0m10-4h0m871-3h0m1-2h0m4 9h0m11-2h0m6 2h0m22-1h0m12 2h0m18-5h0m1-5h0m47 6h0m3-1h0m14-1h0m-13 9h0m-21-1h0m-51 6h0m-8-4h0m-11 0h0m-2 4h0m-17-4h0m-27 5h0m-853 3h0m-64-5h0m-29 13h0m21-1h0m35 4h0m2-8h0m23 4h0m8-6h0m859 1h0m21 2h0m4 2h0m2 2h0m2 1h0m12-6h0m24 2h0m12-2h0m25 6h0m2-4h0m26 2h0m22-5h0m-14 18h0m-90 4h0m-48-7h0m-33-3h0m-806 2h0m-2-2h0m-30 3h0m-5-3h0m-1 4h0m-1 6h0m-11-8h0m-7 6h0m-30-9h0m-28 9h0m-63-5h0m-10 6h0m-22 0h0m59 10h0m28 4h0m82-12h0m6 9h0m2 1h0m6-3h0m19-3h0m859 4h0m23-3h0m22 0h0m5 3h0m21-7h0m12 9h0m0-3h0m1-2h0m16-4h0m3 4h0m8-2h0m14 19h0m-26 2h0m-9-9h0m-5 8h0m0-6h0m-5-4h0m-10 4h0m-1 4h0m-35-2h0m-6 1h0m-1 1h0m-10-6h0m-59 4h0m-1-6h0m-842 9h0m-6-6h0m-17 6h0m-27-5h0m-41 3h0m-25 4h0m-14-10h0m-3 4h0m-27 4h0m75 6h0m19-1h0m10 3h0m2-2h0m8 5h0m35-6h0m4 8h0m7-4h0m19 3h0m2-4h0m825 0h0m20-1h0m20-2h0m37 3h0m4-4h0m14 8h0m9-10h0m44 3h0m10 1h0m1-1h0m5 9h0m-1 3h0m-64 3h0m-2 5h0m-4-9h0m-6 3h0m-4-1h0m-13 0h0m-1 1h0m-26 0h0m-28 5h0m-869 0h0m-1-1h0m-23 2h0m-2-10h0m-7 4h0m-5 6h0m-62 12h0m30-3h0m44-1h0m4 3h0m3-7h0m30 5h0m832-1h0m17-3h0m3 8h0m40-8h0m17-1h0m17 5h0m44 2h0m5-2h0m8-1h0m-1 8h0m-1 9h0m-3-4h0m-4 0h0m-13-6h0m-33 8h0m-20-8h0m-10 4h0m-17 3h0m-2 2h0m-8-9h0m-8 7h0m-883-2h0m-31-1h0m-32-2h0m-10 2h0m-43 2h0m-2-1h0m-25 2h0m16 14h0m16-5h0m3 1h0m27-1h0m35-6h0m1 7h0m23 4h0m929-8h0m32 5h0m44-4h0m23 16h0m-30-7h0m-13 8h0m0-6h0m-10 0h0m-12 3h0m-41 0h0m-963-5h0m-1 9h0m-9 0h0m-11-6h0m-29 6h0m-9-1h0m-9-1h0m5 13h0m2-5h0m9 2h0m26-1h0m2 2h0m1-4h0m64 6h0m9-9h0m923 0h0m27 7h0m1-2h0m14-2h0m46 7h0m-6 10h0m-3-7h0m-5 0h0m-34 6h0m-4 3h0m-2-3h0m-6 1h0m-2 2h0m-14 1h0m-14-6h0m-1-5h0m-16 6h0m-909-3h0m-4 3h0m-8-3h0m-19 6h0m-18-2h0m-4-4h0m-18 2h0m-6-4h0m-14 9h0m-8 4h0m24 8h0m1 2h0m4-1h0m2-1h0m7-4h0m16-5h0m10 5h0m3 1h0m15-6h0m0 8h0m916-2h0m54 3h0m1-7h0m30 0h0m8 2h0m17-1h0m-11 11h0m-24 1h0m-3-1h0m-6 4h0m-10-3h0m-7 7h0m-10-5h0m0 4h0m-6-2h0m-17-6h0m-928 4h0m-6 4h0m-19-5h0m-35 7h0m-12-10h0m-4 4h0m-8 9h0m32 0h0m24 5h0m970-2h0m1-4h0m12 3h0m45-3h0m2 10h0m21-2h0m-52 5h0m-19-1h0m-8 9h0m-7-8h0m-988 6h0m-16-6h0m1054 28h0m-18-4h0m-28 3h0"/>
<path stroke="#8d7ef2" d="M1554 1576h0m5 14h0m24 17h0m1 5h0m-25 9h0m-984 14h0m1-1h0m990 19h0m-1013 11h0m25-2h0m42-1h0m956-3h0m12-2h0m15 1h0m-12 16h0m-977-2h0m5 13h0m24 5h0m46-2h0m915 3h0m1-2h0m19 2h0m-17 6h0m-955-3h0m0 0h0m-75 3h0m32 12h0m13 3h0m3 0h0m4 3h0m8-1h0m14-4h0m945-4h0m20 3h0m20-2h0m6 3h0m-34 13h0m-9 1h0m-5-2h0m-913-1h0m-9 7h0m-2-1h0m-49 0h0m-21-9h0m-3 11h0m-14-2h0m6 13h0m17 1h0m18-4h0m17-3h0m1 0h0m2 1h0m13-4h0m17 6h0m29-7h0m894 4h0m12 6h0m13-5h0m21-5h0m4 9h0m2-3h0m7-3h0m2-3h0m14 9h0m25-6h0m38 17h0m-34-6h0m-17 3h0m-3-4h0m-4 2h0m-38-1h0m-6-2h0m-924 8h0m-10-9h0m-2 10h0m-66 1h0m-14-2h0m-7 2h0m-14-10h0m3 14h0m77 2h0m2 2h0m937-5h0m63 0h0m2 0h0m21-1h0m14 9h0m13-1h0m1 2h0m10-3h0m-9 14h0m-2-6h0m-4 6h0m-21-5h0m-2 3h0m-45 2h0m-929-5h0m-8 6h0m-31-7h0m-1 3h0m-26-2h0m-54 3h0m16 9h0m3 5h0m28-1h0m7 2h0m11-7h0m9 3h0m42-6h0m8 7h0m907-6h0m26 3h0m5-5h0m8 1h0m7 5h0m15 1h0m-38 16h0m-916-9h0m-33 5h0m-15 1h0m-8-4h0m-34 18h0m19-1h0m22-3h0m-294 402h0m994 21h0m-993-8h0m1000 29h0m-5 5h0m-886 9h0"/>
<path stroke="#d57cf2" d="M1607 1439h0m-24-4h0m-964-3h0m-14 2h0m-41 16h0m12-6h0m0 4h0m36 2h0m931 0h0m20 0h0m14 1h0m9-6h0m20 12h0m-4-2h0m-14 1h0m-2 7h0m-9-4h0m-5-3h0m-21-1h0m-16-1h0m-2 9h0m-47-9h0m-863 9h0m-31-5h0m-49 2h0m6 12h0m11-1h0m35 0h0m897 2h0m6-5h0m53 0h0m34 6h0m3-8h0m-15 17h0m-3-7h0m-7 11h0m-983-3h0m-13-3h0m-43 0h0m-6-1h0m-17 11h0m50 4h0m4 2h0m24-2h0m8-6h0m992 1h0m23 1h0m-17 19h0m-1-1h0m-6-4h0m-11 7h0m-24 0h0m-8-3h0m-35-4h0m-908 1h0m-86-3h0m20 13h0m30 7h0m2-4h0m28-3h0m4 5h0m891-3h0m95 4h0m10-3h0m2 10h0m-21 1h0m-972-6h0m-41 5h0m0-1h0m-12 6h0m-1-1h0m-3-9h0m-12 3h0m-3 18h0m1006-5h0m35 0h0m33 6h0m-80 8h0m-18 0h0m-1000 14h0m1072-2h0m0 10h0m-23 0h0m-1032-3h0"/>
<path stroke="#ec52cd" d="M902 1812h0m7-2h0m988-1h0m16 15h0m-23-3h0m-4 1h0m-970-7h0m-8-2h0m3 18h0m1 0h0m981 1h0m57 14h0m-4 2h0m-11 0h0m-8-3h0m-13-1h0m-7-5h0m-18 4h0m0 2h0m-4-8h0m-953 3h0m-27-1h0m-14 0h0m-14 1h0m15 17h0m18 1h0m23 0h0m946-6h0m23-2h0m13 6h0m63 0h0m5 6h0m-8 10h0m-2-8h0m-4-4h0m-14 6h0m-5-1h0m-10-2h0m-14-1h0m-4 4h0m-24-6h0m-946 11h0m-11-4h0m-2 2h0m-3-6h0m-19 9h0m-2-7h0m-17 6h0m27 7h0m14 1h0m46 0h0m9 4h0m894-5h0m26 2h0m3-1h0m2-3h0m19 6h0m13 2h0m4-2h0m13 1h0m2-8h0m6 1h0m1 6h0m-2 9h0m-9-3h0m-1-3h0m-1 11h0m-2-5h0m0 5h0m-13-4h0m-3 2h0m-22-7h0m-5 3h0m-2 2h0m-35 2h0m-887-9h0m0 8h0m-2-8h0m-27 5h0m-2 5h0m-30-10h0m-35 6h0m11 8h0m18 0h0m8-1h0m14 1h0m39-2h0m5 9h0m5-4h0m2 5h0m4 1h0m932-5h0m6-3h0m24 0h0m24-3h0m2 7h0m6-4h0m3-1h0m-6 16h0m-27 5h0m-16-3h0m-22-3h0m-1 6h0m-17-9h0m-901 8h0m-36 1h0m-1-7h0m-35-3h0m-14 5h0m-7-1h0m-5 7h0m19 11h0m3-6h0m29 4h0m916-4h0m88 3h0"/>
<path stroke="#cc9b06" d="M156 2288h0m1023 0h0m125 0h0m5-3h0m17 18h0m-94-10h0m-50 2h0m-845 0h0m-20 2h0m-170 6h0m1019 11h0m11-5h0m47 5h0m19 1h0m132 2h0m-7 6h0m-58-3h0m-13-4h0m-4 10h0m-49-6h0m-12 1h0m-27 2h0m-6 4h0m-838-2h0m-31-6h0m-11 3h0m-55 5h0m-27-6h0m-44 2h0m-3 1h0m-15-4h0m-7 1h0m7 15h0m11-7h0m5 10h0m3-2h0m38 0h0m6-2h0m22-6h0m15 5h0m18 4h0m119-4h0m762 3h0m13-2h0m1 3h0m19-4h0m38 2h0m11-4h0m14 3h0m6 4h0m14-7h0m12 4h0m6 3h0m9-2h0m43-2h0m23 5h0m-16 4h0m-5-3h0m-4 2h0m-10-1h0m-4 5h0m-2-5h0m-5 0h0m-60 7h0m-6 0h0m-24 0h0m-5-3h0m-1 1h0m-3 4h0m-8-8h0m-14 7h0m-17-1h0m-3-6h0m-7-3h0m-1 7h0m-1-2h0m-770 7h0m-3-9h0m-42 4h0m-17-2h0m-2 5h0m-29-6h0m-9-1h0m-62 4h0m-14-3h0m-24-1h0m-8 8h0m-2-7h0m0 0h0m-10 3h0m19 14h0m47-1h0m35 2h0m5 0h0m17-9h0m26 4h0m8 0h0m5-2h0m21 9h0m53 0h0m749-5h0m3 3h0m15-1h0m22 2h0m11 0h0m0-11h0m22 4h0m2 0h0m33 4h0m38-6h0m3 5h0m1-5h0m11 3h0m2 7h0m29-11h0m7 0h0m2 6h0m33 11h0m-6-2h0m-20 7h0m-6-9h0m-1 8h0m-13-7h0m-1 6h0m-9-8h0m0 6h0m-9-2h0m-20 3h0m-11 1h0m-8-4h0m-2 3h0m-3-5h0m-2 6h0m-30-6h0m-19 8h0m-4-2h0m-23-5h0m-10 4h0m-31-7h0m-767 6h0m-11 3h0m-9-2h0m-33 2h0m-3-8h0m-46 9h0m-13 0h0m-9-8h0m-3 5h0m-17 3h0m-9-7h0m-33 6h0m-40-5h0m-7-4h0m-2 2h0m-20 6h0m8 8h0m27-3h0m4 7h0m10 0h0m2 0h0m8-7h0m29 5h0m8-6h0m2 1h0m31 5h0m6 0h0m7-2h0m2 6h0m4-1h0m6-7h0m9-1h0m4 7h0m7-7h0m2 3h0m10 5h0m51 1h0m25 0h0m6 0h0m747-3h0m13-4h0m10 3h0m11 3h0m5-2h0m0-3h0m75 2h0m11-4h0m11-3h0m5 6h0m7-1h0m11 6h0m22 0h0m7-2h0m11-5h0m2 7h0m22-3h0m14 1h0m-5 8h0m0 0h0m-23 1h0m-30 2h0m-1 3h0m-31-6h0m-9 6h0m0-4h0m-3 5h0m-2-2h0m-7-9h0m-4 0h0m-7 7h0m-5 4h0m-13-11h0m-29 4h0m-5 5h0m-19 0h0m-17-6h0m-5 0h0m-19 6h0m-754 2h0m-10-5h0m-1 2h0m-15-7h0m-23 6h0m-13-4h0m-11 5h0m-6-3h0m-15-2h0m-1 4h0m-9 3h0m-19-7h0m-7-2h0m-10 1h0m-9-3h0m-24 3h0m-1 7h0m-2-7h0m-29-3h0m-8 9h0m-12 1h0m-6-7h0m-6 8h0m-10-8h0m13 16h0m5-3h0m5-4h0m1 1h0m7 6h0m30-5h0m13 10h0m38-3h0m5-8h0m1-1h0m1 7h0m4 4h0m22 0h0m23-5h0m28-2h0m14 4h0m26-5h0m1 7h0m756-7h0m50 8h0m4-5h0m6-6h0m2 9h0m7-4h0m46 3h0m20 1h0m8-9h0m1 8h0m49-6h0m0 3h0m6-4h0m23 4h0m1-4h0m10 10h0m19-3h0m0-8h0m9 17h0m-25 2h0m-2-2h0m-18-1h0m-26 3h0m-10-1h0m-19 2h0m-6-1h0m-10-2h0m-20-3h0m-15-2h0m-4 11h0m-2-10h0m-41 0h0m-12 10h0m-14-6h0m-26-3h0m-745 7h0m-8 0h0m-12-2h0m-1-6h0m-18 11h0m-13-1h0m-13-5h0m-15 5h0m-7-9h0m-20 7h0m-31-6h0m-30-2h0m-7 5h0m-9-3h0m-11 5h0m-12-6h0m0 4h0m-3 4h0m-26-3h0m-4-3h0m-11 5h0m-4-6h0m5 20h0m6-9h0m51 5h0m1 3h0m12-7h0m7-3h0m4 3h0m13 2h0m29 6h0m15-6h0m20 0h0m0 6h0m1-8h0m3-2h0m20 4h0m21 6h0m15-6h0m834 0h0m25 7h0m20-2h0m1-8h0m3-1h0m26 11h0m4 0h0m8-10h0m22 3h0m11-5h0m5 6h0m16 0h0m8-3h0m13-1h0m3 7h0m9-3h0m15 7h0m-3 5h0m-2-6h0m-14 11h0m-37-10h0m-8 9h0m-10-1h0m-12-5h0m-11-2h0m0 3h0m-22 5h0m-18-7h0m0 8h0m-4-3h0m0-1h0m-54-4h0m-23 2h0m-16 0h0m-779 0h0m-8-4h0m-13-1h0m-7 10h0m-1-10h0m-24 6h0m-9-2h0m-8-1h0m-62 8h0m-2-9h0m-14 5h0m-15 2h0m-2-1h0m-8-3h0m-3 6h0m-1-7h0m-18 4h0m-20 4h0m-12-11h0m29 21h0m5-5h0m3-4h0m10 3h0m3 5h0m7-3h0m29-4h0m1 3h0m42-4h0m16 3h0m33 6h0m12-10h0m30 6h0m6 2h0m2 0h0m6 4h0m3 0h0m3-7h0m757-3h0m9 10h0m28-11h0m1 4h0m3-4h0m34 2h0m8 4h0m18 0h0m19 3h0m9-3h0m11 4h0m7-5h0m3 2h0m65-7h0m3 0h0m5 5h0m2 8h0m-11 5h0m-5-3h0m-15 0h0m-8 2h0m-2-2h0m-20-3h0m-9 8h0m-2-4h0m-38 5h0m-7-5h0m-15 2h0m-28 3h0m-12-9h0m-11 8h0m-28-3h0m-4 4h0m-3-3h0m-767 0h0m-13-5h0m-2 0h0m-5-2h0m-6 5h0m-6 1h0m-3 3h0m-7-8h0m-20 8h0m-47-4h0m-14 3h0m-17-4h0m0 3h0m-12-2h0m-5 0h0m-40 6h0m-27-1h0m-5-4h0m16 7h0m10 4h0m15 3h0m1-2h0m21 5h0m4-5h0m0 1h0m16 0h0m2 0h0m18 1h0m1-2h0m21 3h0m4 1h0m10-9h0m2-1h0m3 1h0m6 7h0m6-4h0m10 1h0m8 4h0m6-3h0m6-6h0m32 3h0m792-3h0m4 9h0m29-6h0m14 0h0m29 7h0m0-8h0m5 4h0m2 2h0m0-7h0m14 0h0m10 0h0m4 9h0m2-5h0m13 6h0m18-4h0m14 1h0m6 2h0m12-2h0m37 5h0m-11 10h0m-29 0h0m-3-6h0m-5-2h0m-5 3h0m-8-4h0m-10-1h0m-3 2h0m-45 1h0m0 5h0m-3-3h0m-51-3h0m-2-2h0m-4 5h0m-9-3h0m-12 0h0m-809-2h0m-4 0h0m-25 8h0m-4-7h0m-5 3h0m-47 6h0m-19-11h0m-14 10h0m-3-3h0m-9-3h0m-54 4h0m-4-5h0m-22 1h0m24 12h0m8 2h0m30-2h0m12 3h0m4 2h0m12-3h0m20-4h0m6 2h0m15 6h0m14-6h0m13 2h0m24-1h0m10-2h0m820 8h0m18-2h0m12-9h0m14 9h0m1-7h0m14 0h0m31-1h0m6 0h0m3 1h0m44 4h0m9-5h0m18 6h0m0-1h0m1 3h0m20-5h0m5 2h0m-59 9h0m-24 2h0m-22-2h0m-4-3h0m0 8h0m-11-8h0m-41 4h0m-19 5h0m-9-1h0m-16-6h0m-830 8h0m-21-8h0m-4 10h0m-28-9h0m-1 3h0m-13-6h0m-3 7h0m-5-5h0m-3-1h0m-2 10h0m0-1h0m-46-6h0m-3 7h0m-2-2h0m-5 2h0m-1 1h0m2 3h0m21 5h0m7 4h0m12-10h0m16 3h0m3-4h0m18 6h0m28-7h0m11 5h0m0 3h0m4-8h0m15 7h0m2 0h0m2 4h0m864-2h0m44 3h0m4-6h0m38 5h0m16-6h0m7-3h0m5 0h0m8 7h0m2 3h0m5 9h0m-2-7h0m-13 2h0m-11 4h0m-37-6h0m-12-1h0m-14 7h0m-984 1h0m-3-6h0m-33 1h0m60 13h0m5-4h0m1028 4h0"/>
<path stroke="#9dac08" d="M278 2007h0m-17-3h0m-4 4h0m-54 9h0m60 1h0m980 20h0m-12 1h0m-6 1h0m-3 0h0m-3-9h0m-13 4h0m-5-5h0m-1006 3h0m-2 3h0m37 5h0m110 8h0m864-2h0m1-3h0m4 7h0m13 0h0m12-4h0m32 1h0m-42 10h0m-4-4h0m-1021 4h0m11 15h0m3-1h0m38 3h0m52-2h0m886-4h0m2-3h0m36 7h0m22-7h0m11-1h0m-5 15h0m-14 3h0m-2 4h0m-10-1h0m-1-7h0m0-1h0m-8-2h0m-9 4h0m-23-1h0m-869 8h0m-51 0h0m-5-11h0m-71 21h0m3-8h0m4-1h0m10 6h0m1-5h0m45 7h0m73-4h0m39 1h0m12-2h0m791 6h0m5-8h0m19 6h0m9-3h0m0 6h0m6-1h0m12 2h0m22-6h0m4 4h0m21-7h0m3 4h0m9 4h0m0 0h0m22-2h0m-39 6h0m-17 6h0m-32-6h0m0 1h0m-1 4h0m-2 3h0m-30-6h0m-15 3h0m-5 1h0m-796-3h0m-8 5h0m-5-1h0m-69-1h0m0 2h0m-26 1h0m-60 6h0m14 5h0m21 0h0m2-9h0m1 2h0m25 8h0m19-5h0m24-4h0m850 6h0m4-4h0m28-2h0m1 5h0m2-4h0m20 1h0m1 0h0m9 1h0m7 6h0m0-7h0m1 5h0m4-2h0m2 0h0m38 3h0m8-1h0m5-6h0m17 14h0m-23 0h0m-11 6h0m-1-7h0m-2-3h0m-1 8h0m-28-5h0m-8-1h0m-2 1h0m-4 4h0m-9-5h0m-22 0h0m-14 6h0m-805 0h0m-6-2h0m-75 5h0m-51-3h0m-1-5h0m-18-1h0m-23-1h0m21 12h0m10-1h0m60 7h0m7-2h0m18-2h0m1 1h0m43 2h0m3-4h0m803-2h0m18 6h0m3 5h0m0-10h0m15 3h0m35 5h0m7-6h0m8 4h0m16-6h0m14 5h0m6-5h0m1 8h0m3-9h0m6 4h0m67 2h0m6 0h0m12 11h0m-14 0h0m-16 1h0m-4 0h0m-9-4h0m-2-3h0m-1 2h0m-2 8h0m-3-8h0m-1 4h0m-5 6h0m-10-5h0m-12 3h0m-9-2h0m-50 1h0m-1-5h0m-10 7h0m-17-7h0m-19 2h0m-23-3h0m-7 5h0m-828 1h0m-15-3h0m-17-2h0m-1 0h0m-38 6h0m-46-9h0m-17 6h0m-22 2h0m-19 13h0m7-9h0m4 11h0m25-4h0m1 4h0m3-9h0m2 2h0m1 3h0m0 1h0m2-8h0m14 9h0m6-9h0m19 10h0m8-4h0m1-2h0m38 2h0m17 4h0m16-9h0m843 10h0m31-3h0m15-4h0m3 7h0m1-2h0m12 1h0m17-5h0m14-4h0m28 4h0m0 6h0m4-2h0m31 2h0m20-2h0m2-10h0m16 2h0m5 6h0m-146 15h0m-4-4h0m-18 1h0m-849-5h0m-10 8h0m-4-6h0m-5 6h0m-5-10h0m-55 7h0m-1 0h0m-6 1h0m-31 1h0m-4 2h0m-4-8h0m-4-4h0m-13 4h0m-3 3h0m-28 0h0m-6 0h0m-10-3h0m-13 8h0m-12-3h0m6 7h0m6-1h0m22 6h0m9-5h0m2 7h0m2-2h0m24-4h0m7-4h0m12 4h0m5 0h0m13 5h0m2-6h0m37 4h0m13-7h0m1 1h0m3 5h0m10 1h0m4-7h0m9-1h0m18 6h0m826-2h0m13-2h0m13 5h0m1 4h0m1-9h0m5 9h0m4-9h0m8 8h0m5-9h0m17 9h0m19-2h0m10-3h0m32 2h0m19-5h0m13-2h0m2 10h0m3-2h0m1 2h0m8 1h0m10-10h0m-19 14h0m-7 4h0m0 4h0m-4-9h0m-17 4h0m-20 5h0m-48-10h0m-1 4h0m-12 0h0m-24 4h0m-4 2h0m-11-11h0m-7 11h0m0-3h0m-14-7h0m-837 6h0m-36-3h0m-27 2h0m-2-1h0m-10 2h0m-14-5h0m-5 2h0m-20-1h0m0 6h0m-4-9h0m-37 11h0m-2-1h0m-8-10h0m-2 6h0m-26 11h0m6 2h0m3-5h0m21 3h0m7-1h0m9 1h0m9 2h0m25 1h0m4-3h0m23 4h0m16-1h0m9-2h0m20-3h0m9 6h0m26-5h0m29-3h0m815-1h0m20 11h0m5-4h0m45 3h0m0 0h0m14-2h0m7-3h0m2-5h0m19 10h0m8-2h0m27 3h0m29-8h0m-15 16h0m-25 4h0m-3-8h0m-29 2h0m-3-3h0m-2 2h0m-23 1h0m-1 3h0m-58-4h0m-6-1h0m-2 1h0m-9-2h0m-7 7h0m-825-6h0m-5 3h0m-16 5h0m-51-6h0m-4 5h0m-12-8h0m-17 4h0m-17-1h0m-40 4h0m-2-7h0m-29 5h0m5 16h0m15-3h0m7-2h0m2-4h0m24 9h0m24 0h0m3-6h0m19 1h0m10-2h0m23 3h0m0-1h0m5-5h0m33 5h0m862 3h0m32-6h0m17 5h0m6 3h0m3-10h0m14 5h0m10-4h0m31 2h0m17-1h0m4 5h0m21 12h0m-33-7h0m-10 6h0m-49-1h0m-10-3h0m-40-2h0m-7 10h0m0 0h0m-1-10h0m-4 7h0m-834-8h0m-10 6h0m-11 0h0m-8 5h0m-1-7h0m-27-2h0m-11 4h0m-15-4h0m-13 2h0m-12-1h0m-13 8h0m0-4h0m-11-3h0m-11 4h0m-4 2h0m-39 2h0m-6-2h0m-10 1h0m28 11h0m7-9h0m31 5h0m23 0h0m13-5h0m12 7h0m2-4h0m0 0h0m18 6h0m27 1h0m1-2h0m15-5h0m1-4h0m900 5h0m65 0h0m1-2h0m19 1h0m2 4h0m5 2h0m6 0h0m12 2h0m-12 5h0m0-3h0m-37 3h0m0-2h0m-3 4h0m-5 3h0m-16-3h0m-11-5h0m0 2h0m-27 8h0m-1-9h0m-1 1h0m0 1h0m-882-1h0m-3-1h0m-12 5h0m-8-8h0m-2 5h0m-36 5h0m-29-4h0m-7 1h0m-26 2h0m-2-4h0m-2 1h0m-17-3h0m-15 2h0m-21 5h0m42 3h0m2 5h0m12 5h0m3-5h0m13 0h0m4-4h0m4 9h0m10 1h0m23-5h0m31-1h0m28 2h0m835-4h0m6 7h0m23-4h0m21-2h0m4-5h0m4 11h0m22-9h0m20 5h0m10 5h0m27-6h0m1-4h0m1 5h0m30 0h0m9 4h0m-40 7h0m-5-5h0m-5 9h0m-29-2h0m-14-1h0m-17 4h0m-2-5h0m0-4h0m-4 3h0m-7 2h0m-54 3h0m-4-4h0m-837 2h0m-1 3h0m-6-2h0m-47-5h0m-1 1h0m-1 2h0m-4-7h0m-1 10h0m-25-7h0m-13 4h0m-1 4h0m-3-4h0m-4-4h0m-13 4h0m-4 3h0m-5-3h0m-4-4h0m-22 4h0m-5 10h0m10 1h0m40-1h0m87-4h0m3 8h0m5 3h0m889-4h0m9-1h0m26-2h0m8-4h0m2-1h0m33 10h0m34-7h0m11 5h0m10 3h0m-20 13h0m-11-4h0m-10-7h0m-54 11h0m-12-1h0m-21-10h0m-30 7h0m-800-4h0m-7-1h0m-7-2h0m-20 11h0m-9-1h0m-3-10h0m-1 9h0m-29-5h0m-5-4h0m-13 5h0m-18 5h0m-2-6h0m-31 7h0m-18-8h0m-14-1h0m-23 13h0m7 0h0m5-3h0m17 0h0m10 8h0m10-6h0m1 2h0m5 1h0m13 6h0m11-11h0m20 4h0m1 1h0m0-3h0m4-3h0m14 3h0m1 4h0m15-6h0m31 9h0m74 2h0m781-10h0m28 7h0m1-2h0m5-6h0m6 10h0m17-3h0m1 4h0m0-8h0m8 4h0m16-7h0m22 1h0m38 2h0m5 5h0m5 11h0m-10-3h0m-121 1h0m-14 1h0m-896-1h0m-62-2h0m-12 2h0m-32-5h0m4 17h0m21-3h0m82 4h0m919 2h0m137-2h0m-125 9h0m-9-2h0m-879 1h0m-106 0h0m-39 1h0m109 15h0m950-3h0"/>
<path stroke="#46b41c" d="M1487 1756h0m36 6h0m-25 12h0m-6-4h0m-20 4h0m0 0h0m-18-3h0m42 13h0m6 4h0m-24 9h0m-10-2h0m-6-1h0m-18 5h0m-959 0h0m-8-6h0m-23 12h0m2 0h0m14 7h0m47-3h0m936-9h0m20 1h0m4 8h0m10-6h0m28 13h0m-20 0h0m-7 3h0m-16 3h0m-6-7h0m-39 3h0m-913 1h0m-8-6h0m-11 8h0m-32-2h0m-8 4h0m-10-1h0m-21 9h0m6 5h0m10-11h0m19 5h0m7 3h0m25-8h0m24 4h0m910 5h0m4 1h0m4 0h0m18-8h0m2-1h0m6 7h0m11-1h0m7 3h0m14-5h0m19 3h0m7 4h0m-21 1h0m-9 0h0m-15-1h0m-8 0h0m-934 4h0m-1 6h0m-12-2h0m-11-5h0m-5-3h0m-9 4h0m-4-3h0m-46-1h0m-6 15h0m22 4h0m17-2h0m6 2h0m15-2h0m19 4h0m20 0h0m1 2h0m4-3h0m3-5h0m882-3h0m35 10h0m29-9h0m25 10h0m5-4h0m1 3h0m12 0h0m6-1h0m1-5h0m8-3h0m-28 21h0m-7-5h0m-4 5h0m-17-4h0m-21-5h0m-10-2h0m-4 7h0m-2 2h0m-19-7h0m-1-1h0m-17 3h0m-3 0h0m-32-1h0m-834 6h0m-3-6h0m-29 7h0m-3-8h0m-3 5h0m-5 2h0m-6 3h0m-9-11h0m-48 5h0m-14-2h0m-46 16h0m6-4h0m1 0h0m27 4h0m27-2h0m22 5h0m5-9h0m24 8h0m27 1h0m5-2h0m17-7h0m8-2h0m813 10h0m27-3h0m3-6h0m7 0h0m8 4h0m0 2h0m38 4h0m9-9h0m4 10h0m5-5h0m14-6h0m8 9h0m0-3h0m11-1h0m1-1h0m6-4h0m6 7h0m4-1h0m7-7h0m19 23h0m-7-2h0m-22 0h0m-18 2h0m-33 1h0m-12-1h0m-8-8h0m-11 5h0m-3-6h0m-2 9h0m-12-5h0m-10 6h0m-6-10h0m-2 9h0m-24-6h0m-829-5h0m-6 0h0m-5 4h0m-9 4h0m-17 4h0m-39-4h0m-1 0h0m-45 1h0m-34 10h0m34-5h0m2 5h0m9-3h0m1 7h0m36-10h0m14 5h0m30-2h0m10 7h0m7-7h0m1 3h0m17-5h0m823-1h0m18 5h0m19-1h0m2 3h0m29 3h0m19-10h0m28 3h0m12 1h0m12 5h0m4-6h0m1 0h0m32-4h0m12 18h0m-15-3h0m-9-2h0m-7 4h0m-5-4h0m-5 4h0m-29 0h0m-8 7h0m-6-1h0m-36-6h0m-13-1h0m-4 2h0m-8 3h0m-10-2h0m-14 0h0m-6-3h0m-6 0h0m-40 3h0m-788 3h0m-15-7h0m-6-2h0m-24 5h0m-3 6h0m-9-2h0m-45-7h0m-42 8h0m-27-10h0m-3 9h0m-2-1h0m-7-5h0m-10 7h0m-2-4h0m2 7h0m4 8h0m5-1h0m4-5h0m4 5h0m4 1h0m5-7h0m8 5h0m19-3h0m17-2h0m10 5h0m6-5h0m14 6h0m1-1h0m20 0h0m39-6h0m7 8h0m12-6h0m5 0h0m14-2h0m783 3h0m1-3h0m3 4h0m8-6h0m6 1h0m7 2h0m9 8h0m8-10h0m3 2h0m3 6h0m4-2h0m43 2h0m4-7h0m23 8h0m29-4h0m19 0h0m8 5h0m5-1h0m0-5h0m2-2h0m13-1h0m1 1h0m-20 20h0m-26 1h0m-16-9h0m-20 5h0m-17-4h0m-11 0h0m-2-4h0m-25 12h0m-2-2h0m-11-9h0m-11 4h0m-1-4h0m-3 9h0m-11-3h0m-16-3h0m-850-1h0m-5 3h0m-44-2h0m-47 5h0m-25 1h0m-18 7h0m24 6h0m12-8h0m1 1h0m7 2h0m8 3h0m34-3h0m73-3h0m27 3h0m787-1h0m3 2h0m2-6h0m3 1h0m11-1h0m4 6h0m5 4h0m7-3h0m33-1h0m2 0h0m43 3h0m4-3h0m5-2h0m18 5h0m4-2h0m4-6h0m0 1h0m8 6h0m11-4h0m7 4h0m6-6h0m2 9h0m15 10h0m-6-8h0m-47 1h0m-24 4h0m-1 2h0m-9 0h0m-51-6h0m-18-1h0m-1 6h0m-28-1h0m-797-1h0m-8-1h0m-4-3h0m-19 0h0m-8 9h0m-22-11h0m-1 12h0m-8-11h0m-96 1h0m-5 3h0m-6-2h0m-10 0h0m-17 17h0m3 4h0m41-9h0m31 8h0m25-8h0m29-1h0m4 7h0m1 0h0m4 2h0m1-2h0m7-2h0m8-1h0m8 1h0m5 5h0m39-6h0m786 2h0m11-6h0m7 3h0m20-2h0m1 8h0m47 0h0m3-9h0m3 4h0m34 5h0m14-7h0m0 0h0m15 2h0m3-4h0m3-1h0m10 3h0m4 2h0m2-4h0m1 10h0m19-7h0m-6 8h0m-27 1h0m-7 2h0m-1 7h0m-3-7h0m-13 6h0m-17-3h0m-10-3h0m-9 8h0m-2-4h0m-40-4h0m-20 0h0m-1 0h0m-24 3h0m-3-3h0m-805-2h0m-31 1h0m-2 1h0m-1 7h0m-23-8h0m-18 0h0m-1 4h0m-7-1h0m-12-1h0m-21 2h0m-9 4h0m-21-10h0m-3 7h0m-7-7h0m-13 5h0m-37 10h0m32 1h0m21-2h0m22 2h0m31 0h0m31 6h0m26-7h0m19 8h0m25-9h0m777 7h0m18-3h0m8-4h0m40 8h0m3-7h0m36 7h0m21-5h0m7-6h0m2 5h0m1-2h0m25-2h0m1 5h0m0 2h0m22 3h0m3-11h0m-13 18h0m-8-4h0m-22-1h0m-10 3h0m-1-1h0m-28 8h0m-16 0h0m-28-8h0m-4 2h0m-17-4h0m0 0h0m-2 3h0m-8 1h0m-3-3h0m0 7h0m-6-5h0m-818-3h0m-7-1h0m-6 8h0m0 3h0m-4-8h0m-22 9h0m-2-11h0m-3 5h0m-42-1h0m-4-1h0m-1 2h0m-3 1h0m-5 4h0m-17-6h0m-37 0h0m-25 3h0m60 11h0m17 2h0m1-7h0m37 3h0m10-2h0m9 6h0m857 1h0m5-4h0m26 0h0m6 3h0m7 1h0m41-8h0m9 4h0m1 5h0m11-9h0m5-2h0m16 0h0m20 3h0m15-2h0m-31 19h0m-4-7h0m-16 5h0m-19 2h0m-11 3h0m-27-2h0m-10 2h0m-21-3h0m-19-4h0m-22-1h0m-830 7h0m-2-3h0m-14-1h0m-1-5h0m-16 5h0m-19 0h0m-2 2h0m-19-1h0m-43 1h0m-17-2h0m19 17h0m87 1h0m4-12h0m0 7h0m4 4h0m878-8h0m0 8h0m21-4h0m2 3h0m28-4h0m22 0h0m5 0h0m1-4h0m4 10h0m23-8h0m3 10h0m-33 8h0m-7 0h0m-7-7h0m-1 3h0m-8-5h0m-10 9h0m-21-4h0m-2-1h0m-24 2h0m-4-2h0m-883-4h0m0 0h0m-8 9h0m-21-9h0m-19 4h0m-1 2h0m-8-3h0m-2 1h0m31 13h0m924-4h0m10 1h0m46-3h0m13 4h0m4-4h0m-24 29h0"/>
<path stroke="#2a9ee2" d="M1396 1894h0m-1-7h0m-1-2h0m-3 11h0m-992 0h0m-3-10h0m-10 15h0m20 6h0m5-1h0m1-3h0m940 4h0m13-5h0m13 6h0m-1 0h0m-957 2h0m-28 3h0m-39 7h0m10 4h0m999-2h0m10-1h0m4 13h0m-20 5h0m-950-6h0m-14 7h0m-15 0h0m-11-1h0m3 9h0m3 7h0m13-3h0m6-4h0m5-1h0m4 8h0m11-7h0m958 6h0m1-3h0m-7 8h0m-28 1h0m-951 1h0m-9-5h0m-15 7h0m-2 0h0m26 12h0m975 4h0m10-10h0m1 13h0m-18 2h0m-2 3h0"/>
<path stroke="#e6880a" d="M1362 1699h0m50 14h0m10 11h0m-9-1h0m-5 2h0m-60 2h0m0-5h0m-44 5h0m0 1h0m-78 0h0m-984 11h0m58-2h0m28-2h0m4-2h0m24 6h0m876-6h0m19 2h0m9-1h0m41-4h0m2 2h0m15 7h0m5 1h0m12-3h0m27-2h0m4-7h0m3 7h0m3 4h0m8-5h0m25-1h0m1 6h0m21 0h0m30 1h0m-49 7h0m-2 1h0m-3-5h0m-12-3h0m-57 6h0m-42-3h0m-4 0h0m-3 4h0m-60-5h0m-2 9h0m-5-9h0m-14 7h0m-1 0h0m-778 2h0m-8 0h0m-4 1h0m-22-5h0m-5 1h0m-1 2h0m-23 1h0m0-7h0m-3 7h0m-49 0h0m-4-4h0m-2 5h0m-3-5h0m-9-6h0m-14 11h0m-5-11h0m-8 7h0m-1-7h0m-10 0h0m-44 9h0m-7-2h0m9 12h0m40-3h0m7 7h0m15-4h0m2-1h0m70-5h0m5 2h0m5 8h0m15-2h0m14-4h0m829-2h0m2 3h0m0-4h0m17 6h0m6 1h0m2-10h0m17 8h0m17-8h0m11 8h0m3 1h0m16-5h0m12 8h0m20-4h0m20-6h0m30-2h0m1 2h0m8 5h0m3 0h0m2-6h0m4 3h0m16 1h0m1 0h0m-18 14h0m-27-7h0m-64 6h0m-2-3h0m-4 5h0m-12 1h0m-4-9h0m-8 8h0m-4 2h0m-6-9h0m-13 9h0m-8-4h0m-14 3h0m-52-3h0m-772-3h0m-15 1h0m-18-3h0m-13 7h0m-2-3h0m-17 6h0m-6-6h0m-24-2h0m-6 4h0m-9 1h0m-17 4h0m-58-11h0m-1 6h0m-23-3h0m-1 6h0m-21-1h0m5 15h0m4-7h0m23 2h0m30 2h0m5-4h0m44 1h0m0 1h0m28 4h0m8-10h0m3 7h0m0 3h0m1 1h0m5-8h0m6 4h0m22-7h0m49 3h0m7 4h0m820-5h0m32-2h0m17 8h0m11 2h0m58-10h0m9 9h0m1-5h0m5 3h0m24-3h0m5 5h0m1-5h0m8 9h0m-8 7h0m-6 3h0m-31-3h0m-31 2h0m-10-7h0m-23-3h0m-8 3h0m-19 2h0m-2 1h0m-28 3h0m-15-10h0m-32 12h0m-6-2h0m-10 2h0m0-3h0m-770-1h0m-22 4h0m-4-12h0m-2 1h0m-22 11h0m-8-8h0m-22 1h0m-1-5h0m-21 9h0m-3-6h0m-1 2h0m-18 3h0m-4-7h0m-19 7h0m-36-4h0m-3-3h0m0 1h0m-27 5h0m-1 1h0m-6 3h0m0 0h0m-3-7h0m-6 18h0m7 2h0m2-2h0m7-9h0m3 2h0m0 6h0m13 2h0m46-7h0m7 6h0m3-1h0m5 1h0m12 2h0m43-5h0m8-6h0m7 2h0m5-2h0m0 2h0m0 8h0m42-6h0m7-1h0m796 2h0m62 0h0m2 2h0m11-8h0m2 2h0m11 6h0m22 2h0m13-10h0m8 7h0m18-2h0m28-2h0m23 4h0m-11 15h0m-1-3h0m-13 3h0m-42-7h0m-29 0h0m-2-1h0m-28 0h0m-18 10h0m-8-4h0m-47 2h0m-4-10h0m-790 0h0m-23 11h0m-10-2h0m-11-7h0m-14 10h0m-19-12h0m-9 3h0m-27-2h0m-3 5h0m-29 4h0m-14-10h0m-1 11h0m-34-1h0m-9-7h0m-7 4h0m-5-2h0m-22 13h0m77-1h0m0 6h0m3-4h0m37-2h0m5 6h0m20-2h0m28-3h0m8-3h0m8 7h0m36-8h0m783 6h0m18-1h0m18-4h0m3 8h0m13-11h0m7 11h0m25 0h0m21-6h0m27 3h0m24-5h0m7 4h0m6 5h0m23-8h0m8 2h0m8-1h0m7-5h0m8 3h0m-23 19h0m-25-4h0m-9-6h0m-40 8h0m-1-4h0m-22-2h0m-12 1h0m-17 9h0m-7-1h0m-27-1h0m-18-4h0m-12 0h0m-803-1h0m-20-4h0m-9 9h0m-9-6h0m-26 6h0m-25-1h0m-36 3h0m-31-1h0m-7 0h0m-26 2h0m28 4h0m27-3h0m4 1h0m21-1h0m11 2h0m3 2h0m1 4h0m2-3h0m26-4h0m19 6h0m1-3h0m12 5h0m842-5h0m4-3h0m29-2h0m15 4h0m26 4h0m9 2h0m20-10h0m5 5h0m6-5h0m3 5h0m0-4h0m21 9h0m11-8h0m3-3h0m8 11h0m0 1h0m-1 6h0m-10 4h0m-26-7h0m-6-2h0m-3 2h0m-17 9h0m-10-2h0m-2-5h0m-11-3h0m-9 8h0m-11 0h0m-1-9h0m-4 3h0m-5 5h0m-20-5h0m-1-1h0m-6 8h0m-4-9h0m-2-1h0m0 0h0m-847 6h0m-12-6h0m-16-1h0m-7 5h0m-20 5h0m-5-1h0m-10-5h0m-29 8h0m-1-6h0m-1-5h0m-11 2h0m-32-2h0m-22 20h0m13-4h0m21 1h0m4 2h0m26 1h0m62-8h0m9 8h0m12-4h0m859 0h0m11 2h0m4-5h0m15 9h0m4-5h0m6 0h0m34-1h0m6 5h0m47-2h0m8 1h0m-10 10h0m-21-5h0m-12-1h0m-53 2h0m-3 6h0m-1 1h0m-3-7h0m-4 2h0m-9-1h0m-24-1h0m-2-3h0m-10 4h0m-858 3h0m-8-5h0m-4 3h0m0 6h0m-1-6h0m-5 3h0m-7 1h0m-6-3h0m-7-5h0m-7 5h0m-16 4h0m-1-1h0m-16-5h0m-30-2h0m15 16h0m3-1h0m7-3h0m1 7h0m13-5h0m14 6h0m17 1h0m9-7h0m2-1h0m7-2h0m1 2h0m15-1h0m3 1h0m866 5h0m20-5h0m17 5h0m18-7h0m12 10h0m3-4h0m12-6h0m20 9h0m5-2h0m26-3h0m-1 13h0m-4-6h0m-32 7h0m-6 5h0m-3-4h0m-6-4h0m-4-2h0m-36 7h0m-2-8h0m-23 0h0m-913 5h0m-22-4h0m-9-2h0m-2 12h0m-14-7h0m-23-1h0m-26 0h0m29 10h0m5-1h0m35 6h0m5 2h0m3-6h0m15 7h0m10-9h0m914 10h0m6-7h0m28 4h0m11 0h0m9-1h0m10 4h0m15-5h0m14-4h0m-5 10h0m-6 7h0m-21 2h0m-1-2h0m-6 3h0m-11-6h0m-2 7h0m-17-7h0m-6 2h0m-11 2h0m-4-1h0m-973-1h0m-6 2h0m-43 1h0m88 6h0m939-1h0m55 17h0m-2-6h0m0 10h0m-10-8h0m-14 1h0m-13 3h0m-13-6h0m-5 5h0m-956-1h0m2 15h0m934-7h0m45 3h0m-1 12h0m-5-2h0m-4 1h0m-21 9h0m-1003-3h0m993 15h0m28-10h0m8 1h0m17-2h0m4 9h0m-62 2h0m-1 5h0m46 11h0"/>
<path stroke="#f6766d" d="M376 1426h0m1023-5h0m45-2h0m-6 17h0m-26 4h0m-46-3h0m-12-9h0m-4 1h0m-927 2h0m-16 1h0m-28 0h0m-21 17h0m15-8h0m2 0h0m12 0h0m27 6h0m2 0h0m0 0h0m17-7h0m10 6h0m916-4h0m2-2h0m39 6h0m1-2h0m13-3h0m35 4h0m27 13h0m-31-1h0m-24-1h0m0-2h0m-12 3h0m-1-1h0m-6-1h0m-7 4h0m-11-2h0m-10-2h0m-43 8h0m-846-7h0m-55-2h0m-5 9h0m-29 0h0m-46-8h0m-12-1h0m-12 16h0m3 3h0m6 2h0m21-3h0m14-1h0m4 2h0m8-9h0m11 12h0m8-8h0m57 5h0m4-1h0m20-2h0m14 5h0m1-7h0m849 7h0m2-9h0m24 9h0m16-9h0m8 3h0m9 2h0m17 4h0m25-5h0m1-1h0m21 3h0m4 3h0m-10 9h0m-31-2h0m-20 6h0m-14-5h0m-4 3h0m-8 0h0m-9-10h0m-25 11h0m-10-11h0m-17 11h0m-9-5h0m-6 0h0m-845-2h0m-13 1h0m-62 1h0m-16-4h0m-2 10h0m-1-7h0m-71 15h0m21-2h0m18-2h0m20 3h0m36-2h0m5 6h0m8-5h0m25 3h0m52-8h0m3 5h0m34 1h0m11 2h0m765-4h0m59 2h0m10-1h0m28-6h0m12 1h0m21 3h0m14 4h0m15-4h0m14 5h0m10 15h0m-3-3h0m-21-8h0m-32 10h0m-37-6h0m-5-2h0m-15 7h0m-15 0h0m-18-9h0m-26 5h0m-9 0h0m-796 1h0m-47 0h0m-7 0h0m-12-2h0m-10 0h0m-22-5h0m-26 6h0m-53 2h0m-16-7h0m-15 4h0m-4 14h0m32 0h0m18-2h0m2-2h0m2 4h0m13 1h0m39-8h0m17 7h0m10 1h0m8 0h0m27-7h0m6 9h0m15-8h0m0 9h0m8-5h0m12-2h0m6 4h0m862-3h0m7 5h0m2-9h0m10 7h0m4 0h0m2-3h0m9-1h0m16 2h0m24 2h0m40 2h0m-1 13h0m-10-9h0m-39 3h0m-15 2h0m-57-2h0m-51 5h0m-4-10h0m-18 5h0m-895-3h0m-3 7h0m-10 0h0m-13-6h0m-19 3h0m-22-3h0m-7 8h0m-2-6h0m-19 6h0m-9 13h0m6-3h0m6-8h0m19 6h0m2 0h0m41-4h0m94 4h0m0 4h0m17-8h0m10 8h0m28-9h0m753 10h0m45-11h0m5 0h0m64 0h0m10 1h0m15 2h0m1 6h0m6-7h0m39 7h0m7-10h0m27 2h0m42 2h0m-19 13h0m-6-2h0m-2 7h0m-6-5h0m-10-5h0m-34 4h0m-11 5h0m-10-6h0m-3 2h0m-28-5h0m-47 9h0m-19-3h0m-11 3h0m-5 2h0m-35-10h0m-1 10h0m-4-2h0m-1-8h0m-771 4h0m-4-3h0m-34 5h0m-5-7h0m-4 10h0m-13-2h0m-20-3h0m-10 3h0m-18-4h0m-1 5h0m-16 1h0m-7 0h0m-44-1h0m-51-7h0m33 12h0m35 6h0m23-4h0m5 3h0m23 5h0m3-3h0m28-8h0m2 4h0m6-3h0m17 5h0m7 2h0m5-7h0m16 6h0m5-6h0m1-1h0m13 7h0m19 1h0m770-8h0m3 5h0m50 5h0m13-3h0m7-6h0m9 9h0m11-10h0m20 3h0m24 3h0m8-7h0m9 2h0m12 2h0m22-1h0m1 8h0m31-8h0m16-3h0m3 6h0m-6 11h0m0 3h0m-9-1h0m-59-2h0m-28-5h0m-3 7h0m-14-2h0m-3 3h0m-11 0h0m-14-2h0m-11 0h0m-48 6h0m-3-8h0m-18-3h0m-851 0h0m-8 0h0m-13 1h0m-3 8h0m-2 2h0m-11-11h0m-8 8h0m-16 2h0m-14-5h0m-5-5h0m0 10h0m-5-9h0m-4 10h0m-11-6h0m-43-3h0m-5 7h0m-12-9h0m-2 10h0m-10-1h0m8 5h0m41 2h0m15 7h0m21-8h0m23 4h0m18 4h0m18-2h0m2 1h0m59-9h0m17 4h0m42-5h0m709 6h0m17-7h0m56 2h0m0 1h0m22 6h0m3 3h0m6-1h0m8-10h0m4 5h0m4 2h0m16-1h0m14-4h0m40-2h0m3 3h0m6 3h0m2 5h0m8-5h0m11-3h0m27-1h0m9 8h0m41-11h0m-46 18h0m-4-5h0m-38 1h0m0 1h0m-3 2h0m-34 6h0m-1 1h0m0-3h0m-1-5h0m-8 1h0m-2 7h0m-6-2h0m-26-10h0m-1 3h0m-1 1h0m-10-4h0m-15 0h0m-7 2h0m-5 5h0m-3-6h0m-22 0h0m-2 1h0m-3-1h0m-3 8h0m-4-3h0m-1 5h0m-11-6h0m-3 7h0m-11-1h0m-8-4h0m-13-4h0m-755-2h0m-15 2h0m-1-2h0m-52-1h0m-21 9h0m-26-1h0m-13-5h0m-3 4h0m-2-2h0m-34 3h0m-12-6h0m-2 6h0m-12-8h0m-2 9h0m-9-3h0m-3-5h0m-5 3h0m-45 8h0m13 10h0m8-8h0m10 6h0m29-2h0m1 1h0m16-3h0m1-4h0m3 7h0m12-7h0m6 7h0m20-3h0m17 3h0m95 1h0m770 0h0m43 2h0m1-6h0m1 1h0m8 4h0m18 1h0m16-7h0m13 0h0m66 1h0m24 8h0m5-7h0m10 7h0m11-6h0m5-4h0m9-1h0m19 2h0m15 3h0m-51 7h0m-1 11h0m0-9h0m-6 2h0m-2 4h0m-12 0h0m-1-4h0m-15 3h0m-9-6h0m-23 7h0m-19-4h0m-2 7h0m-35 0h0m-5-3h0m-7-3h0m-14-1h0m-31 0h0m-808 2h0m-14 0h0m-16 1h0m-10-7h0m-1 3h0m-19 6h0m-10-4h0m-6 2h0m-3 1h0m-10-8h0m0-1h0m-12 4h0m-1-4h0m-3 6h0m-15-4h0m-21 4h0m-16 1h0m-10-1h0m-10 5h0m-42-5h0m-12 1h0m24 15h0m22-7h0m11 9h0m39-12h0m22 7h0m25-3h0m13 6h0m9-2h0m0-3h0m7 0h0m38 2h0m801-5h0m9 8h0m8-10h0m20 1h0m3 1h0m0 5h0m6-3h0m15 7h0m2-10h0m5-1h0m38 3h0m21-2h0m14 11h0m20-1h0m38 0h0m19-3h0m6 4h0m-36 7h0m-39 2h0m-13-5h0m-7-2h0m-8 9h0m-14-7h0m-19 3h0m-3 5h0m-6-9h0m-10 5h0m-11-7h0m-15 5h0m-15-2h0m-1-3h0m-3 10h0m-10-2h0m-3-3h0m-814-5h0m-31 11h0m-29-6h0m-27 5h0m-5-3h0m-17-3h0m-32 4h0m-29-5h0m-9-4h0m-23 9h0m-2 9h0m11-1h0m25-3h0m13 1h0m3 8h0m5-2h0m3-2h0m35-2h0m21-1h0m2-1h0m19 3h0m39 3h0m17-8h0m835 3h0m9 2h0m0-1h0m12 0h0m5 3h0m8 0h0m1 2h0m18-5h0m12 6h0m0-8h0m7 7h0m5-8h0m4 3h0m42-1h0m11 0h0m24 1h0m2 3h0m-5 16h0m-19-11h0m-3 7h0m-1-3h0m-21 6h0m-10-8h0m-43 7h0m-1 1h0m-2-11h0m-69 0h0m-3 10h0m-18-9h0m-847 5h0m-12-1h0m-76 1h0m-6-4h0m-16-2h0m-12 3h0m-9 6h0m-19-7h0m0 14h0m4-1h0m10 5h0m1-1h0m0-6h0m23 3h0m13 6h0m3-5h0m2 4h0m30-2h0m31-6h0m11 0h0m44 1h0m12 0h0m15 2h0m785 8h0m14-8h0m64 6h0m0 0h0m4-4h0m10 3h0m12 3h0m5-10h0m15 7h0m2-8h0m6 9h0m21-8h0m42 5h0m10-6h0m-37 13h0m-34 8h0m-36 0h0m-68-1h0m-28-3h0m-793-3h0m-15 2h0m-25 1h0m-12-1h0m0 6h0m-33 0h0m-35-9h0m-7 10h0m-9-10h0m-32 8h0m-2-8h0m-15 7h0m-10 7h0m18 7h0m3-2h0m31 0h0m3 3h0m9-8h0m2 6h0m25-2h0m6-1h0m29 3h0m19-3h0m1 0h0m2 5h0m29-8h0m0 6h0m13-1h0m1-1h0m789-6h0m10 6h0m15-3h0m17 7h0m15-5h0m3-3h0m10 0h0m13 1h0m3-1h0m4-3h0m2 10h0m7-6h0m35-2h0m11 6h0m-10 5h0m-78 9h0m-54-4h0m-13 2h0m-808-3h0m-13 2h0m-3-4h0m-3-1h0m-36 2h0m-4-3h0m-23 7h0m-39-3h0m-8 4h0m-18-7h0m-18 2h0m14 15h0m15-4h0m24 2h0m12-2h0m14-2h0m52 0h0m5 4h0m2 4h0m841-4h0m18-5h0m11 4h0m3 2h0m40-4h0m-44 10h0m-1 4h0m-12 2h0m-905-7h0m-18 5h0m-36 2h0m-39 10h0m45-5h0m939 4h0m14 3h0"/>
<path stroke="#1f90ec" d="M512 1545h0m-64 19h0m85 20h0m-107-2h0m157 5h0m950 21h0m-1112 12h0m76-9h0m995 9h0m39-2h0m15 1h0m0-8h0m-6 18h0m-7-3h0m-4-3h0m-7-2h0m-2 10h0m-8-5h0m-43 2h0m-37-4h0m-910 2h0m-22-4h0m-7 3h0m-18 4h0m-3 1h0m-17 2h0m48 10h0m36-8h0m941 9h0m5-7h0m5-4h0m5 8h0m28-4h0m5-3h0m4 18h0m-3-5h0m-2 2h0m-14 7h0m-7-1h0m-12-8h0m-2 5h0m-1 1h0m-3-6h0m-14 9h0m-14-1h0m-17-3h0m-906-1h0m-1-5h0m-4 11h0m-4-3h0m-2-6h0m-8 2h0m-21-3h0m-6 8h0m-40-3h0m24 9h0m11 1h0m6 4h0m1-5h0m22 3h0m932 3h0m21-10h0m10 4h0m37-4h0m19 0h0m-8 24h0m-5-10h0m-13-1h0m-2 2h0m-10 4h0m-1-1h0m-20 1h0m-28-6h0m-966 9h0m-19 0h0m-4-6h0m-5 3h0m-8 6h0m2 5h0m11 1h0m14 0h0m6 4h0m5-11h0m1 8h0m33 4h0m11-2h0m904-8h0m5 0h0m24 5h0m3 5h0m45-12h0m9 9h0m1 2h0m8-10h0m-12 14h0m-14-1h0m-3 7h0m-2-8h0m-69 0h0m-916 10h0m-14-3h0m-9-7h0m-1 8h0m-3-8h0m-12 12h0m0 7h0m21 0h0m2 0h0m959-3h0m5 2h0m3-2h0m19 0h0m10 7h0m11-11h0m-61 11h0m22 23h0"/>
<path stroke="#1aa3e3" d="M1235 1463h0m-11 18h0m-1001 11h0m35 4h0m961 3h0m13-6h0m5-5h0m13 3h0m11 5h0m-19 11h0m-12 1h0m-2-5h0m-6-3h0m-1 9h0m-994 0h0m-3 3h0m-25 10h0m7 2h0m8-10h0m6 5h0m5 0h0m13-4h0m18-2h0m936-1h0m27 6h0m10 4h0m25-3h0m9-3h0m4 5h0m-70 14h0m-3-9h0m-25 1h0m-914 1h0m-67 8h0m-13-8h0m-25 16h0m20-4h0m7 4h0m29-3h0m9-2h0m3 9h0m929-3h0m24-7h0m6 2h0m21-1h0m14 6h0m7-6h0m11 0h0m15 2h0m5-4h0m-13 11h0m-2 6h0m-17 4h0m-1-8h0m-36 3h0m-7 2h0m-5-4h0m-2 5h0m-1-2h0m-923-3h0m-11 1h0m-6 8h0m-28-9h0m-20 1h0m-8 5h0m-1-7h0m10 12h0m5 4h0m6 1h0m8 1h0m4-4h0m22 0h0m8-4h0m951 12h0m7-7h0m20 3h0m5-2h0m14-3h0m17-3h0m-11 17h0m-10-3h0m-25 2h0m-6-3h0m-18 3h0m-1-1h0m-32 6h0m-5-6h0m-2 0h0m-926 6h0m-4-3h0m-5 1h0m-5 4h0m-17-6h0m-9 2h0m-3-2h0m-27 2h0m-11 8h0m24 7h0m6-7h0m33 6h0m9 3h0m12-7h0m17 0h0m0-2h0m3 4h0m0 3h0m0 0h0m920-6h0m10 3h0m5 3h0m9-9h0m18 1h0m10 3h0m20 7h0m-25 9h0m-18-5h0m-11 0h0m-19 7h0m-6-3h0m-922-4h0m-51-2h0m-2 9h0m-5-9h0m-25 16h0m21 2h0m4 3h0m2-9h0m7-2h0m2 6h0m26 3h0m5-6h0m16 1h0m891-1h0m12 0h0m11-3h0m1 8h0m1-4h0m26 4h0m9-4h0m5 7h0m45-3h0m3-2h0m-13 11h0m-8 1h0m-11-3h0m-983 7h0m-20-2h0m0-7h0m-27 2h0m-28 0h0m-6 11h0m52 0h0m7 3h0m24 3h0m917-3h0m9 2h0m3-7h0m23 5h0m24 4h0m15-9h0m9 4h0m-22 17h0m-29 1h0m-15-8h0m-16 5h0m-10-6h0m-923 3h0m-15-3h0m-12 14h0m19 6h0m16 1h0m4-4h0m915-5h0m26 5h0m5-2h0m9 1h0m3 4h0m18-2h0m14 1h0m13-7h0m-6 23h0m-10-2h0m-17-2h0m-25 3h0m-20-4h0m-925-2h0m-1-1h0m-3-1h0m-2 0h0m-4 1h0m-1 6h0m-11-1h0m-4 2h0m-27-4h0m-25 10h0m22-4h0m15 8h0m1 2h0m981-5h0m24 2h0m12-8h0m11 9h0m5-2h0m-11 11h0m-19 6h0m-8-1h0m-17-5h0m-5 0h0m-5 3h0m-930-3h0m-6 1h0m-9 1h0m-9-7h0m-12 3h0m-22 6h0m-8-8h0m-9 14h0m3 2h0m8 0h0m54-2h0m945 2h0m20 2h0m14-6h0m6 5h0m10 3h0m2 0h0m18 14h0m-39-2h0m-3 2h0m-2-7h0m-6-1h0m-13 2h0m-957-5h0m-26 19h0m21-4h0m9-4h0m945 7h0m1-1h0m70 6h0m-39 10h0m-1010 0h0m-8-6h0m-1 5h0m-5 9h0m5 3h0m7-3h0m20 0h0m971-1h0m19-2h0m4 9h0m21 2h0m-25 8h0m-986-1h0m-10 7h0m1 3h0"/>
<path stroke="#da4679" d="M1431 2214h0m18-4h0m1 2h0m2-2h0m3 1h0m3 1h0m9-1h0m35 11h0"/>
<path stroke="#16b35e" d="M661 2117h0m40-4h0m69 2h0m11 9h0m1028 6h0m-90 6h0m-45-7h0m-897 0h0m-1 6h0m-64-9h0m-23 7h0m-46 4h0m138 9h0m31-9h0m943 0h0m39 6h0m16 8h0m-4 5h0m-38-2h0m-25 4h0m-41-2h0m0 3h0m-52-1h0m-20-5h0m-819 6h0m-28-5h0m-12 2h0m-124-2h0m32 6h0m6 5h0m33 2h0m19-5h0m11 10h0m28-2h0m29-8h0m46 8h0m831-2h0m69 3h0m18 1h0m10-12h0m28 6h0m27-2h0m-59 18h0m-25-7h0m-96 9h0m-18-10h0m-783 8h0m-12 0h0m-41-1h0m-28 2h0m-41-7h0m-54 16h0m8-5h0m6-2h0m80 10h0m77-10h0m39 3h0m1-4h0m734 9h0m5-1h0m47 0h0m97-5h0m28 9h0m7-7h0m2-5h0m4 9h0m72-3h0m-82 6h0m-43 9h0m-45 3h0m-56-3h0m-33-9h0m-801 8h0m-1 3h0m-24-5h0m-66 5h0m-62-4h0m-12-3h0m-13 3h0m54 5h0m3 4h0m51 7h0m21-9h0m9 3h0m41 2h0m17-3h0m784 2h0m13-4h0m116 1h0m61 3h0m-97 6h0m-11 9h0m-17 1h0m-25 0h0m-889-6h0m-13 0h0m-93 7h0m81 5h0m3 3h0m37-6h0m1013 2h0m5 8h0m-19 2h0m-52 5h0m-86-3h0m-21 3h0m-19 3h0m-928-8h0m-54 8h0m-491 2h0m2 1h0m2 8h0m491-2h0m75 4h0m51 0h0m913-6h0m2 8h0m35-11h0m42 3h0m1 3h0m10-5h0m36 21h0m-12-11h0m-28 7h0m-16-3h0m-155 4h0m-811-7h0m-37 4h0m-83-1h0m-53 19h0m2-1h0m34-1h0m39-7h0m4 6h0m7 2h0m6-6h0m13 4h0m65-8h0m841 3h0m5 0h0m1 6h0m17 3h0m37-12h0m9 11h0m10-3h0m89-3h0m-21 17h0m-46-3h0m-10 0h0m-23-2h0m-74 3h0m-848-8h0m-11 2h0m-3 3h0m-29 0h0m-40 1h0m-33 2h0m-23-2h0m-8-5h0m-6 4h0m2 11h0m9 7h0m3-8h0m23 0h0m29 0h0m58 9h0m17-4h0m851-2h0m6-4h0m0 8h0m18 1h0m106 0h0m22 2h0m-21 7h0m-25-4h0m-26 6h0m-14 1h0m-24 0h0m-23-7h0m-3 7h0m-4-1h0m-26-10h0m-22 6h0m-48 3h0m-769-6h0m-6 5h0m-7-1h0m-32 1h0m-32 1h0m-30-5h0m-14 6h0m-2-1h0m-5 2h0m-4-9h0m-5 1h0m-2 2h0m0 1h0m-3 5h0m-3-1h0m-5 2h0m-10 0h0m-32 12h0m33 0h0m5-7h0m47 2h0m33 4h0m24 0h0m4-9h0m9 2h0m2 6h0m7 2h0m844-10h0m4 7h0m61 1h0m31-6h0m3 1h0m6 2h0m5 0h0m11 0h0m20-4h0m14 7h0m38 10h0m-46-3h0m-9-2h0m-3-3h0m-1 3h0m-3 8h0m-7 1h0m-24-1h0m-10 0h0m-10-9h0m-8-1h0m-1 3h0m-25-4h0m-54 10h0m-830-6h0m-17 7h0m-2-8h0m-16-1h0m-18 9h0m-14 0h0m-2-3h0m-5 3h0m-35-10h0m-9 8h0m-25-5h0m-54 19h0m59-9h0m13 3h0m13 0h0m14 7h0m1-5h0m21-5h0m5 9h0m9-5h0m17 0h0m0-5h0m11 0h0m4 10h0m9-7h0m31-4h0m810 10h0m23 0h0m2-10h0m3 1h0m22 8h0m5 2h0m14 0h0m9-1h0m8-5h0m46 1h0m4-2h0m16-3h0m2 9h0m3-1h0m6 2h0m27-9h0m-2 19h0m-50-7h0m-32 6h0m-14-3h0m-8 4h0m-41 3h0m-18-7h0m-10 6h0m-23-10h0m-35 11h0m-762-5h0m-26-1h0m-8-5h0m-11 0h0m-16 2h0m-12 2h0m-1 0h0m-3-3h0m-13 4h0m-51-4h0m-14 5h0m-7-4h0m-19 5h0m-9-2h0m-5 0h0m-38 13h0m4 1h0m0 1h0m36-7h0m6 7h0m12 1h0m1 2h0m11-4h0m39-6h0m10 8h0m70-3h0m6-7h0m819 2h0m6-2h0m1 2h0m39-2h0m4 10h0m15-3h0m8-1h0m4-2h0m6 1h0m2-5h0m10 3h0m39 2h0m7 2h0m1 2h0m12-2h0m26 1h0m5-4h0m6 1h0m0 11h0m-14 4h0m-13-3h0m-23 1h0m-23 3h0m-19 3h0m-8-1h0m-1-4h0m-26 4h0m-7-9h0m-2 2h0m-4-2h0m-13 6h0m-23-3h0m-3 0h0m-21 4h0m-6-8h0m-3 10h0m-1-8h0m-4 3h0m-795-3h0m-2 1h0m-21-2h0m-17 2h0m-60 5h0m-51 0h0m-21-1h0m-25-8h0m-2 3h0m-1 3h0m-15 3h0m-7-7h0m34 10h0m81 1h0m38 3h0m9 5h0m36-3h0m5 3h0m2 1h0m15 0h0m4-1h0m834-4h0m20 0h0m31 1h0m18-4h0m46 9h0m19-2h0m24-2h0m-18 15h0m-41-3h0m-24 0h0m-12-5h0m-18 7h0m-25-8h0m-31 5h0m-18 1h0m-5-3h0m-29 4h0m-14-3h0m-1-4h0m-9 6h0m-755 0h0m-7 3h0m-23-2h0m-17-4h0m-4-1h0m-27 7h0m-31-6h0m-6 1h0m-13-2h0m-1-1h0m-8 8h0m-3 1h0m-1-9h0m-24-2h0m-23 11h0m-14-9h0m-10 20h0m24-5h0m7 4h0m24-4h0m1 6h0m33-9h0m7 3h0m24 0h0m21-2h0m40 6h0m12-7h0m774 3h0m6-1h0m44 3h0m4-5h0m5-1h0m32 1h0m28 7h0m2 0h0m21 3h0m3-2h0m3-10h0m36 8h0m30-1h0m3-2h0m-41 19h0m0-2h0m-8-1h0m-1-1h0m-5-1h0m-13 3h0m-9-2h0m-20 2h0m-5-2h0m0-3h0m-14-2h0m-9 2h0m0 3h0m-5 3h0m-11 0h0m-37-2h0m-57-8h0m-15 10h0m-737-4h0m-24-4h0m-7 6h0m-18-1h0m-15-6h0m-29 4h0m-26-6h0m-25 5h0m-6-5h0m-100 8h0m-8 4h0m59 8h0m33-5h0m8 2h0m52 0h0m2 2h0m0-6h0m0 3h0m4-1h0m1 3h0m9 1h0m10 2h0m3-5h0m6-3h0m4 10h0m3-10h0m3 6h0m12-1h0m2-2h0m3 4h0m11-7h0m6 4h0m2 0h0m15-3h0m765 10h0m58-11h0m1 8h0m31 2h0m58-6h0m5-3h0m5-1h0m26 10h0m18-8h0m-57 12h0m-16-1h0m-10-1h0m-13 1h0m-10-1h0m-6 0h0m-5 9h0m-2 1h0m-2-2h0m-4-3h0m0-5h0m-18 5h0m0 2h0m0 2h0m-12-2h0m-14-1h0m-3-2h0m-16 7h0m-4-7h0m-18 6h0m-7-7h0m-7 2h0m-1-4h0m-766 1h0m-20-3h0m-14 3h0m-12 0h0m-12 1h0m-2 5h0m-5-3h0m-9 2h0m-17-3h0m-9 0h0m-2-2h0m-16 3h0m-2-5h0m-6 7h0m-8-7h0m-4 9h0m0-4h0m-28 1h0m-29-2h0m-32 19h0m17-6h0m4 2h0m3-4h0m9-3h0m9 9h0m3-6h0m40-1h0m18 4h0m3 4h0m34-9h0m2-2h0m832 10h0m41-1h0m8-3h0m6-2h0m32-1h0m5 4h0m8-2h0m115-2h0m-100 12h0m-46 4h0m-12-3h0m-18 8h0m-11-2h0m-902-5h0m-14-2h0m-1 1h0m-1 6h0m-5-7h0m0 3h0m-7 0h0m-2 3h0m-19-7h0m-7 2h0m-19 1h0m-6 5h0m-15-1h0m-12-4h0m17 9h0m7 0h0m0 4h0m7-6h0m10 4h0m6 4h0m12-3h0m4 2h0m6 3h0m7-10h0m1 1h0m23 6h0m915-7h0m2 4h0m37-4h0m-954 22h0m-40-7h0m-2 2h0"/>
<path stroke="#14ad88" d="M897 1926h0m996-2h0m53 4h0m-8 12h0m-4-5h0m-23 2h0m-11 3h0m-1 1h0m0-2h0m-1 2h0m-18 0h0m-884-2h0m-27 2h0m-7 0h0m-11-8h0m0 6h0m-17 2h0m-27-9h0m-15 9h0m-20 6h0m7 8h0m6-1h0m3-8h0m1 2h0m52 5h0m936-3h0m61-5h0m7 6h0m23 4h0m1-6h0m4-2h0m8 9h0m17 2h0m-79-1h0m-31 0h0m-875 2h0m-9 8h0m-11-2h0m-15-6h0m-5 8h0m-4-7h0m-3-3h0m-13 10h0m-18-5h0m-30 3h0m-23-2h0m-10-3h0m60 14h0m26-3h0m8-3h0m35 3h0m883-3h0m29 6h0m4 2h0m76 1h0m-1 13h0m-67 0h0m-2-4h0m-41-3h0m-13 5h0m-858-5h0m-8 7h0m-3-2h0m-18-8h0m0 8h0m-2-2h0m-11 2h0m-36 1h0m-21-3h0m-7 3h0m-17-4h0m-31 19h0m7-10h0m18 5h0m53-1h0m6 2h0m2-5h0m23 2h0m15-1h0m19 2h0m886 4h0m12-9h0m7 1h0m18 4h0m17-4h0m18 8h0m20-8h0m12 2h0m1 9h0m-7 8h0m-10-1h0m-47-1h0m-15 4h0m-4-9h0m-3 9h0m-2-7h0m-15 3h0m-29-2h0m-24 5h0m-874-9h0m-38-1h0m-35 2h0m-20 2h0m-23 19h0m22-3h0m4-4h0m6 1h0m8-2h0m29-1h0m17 7h0m19 1h0m14-8h0m3 0h0m14-1h0m4 4h0m39 2h0m822 4h0m4 0h0m0-1h0m12-7h0m7-3h0m6 9h0m7-7h0m10 9h0m8-5h0m69 3h0m36 1h0m4 9h0m-30-3h0m-1 8h0m0-5h0m-4-4h0m-11 6h0m-3-6h0m-20-2h0m-12 8h0m-6-8h0m-6 9h0m-5-10h0m-7 5h0m-34-5h0m-17 4h0m-2 2h0m-15 2h0m-10 1h0m-2 3h0m-843-10h0m-1 4h0m-41-5h0m-15 11h0m-3-9h0m-17 5h0m-29-2h0m-10-3h0m-9 9h0m-1-3h0m-1-6h0m7 14h0m12 1h0m14-6h0m40 4h0m11 2h0m2 2h0m21-3h0m5 3h0m1 0h0m7-5h0m18 6h0m7-1h0m7-4h0m815-3h0m30 3h0m4-2h0m7 8h0m38-9h0m24 2h0m2 6h0m5 2h0m2-1h0m17-2h0m11-3h0m33 4h0m2 14h0m-8-8h0m-28 5h0m-2-7h0m-4-1h0m-4 7h0m-8 2h0m-13-2h0m-10 1h0m-10 2h0m-11-8h0m-10 10h0m-4-8h0m-32-3h0m-2 8h0m-11 1h0m-24-8h0m-814 2h0m-22 2h0m-20 6h0m-60 0h0m-7-8h0m0-3h0m-32 4h0m-10 4h0m-18 8h0m8-1h0m2-4h0m5 10h0m78 0h0m5-5h0m6 5h0m12-6h0m22 8h0m5-8h0m21-3h0m815 2h0m20 0h0m11-2h0m8 10h0m7-7h0m11 6h0m3-7h0m11 8h0m26-9h0m18 3h0m33 2h0m20-6h0m12 8h0m-6 12h0m-4 3h0m-12-10h0m-10 2h0m-3 4h0m-14 4h0m-3-4h0m-12 2h0m-11 2h0m-2-2h0m-1-3h0m-12 1h0m-2-3h0m-14 0h0m-8-2h0m-11 7h0m-6-9h0m-11 6h0m-12 1h0m-7 4h0m-10-12h0m-827 5h0m-6-4h0m-20-1h0m-42 7h0m0 3h0m-60-3h0m1 8h0m19 0h0m25 8h0m1-10h0m15 4h0m14 1h0m8-5h0m1 7h0m2-1h0m19-7h0m837 3h0m8 7h0m2-1h0m20-7h0m14 1h0m17 2h0m9 7h0m13-8h0m16 1h0m17 0h0m3 1h0m3 5h0m12 1h0m1-2h0m13-1h0m8-7h0m3 7h0m22-2h0m2 2h0m-7 5h0m-10 2h0m-1 3h0m-26-4h0m-1-1h0m-6 7h0m-2-9h0m-13 11h0m-20-7h0m0 8h0m-9-8h0m-25-3h0m-29 11h0m-8-10h0m-7 10h0m-8 0h0m-2-11h0m-7 1h0m-825 1h0m-3 8h0m-21-3h0m-12-1h0m-50 2h0m-33-4h0m-2 6h0m-3-8h0m-26 8h0m0 8h0m45 2h0m3-3h0m52 4h0m28 0h0m3 0h0m911-1h0m1-4h0m2-4h0m10 0h0m28 9h0m33-5h0m34-3h0m3 2h0m1 11h0m-52-3h0m-7 11h0m-49-11h0m-28 9h0m-21-1h0m-849-5h0m-11 3h0m-32 2h0m-5-1h0m-45 1h0m-53 6h0m5 3h0m54-2h0m6 0h0m6 9h0m2-12h0m5 5h0m9 6h0m3-1h0m7 1h0m21-5h0m868 2h0m0-3h0m31-2h0m7 6h0m13-2h0m20 0h0m11-7h0m42 1h0m-10 18h0m-6-2h0m-12 7h0m-29-4h0m0-4h0m-4-3h0m-3 9h0m-16-6h0m-1 4h0m-28-1h0m-5-1h0m-3 2h0m-856-2h0m-9 1h0m-18-2h0m-53 3h0m-3-8h0m-26 12h0m-3-8h0m17 19h0m6-10h0m20 4h0m11 3h0m6-7h0m8 9h0m945-7h0m13-1h0m4 0h0m3 3h0m9-3h0m6 1h0m2 8h0m2-11h0m30 12h0m18 7h0m-32-4h0m-9-3h0m-50 4h0m-923-1h0m-2 7h0m-43-1h0m-29-8h0m999 14h0m21 1h0"/>
<path stroke="#16b9c8" d="M1691 1793h0m-1107 15h0m34-7h0m1 9h0m112-10h0m3 3h0m16-2h0m902 8h0m46 1h0m17 1h0m0-2h0m-61 3h0m-948 8h0m-1-5h0m-18 4h0m31 5h0m2 5h0m7 5h0m3-9h0m14 11h0m923 0h0m22-7h0m20-4h0m0 1h0m8 10h0m6-10h0m18 0h0m1 0h0m-22 15h0m-1-2h0m-12 1h0m-29-4h0m-12 9h0m-2-8h0m0 4h0m-8-2h0m-881-2h0m-10 1h0m-4 2h0m-3 3h0m-129 2h0m-35 14h0m30-4h0m30-4h0m33 8h0m75-1h0m3-5h0m870-1h0m33 3h0m24 4h0m13-7h0m4 5h0m24 0h0m7-6h0m22 8h0m1-11h0m-1 15h0m-7 1h0m-49-1h0m-10 8h0m-26-2h0m-3-9h0m-7 11h0m-896-3h0m-11-3h0m-5 3h0m-121 8h0m18 6h0m109-3h0m884-1h0m53-3h0m27-1h0m6 1h0m12 0h0m1 9h0m8-2h0m8-3h0m27-6h0m9 8h0m-14 3h0m-5 5h0m-2 4h0m-18-6h0m-8 7h0m-13 0h0m-13-10h0m-32 10h0m-2-7h0m-11 1h0m-14-3h0m-13-1h0m0 7h0m-853 0h0m-20 2h0m-14-6h0m-5 8h0m0-10h0m-2 2h0m-52 2h0m-82-1h0m1 9h0m82 2h0m45 5h0m15-5h0m7 4h0m882 1h0m3-5h0m11 4h0m41 5h0m20-6h0m0-5h0m13 7h0m9-3h0m13 8h0m-27 2h0m-38 4h0m-10-6h0m-4 5h0m-32-4h0m-6 8h0m-859 0h0m-9-2h0m-13 1h0m-2-3h0m-4-5h0m-1 8h0m-2-5h0m-20 7h0m-10-8h0m-45-1h0m-27 9h0m-5-6h0m-6-2h0m-18 4h0m-28-6h0m0 22h0m148-9h0m25 9h0m4 1h0m13-3h0m10-8h0m825 5h0m29 1h0m17-5h0m1 8h0m4-1h0m62 0h0m7-2h0m6-5h0m19-2h0m25 6h0m-59 12h0m-1 1h0m-21-5h0m-4 2h0m-11 1h0m-7-1h0m-19 8h0m-3-11h0m-6 1h0m-29 8h0m-827-2h0m0 1h0m-20-1h0m-7-5h0m-18-3h0m-3 8h0m-25 0h0m-36 4h0m46 8h0m16 1h0m23 0h0m10-4h0m853 1h0m2-4h0m4 7h0m6-1h0m15-2h0m7 2h0m5-5h0m0 0h0m43 1h0m46-2h0m11 10h0m42 0h0m-34 1h0m-2 4h0m-6 0h0m-22-5h0m-7 11h0m-5-2h0m-18 0h0m-21-8h0m-4 6h0m-1-3h0m-2-3h0m-23-1h0m-948 9h0m-41-8h0m-19 0h0m-38 5h0m-22-4h0m24 10h0m3 10h0m6-1h0m81-7h0m17 8h0m19-3h0m6 4h0m10-3h0m14-1h0m838 4h0m22-8h0m12 2h0m30 6h0m11 0h0m7-4h0m20-1h0m6-5h0m14 3h0m9-4h0m26 16h0m-9 4h0m-47-7h0m-2 2h0m-10 8h0m-55-9h0m-14 5h0m-865-3h0m-33 7h0m-1-9h0m-4 7h0m-7-4h0m-17-4h0m-15 7h0m-69 15h0m4-3h0m76-7h0m26 8h0m10 2h0m3-8h0m12 8h0m0-5h0m882 5h0m10-7h0m86 3h0m29-3h0m-67 14h0m-9-2h0m-4 1h0m-3 1h0m-12 2h0m-18-6h0m-899 8h0m-37-7h0m-18 4h0m-7-1h0m-72-2h0m-18 8h0m-5-2h0m9 12h0m7-1h0m21-1h0m9-7h0m3 0h0m1 9h0m6-6h0m25 3h0m10-5h0m971 8h0m38 1h0m16-3h0m7-1h0m17 0h0m10 0h0m-1 12h0m-16 3h0m-2-7h0m-24-2h0m0 6h0m-16 1h0m-2-4h0m-23-2h0m-8 6h0m-3 0h0m-21-6h0m-19 0h0m-910-1h0m-11 10h0m-7-1h0m-9-10h0m-3 6h0m-3 2h0m-44 16h0m4-11h0m50-1h0m2 8h0m29-3h0m12-2h0m9 2h0m6 5h0m892 0h0m12 1h0m7-5h0m29 1h0m3 1h0m6-6h0m13 4h0m0-4h0m26 0h0m6 3h0m-50 9h0m-16 10h0m-9-9h0m-7 2h0m-926-4h0m-16 8h0m-5-4h0m-9-2h0m-4 4h0m-12 2h0m-11-6h0m-31 0h0m-7 4h0m6 10h0m0-1h0m4-3h0m3 9h0m5 1h0m18-7h0m29 5h0m5-8h0m5 8h0m9 3h0m8-9h0m944 7h0m19-5h0m51 2h0m-20 11h0m-7 0h0m-6 3h0m-13-7h0m-3 0h0m-20 9h0m-6-3h0m-950-5h0m-18-1h0m-37 7h0m-21-6h0m-3 2h0m-3 5h0m22 10h0m18-3h0m3 3h0m28-5h0m929-1h0m11 10h0m29-11h0m24 1h0m2 1h0m15 3h0m15 6h0m6 1h0m-30 4h0m-34 7h0m-4-1h0m-5 2h0m33 8h0m20 5h0m-1051 2h0"/>
<path stroke="#8d7ef2" d="M1584 1595h0m-8 2h0m-987 10h0m1010 29h0m-2 19h0m-1027 4h0m56 7h0m-69 25h0m48 0h0m10 1h0m1-6h0m989 3h0m3-3h0m43 14h0m-11-5h0m-24 4h0m-16 3h0m-16-6h0m-7 0h0m-894 6h0m-16-4h0m-8 2h0m-4 3h0m-19-10h0m-34 18h0m1-4h0m30 5h0m7-6h0m23 5h0m8-3h0m22 3h0m901-3h0m0-3h0m25 9h0m4 0h0m10 0h0m8 2h0m29-4h0m43 15h0m-15-6h0m-6 5h0m-9 1h0m-10-6h0m-2 3h0m-2-4h0m-20 1h0m0-1h0m-6 3h0m-22 2h0m-13-8h0m-909 3h0m-41 3h0m-6 1h0m-29-2h0m-2 3h0m-19 0h0m7 14h0m15-6h0m38 4h0m34 1h0m10-4h0m900-3h0m4 7h0m6-7h0m13 9h0m3-3h0m23 0h0m10-5h0m16 6h0m5-6h0m10 20h0m-26-5h0m-15-3h0m-16 0h0m-12 3h0m-22 0h0m-927 1h0m-27-3h0m-26-3h0m-3-1h0m-15 0h0m6 15h0m12 8h0m52-1h0m27-3h0m925 1h0m1-8h0m30 3h0m29 7h0m8-1h0m12-9h0m6 9h0m25-5h0m-19 15h0m-3 3h0m-55-7h0m-11-3h0m-4 8h0m-16-6h0m-922 5h0m-6 4h0m-2-11h0m-9 0h0m-58 10h0m-7-6h0m-10 11h0m75 6h0m25-2h0m22-7h0m5 7h0m933-4h0m8-3h0m8 6h0m4 3h0m11-3h0m36-5h0m-995 12h0m-28 6h0m-20-1h0m0-1h0m-17-1h0m-8 6h0m-9-9h0m28 24h0m-2 5h0m-257 397h0m35 0h0m936 21h0m-1 16h0m-939 17h0"/>
<path stroke="#d57cf2" d="M1595 1420h0m-4 17h0m-995-4h0m-6 2h0m-2 4h0m-23 13h0m24-8h0m896 7h0m30-3h0m77-1h0m7 4h0m1-2h0m3 0h0m1 4h0m-15 10h0m-8-7h0m-1 7h0m-62-5h0m-32-4h0m-865 10h0m-3-6h0m-48 3h0m-15 0h0m-7-7h0m-6 2h0m-34 10h0m27 7h0m28-2h0m22 3h0m18-3h0m902-6h0m3 0h0m35 8h0m27 3h0m16-5h0m3 3h0m2-8h0m15 1h0m-16 17h0m-15 4h0m-86-7h0m-894 0h0m-29-4h0m-27 0h0m-49 16h0m63-2h0m5 3h0m7-4h0m6 5h0m951-6h0m81 6h0m-13 16h0m-25 1h0m-5-6h0m-14-4h0m-9-1h0m-960-1h0m-6 6h0m-34-6h0m-5 5h0m-4 3h0m-41-3h0m-11-4h0m52 15h0m6 4h0m956-6h0m24 1h0m9 7h0m71-3h0m-65 13h0m-1 4h0m-25-2h0m-924-7h0m-29 0h0m-14 4h0m-21 5h0m-1 5h0m24 0h0m43 1h0m973 12h0m-52 3h0m-982 3h0m1047 16h0m-7 16h0"/>
<path stroke="#ec52cd" d="M909 1811h0m1012 7h0m-996-1h0m-27 2h0m-1 12h0m15 5h0m4-9h0m968 0h0m5 8h0m7-9h0m18 3h0m25 14h0m-11-7h0m-6 10h0m-8-4h0m-22-2h0m0-3h0m-979 6h0m-7 4h0m-18-8h0m7 11h0m26 3h0m8-2h0m13 6h0m12-2h0m14 4h0m15-5h0m2-2h0m901 4h0m6-3h0m1 7h0m3-7h0m17-1h0m15 4h0m11-4h0m22 6h0m14 2h0m-7 10h0m-6 1h0m-23-11h0m0 10h0m-3-3h0m-9-5h0m-17-1h0m-5 5h0m-15 2h0m-15-1h0m-878-5h0m-7 1h0m-12 2h0m-1-3h0m-10 7h0m-43-2h0m-13 7h0m22-1h0m28 0h0m3 0h0m6 3h0m3-1h0m2 8h0m2-7h0m4 3h0m4-4h0m2 5h0m929-7h0m1 2h0m18 0h0m18 8h0m1 0h0m14-3h0m18-6h0m-9 13h0m-2-2h0m-12 5h0m-12-5h0m-1 4h0m-16 6h0m-17-3h0m-23-1h0m-2 3h0m-8-8h0m-909 3h0m-6-1h0m-7 0h0m-10-2h0m-8 9h0m-40 8h0m7-4h0m7 3h0m23-1h0m21 6h0m24-5h0m924-5h0m3 10h0m26-10h0m7 4h0m4-4h0m4-1h0m26 7h0m8-1h0m-32 11h0m-35-4h0m-31 8h0m-16-7h0m-887 8h0m-7-1h0m-11-7h0m-7 5h0m-3-4h0m-21 17h0m966-4h0m7 2h0m12-1h0m33 5h0m31-9h0m-1002 12h0"/>
<path stroke="#cc9b06" d="M1253 2279h0m-963 13h0m33-6h0m874-3h0m126 17h0m-20-1h0m-1 5h0m-91-4h0m-944-5h0m-25 8h0m-59-5h0m-24 6h0m30 8h0m21-1h0m5-1h0m1 6h0m12-5h0m124 0h0m19 3h0m830-9h0m89 3h0m61 7h0m39 12h0m-26-8h0m-22 7h0m-21-8h0m-22 2h0m-69 1h0m-917 1h0m-76 5h0m-10 8h0m76-4h0m9 2h0m2 7h0m57-3h0m6-1h0m23-5h0m12 3h0m6 5h0m758-2h0m2-6h0m10 8h0m22 0h0m10-4h0m5 5h0m8-4h0m53 2h0m6-10h0m8 7h0m17-4h0m21 3h0m1 4h0m23-2h0m21 8h0m-2 4h0m-127 2h0m-11-4h0m-6-2h0m-14 7h0m-16-2h0m-10-4h0m-14-4h0m-792 7h0m-2-3h0m-6-5h0m-2 1h0m-16 8h0m-4-3h0m-32-1h0m-2-4h0m-6 6h0m-7 4h0m-1-3h0m-15-2h0m-36 3h0m-8-4h0m-67 1h0m-2 16h0m21-3h0m2-1h0m12 4h0m7-5h0m3 4h0m7-5h0m8 2h0m31-4h0m14 7h0m2-2h0m29 2h0m19-8h0m1 7h0m10 0h0m6-3h0m12 1h0m13-3h0m44-1h0m766 1h0m0 6h0m18 3h0m9-10h0m4 6h0m24-2h0m10 4h0m15 0h0m16-8h0m14 8h0m1-7h0m9-2h0m28 5h0m12-1h0m11 0h0m2 3h0m19 1h0m18-8h0m14 11h0m-25 6h0m-10-2h0m-19 5h0m-28 2h0m-5-1h0m-7-5h0m-49 0h0m-1 3h0m-4 2h0m-9-4h0m-4 0h0m-2 0h0m-2 3h0m-21-8h0m-9 2h0m-4 5h0m-8-3h0m-3-1h0m-1-1h0m-10 4h0m-2 2h0m-13-4h0m-2 7h0m-8-2h0m-4-3h0m-768-4h0m-4 8h0m-11-1h0m-26 1h0m-7 0h0m-16-4h0m-56 0h0m-8-3h0m-11 8h0m-1-3h0m-25-1h0m0-2h0m-36-1h0m-4-1h0m-22-1h0m0 20h0m5-9h0m38 5h0m29-2h0m3 7h0m8-2h0m8 1h0m16-1h0m32 0h0m4-5h0m23-4h0m1 8h0m0-2h0m28-4h0m5 3h0m6 5h0m7-1h0m10-4h0m8-2h0m9 8h0m4-1h0m5-10h0m1 8h0m753-3h0m3-2h0m4 4h0m3-3h0m25 1h0m21 4h0m9 2h0m3 0h0m2-6h0m42 3h0m4-8h0m1 4h0m25-5h0m14 2h0m21 5h0m41 4h0m23-6h0m19 11h0m-19 5h0m-6-6h0m-17 5h0m-8 4h0m-1-1h0m-4-3h0m-27 4h0m-22-4h0m-2 4h0m-50-6h0m-4-4h0m-51 4h0m-37-3h0m-1 2h0m-743-1h0m-42 3h0m-4-5h0m-3 0h0m-20 3h0m-3-3h0m-7 4h0m-32-6h0m-13 4h0m-1 5h0m-4-7h0m-4 8h0m-3-9h0m-4 5h0m-8-6h0m-18 4h0m-10 6h0m-15-9h0m-19 9h0m-4 0h0m-6-7h0m-12 8h0m3 6h0m3 1h0m7 2h0m12-7h0m1 3h0m31-1h0m26 5h0m11-2h0m25-3h0m7 2h0m18-3h0m6 8h0m12 1h0m4-6h0m18-3h0m31 2h0m9 4h0m745 1h0m15-1h0m1-4h0m6 2h0m2-5h0m33 6h0m3-3h0m12-1h0m17 5h0m2-8h0m33 0h0m17 3h0m4 0h0m11 9h0m4-11h0m41 1h0m8 0h0m1 6h0m5-7h0m26-1h0m10 5h0m9 3h0m-34 13h0m-20-5h0m-1 7h0m-8-10h0m-25 2h0m-11 3h0m-2 6h0m-12-12h0m-1 8h0m-26-7h0m-12 2h0m0-2h0m-8 3h0m0 6h0m-20-9h0m-77 3h0m-756 7h0m-27-10h0m-26 3h0m-10-1h0m-1-2h0m-17 4h0m-30 0h0m-7-4h0m-15 5h0m-1-1h0m-18-2h0m-13 9h0m-1-5h0m-7-3h0m-17-4h0m-2 9h0m-3-7h0m-28 8h0m-2-4h0m-10 4h0m5 8h0m2-1h0m6-2h0m7 4h0m19 2h0m21-1h0m24 1h0m2-8h0m19 6h0m22-2h0m17 6h0m5-9h0m11-1h0m5 3h0m6 7h0m16-7h0m6 3h0m5 3h0m0 1h0m24-3h0m8-2h0m3-1h0m762 0h0m12 1h0m6 1h0m11-1h0m17-4h0m2 7h0m2-8h0m7 9h0m1-6h0m3 1h0m45-3h0m20 5h0m3 1h0m20-3h0m7 0h0m23 0h0m3 5h0m27-7h0m8 0h0m6 2h0m14 5h0m5 12h0m-13-4h0m-6 5h0m-9 1h0m-11-8h0m-5 8h0m-7-8h0m-5 6h0m-1-5h0m-11 4h0m-9-2h0m-5-5h0m-44 5h0m-2-6h0m-4 8h0m-7-7h0m-1 10h0m-2-11h0m-16 6h0m-5-3h0m-9 0h0m-8 4h0m-55-4h0m-8 0h0m-2 5h0m-767 1h0m-12 1h0m-1-1h0m-14-2h0m-51 0h0m-8-7h0m-6 2h0m-13 0h0m-1-1h0m-14 0h0m-21 1h0m-32-3h0m-9 7h0m-1 2h0m-1 3h0m-35 6h0m66-4h0m2 3h0m16-4h0m15 4h0m16-3h0m11 0h0m8 9h0m37-3h0m35-3h0m6 7h0m7-4h0m5-3h0m3-2h0m769 3h0m24-5h0m1 5h0m27 5h0m7-4h0m33-3h0m2 0h0m2 0h0m0-3h0m17 3h0m27 8h0m14-4h0m6 0h0m13-6h0m10 4h0m8 0h0m2 1h0m0-6h0m1 4h0m30 2h0m5-3h0m4 8h0m1 0h0m-7 10h0m-6 0h0m-15-2h0m-25-4h0m-19 4h0m-5-2h0m-4-3h0m-2 7h0m-13 1h0m-1-3h0m-12-5h0m-18 2h0m-9 6h0m-1-9h0m-25 2h0m-13 5h0m-57-5h0m-760 3h0m-33-6h0m-6 6h0m-67 0h0m-42-4h0m-1 3h0m-17 5h0m-62-8h0m1 17h0m0 4h0m18-7h0m6-1h0m15 6h0m12-3h0m7-6h0m5 5h0m37-2h0m5 4h0m6-5h0m5-2h0m12 3h0m0 4h0m19 2h0m5-8h0m7 4h0m8-3h0m27 5h0m802 2h0m18-9h0m21 4h0m14 0h0m12 5h0m5 2h0m20-3h0m40-8h0m15 4h0m2 2h0m5 1h0m1-6h0m20 6h0m28 2h0m11 0h0m1-7h0m-11 15h0m0 3h0m-31 0h0m-7-5h0m-2-2h0m-11 2h0m-14 3h0m-1-5h0m0 9h0m-8-3h0m-14 0h0m-4-3h0m-5 4h0m-38-3h0m-31 2h0m-22-2h0m-6-4h0m-794 9h0m-8-2h0m-23-6h0m-1 3h0m-10-2h0m-30 5h0m-1-3h0m-6 4h0m-1-9h0m-30 8h0m-52-9h0m-34 8h0m-22-6h0m95 13h0m51 0h0m1 6h0m9-9h0m22 1h0m2 11h0m5-3h0m2-3h0m1-5h0m16 4h0m4 4h0m823-7h0m3 2h0m13-4h0m1 1h0m3 9h0m1-4h0m5 1h0m14 5h0m32-6h0m6-4h0m3 5h0m29 0h0m24-6h0m6 5h0m34-3h0m-10 15h0m-3 3h0m-24-7h0m0 1h0m-1 2h0m-39 7h0m-29-4h0m-5 0h0m-27 0h0m-886-7h0m-37 4h0m-24 4h0m-7 0h0m-1 2h0m-3-1h0m-13-3h0m-1-5h0m-9 0h0m-11 8h0m-5-4h0m0 5h0m-4-2h0m-30-1h0m-4-2h0m-9-5h0m-1 0h0m29 19h0m8-7h0m26 9h0m3-6h0m32 1h0m12-2h0m6 2h0m10 0h0m4 5h0m879-8h0m12 7h0m14 0h0m6-4h0m2-3h0m43 1h0m21-2h0m3 0h0m3 2h0m1 1h0m32-1h0m0 18h0m-7 3h0m-15-5h0m-8-6h0m-12 4h0m-3-1h0m-1 3h0m0-7h0m-46 2h0m-8 8h0m-8-5h0m0 6h0m-2-10h0m-9 6h0m-22-4h0m-861 0h0m0 6h0m-20-3h0m-3 1h0m-25-6h0m-21 23h0m16-12h0m23 7h0m1-5h0m943 6h0m10-6h0m3 3h0m54 6h0"/>
<path stroke="#9dac08" d="M196 1995h0m1008 19h0m-932 0h0m-52 1h0m-24-11h0m-10 5h0m998 9h0m38 0h0m12 14h0m-2 4h0m-15-7h0m-5 2h0m-9 5h0m-16 0h0m-2 0h0m-872-3h0m-6-1h0m-105 17h0m6-8h0m979 6h0m5-6h0m1 2h0m10 0h0m2 8h0m21-2h0m2 0h0m4-3h0m5 2h0m42 1h0m-3 8h0m-5 7h0m-20-5h0m-31-4h0m-10 2h0m-33-1h0m-1-2h0m-879 1h0m-69 5h0m-1-5h0m-11 2h0m-8 2h0m-21-6h0m-1 19h0m7-1h0m11-2h0m0 2h0m72 3h0m929-9h0m14 3h0m2 3h0m26-6h0m32 20h0m-14-6h0m-23 0h0m-5 4h0m-16 3h0m-2-5h0m-22 3h0m0-6h0m-14 0h0m-9 3h0m-818 2h0m-1-2h0m-90 10h0m115 3h0m804 5h0m8-8h0m41 6h0m36-4h0m2-5h0m9 3h0m5 3h0m-25 16h0m-1-5h0m-9 1h0m-8 5h0m-5-6h0m-2 1h0m-5-1h0m-11-1h0m-8-4h0m-3 12h0m-3-8h0m-16 6h0m-873 0h0m0 1h0m-1-6h0m-28-5h0m-46 9h0m-4 1h0m-13 1h0m-10 7h0m90 0h0m21-3h0m5 3h0m34-2h0m812 6h0m16-4h0m6-5h0m53 10h0m0-3h0m36-1h0m3 12h0m-14 3h0m-6-4h0m-2-4h0m-52 0h0m-6 7h0m-1-5h0m-26 2h0m-17 4h0m-906-8h0m-62 8h0m8 7h0m6-2h0m19 1h0m54 2h0m33 5h0m842-3h0m3 2h0m35 1h0m60-3h0m2-3h0m12-2h0m20 5h0m0-5h0m11 9h0m16-6h0m1 5h0m41-7h0m10-3h0m12 4h0m-22 12h0m-4 4h0m-38-7h0m-9 4h0m-2 4h0m-2-8h0m-1 9h0m-1-5h0m-13-3h0m-15 7h0m-2 0h0m-8-5h0m-24-2h0m-20 7h0m-2-8h0m-16 5h0m-12-5h0m-2-1h0m-8 10h0m-3-1h0m-4-9h0m0 6h0m-4-5h0m-807 7h0m-3-3h0m-31 2h0m-11-4h0m-1-2h0m-27-2h0m-2 5h0m-21 7h0m-7-6h0m-11-3h0m-24 8h0m-3-1h0m-33-3h0m-2 1h0m-10-7h0m-4 4h0m-12 3h0m3 5h0m37 1h0m13 5h0m5-7h0m36 9h0m19 2h0m27-1h0m42-8h0m815 3h0m40 0h0m5 0h0m59 3h0m4 3h0m18-9h0m1 6h0m9 3h0m9-2h0m1 2h0m0-4h0m38-6h0m0-1h0m9 8h0m0-7h0m2 8h0m5 12h0m-3-1h0m-22 2h0m-29-2h0m-31-3h0m-5 0h0m-6-1h0m-25-1h0m-2 2h0m-18-4h0m-7 7h0m-15 2h0m-8-4h0m-28-3h0m-23 3h0m-818-1h0m-20 2h0m-17 1h0m-23 3h0m-16-9h0m-4 2h0m-19-3h0m-6 4h0m-4 5h0m-8-8h0m-5 6h0m-10-6h0m-8 6h0m-41 12h0m22-3h0m4 7h0m7-8h0m32 2h0m20 1h0m5-4h0m65-2h0m7 2h0m3 0h0m8 7h0m848 0h0m13-7h0m5 5h0m20-1h0m6-4h0m4-1h0m19 3h0m16-3h0m2 1h0m2 9h0m2 0h0m12-2h0m36-7h0m9-1h0m22 6h0m13-1h0m14-3h0m-16 18h0m-16-9h0m-11 4h0m-41 1h0m-4-3h0m-8 5h0m-3-5h0m-9 8h0m-5-3h0m-6-7h0m-18 0h0m-27 11h0m-23-6h0m-11 0h0m-817-3h0m-5 7h0m-8-7h0m-21 1h0m-24 2h0m-57 4h0m-7-4h0m-4-4h0m-10 2h0m-7 5h0m-28-3h0m-6-5h0m-14 8h0m-4 1h0m5 5h0m13 4h0m2 1h0m65-2h0m6-3h0m0-3h0m18 1h0m8-1h0m8 4h0m28 5h0m14-9h0m3 9h0m1-5h0m29 4h0m823 3h0m6-6h0m25 2h0m1 0h0m41 0h0m14 5h0m1 0h0m43-6h0m7-3h0m8 4h0m6-2h0m8 10h0m-71 0h0m-18 2h0m-12 6h0m-21 0h0m-3 0h0m-9-8h0m-866 9h0m-9-6h0m-7-1h0m-6-1h0m-34-1h0m-1 8h0m-5-8h0m-12-3h0m-12 7h0m-4 1h0m-73-3h0m-2-3h0m-8 7h0m0 1h0m5 13h0m12-6h0m9-4h0m54 7h0m6 4h0m18-12h0m4 7h0m51-2h0m39 3h0m808-3h0m11 6h0m18-6h0m30 0h0m7 6h0m52-10h0m20 10h0m8 1h0m18 0h0m-13 1h0m-1 10h0m-11-8h0m-1 4h0m-7-7h0m-7 4h0m-5 3h0m-21-1h0m-1-2h0m-18 4h0m-54-7h0m-22 9h0m-842-10h0m-49 5h0m-34 6h0m-6-5h0m-4 2h0m-41-3h0m-3-3h0m-2 5h0m-14-4h0m-1 8h0m-6-11h0m-10 5h0m-9 4h0m-9 0h0m11 8h0m4-2h0m6 1h0m2-3h0m2-1h0m18 2h0m6 0h0m5 1h0m0 1h0m10 7h0m14-8h0m14 3h0m8-6h0m29 3h0m3 8h0m7-4h0m31-1h0m11-6h0m841 7h0m8-3h0m12 6h0m46-7h0m3 1h0m4 1h0m10-1h0m3-3h0m22 4h0m2-3h0m7 10h0m7-6h0m3 1h0m2 2h0m29-4h0m13-3h0m-21 21h0m-9-8h0m-28 3h0m-2-1h0m-5 4h0m-2-8h0m-48 2h0m-5 6h0m-2-2h0m-2 0h0m-3-1h0m-11-3h0m-2 2h0m-22 2h0m-12 0h0m-825 4h0m-22-2h0m-21 3h0m-22-11h0m-17 1h0m-18-1h0m-3 10h0m-3-3h0m-28 3h0m-3-5h0m-34-2h0m-4 8h0m7 4h0m11 1h0m15-3h0m36 0h0m14 2h0m29 0h0m18 6h0m13-8h0m10 3h0m29-3h0m2 8h0m834 0h0m16-9h0m8 8h0m25 1h0m33-8h0m18-1h0m4 3h0m18 7h0m23-10h0m11 19h0m-7-8h0m-19 10h0m-28-9h0m-15 7h0m-16-3h0m-5 4h0m-3-1h0m-9-5h0m-14-1h0m-19 8h0m-1-7h0m-8 8h0m0-5h0m-11-2h0m-826 7h0m-2-2h0m-13-2h0m-34-3h0m-15 4h0m-7-4h0m-2-2h0m-1 6h0m-6-4h0m-13 6h0m-36-5h0m-16 0h0m-3 0h0m0-3h0m-12 1h0m-31 6h0m14 12h0m10-5h0m52 1h0m17 4h0m7-2h0m14-1h0m42-2h0m16 2h0m7-2h0m12-1h0m3 1h0m23 4h0m792-3h0m8-4h0m7-1h0m9 3h0m13 2h0m44 2h0m5 4h0m11-2h0m9-4h0m10 2h0m11 1h0m20-6h0m12 7h0m8 3h0m9 9h0m-24 2h0m-27-11h0m-5 2h0m-9 3h0m-8 1h0m-11 2h0m-5 3h0m-9 0h0m-19-6h0m-51 2h0m-1 3h0m-4-2h0m-805 0h0m-15-6h0m-28 1h0m-17 3h0m-42-2h0m-3 7h0m-17-2h0m-28-7h0m-12 4h0m-23-1h0m-3 0h0m-15 1h0m15 11h0m4 6h0m25-5h0m5 2h0m4 4h0m21-1h0m9-2h0m1 2h0m6-10h0m10 10h0m0-1h0m910-5h0m8 3h0m30 3h0m5-6h0m13-2h0m1 2h0m10 6h0m1-2h0m5-4h0m28 1h0m8 0h0m8-5h0m24 6h0m22 0h0m10 2h0m4-8h0m4 1h0m-12 12h0m-18 5h0m-61-4h0m-5-2h0m-19 4h0m0 5h0m-27-8h0m-5 4h0m-4 2h0m-824-7h0m-87 0h0m-4 3h0m-20 0h0m-2 5h0m-2-5h0m-29-1h0m-34 9h0m-22-7h0m-3-1h0m33 9h0m11 1h0m54 3h0m45-1h0m20-3h0m42 3h0m854 0h0m35-2h0m102 7h0m24-3h0m4 7h0m-4 2h0m-168 7h0m-874-9h0m-9 2h0m-89 5h0m-27 3h0m43 9h0m951-4h0m34-4h0m12 6h0"/>
<path stroke="#46b41c" d="M1474 1761h0m13 0h0m9-3h0m11 12h0m-8 0h0m-12 3h0m-16 1h0m-984 8h0m1007-2h0m9-3h0m-19 17h0m-12-1h0m0-4h0m-3 1h0m-1 6h0m0 1h0m-988-2h0m-11-6h0m-2 6h0m-21 6h0m17 5h0m8-4h0m3 4h0m21 5h0m983-1h0m12-9h0m25 7h0m-67 10h0m-6 2h0m-929 0h0m-6 1h0m-25-1h0m-1-5h0m-16 8h0m-29-7h0m-16 15h0m18 4h0m39-8h0m4 4h0m14-6h0m6 7h0m5-3h0m6-4h0m9 10h0m5-4h0m910 1h0m18-3h0m5-3h0m20 3h0m7 0h0m15 6h0m1-2h0m12-5h0m10 8h0m-47 2h0m-21 8h0m-3-9h0m-8 4h0m-920-1h0m-11 6h0m-6-1h0m-18 2h0m-5-10h0m-25 6h0m-10-7h0m-33 2h0m-8-1h0m-23 2h0m22 17h0m26-1h0m9 2h0m34-9h0m37 2h0m8 1h0m19 8h0m878 0h0m14-1h0m10-1h0m18-3h0m11 2h0m6-8h0m8 10h0m1-6h0m1-2h0m9 7h0m18 2h0m11-2h0m5 1h0m9 9h0m-13 2h0m-14 2h0m-45-4h0m-8-3h0m-20 7h0m-1-5h0m-6 3h0m-21-7h0m-8 7h0m-1 2h0m-20-3h0m-852-1h0m-25-5h0m-1-2h0m-3 6h0m-33 5h0m-56-3h0m-1-3h0m-17 2h0m-1-5h0m-43 14h0m20-4h0m23 3h0m32 7h0m8-2h0m23-1h0m9 3h0m13 1h0m33-5h0m3-5h0m10 0h0m5 8h0m5 2h0m3-4h0m839 2h0m1-4h0m46-3h0m11 1h0m9 5h0m28 3h0m13-5h0m10-2h0m11 0h0m9-1h0m26 5h0m0 0h0m2-2h0m-1 6h0m-19 6h0m-2-2h0m-3 6h0m-52-4h0m-5 3h0m-38-2h0m-878-1h0m-10 2h0m-7-7h0m-2 0h0m-21 8h0m-37-3h0m-8 3h0m-6-2h0m-2-2h0m-7-2h0m-1 3h0m-6 4h0m-26-6h0m-13 8h0m-8-7h0m-2 5h0m-7-8h0m-19 19h0m2-4h0m19 3h0m1-4h0m3 0h0m8-3h0m0 8h0m24 0h0m68-4h0m7-5h0m10 4h0m25 3h0m824-3h0m36-4h0m2 1h0m13 3h0m17 7h0m7-5h0m12-2h0m1 1h0m23 0h0m31-3h0m8 7h0m15-9h0m3 10h0m2-6h0m20 2h0m-35 17h0m-8-7h0m-24 5h0m-2-2h0m-5-6h0m-28 11h0m-12-10h0m-3 9h0m-7-3h0m-13-1h0m-30 1h0m-1 0h0m-1-5h0m-2 5h0m-4-7h0m-27 6h0m-8-7h0m-782 10h0m-32 2h0m-113-3h0m-10-8h0m-32 9h0m-12 10h0m16 2h0m17-8h0m0 8h0m6-7h0m28 6h0m6-5h0m0-2h0m5 1h0m11-1h0m21 8h0m2-8h0m4 6h0m12-5h0m34 3h0m27-2h0m20 3h0m773-6h0m13 0h0m47 2h0m10-1h0m8-1h0m7 6h0m9 0h0m12-7h0m32 3h0m8 1h0m3 3h0m7 3h0m3-2h0m22-5h0m15 8h0m15-7h0m7-2h0m-8 21h0m-30-2h0m-15-6h0m-21 6h0m-1 1h0m-10 0h0m-21-4h0m-16-6h0m-2 11h0m-7-11h0m-4 2h0m-7 3h0m-5-2h0m-3 8h0m-3-3h0m-6-5h0m-3 7h0m-3-8h0m-2 4h0m-22 3h0m-2-3h0m-816 4h0m-12-4h0m-16 2h0m-13-5h0m-17 4h0m-3-4h0m-2-3h0m-5 0h0m-23 2h0m-18-2h0m-50 2h0m-8 1h0m-29 9h0m-7-4h0m4 6h0m10-2h0m15 6h0m4 0h0m5 5h0m1-8h0m27 7h0m34-2h0m12 2h0m21-7h0m2 5h0m0 1h0m12-1h0m5 1h0m3-7h0m843-1h0m55-1h0m11 10h0m17-9h0m66 11h0m1-6h0m46 6h0m-6 9h0m-9-4h0m-2 0h0m-7 4h0m-14-8h0m-45 3h0m-16-4h0m-12 3h0m-5 1h0m-8 6h0m-14-9h0m-27 3h0m-27 2h0m-1 4h0m-32-5h0m-750 2h0m-33-7h0m-4 5h0m-11 5h0m-1-5h0m-6 3h0m-2-1h0m-9-2h0m-19-4h0m-1 9h0m-13 2h0m-4-12h0m0 3h0m-4 6h0m-16-4h0m-29 2h0m-2 1h0m-29 0h0m-3-5h0m-6 7h0m-1-5h0m-19 5h0m-16-4h0m22 14h0m2 0h0m37-2h0m3-3h0m11 8h0m32-3h0m38-2h0m42-1h0m8 6h0m6-5h0m0 2h0m779 0h0m10-2h0m9-1h0m3 6h0m2-4h0m12-6h0m31 5h0m5-5h0m32 4h0m11 3h0m24-7h0m5 4h0m71-1h0m-3 18h0m-44 0h0m-10 2h0m0-7h0m-22 1h0m-12 4h0m-2 1h0m-29 0h0m-1-1h0m-5 2h0m-12 0h0m-24-7h0m-30 0h0m-802 0h0m-3-3h0m-2 1h0m-35-3h0m-6 4h0m-13-2h0m-8 5h0m-21 3h0m-2-9h0m-25 6h0m-1 3h0m-32-5h0m-25 4h0m-8 1h0m-2-3h0m-16 8h0m8 8h0m18-3h0m0-2h0m11 4h0m28-2h0m14 4h0m19-6h0m4 2h0m18 0h0m38 3h0m5-1h0m31-7h0m3-1h0m782 6h0m47-1h0m2-1h0m2 0h0m7-3h0m15 1h0m19-3h0m2 3h0m2-3h0m4 3h0m6 0h0m7 6h0m15-10h0m1 8h0m10 0h0m6-6h0m20 2h0m1 1h0m32 6h0m2-9h0m3 1h0m-21 16h0m-21 1h0m-4-3h0m-11 4h0m-6-3h0m-2-2h0m-14 6h0m-9-9h0m-12 7h0m-20-4h0m-18 2h0m-5 2h0m-44 3h0m0 0h0m-849-2h0m-42-5h0m-6 3h0m-1 0h0m-26-4h0m-5 8h0m-9-6h0m-5 6h0m-15-2h0m-1-3h0m-14 1h0m-11-5h0m-10 14h0m23 4h0m8-1h0m12-7h0m0 10h0m21-10h0m11 4h0m14 2h0m4-4h0m12 1h0m5 2h0m8 2h0m6-6h0m18 6h0m1 2h0m861-6h0m17-3h0m4 2h0m3 9h0m12-6h0m5-5h0m10 9h0m6-5h0m2 8h0m7-12h0m12 2h0m4 9h0m5-2h0m6-3h0m6 5h0m22-5h0m10-5h0m9 10h0m5 1h0m3-5h0m17-7h0m-30 15h0m-23 0h0m-20 4h0m-6 1h0m-22-3h0m-14-3h0m-1 5h0m-34 3h0m-21-8h0m-5 6h0m-839-6h0m-14 9h0m-13-7h0m-8-3h0m-65 1h0m-1 9h0m-17-10h0m-14 6h0m26 16h0m4 0h0m9-3h0m3-1h0m20-1h0m8 1h0m50 1h0m4-8h0m14 6h0m846 6h0m14-7h0m5 2h0m28-5h0m51-1h0m12 6h0m1-5h0m-49 18h0m-39 2h0m-2-3h0m-940-2h0m-9 1h0m-37-5h0m-1 0h0m21 22h0m14-10h0m19 0h0m971 3h0m47-1h0"/>
<path stroke="#2a9ee2" d="M1384 1884h0m-3 9h0m-981-1h0m-14 0h0m-2 1h0m-15-2h0m36 5h0m964 8h0m15-5h0m15 3h0m-6 16h0m-5-4h0m-21-3h0m-5 9h0m-957-4h0m-15 0h0m-12 0h0m-18 15h0m38-8h0m2-2h0m1-1h0m11 8h0m972 1h0m8-9h0m18 7h0m-16 13h0m-15-5h0m-4 3h0m-3-3h0m-3 3h0m-2 0h0m-982 3h0m-10 2h0m-18-8h0m-6 20h0m42-5h0m957 1h0m34 0h0m-15 10h0m-25 6h0m-3 1h0m-954-4h0m-23 12h0m29 3h0m960 2h0m0 0h0m-977 14h0"/>
<path stroke="#e6880a" d="M1380 1712h0m16 2h0m27 6h0m-4 5h0m-1 0h0m-11-1h0m-2 1h0m-15-2h0m-24 3h0m-14 0h0m-2 1h0m-16-2h0m-8-1h0m-50 1h0m-976-1h0m-48 3h0m1 13h0m14-4h0m3 1h0m3-6h0m48-1h0m13 3h0m5 1h0m53 6h0m817 0h0m29-3h0m32 1h0m5-1h0m29 1h0m2-3h0m23 2h0m3 3h0m9-9h0m44 6h0m54 1h0m-5 9h0m-23 3h0m-5-1h0m-8 1h0m-15-8h0m-5 7h0m-9-8h0m-5 3h0m-8-2h0m-4 9h0m-9-6h0m-33 2h0m-14-5h0m-1 3h0m-5-3h0m-10 7h0m-2-1h0m-14-4h0m-20 3h0m-33 2h0m-810 0h0m-5 1h0m-41 1h0m-15 1h0m-8-11h0m-32 1h0m-14 5h0m-4 4h0m-3 0h0m-8-10h0m-62 11h0m17 1h0m29 2h0m14 4h0m12-4h0m13 0h0m21 6h0m3 0h0m16-4h0m14 6h0m6-2h0m20-6h0m9 0h0m2 0h0m27 5h0m19-1h0m796 4h0m17 1h0m1-1h0m15-10h0m3 9h0m1-1h0m8-8h0m14 1h0m45 8h0m21 1h0m11-10h0m8 2h0m15 2h0m1 6h0m10-4h0m8 3h0m2-3h0m2 2h0m3-8h0m23 1h0m6 11h0m-51 10h0m0-8h0m-16-2h0m-10 2h0m-7 2h0m-12-3h0m-6 1h0m-13-1h0m-26 6h0m-7-1h0m-1 4h0m-71-7h0m-5 2h0m-13 5h0m-2-5h0m-2-1h0m0 6h0m-2-6h0m-844 2h0m-7 2h0m-1-9h0m-44 6h0m-11 1h0m-4-3h0m-65 2h0m-17-3h0m-7 7h0m-7-3h0m-25 6h0m22 0h0m15-1h0m5 6h0m2-4h0m11 9h0m4-11h0m13 9h0m24-5h0m24 0h0m9 6h0m4 2h0m5-3h0m3-8h0m22 8h0m13 2h0m6-7h0m4 0h0m5 3h0m1-3h0m5-3h0m2 6h0m28-1h0m8 2h0m7-4h0m5 3h0m35-4h0m750 7h0m11 2h0m35-8h0m7 8h0m16-5h0m17-4h0m9 0h0m0 5h0m6 3h0m2 0h0m5-2h0m6-6h0m11 0h0m3 9h0m24-2h0m53-1h0m16-5h0m-2 18h0m-7-8h0m-23 9h0m-3-3h0m-5-8h0m-12 5h0m-19 3h0m-19 1h0m-8-2h0m-12-5h0m-5 4h0m-7 0h0m-5 3h0m-7-7h0m-10 1h0m-5 2h0m-41-5h0m-13 9h0m-8-4h0m-4-2h0m-796 3h0m-37 4h0m-12-9h0m-15 1h0m0 1h0m-52-2h0m0 11h0m-3-12h0m-9 7h0m-8 0h0m-8 1h0m-8 1h0m-1-7h0m-1 1h0m-19-3h0m-1 2h0m-12 2h0m-3 7h0m-3-4h0m-24 11h0m26 5h0m4-3h0m25 1h0m3-8h0m0 2h0m9 5h0m2-3h0m15 6h0m5-8h0m6-1h0m1 8h0m13-10h0m12 3h0m34 1h0m15 8h0m1-2h0m6-7h0m22 0h0m6-3h0m7 0h0m2 2h0m9 4h0m830-5h0m5 6h0m7 4h0m11-3h0m38-4h0m44 0h0m6-2h0m9 5h0m23-6h0m23 3h0m-42 12h0m-33 0h0m-52-2h0m-12 3h0m-3 5h0m-3-4h0m-35-1h0m-6 4h0m-7-8h0m-5 3h0m-845 7h0m0-8h0m-9 0h0m-2 0h0m0 5h0m-31 4h0m-22-8h0m-8 5h0m-6 0h0m-19-2h0m-16-1h0m-45 4h0m-13-1h0m-17-5h0m-1 8h0m11 8h0m9 4h0m19-6h0m8 0h0m7 0h0m6-2h0m11 1h0m12 6h0m4-7h0m13 0h0m8 4h0m10 0h0m20 3h0m21-8h0m26-2h0m824 8h0m42-8h0m15 4h0m46-4h0m21-1h0m15 2h0m3 4h0m3-2h0m7-1h0m2 6h0m11-2h0m13-1h0m12 9h0m-18 8h0m-27-7h0m-28-3h0m-14 8h0m-3-7h0m-3 1h0m-24 8h0m-25-3h0m-2 4h0m-4-10h0m-15 3h0m-847-1h0m-18-3h0m-8 8h0m-2-8h0m-1 9h0m-3 0h0m-4-1h0m-20-3h0m-4 0h0m-29 2h0m-1-6h0m-10 10h0m-7-8h0m-5-4h0m-8 3h0m-1 3h0m-3-1h0m-11-2h0m-38 5h0m-17-3h0m20 16h0m1-7h0m31 1h0m12-3h0m26 3h0m12 5h0m3-4h0m26 4h0m32-4h0m4 0h0m837-1h0m6 4h0m14 3h0m21-8h0m50 10h0m18-4h0m0 0h0m30 4h0m29 1h0m-4 5h0m-21 2h0m-25-3h0m-16 5h0m-6-2h0m-70 0h0m-13-3h0m-23-4h0m-854 11h0m-7-10h0m0 3h0m-20 4h0m-17-7h0m-59 7h0m-2-8h0m-8 0h0m-6 21h0m37-4h0m6 1h0m74 1h0m3 3h0m857-6h0m9-3h0m10 2h0m0-1h0m2 0h0m9 5h0m45-2h0m8 2h0m18-6h0m47 22h0m-40-8h0m0-1h0m-2 5h0m-4-3h0m-3-4h0m-29 3h0m-4 4h0m-36 4h0m-2-7h0m0-2h0m-903 6h0m-11-1h0m0-3h0m-9-1h0m-7 6h0m-9-8h0m-19 9h0m-21-7h0m-24 2h0m-7 13h0m11-4h0m6 6h0m33-4h0m17-4h0m0 9h0m4-8h0m26 5h0m12 5h0m6-12h0m897 11h0m10-4h0m10-7h0m3 8h0m32-6h0m7 4h0m41 1h0m-15 11h0m-24-6h0m0 10h0m-14-6h0m-3 2h0m-1-3h0m-14 4h0m-14 2h0m-1 3h0m-23-11h0m-12 0h0m-7 7h0m-902 2h0m-25-4h0m-7 4h0m-15 1h0m-8-7h0m-12 9h0m21 9h0m1-3h0m1-5h0m15 0h0m1 0h0m1 1h0m7-1h0m14 3h0m4-2h0m4-1h0m914 3h0m5 3h0m14 3h0m14 0h0m17-8h0m8 7h0m7 1h0m26 1h0m1-11h0m-29 23h0m-12-4h0m-8 4h0m-12-10h0m-29-1h0m-946-1h0m-22 6h0m-5-3h0m-9 5h0m-14 0h0m60 10h0m954-2h0m3-1h0m3 4h0m4 4h0m1 0h0m37 5h0m-5 7h0m-10-8h0m-12 4h0m-16 0h0m-3 1h0m-13 0h0m0-7h0m-4 5h0m-6-3h0m3 16h0m2-7h0m10 7h0m8-3h0m24 5h0m14 3h0m-3 8h0m-15-1h0m-30-7h0m-1 11h0m0-7h0m-9-2h0m-941 2h0m-20 19h0m1-9h0m5 8h0m977-8h0m5 4h0m3-6h0m4 6h0m5-2h0m21 11h0m-1025 0h0m1030 22h0"/>
<path stroke="#f6766d" d="M1383 1426h0m1 2h0m72-1h0m-77 11h0m-9 1h0m-6-6h0m-17 6h0m-949-7h0m-1 3h0m-2 0h0m-11-3h0m-5-3h0m-31 22h0m11-2h0m11 3h0m55-4h0m9-5h0m37 3h0m887 6h0m10-8h0m7-4h0m12 11h0m9 1h0m12-7h0m4 3h0m16-3h0m2 6h0m6-6h0m14 13h0m-6-2h0m-11 5h0m0 2h0m-15-3h0m-6-1h0m-14 1h0m-4 1h0m-2-6h0m-8 5h0m-13-4h0m-5-1h0m-8 5h0m-5-8h0m-4 6h0m-7 0h0m-19 6h0m-858-1h0m-2-7h0m-3 5h0m-9 3h0m-32-1h0m-39 0h0m-27-10h0m-5 8h0m-17 1h0m-3 7h0m38 7h0m4 0h0m3-6h0m14 0h0m8-4h0m1 4h0m8 6h0m10-4h0m8 1h0m6 0h0m27-8h0m2 1h0m2 5h0m25 2h0m5-8h0m829 10h0m24-8h0m9 3h0m19 2h0m23-1h0m15-6h0m30 9h0m15-1h0m12-8h0m3 7h0m0-6h0m0 20h0m-3-1h0m-16-2h0m-10 2h0m-4-5h0m-1-1h0m-8 5h0m0-6h0m-48 6h0m-15 1h0m-25 1h0m-9-7h0m-9-2h0m-1 6h0m-822 0h0m-1-5h0m-35 9h0m-29-6h0m-14-2h0m-7 4h0m0-3h0m-34-3h0m-1 5h0m-6-4h0m-9 3h0m-10 0h0m-26 0h0m-4 6h0m-7 0h0m-3-11h0m-1 0h0m-5 19h0m21 0h0m28 2h0m15-8h0m11 7h0m0 0h0m20-2h0m51 3h0m40-4h0m38 2h0m778-4h0m21 9h0m36-6h0m4 1h0m7 3h0m22-9h0m9 5h0m26 1h0m26 2h0m17 7h0m-82 4h0m-7 4h0m-41-2h0m-12-8h0m-3 8h0m-1-5h0m-6 0h0m-27-2h0m-11 9h0m-3-9h0m-818 3h0m-45 3h0m-3-1h0m-86-1h0m-5 0h0m-1-5h0m-6 4h0m-4 0h0m-16 16h0m10-6h0m2-4h0m16 7h0m29-6h0m34 1h0m5 10h0m24-10h0m23 6h0m14-7h0m16 0h0m2 10h0m40-3h0m16-1h0m5 1h0m754 1h0m3-6h0m7 4h0m24 0h0m11 0h0m4-6h0m9-1h0m3 1h0m2 3h0m3-4h0m20 4h0m14-1h0m30 2h0m0-1h0m3-4h0m48 1h0m8 18h0m-15-4h0m-25 5h0m-52 0h0m-4 1h0m-3 2h0m-41 0h0m-24-4h0m-5 3h0m-3-9h0m-5 7h0m-11-8h0m-1 5h0m-9 7h0m-757-8h0m-10 0h0m-71-1h0m-16 4h0m-13-5h0m-1 7h0m-39 2h0m-25-6h0m-2 2h0m-10 4h0m-12-1h0m-26 1h0m-15-6h0m-5 2h0m11 16h0m13-6h0m27-1h0m40 7h0m10-4h0m30-6h0m13 4h0m16-5h0m5 7h0m29 4h0m7-2h0m11-5h0m17 5h0m7-9h0m763 4h0m15-2h0m2 6h0m26 3h0m38-7h0m5 2h0m5-1h0m2 1h0m1 2h0m4-5h0m3 0h0m7 4h0m12 1h0m21 2h0m4-4h0m2-5h0m0 0h0m4 3h0m9-3h0m38 7h0m25-2h0m28 13h0m-9 2h0m-11 1h0m-10-9h0m-32 8h0m-3 2h0m-12-2h0m-57-3h0m-7 3h0m-2-7h0m-10 6h0m-8 4h0m-1-7h0m-4 5h0m-2-7h0m-13 2h0m-37-1h0m-11 0h0m-5 4h0m-21 0h0m-799 1h0m-46-9h0m-2 9h0m-17-2h0m-45-3h0m-6 7h0m-27-5h0m-10-2h0m-16-3h0m-21 5h0m-5 2h0m-12 1h0m2 5h0m7 7h0m38-7h0m6 6h0m3 3h0m1 0h0m0-8h0m10 5h0m13-3h0m73-2h0m2 8h0m5-7h0m29-3h0m2 1h0m9 7h0m28 3h0m765-1h0m23-7h0m1 3h0m66-2h0m10-4h0m5 2h0m3 4h0m49-6h0m3 7h0m22 2h0m18-9h0m25 8h0m45 15h0m-21-11h0m-30 1h0m-2 9h0m-8-10h0m-41 2h0m-2 1h0m-1 2h0m-7 5h0m-5-10h0m-4 2h0m-16 6h0m-21 2h0m-6-10h0m-5 11h0m-14-8h0m-29-2h0m-6 4h0m-18 3h0m-18-7h0m-805 8h0m-7 0h0m-15-8h0m-8-2h0m-29 1h0m-14 9h0m-75-10h0m-52 8h0m-14-2h0m-16 14h0m18-6h0m4 4h0m11 2h0m1-1h0m23-2h0m8 5h0m71-5h0m18-4h0m3 0h0m1 0h0m26 8h0m21 1h0m2-4h0m2 0h0m13-3h0m790 4h0m10-5h0m14 2h0m16 6h0m7-9h0m3 6h0m3-2h0m7 5h0m2-7h0m36-1h0m25-1h0m1 0h0m6 4h0m0-1h0m8 5h0m7 0h0m9 0h0m36 2h0m26-4h0m28 1h0m11-8h0m0 11h0m18-10h0m2 10h0m-3 1h0m-28 3h0m-72 2h0m-65 7h0m-19-6h0m-1 3h0m-6-3h0m0 0h0m-4 3h0m-2 1h0m-35-10h0m-3 2h0m-27 1h0m-6 0h0m-771-2h0m-1 6h0m-40 5h0m-10-7h0m-4-4h0m-13-1h0m-17 3h0m-1 1h0m-14-3h0m-91 9h0m-15-10h0m-12 5h0m-11-5h0m-4 4h0m-5 2h0m-6 8h0m19 9h0m22-1h0m9-4h0m27 4h0m17-9h0m21 8h0m4-5h0m86 1h0m26 0h0m0 5h0m796-1h0m41-5h0m27 7h0m5-7h0m12-2h0m6 7h0m41 1h0m4-4h0m12 3h0m1-3h0m51 3h0m11 1h0m7-2h0m21-5h0m5 2h0m-41 13h0m-10 1h0m-13-1h0m-13-5h0m-4 9h0m-18-6h0m-73-4h0m-6 9h0m-3 1h0m-2 1h0m-11-2h0m-24-3h0m-4-1h0m-3 1h0m-839 0h0m-6-2h0m-23 0h0m-23 7h0m-5-4h0m-112-6h0m-10 10h0m-19 7h0m39 4h0m2-4h0m11 3h0m5-5h0m5 4h0m30 1h0m50-8h0m23 3h0m19 7h0m6-2h0m799-1h0m24 0h0m1-4h0m22-2h0m2-1h0m2 11h0m22-9h0m3 3h0m15-2h0m4-4h0m1 4h0m4 5h0m4-1h0m16 0h0m21 3h0m11 0h0m16-5h0m13 2h0m2 1h0m8-2h0m10 0h0m28 2h0m-11 8h0m-11-2h0m-2-2h0m-6 9h0m-19-6h0m-4 7h0m-35-2h0m-15-6h0m-24 6h0m-2 2h0m-16 1h0m-8-2h0m-3-6h0m-2 3h0m-46 5h0m-30-9h0m-782 6h0m-7-1h0m-7-6h0m-20 3h0m-141-4h0m-2 5h0m-27-1h0m-2 3h0m-7 3h0m21 2h0m1 0h0m21 10h0m6-1h0m27-7h0m21-2h0m10 8h0m5 1h0m54 0h0m36-8h0m0 10h0m23-8h0m776 0h0m10 4h0m23-3h0m3-1h0m23 0h0m1 3h0m31-2h0m3 1h0m22 4h0m18 1h0m3-6h0m0 3h0m8-1h0m40 1h0m7 1h0m-22 13h0m-78 1h0m-54-8h0m-12 6h0m-39-2h0m-790 2h0m-30-6h0m-27 0h0m-9 5h0m-4-4h0m-7-1h0m-31 4h0m-12-4h0m-50-2h0m-1 2h0m0 9h0m-15-8h0m-4-4h0m6 22h0m14-5h0m16-4h0m13 8h0m97-4h0m30 3h0m864 3h0m8-10h0m35 9h0m14-2h0m12 0h0m1 1h0m6-3h0m18 2h0m22-3h0m28-4h0m-28 22h0m-3-7h0m-12 5h0m-9-7h0m-8 6h0m-11 2h0m-15-10h0m-14 10h0m-9-1h0m-13-3h0m-17 0h0m-29-5h0m-846 7h0m-25 3h0m-2-3h0m-3-6h0m-17 0h0m-21 3h0m-9-3h0m-46 3h0m-6 5h0m-32-5h0m-27 5h0m2 5h0m10 9h0m8-10h0m20 3h0m24 3h0m1-4h0m23-1h0m37-2h0m15 10h0m45-4h0m829 3h0m3-9h0m3 1h0m3 3h0m7 3h0m6-8h0m15 0h0m9 11h0m37-5h0m10-5h0m1 7h0m8 0h0m25-3h0m-66 13h0m-2-4h0m-7 3h0m-10-5h0m-30 3h0m-2 5h0m-4-3h0m-7-5h0m-10 9h0m-3-4h0m-821-1h0m-6 5h0m-12 2h0m-26-4h0m-3-2h0m-110 4h0m-43 8h0m11 3h0m2-7h0m10 9h0m41-7h0m2 2h0m9-4h0m18 6h0m6 4h0m3-10h0m14 4h0m15 5h0m5-9h0m10 10h0m23-8h0m10 6h0m848-2h0m7-4h0m0-2h0m23 2h0m-888 10h0m-4 2h0m-60-2h0m-16 2h0m-63-3h0m-2 2h0m-15 8h0m-1-7h0m-3 8h0m21 11h0m41-1h0m932-3h0m34-1h0"/>
<path stroke="#1f90ec" d="M436 1548h0m73 9h0m-109-9h0m12 24h0m14-4h0m16-3h0m96 13h0m-17 0h0m-65 2h0m-6 0h0m61 16h0m21-9h0m0 2h0m3-2h0m918 8h0m15 0h0m5-1h0m66 14h0m-79-7h0m-919 1h0m-3 4h0m-12-2h0m-5-5h0m-5 7h0m-98-4h0m1099 7h0m3 0h0m5 4h0m0 2h0m8-6h0m3 11h0m13 8h0m-3 4h0m-12-9h0m-1 8h0m-36-11h0m-39 4h0m-912 0h0m-45-1h0m-9-2h0m-19 14h0m1 2h0m25-4h0m4 10h0m11 0h0m5-4h0m2 4h0m18-7h0m884-1h0m41 4h0m6-3h0m24 5h0m1-5h0m36-2h0m1 6h0m6-1h0m7-6h0m-38 18h0m-26 3h0m-56 2h0m-896-6h0m-1-5h0m-3 5h0m-14 5h0m-12-6h0m-6 0h0m-51 14h0m24-5h0m27 0h0m10-2h0m19 2h0m11 0h0m892-1h0m24 2h0m9 3h0m55-3h0m4 1h0m3-3h0m-22 21h0m-23-3h0m-44 3h0m-1-8h0m-905 4h0m-14-4h0m-3 3h0m-5-4h0m-1 0h0m-16 2h0m-37 13h0m45-2h0m942 0h0m5 7h0m3-9h0m0 3h0m23 7h0m10-9h0m6 3h0m8-2h0m7 5h0m0-6h0m3 10h0m3 8h0m-26 2h0m-35-8h0m-14 4h0m-966 6h0m-11-5h0m-5 6h0m-5 2h0m4 2h0m13-1h0m3-1h0m1008-1h0m46 10h0m-51 6h0m-981 2h0"/>
<path stroke="#1aa3e3" d="M1238 1488h0m-990 6h0m958 0h0m43 5h0m6 4h0m-10 1h0m-6 5h0m-12-3h0m-9-4h0m-7 4h0m-2-4h0m-951-1h0m0 7h0m-13-4h0m-24 1h0m-7-3h0m-8 16h0m981-4h0m37 9h0m3 1h0m0-10h0m18 3h0m18-2h0m-7 17h0m-16-6h0m-21 9h0m-27-2h0m-947-7h0m-12 0h0m-3 7h0m-1-3h0m-44 9h0m6 7h0m14-4h0m15-4h0m14-2h0m936 11h0m6-5h0m1-4h0m14 1h0m12-1h0m15 3h0m1 0h0m1-3h0m9 9h0m4-10h0m10 15h0m-15-2h0m-1 6h0m-40 0h0m-5-2h0m-30-4h0m-911 7h0m-31 2h0m-16-10h0m-16 1h0m-6-2h0m-15 4h0m-6 17h0m7-1h0m17 3h0m0-2h0m9-3h0m35 6h0m1-6h0m2 1h0m13-4h0m955 6h0m3 0h0m12-1h0m16-6h0m8 4h0m-4 12h0m-25-5h0m-27 2h0m-18-2h0m-21 3h0m-905 6h0m-11-7h0m-21 2h0m-36 2h0m-1-2h0m-2 1h0m-8-3h0m-5-2h0m-21 13h0m19 6h0m4-3h0m11 6h0m11-9h0m26 9h0m8-6h0m11-2h0m16 2h0m905-3h0m17 6h0m12 1h0m44 0h0m7 2h0m16-6h0m-2 9h0m-11 6h0m-9 1h0m-13-1h0m-6 1h0m-39-9h0m-3 3h0m-16 4h0m-933 1h0m-5 3h0m-11-2h0m-14 0h0m-24-5h0m9 14h0m6 0h0m4-3h0m2 7h0m0-4h0m15-2h0m46 7h0m2-2h0m888-7h0m19 0h0m22 9h0m11 0h0m34-1h0m25 2h0m-6 10h0m-11-5h0m-4 5h0m-6-10h0m-15 2h0m-50 8h0m-8-3h0m-898-2h0m-34 5h0m-1-3h0m-7-5h0m-6 7h0m-49 4h0m21 8h0m26-2h0m10-4h0m20-1h0m916 8h0m42-6h0m23 0h0m8 7h0m2-3h0m-26 10h0m-8 5h0m-6-4h0m-21 2h0m-1-3h0m-964-1h0m-2 6h0m-9-3h0m-6-5h0m-27 10h0m9 9h0m11-5h0m7-3h0m30 9h0m9-8h0m4 6h0m0-7h0m7 0h0m929-1h0m30 9h0m0 1h0m25-8h0m14 16h0m-14 3h0m-2 1h0m-5-6h0m-32-2h0m-940 2h0m-17 3h0m-12 4h0m-43-4h0m-9-6h0m-5 19h0m4-2h0m29-3h0m4 0h0m13-1h0m958 4h0m6-5h0m22-2h0m39 16h0m-3 0h0m-23-2h0m-10 1h0m-2 4h0m-7 3h0m-10 0h0m-1-8h0m-943 1h0m-6 0h0m-5-2h0m-8 7h0m-44-5h0m20 20h0m4-6h0m2 4h0m19-3h0m2-2h0m14 1h0m12-1h0m938-3h0m7 5h0m21-4h0m16 5h0m1 7h0m-28 6h0m-8 2h0m-8-3h0m-948-2h0m-29 4h0m-15 0h0m-18 0h0m5 4h0m8 0h0m18 2h0m26 7h0m937-8h0m12 6h0m9 3h0m13-4h0m7-2h0m15 4h0m0 2h0m9-6h0m6 8h0m-13 2h0m-5 3h0m-9-2h0m-3 3h0m-1-3h0m-21 2h0m-962-5h0m-8 10h0m-5-4h0m-14 2h0m-6-4h0m-13 19h0m33-12h0m992 3h0m7 1h0m1 6h0m-1005 11h0m-12 2h0m1013 12h0m14-4h0m-17 6h0"/>
<path stroke="#da4679" d="M1471 2196h0m-15 13h0m1 11h0m6-4h0m9 3h0m22-6h0m35-5h0m-75 24h0"/>
</g></defs>
<use href="#dots" filter="url(#hz)" opacity="0.45"/>
<use href="#dots" filter="url(#bl)"/>
<text x="37.8" y="318.1" font-family='"Liberation Sans", Arial, Helvetica, sans-serif' font-weight="bold" font-size="15.3">Figure 2</text>
<rect x="121.6" y="327.8" width="46.4" height="17.2" fill="#fff" stroke="#111" stroke-width="1.2"/>
<text x="144.8" y="339.9" text-anchor="middle" font-family='"Liberation Sans", Arial, Helvetica, sans-serif' font-size="10" fill="#111">mobCAR</text>
<rect x="369.6" y="327" width="36.6" height="17" fill="#fff" stroke="#111" stroke-width="1.2"/>
<text x="388" y="338.8" text-anchor="middle" font-family='"Liberation Sans", Arial, Helvetica, sans-serif' font-size="10" fill="#111">ssCAR</text>
<g stroke="#c4c4c4" stroke-width="1.8" fill="none">
<path d="M19.5 340.5V651.9H265.4"/>
<path d="M268.3 651.9H514.3"/>
</g><g stroke="#b0b0b0" stroke-width="1" fill="none">
<path d="M17 401.3H19.5"/>
<path d="M17 491.3H19.5"/>
<path d="M17 581.3H19.5"/>
<path d="M45.8 652V654.5"/>
<path d="M113 652V654.5"/>
<path d="M180.2 652V654.5"/>
<path d="M247.4 652V654.5"/>
<path d="M295 652V654.5"/>
<path d="M362.2 652V654.5"/>
<path d="M429.4 652V654.5"/>
<path d="M496.6 652V654.5"/>
</g>
<g font-family='"Liberation Sans", Arial, Helvetica, sans-serif' font-size="6.5" font-weight="bold" fill="#8a8a8a" text-anchor="middle">
<text x="45.8" y="659.6">-5</text>
<text x="113" y="659.6">0</text>
<text x="180.2" y="659.6">5</text>
<text x="247.4" y="659.6">10</text>
<text x="295" y="659.6">-5</text>
<text x="362.2" y="659.6">0</text>
<text x="429.4" y="659.6">5</text>
<text x="496.6" y="659.6">10</text>
</g>
<g font-family='"Liberation Sans", Arial, Helvetica, sans-serif' font-size="6.5" font-weight="bold" fill="#8a8a8a" text-anchor="end">
<text x="17.2" y="403.7">5</text>
<text x="17.2" y="493.7">0</text>
<text x="17.2" y="583.7">-5</text>
</g>
<text transform="translate(11.6 496.7) rotate(-90)" text-anchor="middle" font-family='"Liberation Sans", Arial, Helvetica, sans-serif' font-size="6.3" font-weight="bold" fill="#555">UMAP_2</text>
<text x="266.8" y="668" text-anchor="middle" font-family='"Liberation Sans", Arial, Helvetica, sans-serif' font-size="6.1" font-weight="bold" fill="#555">UMAP_1</text>
</svg>
</body></html>
